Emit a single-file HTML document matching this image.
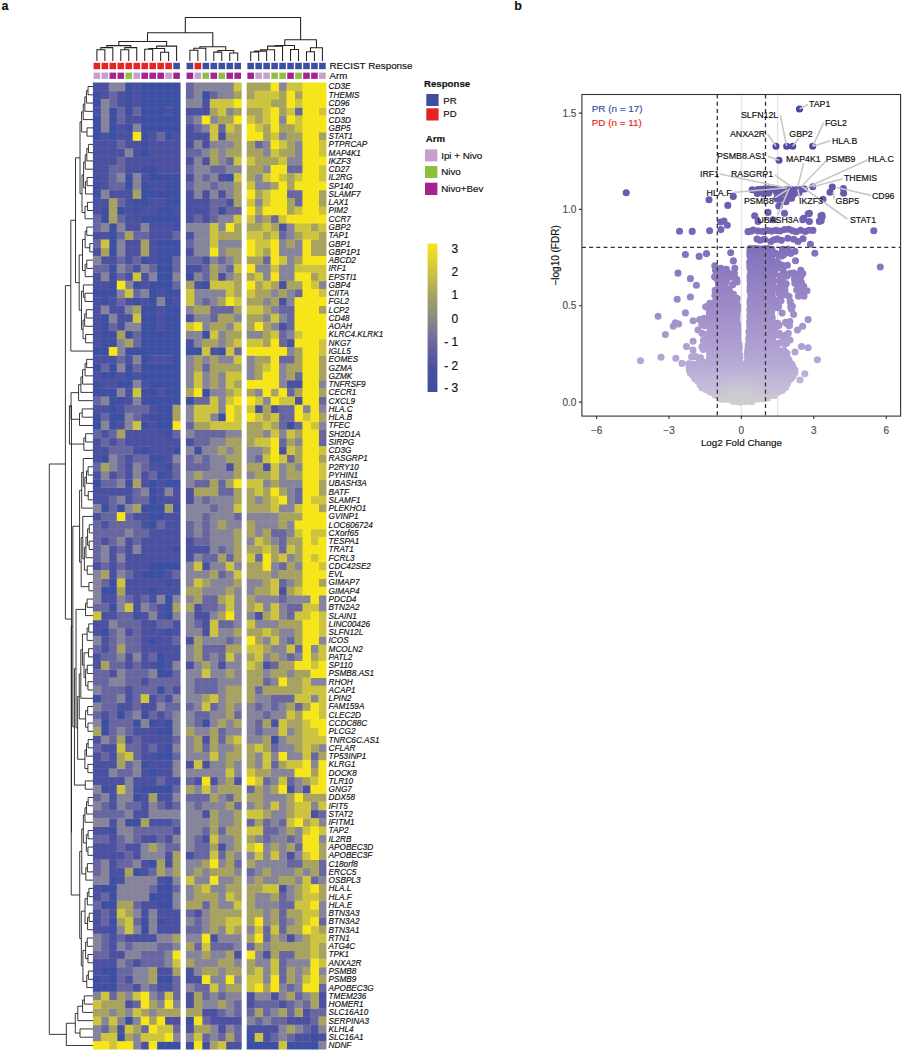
<!DOCTYPE html><html><head><meta charset="utf-8"><style>html,body{margin:0;padding:0;background:#fff}svg{display:block}text{font-family:"Liberation Sans",sans-serif}</style></head><body><svg width="904" height="1050" viewBox="0 0 904 1050"><rect width="904" height="1050" fill="#fff"/><text x="1.5" y="9.8" font-size="12.5" font-weight="bold" fill="#111" stroke="#111" stroke-width="0.16">a</text><text x="514.3" y="9.8" font-size="12.5" font-weight="bold" fill="#111" stroke="#111" stroke-width="0.16">b</text><path fill="#3d4fa2" d="M124.78 82.40h8.47v8.77h-8.47zM140.72 82.40h8.47v8.77h-8.47zM148.69 82.40h8.47v8.77h-8.47zM156.66 82.40h8.47v8.77h-8.47zM164.63 82.40h8.47v8.77h-8.47zM172.60 82.40h7.97v8.77h-7.97zM92.90 90.67h8.47v8.77h-8.47zM124.78 90.67h8.47v8.77h-8.47zM140.72 90.67h8.47v8.77h-8.47zM148.69 90.67h8.47v8.77h-8.47zM156.66 90.67h8.47v8.77h-8.47zM164.63 90.67h8.47v8.77h-8.47zM172.60 90.67h7.97v8.77h-7.97zM92.90 98.93h8.47v8.77h-8.47zM124.78 98.93h8.47v8.77h-8.47zM140.72 98.93h8.47v8.77h-8.47zM148.69 98.93h8.47v8.77h-8.47zM156.66 98.93h8.47v8.77h-8.47zM164.63 98.93h8.47v8.77h-8.47zM172.60 98.93h7.97v8.77h-7.97zM108.84 107.20h8.47v8.77h-8.47zM124.78 107.20h8.47v8.77h-8.47zM140.72 107.20h8.47v8.77h-8.47zM148.69 107.20h8.47v8.77h-8.47zM156.66 107.20h8.47v8.77h-8.47zM172.60 107.20h7.97v8.77h-7.97zM92.90 115.47h8.47v8.77h-8.47zM108.84 115.47h8.47v8.77h-8.47zM140.72 115.47h8.47v8.77h-8.47zM148.69 115.47h8.47v8.77h-8.47zM156.66 115.47h8.47v8.77h-8.47zM164.63 115.47h8.47v8.77h-8.47zM172.60 115.47h7.97v8.77h-7.97zM92.90 123.73h8.47v8.77h-8.47zM108.84 123.73h8.47v8.77h-8.47zM124.78 123.73h8.47v8.77h-8.47zM140.72 123.73h8.47v8.77h-8.47zM148.69 123.73h8.47v8.77h-8.47zM156.66 123.73h8.47v8.77h-8.47zM164.63 123.73h8.47v8.77h-8.47zM172.60 123.73h7.97v8.77h-7.97zM92.90 132.00h8.47v8.77h-8.47zM108.84 132.00h8.47v8.77h-8.47zM140.72 132.00h8.47v8.77h-8.47zM164.63 132.00h8.47v8.77h-8.47zM140.72 140.27h8.47v8.77h-8.47zM140.72 148.53h8.47v8.77h-8.47zM140.72 165.07h8.47v8.77h-8.47zM148.69 165.07h8.47v8.77h-8.47zM124.78 173.33h8.47v8.77h-8.47zM148.69 173.33h8.47v8.77h-8.47zM156.66 173.33h8.47v8.77h-8.47zM164.63 173.33h8.47v8.77h-8.47zM172.60 173.33h7.97v8.77h-7.97zM92.90 181.60h8.47v8.77h-8.47zM124.78 181.60h8.47v8.77h-8.47zM140.72 181.60h8.47v8.77h-8.47zM164.63 181.60h8.47v8.77h-8.47zM172.60 181.60h7.97v8.77h-7.97zM92.90 189.87h8.47v8.77h-8.47zM140.72 189.87h8.47v8.77h-8.47zM148.69 189.87h8.47v8.77h-8.47zM156.66 189.87h8.47v8.77h-8.47zM164.63 189.87h8.47v8.77h-8.47zM172.60 189.87h7.97v8.77h-7.97zM132.75 198.13h8.47v8.77h-8.47zM140.72 198.13h8.47v8.77h-8.47zM164.63 198.13h8.47v8.77h-8.47zM172.60 198.13h7.97v8.77h-7.97zM100.87 206.40h8.47v8.77h-8.47zM116.81 206.40h8.47v8.77h-8.47zM132.75 206.40h8.47v8.77h-8.47zM156.66 206.40h8.47v8.77h-8.47zM164.63 206.40h8.47v8.77h-8.47zM100.87 214.67h8.47v8.77h-8.47zM140.72 214.67h8.47v8.77h-8.47zM148.69 214.67h8.47v8.77h-8.47zM156.66 214.67h8.47v8.77h-8.47zM164.63 214.67h8.47v8.77h-8.47zM172.60 214.67h7.97v8.77h-7.97zM108.84 222.93h8.47v8.77h-8.47zM172.60 222.93h7.97v8.77h-7.97zM108.84 231.20h8.47v8.77h-8.47zM108.84 239.47h8.47v8.77h-8.47zM156.66 239.47h8.47v8.77h-8.47zM164.63 239.47h8.47v8.77h-8.47zM172.60 239.47h7.97v8.77h-7.97zM108.84 247.73h8.47v8.77h-8.47zM156.66 247.73h8.47v8.77h-8.47zM164.63 247.73h8.47v8.77h-8.47zM172.60 247.73h7.97v8.77h-7.97zM140.72 256.00h8.47v8.77h-8.47zM156.66 256.00h8.47v8.77h-8.47zM164.63 256.00h8.47v8.77h-8.47zM108.84 264.27h8.47v8.77h-8.47zM156.66 264.27h8.47v8.77h-8.47zM164.63 264.27h8.47v8.77h-8.47zM108.84 272.53h8.47v8.77h-8.47zM156.66 272.53h8.47v8.77h-8.47zM164.63 272.53h8.47v8.77h-8.47zM108.84 280.80h8.47v8.77h-8.47zM132.75 280.80h8.47v8.77h-8.47zM148.69 280.80h8.47v8.77h-8.47zM156.66 280.80h8.47v8.77h-8.47zM164.63 280.80h8.47v8.77h-8.47zM92.90 289.07h8.47v8.77h-8.47zM100.87 289.07h8.47v8.77h-8.47zM108.84 289.07h8.47v8.77h-8.47zM148.69 289.07h8.47v8.77h-8.47zM164.63 289.07h8.47v8.77h-8.47zM172.60 289.07h7.97v8.77h-7.97zM100.87 297.33h8.47v8.77h-8.47zM132.75 297.33h8.47v8.77h-8.47zM148.69 297.33h8.47v8.77h-8.47zM164.63 297.33h8.47v8.77h-8.47zM140.72 305.60h8.47v8.77h-8.47zM148.69 305.60h8.47v8.77h-8.47zM164.63 305.60h8.47v8.77h-8.47zM172.60 305.60h7.97v8.77h-7.97zM100.87 313.87h8.47v8.77h-8.47zM140.72 313.87h8.47v8.77h-8.47zM148.69 313.87h8.47v8.77h-8.47zM164.63 313.87h8.47v8.77h-8.47zM172.60 313.87h7.97v8.77h-7.97zM100.87 322.13h8.47v8.77h-8.47zM140.72 322.13h8.47v8.77h-8.47zM148.69 322.13h8.47v8.77h-8.47zM164.63 322.13h8.47v8.77h-8.47zM172.60 322.13h7.97v8.77h-7.97zM100.87 330.40h8.47v8.77h-8.47zM108.84 330.40h8.47v8.77h-8.47zM124.78 330.40h8.47v8.77h-8.47zM140.72 330.40h8.47v8.77h-8.47zM148.69 330.40h8.47v8.77h-8.47zM156.66 330.40h8.47v8.77h-8.47zM164.63 330.40h8.47v8.77h-8.47zM172.60 330.40h7.97v8.77h-7.97zM100.87 338.67h8.47v8.77h-8.47zM108.84 338.67h8.47v8.77h-8.47zM140.72 338.67h8.47v8.77h-8.47zM148.69 338.67h8.47v8.77h-8.47zM156.66 338.67h8.47v8.77h-8.47zM164.63 338.67h8.47v8.77h-8.47zM172.60 338.67h7.97v8.77h-7.97zM92.90 346.93h8.47v8.77h-8.47zM100.87 346.93h8.47v8.77h-8.47zM124.78 346.93h8.47v8.77h-8.47zM132.75 346.93h8.47v8.77h-8.47zM140.72 346.93h8.47v8.77h-8.47zM148.69 346.93h8.47v8.77h-8.47zM156.66 346.93h8.47v8.77h-8.47zM164.63 346.93h8.47v8.77h-8.47zM172.60 346.93h7.97v8.77h-7.97zM140.72 355.20h8.47v8.77h-8.47zM172.60 355.20h7.97v8.77h-7.97zM92.90 363.47h8.47v8.77h-8.47zM108.84 363.47h8.47v8.77h-8.47zM124.78 363.47h8.47v8.77h-8.47zM140.72 363.47h8.47v8.77h-8.47zM148.69 363.47h8.47v8.77h-8.47zM156.66 363.47h8.47v8.77h-8.47zM164.63 363.47h8.47v8.77h-8.47zM172.60 363.47h7.97v8.77h-7.97zM100.87 371.73h8.47v8.77h-8.47zM108.84 371.73h8.47v8.77h-8.47zM124.78 371.73h8.47v8.77h-8.47zM140.72 371.73h8.47v8.77h-8.47zM148.69 371.73h8.47v8.77h-8.47zM156.66 371.73h8.47v8.77h-8.47zM164.63 371.73h8.47v8.77h-8.47zM172.60 371.73h7.97v8.77h-7.97zM92.90 380.00h8.47v8.77h-8.47zM116.81 380.00h8.47v8.77h-8.47zM124.78 380.00h8.47v8.77h-8.47zM148.69 380.00h8.47v8.77h-8.47zM156.66 380.00h8.47v8.77h-8.47zM164.63 380.00h8.47v8.77h-8.47zM172.60 380.00h7.97v8.77h-7.97zM92.90 388.27h8.47v8.77h-8.47zM100.87 388.27h8.47v8.77h-8.47zM108.84 388.27h8.47v8.77h-8.47zM140.72 388.27h8.47v8.77h-8.47zM148.69 388.27h8.47v8.77h-8.47zM164.63 388.27h8.47v8.77h-8.47zM172.60 388.27h7.97v8.77h-7.97zM108.84 396.53h8.47v8.77h-8.47zM116.81 396.53h8.47v8.77h-8.47zM140.72 396.53h8.47v8.77h-8.47zM148.69 396.53h8.47v8.77h-8.47zM156.66 396.53h8.47v8.77h-8.47zM164.63 396.53h8.47v8.77h-8.47zM172.60 396.53h7.97v8.77h-7.97zM108.84 404.80h8.47v8.77h-8.47zM156.66 404.80h8.47v8.77h-8.47zM164.63 404.80h8.47v8.77h-8.47zM92.90 413.07h8.47v8.77h-8.47zM108.84 413.07h8.47v8.77h-8.47zM116.81 413.07h8.47v8.77h-8.47zM148.69 413.07h8.47v8.77h-8.47zM156.66 413.07h8.47v8.77h-8.47zM164.63 413.07h8.47v8.77h-8.47zM92.90 421.33h8.47v8.77h-8.47zM108.84 421.33h8.47v8.77h-8.47zM140.72 421.33h8.47v8.77h-8.47zM156.66 421.33h8.47v8.77h-8.47zM164.63 421.33h8.47v8.77h-8.47zM164.63 429.60h8.47v8.77h-8.47zM140.72 446.13h8.47v8.77h-8.47zM172.60 446.13h7.97v8.77h-7.97zM100.87 454.40h8.47v8.77h-8.47zM148.69 454.40h8.47v8.77h-8.47zM156.66 454.40h8.47v8.77h-8.47zM164.63 462.67h8.47v8.77h-8.47zM156.66 470.93h8.47v8.77h-8.47zM92.90 479.20h8.47v8.77h-8.47zM124.78 479.20h8.47v8.77h-8.47zM148.69 479.20h8.47v8.77h-8.47zM164.63 479.20h8.47v8.77h-8.47zM172.60 479.20h7.97v8.77h-7.97zM148.69 487.47h8.47v8.77h-8.47zM148.69 495.73h8.47v8.77h-8.47zM100.87 504.00h8.47v8.77h-8.47zM116.81 504.00h8.47v8.77h-8.47zM140.72 504.00h8.47v8.77h-8.47zM148.69 504.00h8.47v8.77h-8.47zM156.66 504.00h8.47v8.77h-8.47zM172.60 504.00h7.97v8.77h-7.97zM148.69 512.27h8.47v8.77h-8.47zM156.66 512.27h8.47v8.77h-8.47zM148.69 520.53h8.47v8.77h-8.47zM172.60 545.33h7.97v8.77h-7.97zM148.69 561.87h8.47v8.77h-8.47zM156.66 561.87h8.47v8.77h-8.47zM164.63 561.87h8.47v8.77h-8.47zM172.60 561.87h7.97v8.77h-7.97zM140.72 570.13h8.47v8.77h-8.47zM148.69 570.13h8.47v8.77h-8.47zM156.66 570.13h8.47v8.77h-8.47zM108.84 578.40h8.47v8.77h-8.47zM164.63 578.40h8.47v8.77h-8.47zM100.87 586.67h8.47v8.77h-8.47zM108.84 586.67h8.47v8.77h-8.47zM148.69 586.67h8.47v8.77h-8.47zM164.63 594.93h8.47v8.77h-8.47zM108.84 603.20h8.47v8.77h-8.47zM164.63 603.20h8.47v8.77h-8.47zM132.75 611.47h8.47v8.77h-8.47zM164.63 611.47h8.47v8.77h-8.47zM100.87 628.00h8.47v8.77h-8.47zM164.63 628.00h8.47v8.77h-8.47zM148.69 636.27h8.47v8.77h-8.47zM156.66 652.80h8.47v8.77h-8.47zM156.66 661.07h8.47v8.77h-8.47zM156.66 669.33h8.47v8.77h-8.47zM164.63 669.33h8.47v8.77h-8.47zM156.66 685.87h8.47v8.77h-8.47zM92.90 694.13h8.47v8.77h-8.47zM116.81 710.67h8.47v8.77h-8.47zM140.72 710.67h8.47v8.77h-8.47zM100.87 718.93h8.47v8.77h-8.47zM132.75 718.93h8.47v8.77h-8.47zM148.69 718.93h8.47v8.77h-8.47zM164.63 718.93h8.47v8.77h-8.47zM100.87 727.20h8.47v8.77h-8.47zM156.66 727.20h8.47v8.77h-8.47zM164.63 727.20h8.47v8.77h-8.47zM164.63 743.73h8.47v8.77h-8.47zM156.66 752.00h8.47v8.77h-8.47zM164.63 752.00h8.47v8.77h-8.47zM140.72 760.27h8.47v8.77h-8.47zM148.69 768.53h8.47v8.77h-8.47zM100.87 785.07h8.47v8.77h-8.47zM140.72 785.07h8.47v8.77h-8.47zM148.69 785.07h8.47v8.77h-8.47zM156.66 785.07h8.47v8.77h-8.47zM164.63 785.07h8.47v8.77h-8.47zM132.75 793.33h8.47v8.77h-8.47zM124.78 818.13h8.47v8.77h-8.47zM132.75 818.13h8.47v8.77h-8.47zM108.84 826.40h8.47v8.77h-8.47zM148.69 859.47h8.47v8.77h-8.47zM132.75 867.73h8.47v8.77h-8.47zM108.84 876.00h8.47v8.77h-8.47zM164.63 876.00h8.47v8.77h-8.47zM100.87 884.27h8.47v8.77h-8.47zM108.84 884.27h8.47v8.77h-8.47zM156.66 884.27h8.47v8.77h-8.47zM164.63 884.27h8.47v8.77h-8.47zM108.84 892.53h8.47v8.77h-8.47zM148.69 892.53h8.47v8.77h-8.47zM156.66 892.53h8.47v8.77h-8.47zM164.63 892.53h8.47v8.77h-8.47zM100.87 900.80h8.47v8.77h-8.47zM108.84 900.80h8.47v8.77h-8.47zM156.66 900.80h8.47v8.77h-8.47zM164.63 900.80h8.47v8.77h-8.47zM108.84 917.33h8.47v8.77h-8.47zM140.72 917.33h8.47v8.77h-8.47zM156.66 917.33h8.47v8.77h-8.47zM108.84 925.60h8.47v8.77h-8.47zM140.72 925.60h8.47v8.77h-8.47zM100.87 966.93h8.47v8.77h-8.47zM108.84 966.93h8.47v8.77h-8.47zM92.90 975.20h8.47v8.77h-8.47zM108.84 975.20h8.47v8.77h-8.47zM156.66 975.20h8.47v8.77h-8.47zM164.63 975.20h8.47v8.77h-8.47zM92.90 983.47h8.47v8.77h-8.47zM100.87 983.47h8.47v8.77h-8.47zM108.84 983.47h8.47v8.77h-8.47zM124.78 1016.53h8.47v8.77h-8.47zM116.81 1033.07h8.47v8.77h-8.47zM156.66 1041.33h8.47v8.27h-8.47zM164.63 1041.33h8.47v8.27h-8.47zM172.60 1041.33h7.97v8.27h-7.97zM201.84 90.67h8.47v8.77h-8.47zM225.75 173.33h8.47v8.77h-8.47zM217.78 206.40h8.47v8.77h-8.47zM185.90 272.53h8.47v8.77h-8.47zM201.84 280.80h8.47v8.77h-8.47zM201.84 330.40h8.47v8.77h-8.47zM185.90 346.93h8.47v8.77h-8.47zM193.87 346.93h8.47v8.77h-8.47zM217.78 346.93h8.47v8.77h-8.47zM201.84 388.27h8.47v8.77h-8.47zM185.90 396.53h8.47v8.77h-8.47zM217.78 413.07h8.47v8.77h-8.47zM193.87 446.13h8.47v8.77h-8.47zM201.84 718.93h8.47v8.77h-8.47zM185.90 1016.53h8.47v8.77h-8.47zM185.90 1041.33h8.47v8.27h-8.47zM201.84 1041.33h8.47v8.27h-8.47zM286.55 421.33h8.47v8.77h-8.47zM270.61 735.47h8.47v8.77h-8.47zM246.70 1033.07h8.47v8.77h-8.47zM310.46 1033.07h8.47v8.77h-8.47zM246.70 1041.33h8.47v8.27h-8.47zM254.67 1041.33h8.47v8.27h-8.47zM262.64 1041.33h8.47v8.27h-8.47zM270.61 1041.33h8.47v8.27h-8.47zM286.55 1041.33h8.47v8.27h-8.47zM294.52 1041.33h8.47v8.27h-8.47zM302.49 1041.33h8.47v8.27h-8.47zM310.46 1041.33h8.47v8.27h-8.47z"/><path fill="#4b50a0" d="M92.90 82.40h8.47v8.77h-8.47zM100.87 82.40h8.47v8.77h-8.47zM132.75 82.40h8.47v8.77h-8.47zM100.87 90.67h8.47v8.77h-8.47zM116.81 90.67h8.47v8.77h-8.47zM132.75 90.67h8.47v8.77h-8.47zM116.81 98.93h8.47v8.77h-8.47zM132.75 98.93h8.47v8.77h-8.47zM92.90 107.20h8.47v8.77h-8.47zM164.63 107.20h8.47v8.77h-8.47zM124.78 115.47h8.47v8.77h-8.47zM132.75 115.47h8.47v8.77h-8.47zM116.81 123.73h8.47v8.77h-8.47zM100.87 132.00h8.47v8.77h-8.47zM116.81 132.00h8.47v8.77h-8.47zM124.78 132.00h8.47v8.77h-8.47zM148.69 132.00h8.47v8.77h-8.47zM172.60 132.00h7.97v8.77h-7.97zM92.90 140.27h8.47v8.77h-8.47zM100.87 140.27h8.47v8.77h-8.47zM108.84 140.27h8.47v8.77h-8.47zM124.78 140.27h8.47v8.77h-8.47zM132.75 140.27h8.47v8.77h-8.47zM148.69 140.27h8.47v8.77h-8.47zM156.66 140.27h8.47v8.77h-8.47zM164.63 140.27h8.47v8.77h-8.47zM172.60 140.27h7.97v8.77h-7.97zM92.90 148.53h8.47v8.77h-8.47zM100.87 148.53h8.47v8.77h-8.47zM108.84 148.53h8.47v8.77h-8.47zM116.81 148.53h8.47v8.77h-8.47zM132.75 148.53h8.47v8.77h-8.47zM148.69 148.53h8.47v8.77h-8.47zM156.66 148.53h8.47v8.77h-8.47zM164.63 148.53h8.47v8.77h-8.47zM172.60 148.53h7.97v8.77h-7.97zM92.90 156.80h8.47v8.77h-8.47zM100.87 156.80h8.47v8.77h-8.47zM108.84 156.80h8.47v8.77h-8.47zM124.78 156.80h8.47v8.77h-8.47zM132.75 156.80h8.47v8.77h-8.47zM140.72 156.80h8.47v8.77h-8.47zM148.69 156.80h8.47v8.77h-8.47zM156.66 156.80h8.47v8.77h-8.47zM164.63 156.80h8.47v8.77h-8.47zM172.60 156.80h7.97v8.77h-7.97zM92.90 165.07h8.47v8.77h-8.47zM100.87 165.07h8.47v8.77h-8.47zM124.78 165.07h8.47v8.77h-8.47zM132.75 165.07h8.47v8.77h-8.47zM156.66 165.07h8.47v8.77h-8.47zM164.63 165.07h8.47v8.77h-8.47zM172.60 165.07h7.97v8.77h-7.97zM92.90 173.33h8.47v8.77h-8.47zM100.87 173.33h8.47v8.77h-8.47zM140.72 173.33h8.47v8.77h-8.47zM100.87 181.60h8.47v8.77h-8.47zM148.69 181.60h8.47v8.77h-8.47zM156.66 181.60h8.47v8.77h-8.47zM108.84 189.87h8.47v8.77h-8.47zM116.81 189.87h8.47v8.77h-8.47zM124.78 189.87h8.47v8.77h-8.47zM92.90 198.13h8.47v8.77h-8.47zM100.87 198.13h8.47v8.77h-8.47zM124.78 198.13h8.47v8.77h-8.47zM148.69 198.13h8.47v8.77h-8.47zM156.66 198.13h8.47v8.77h-8.47zM92.90 206.40h8.47v8.77h-8.47zM124.78 206.40h8.47v8.77h-8.47zM140.72 206.40h8.47v8.77h-8.47zM148.69 206.40h8.47v8.77h-8.47zM172.60 206.40h7.97v8.77h-7.97zM124.78 214.67h8.47v8.77h-8.47zM132.75 214.67h8.47v8.77h-8.47zM124.78 222.93h8.47v8.77h-8.47zM132.75 222.93h8.47v8.77h-8.47zM148.69 222.93h8.47v8.77h-8.47zM156.66 222.93h8.47v8.77h-8.47zM164.63 222.93h8.47v8.77h-8.47zM92.90 231.20h8.47v8.77h-8.47zM100.87 231.20h8.47v8.77h-8.47zM148.69 231.20h8.47v8.77h-8.47zM156.66 231.20h8.47v8.77h-8.47zM164.63 231.20h8.47v8.77h-8.47zM124.78 239.47h8.47v8.77h-8.47zM132.75 239.47h8.47v8.77h-8.47zM148.69 239.47h8.47v8.77h-8.47zM92.90 247.73h8.47v8.77h-8.47zM124.78 247.73h8.47v8.77h-8.47zM132.75 247.73h8.47v8.77h-8.47zM148.69 247.73h8.47v8.77h-8.47zM100.87 256.00h8.47v8.77h-8.47zM108.84 256.00h8.47v8.77h-8.47zM124.78 256.00h8.47v8.77h-8.47zM148.69 256.00h8.47v8.77h-8.47zM132.75 264.27h8.47v8.77h-8.47zM92.90 272.53h8.47v8.77h-8.47zM124.78 272.53h8.47v8.77h-8.47zM140.72 272.53h8.47v8.77h-8.47zM92.90 280.80h8.47v8.77h-8.47zM100.87 280.80h8.47v8.77h-8.47zM140.72 280.80h8.47v8.77h-8.47zM156.66 289.07h8.47v8.77h-8.47zM92.90 297.33h8.47v8.77h-8.47zM108.84 297.33h8.47v8.77h-8.47zM124.78 297.33h8.47v8.77h-8.47zM140.72 297.33h8.47v8.77h-8.47zM172.60 297.33h7.97v8.77h-7.97zM92.90 305.60h8.47v8.77h-8.47zM108.84 305.60h8.47v8.77h-8.47zM116.81 305.60h8.47v8.77h-8.47zM156.66 305.60h8.47v8.77h-8.47zM92.90 313.87h8.47v8.77h-8.47zM116.81 313.87h8.47v8.77h-8.47zM124.78 313.87h8.47v8.77h-8.47zM156.66 313.87h8.47v8.77h-8.47zM92.90 322.13h8.47v8.77h-8.47zM116.81 322.13h8.47v8.77h-8.47zM156.66 322.13h8.47v8.77h-8.47zM92.90 330.40h8.47v8.77h-8.47zM92.90 338.67h8.47v8.77h-8.47zM92.90 355.20h8.47v8.77h-8.47zM100.87 355.20h8.47v8.77h-8.47zM108.84 355.20h8.47v8.77h-8.47zM124.78 355.20h8.47v8.77h-8.47zM148.69 355.20h8.47v8.77h-8.47zM156.66 355.20h8.47v8.77h-8.47zM164.63 355.20h8.47v8.77h-8.47zM92.90 371.73h8.47v8.77h-8.47zM116.81 371.73h8.47v8.77h-8.47zM132.75 371.73h8.47v8.77h-8.47zM100.87 380.00h8.47v8.77h-8.47zM108.84 380.00h8.47v8.77h-8.47zM140.72 380.00h8.47v8.77h-8.47zM124.78 388.27h8.47v8.77h-8.47zM156.66 388.27h8.47v8.77h-8.47zM124.78 396.53h8.47v8.77h-8.47zM92.90 404.80h8.47v8.77h-8.47zM100.87 404.80h8.47v8.77h-8.47zM116.81 404.80h8.47v8.77h-8.47zM148.69 404.80h8.47v8.77h-8.47zM140.72 413.07h8.47v8.77h-8.47zM116.81 421.33h8.47v8.77h-8.47zM148.69 421.33h8.47v8.77h-8.47zM100.87 429.60h8.47v8.77h-8.47zM124.78 429.60h8.47v8.77h-8.47zM132.75 429.60h8.47v8.77h-8.47zM140.72 429.60h8.47v8.77h-8.47zM148.69 429.60h8.47v8.77h-8.47zM156.66 429.60h8.47v8.77h-8.47zM92.90 437.87h8.47v8.77h-8.47zM108.84 437.87h8.47v8.77h-8.47zM124.78 437.87h8.47v8.77h-8.47zM132.75 437.87h8.47v8.77h-8.47zM140.72 437.87h8.47v8.77h-8.47zM148.69 437.87h8.47v8.77h-8.47zM156.66 437.87h8.47v8.77h-8.47zM164.63 437.87h8.47v8.77h-8.47zM172.60 437.87h7.97v8.77h-7.97zM92.90 446.13h8.47v8.77h-8.47zM100.87 446.13h8.47v8.77h-8.47zM132.75 446.13h8.47v8.77h-8.47zM148.69 446.13h8.47v8.77h-8.47zM156.66 446.13h8.47v8.77h-8.47zM164.63 446.13h8.47v8.77h-8.47zM92.90 454.40h8.47v8.77h-8.47zM124.78 454.40h8.47v8.77h-8.47zM164.63 454.40h8.47v8.77h-8.47zM124.78 462.67h8.47v8.77h-8.47zM148.69 462.67h8.47v8.77h-8.47zM156.66 462.67h8.47v8.77h-8.47zM92.90 470.93h8.47v8.77h-8.47zM108.84 470.93h8.47v8.77h-8.47zM124.78 470.93h8.47v8.77h-8.47zM140.72 470.93h8.47v8.77h-8.47zM164.63 470.93h8.47v8.77h-8.47zM140.72 479.20h8.47v8.77h-8.47zM156.66 479.20h8.47v8.77h-8.47zM92.90 487.47h8.47v8.77h-8.47zM100.87 487.47h8.47v8.77h-8.47zM108.84 487.47h8.47v8.77h-8.47zM116.81 487.47h8.47v8.77h-8.47zM124.78 487.47h8.47v8.77h-8.47zM156.66 487.47h8.47v8.77h-8.47zM172.60 487.47h7.97v8.77h-7.97zM92.90 495.73h8.47v8.77h-8.47zM100.87 495.73h8.47v8.77h-8.47zM124.78 495.73h8.47v8.77h-8.47zM156.66 495.73h8.47v8.77h-8.47zM164.63 495.73h8.47v8.77h-8.47zM172.60 495.73h7.97v8.77h-7.97zM92.90 512.27h8.47v8.77h-8.47zM132.75 512.27h8.47v8.77h-8.47zM140.72 512.27h8.47v8.77h-8.47zM164.63 512.27h8.47v8.77h-8.47zM172.60 512.27h7.97v8.77h-7.97zM100.87 520.53h8.47v8.77h-8.47zM140.72 520.53h8.47v8.77h-8.47zM164.63 520.53h8.47v8.77h-8.47zM172.60 520.53h7.97v8.77h-7.97zM148.69 528.80h8.47v8.77h-8.47zM156.66 528.80h8.47v8.77h-8.47zM164.63 528.80h8.47v8.77h-8.47zM172.60 528.80h7.97v8.77h-7.97zM100.87 537.07h8.47v8.77h-8.47zM124.78 537.07h8.47v8.77h-8.47zM140.72 537.07h8.47v8.77h-8.47zM148.69 537.07h8.47v8.77h-8.47zM156.66 537.07h8.47v8.77h-8.47zM164.63 537.07h8.47v8.77h-8.47zM172.60 537.07h7.97v8.77h-7.97zM108.84 545.33h8.47v8.77h-8.47zM124.78 545.33h8.47v8.77h-8.47zM140.72 545.33h8.47v8.77h-8.47zM148.69 545.33h8.47v8.77h-8.47zM156.66 545.33h8.47v8.77h-8.47zM164.63 545.33h8.47v8.77h-8.47zM108.84 553.60h8.47v8.77h-8.47zM124.78 553.60h8.47v8.77h-8.47zM132.75 553.60h8.47v8.77h-8.47zM140.72 553.60h8.47v8.77h-8.47zM148.69 553.60h8.47v8.77h-8.47zM156.66 553.60h8.47v8.77h-8.47zM164.63 553.60h8.47v8.77h-8.47zM172.60 553.60h7.97v8.77h-7.97zM92.90 561.87h8.47v8.77h-8.47zM108.84 561.87h8.47v8.77h-8.47zM124.78 561.87h8.47v8.77h-8.47zM132.75 561.87h8.47v8.77h-8.47zM140.72 561.87h8.47v8.77h-8.47zM108.84 570.13h8.47v8.77h-8.47zM132.75 570.13h8.47v8.77h-8.47zM164.63 570.13h8.47v8.77h-8.47zM124.78 578.40h8.47v8.77h-8.47zM132.75 578.40h8.47v8.77h-8.47zM140.72 578.40h8.47v8.77h-8.47zM148.69 578.40h8.47v8.77h-8.47zM156.66 578.40h8.47v8.77h-8.47zM172.60 578.40h7.97v8.77h-7.97zM124.78 586.67h8.47v8.77h-8.47zM132.75 586.67h8.47v8.77h-8.47zM140.72 586.67h8.47v8.77h-8.47zM156.66 586.67h8.47v8.77h-8.47zM164.63 586.67h8.47v8.77h-8.47zM172.60 586.67h7.97v8.77h-7.97zM100.87 594.93h8.47v8.77h-8.47zM108.84 594.93h8.47v8.77h-8.47zM132.75 594.93h8.47v8.77h-8.47zM148.69 594.93h8.47v8.77h-8.47zM132.75 603.20h8.47v8.77h-8.47zM156.66 603.20h8.47v8.77h-8.47zM100.87 611.47h8.47v8.77h-8.47zM108.84 611.47h8.47v8.77h-8.47zM140.72 611.47h8.47v8.77h-8.47zM156.66 611.47h8.47v8.77h-8.47zM92.90 619.73h8.47v8.77h-8.47zM100.87 619.73h8.47v8.77h-8.47zM140.72 619.73h8.47v8.77h-8.47zM148.69 619.73h8.47v8.77h-8.47zM172.60 619.73h7.97v8.77h-7.97zM92.90 628.00h8.47v8.77h-8.47zM124.78 628.00h8.47v8.77h-8.47zM140.72 628.00h8.47v8.77h-8.47zM148.69 628.00h8.47v8.77h-8.47zM156.66 628.00h8.47v8.77h-8.47zM172.60 628.00h7.97v8.77h-7.97zM100.87 636.27h8.47v8.77h-8.47zM140.72 636.27h8.47v8.77h-8.47zM156.66 636.27h8.47v8.77h-8.47zM164.63 636.27h8.47v8.77h-8.47zM100.87 644.53h8.47v8.77h-8.47zM140.72 644.53h8.47v8.77h-8.47zM148.69 644.53h8.47v8.77h-8.47zM156.66 644.53h8.47v8.77h-8.47zM164.63 644.53h8.47v8.77h-8.47zM172.60 644.53h7.97v8.77h-7.97zM92.90 652.80h8.47v8.77h-8.47zM124.78 652.80h8.47v8.77h-8.47zM140.72 652.80h8.47v8.77h-8.47zM164.63 652.80h8.47v8.77h-8.47zM172.60 652.80h7.97v8.77h-7.97zM92.90 661.07h8.47v8.77h-8.47zM124.78 661.07h8.47v8.77h-8.47zM140.72 661.07h8.47v8.77h-8.47zM148.69 661.07h8.47v8.77h-8.47zM164.63 661.07h8.47v8.77h-8.47zM108.84 669.33h8.47v8.77h-8.47zM140.72 677.60h8.47v8.77h-8.47zM124.78 685.87h8.47v8.77h-8.47zM172.60 685.87h7.97v8.77h-7.97zM124.78 694.13h8.47v8.77h-8.47zM148.69 694.13h8.47v8.77h-8.47zM164.63 694.13h8.47v8.77h-8.47zM116.81 702.40h8.47v8.77h-8.47zM124.78 702.40h8.47v8.77h-8.47zM140.72 702.40h8.47v8.77h-8.47zM148.69 702.40h8.47v8.77h-8.47zM100.87 710.67h8.47v8.77h-8.47zM156.66 710.67h8.47v8.77h-8.47zM156.66 718.93h8.47v8.77h-8.47zM132.75 727.20h8.47v8.77h-8.47zM140.72 727.20h8.47v8.77h-8.47zM148.69 727.20h8.47v8.77h-8.47zM92.90 735.47h8.47v8.77h-8.47zM124.78 735.47h8.47v8.77h-8.47zM140.72 735.47h8.47v8.77h-8.47zM148.69 735.47h8.47v8.77h-8.47zM156.66 735.47h8.47v8.77h-8.47zM164.63 735.47h8.47v8.77h-8.47zM100.87 743.73h8.47v8.77h-8.47zM108.84 743.73h8.47v8.77h-8.47zM140.72 743.73h8.47v8.77h-8.47zM156.66 743.73h8.47v8.77h-8.47zM92.90 752.00h8.47v8.77h-8.47zM108.84 752.00h8.47v8.77h-8.47zM140.72 752.00h8.47v8.77h-8.47zM148.69 752.00h8.47v8.77h-8.47zM92.90 760.27h8.47v8.77h-8.47zM100.87 760.27h8.47v8.77h-8.47zM108.84 760.27h8.47v8.77h-8.47zM148.69 760.27h8.47v8.77h-8.47zM156.66 760.27h8.47v8.77h-8.47zM164.63 760.27h8.47v8.77h-8.47zM92.90 768.53h8.47v8.77h-8.47zM100.87 768.53h8.47v8.77h-8.47zM140.72 768.53h8.47v8.77h-8.47zM156.66 768.53h8.47v8.77h-8.47zM164.63 768.53h8.47v8.77h-8.47zM92.90 776.80h8.47v8.77h-8.47zM100.87 776.80h8.47v8.77h-8.47zM108.84 776.80h8.47v8.77h-8.47zM116.81 776.80h8.47v8.77h-8.47zM132.75 776.80h8.47v8.77h-8.47zM140.72 776.80h8.47v8.77h-8.47zM148.69 776.80h8.47v8.77h-8.47zM164.63 776.80h8.47v8.77h-8.47zM172.60 776.80h7.97v8.77h-7.97zM108.84 785.07h8.47v8.77h-8.47zM132.75 785.07h8.47v8.77h-8.47zM108.84 793.33h8.47v8.77h-8.47zM140.72 793.33h8.47v8.77h-8.47zM156.66 793.33h8.47v8.77h-8.47zM164.63 793.33h8.47v8.77h-8.47zM108.84 801.60h8.47v8.77h-8.47zM140.72 801.60h8.47v8.77h-8.47zM164.63 801.60h8.47v8.77h-8.47zM132.75 809.87h8.47v8.77h-8.47zM140.72 809.87h8.47v8.77h-8.47zM108.84 818.13h8.47v8.77h-8.47zM148.69 818.13h8.47v8.77h-8.47zM156.66 818.13h8.47v8.77h-8.47zM164.63 818.13h8.47v8.77h-8.47zM92.90 826.40h8.47v8.77h-8.47zM100.87 826.40h8.47v8.77h-8.47zM172.60 826.40h7.97v8.77h-7.97zM108.84 834.67h8.47v8.77h-8.47zM140.72 834.67h8.47v8.77h-8.47zM148.69 834.67h8.47v8.77h-8.47zM164.63 834.67h8.47v8.77h-8.47zM92.90 842.93h8.47v8.77h-8.47zM100.87 842.93h8.47v8.77h-8.47zM108.84 842.93h8.47v8.77h-8.47zM124.78 842.93h8.47v8.77h-8.47zM132.75 842.93h8.47v8.77h-8.47zM92.90 851.20h8.47v8.77h-8.47zM100.87 851.20h8.47v8.77h-8.47zM108.84 851.20h8.47v8.77h-8.47zM116.81 851.20h8.47v8.77h-8.47zM132.75 851.20h8.47v8.77h-8.47zM164.63 851.20h8.47v8.77h-8.47zM108.84 859.47h8.47v8.77h-8.47zM140.72 859.47h8.47v8.77h-8.47zM164.63 859.47h8.47v8.77h-8.47zM108.84 867.73h8.47v8.77h-8.47zM116.81 867.73h8.47v8.77h-8.47zM140.72 867.73h8.47v8.77h-8.47zM116.81 876.00h8.47v8.77h-8.47zM156.66 876.00h8.47v8.77h-8.47zM92.90 884.27h8.47v8.77h-8.47zM92.90 892.53h8.47v8.77h-8.47zM140.72 900.80h8.47v8.77h-8.47zM148.69 900.80h8.47v8.77h-8.47zM92.90 909.07h8.47v8.77h-8.47zM108.84 909.07h8.47v8.77h-8.47zM140.72 909.07h8.47v8.77h-8.47zM156.66 909.07h8.47v8.77h-8.47zM164.63 909.07h8.47v8.77h-8.47zM172.60 909.07h7.97v8.77h-7.97zM92.90 917.33h8.47v8.77h-8.47zM164.63 917.33h8.47v8.77h-8.47zM172.60 917.33h7.97v8.77h-7.97zM92.90 925.60h8.47v8.77h-8.47zM100.87 925.60h8.47v8.77h-8.47zM156.66 925.60h8.47v8.77h-8.47zM164.63 925.60h8.47v8.77h-8.47zM172.60 925.60h7.97v8.77h-7.97zM108.84 933.87h8.47v8.77h-8.47zM124.78 933.87h8.47v8.77h-8.47zM132.75 933.87h8.47v8.77h-8.47zM140.72 933.87h8.47v8.77h-8.47zM148.69 933.87h8.47v8.77h-8.47zM108.84 942.13h8.47v8.77h-8.47zM108.84 950.40h8.47v8.77h-8.47zM116.81 950.40h8.47v8.77h-8.47zM92.90 958.67h8.47v8.77h-8.47zM100.87 958.67h8.47v8.77h-8.47zM108.84 958.67h8.47v8.77h-8.47zM132.75 958.67h8.47v8.77h-8.47zM92.90 966.93h8.47v8.77h-8.47zM156.66 966.93h8.47v8.77h-8.47zM164.63 966.93h8.47v8.77h-8.47zM100.87 975.20h8.47v8.77h-8.47zM124.78 975.20h8.47v8.77h-8.47zM132.75 983.47h8.47v8.77h-8.47zM156.66 983.47h8.47v8.77h-8.47zM164.63 983.47h8.47v8.77h-8.47zM124.78 1000.00h8.47v8.77h-8.47zM164.63 1016.53h8.47v8.77h-8.47zM172.60 1016.53h7.97v8.77h-7.97zM116.81 1024.80h8.47v8.77h-8.47zM140.72 1041.33h8.47v8.27h-8.47zM201.84 98.93h8.47v8.77h-8.47zM185.90 107.20h8.47v8.77h-8.47zM193.87 107.20h8.47v8.77h-8.47zM201.84 107.20h8.47v8.77h-8.47zM185.90 123.73h8.47v8.77h-8.47zM185.90 132.00h8.47v8.77h-8.47zM193.87 132.00h8.47v8.77h-8.47zM201.84 132.00h8.47v8.77h-8.47zM217.78 132.00h8.47v8.77h-8.47zM185.90 140.27h8.47v8.77h-8.47zM201.84 140.27h8.47v8.77h-8.47zM185.90 156.80h8.47v8.77h-8.47zM201.84 156.80h8.47v8.77h-8.47zM185.90 173.33h8.47v8.77h-8.47zM217.78 173.33h8.47v8.77h-8.47zM185.90 189.87h8.47v8.77h-8.47zM201.84 189.87h8.47v8.77h-8.47zM217.78 189.87h8.47v8.77h-8.47zM185.90 198.13h8.47v8.77h-8.47zM193.87 198.13h8.47v8.77h-8.47zM201.84 198.13h8.47v8.77h-8.47zM225.75 198.13h8.47v8.77h-8.47zM185.90 206.40h8.47v8.77h-8.47zM193.87 206.40h8.47v8.77h-8.47zM201.84 206.40h8.47v8.77h-8.47zM185.90 214.67h8.47v8.77h-8.47zM201.84 214.67h8.47v8.77h-8.47zM185.90 231.20h8.47v8.77h-8.47zM185.90 247.73h8.47v8.77h-8.47zM201.84 256.00h8.47v8.77h-8.47zM185.90 264.27h8.47v8.77h-8.47zM193.87 264.27h8.47v8.77h-8.47zM217.78 272.53h8.47v8.77h-8.47zM193.87 280.80h8.47v8.77h-8.47zM185.90 313.87h8.47v8.77h-8.47zM185.90 338.67h8.47v8.77h-8.47zM209.81 346.93h8.47v8.77h-8.47zM185.90 437.87h8.47v8.77h-8.47zM225.75 462.67h8.47v8.77h-8.47zM185.90 487.47h8.47v8.77h-8.47zM185.90 495.73h8.47v8.77h-8.47zM185.90 537.07h8.47v8.77h-8.47zM185.90 545.33h8.47v8.77h-8.47zM193.87 545.33h8.47v8.77h-8.47zM201.84 545.33h8.47v8.77h-8.47zM185.90 553.60h8.47v8.77h-8.47zM201.84 561.87h8.47v8.77h-8.47zM193.87 603.20h8.47v8.77h-8.47zM193.87 611.47h8.47v8.77h-8.47zM201.84 611.47h8.47v8.77h-8.47zM201.84 619.73h8.47v8.77h-8.47zM201.84 628.00h8.47v8.77h-8.47zM185.90 636.27h8.47v8.77h-8.47zM185.90 661.07h8.47v8.77h-8.47zM217.78 661.07h8.47v8.77h-8.47zM201.84 735.47h8.47v8.77h-8.47zM185.90 760.27h8.47v8.77h-8.47zM201.84 760.27h8.47v8.77h-8.47zM193.87 776.80h8.47v8.77h-8.47zM209.81 776.80h8.47v8.77h-8.47zM233.72 776.80h7.97v8.77h-7.97zM201.84 809.87h8.47v8.77h-8.47zM201.84 834.67h8.47v8.77h-8.47zM217.78 842.93h8.47v8.77h-8.47zM185.90 851.20h8.47v8.77h-8.47zM193.87 909.07h8.47v8.77h-8.47zM209.81 933.87h8.47v8.77h-8.47zM233.72 950.40h7.97v8.77h-7.97zM185.90 966.93h8.47v8.77h-8.47zM185.90 975.20h8.47v8.77h-8.47zM193.87 975.20h8.47v8.77h-8.47zM185.90 991.73h8.47v8.77h-8.47zM185.90 1000.00h8.47v8.77h-8.47zM201.84 1008.27h8.47v8.77h-8.47zM209.81 1008.27h8.47v8.77h-8.47zM209.81 1016.53h8.47v8.77h-8.47zM217.78 1016.53h8.47v8.77h-8.47zM225.75 1016.53h8.47v8.77h-8.47zM233.72 1016.53h7.97v8.77h-7.97zM185.90 1024.80h8.47v8.77h-8.47zM217.78 1024.80h8.47v8.77h-8.47zM225.75 1041.33h8.47v8.27h-8.47zM233.72 1041.33h7.97v8.27h-7.97zM278.58 222.93h8.47v8.77h-8.47zM278.58 280.80h8.47v8.77h-8.47zM278.58 297.33h8.47v8.77h-8.47zM278.58 322.13h8.47v8.77h-8.47zM286.55 338.67h8.47v8.77h-8.47zM286.55 380.00h8.47v8.77h-8.47zM294.52 380.00h8.47v8.77h-8.47zM294.52 396.53h8.47v8.77h-8.47zM254.67 404.80h8.47v8.77h-8.47zM270.61 404.80h8.47v8.77h-8.47zM278.58 446.13h8.47v8.77h-8.47zM262.64 462.67h8.47v8.77h-8.47zM278.58 586.67h8.47v8.77h-8.47zM254.67 611.47h8.47v8.77h-8.47zM262.64 661.07h8.47v8.77h-8.47zM270.61 718.93h8.47v8.77h-8.47zM286.55 785.07h8.47v8.77h-8.47zM302.49 785.07h8.47v8.77h-8.47zM310.46 809.87h8.47v8.77h-8.47zM286.55 851.20h8.47v8.77h-8.47zM278.58 884.27h8.47v8.77h-8.47zM286.55 933.87h8.47v8.77h-8.47zM262.64 950.40h8.47v8.77h-8.47zM246.70 991.73h8.47v8.77h-8.47zM270.61 991.73h8.47v8.77h-8.47zM318.43 991.73h7.97v8.77h-7.97zM246.70 1000.00h8.47v8.77h-8.47zM278.58 1000.00h8.47v8.77h-8.47zM318.43 1000.00h7.97v8.77h-7.97zM302.49 1008.27h8.47v8.77h-8.47zM286.55 1016.53h8.47v8.77h-8.47zM294.52 1016.53h8.47v8.77h-8.47zM302.49 1016.53h8.47v8.77h-8.47zM246.70 1024.80h8.47v8.77h-8.47zM254.67 1024.80h8.47v8.77h-8.47zM262.64 1024.80h8.47v8.77h-8.47zM270.61 1024.80h8.47v8.77h-8.47zM310.46 1024.80h8.47v8.77h-8.47zM262.64 1033.07h8.47v8.77h-8.47zM294.52 1033.07h8.47v8.77h-8.47zM302.49 1033.07h8.47v8.77h-8.47zM318.43 1033.07h7.97v8.77h-7.97z"/><path fill="#6866a0" d="M108.84 90.67h8.47v8.77h-8.47zM108.84 98.93h8.47v8.77h-8.47zM116.81 107.20h8.47v8.77h-8.47zM132.75 107.20h8.47v8.77h-8.47zM116.81 115.47h8.47v8.77h-8.47zM156.66 132.00h8.47v8.77h-8.47zM116.81 140.27h8.47v8.77h-8.47zM116.81 156.80h8.47v8.77h-8.47zM108.84 165.07h8.47v8.77h-8.47zM116.81 165.07h8.47v8.77h-8.47zM108.84 173.33h8.47v8.77h-8.47zM108.84 181.60h8.47v8.77h-8.47zM116.81 181.60h8.47v8.77h-8.47zM116.81 198.13h8.47v8.77h-8.47zM92.90 214.67h8.47v8.77h-8.47zM116.81 214.67h8.47v8.77h-8.47zM92.90 222.93h8.47v8.77h-8.47zM116.81 231.20h8.47v8.77h-8.47zM132.75 231.20h8.47v8.77h-8.47zM140.72 231.20h8.47v8.77h-8.47zM172.60 231.20h7.97v8.77h-7.97zM92.90 239.47h8.47v8.77h-8.47zM116.81 256.00h8.47v8.77h-8.47zM132.75 256.00h8.47v8.77h-8.47zM172.60 256.00h7.97v8.77h-7.97zM92.90 264.27h8.47v8.77h-8.47zM100.87 264.27h8.47v8.77h-8.47zM124.78 264.27h8.47v8.77h-8.47zM148.69 264.27h8.47v8.77h-8.47zM172.60 264.27h7.97v8.77h-7.97zM116.81 272.53h8.47v8.77h-8.47zM172.60 280.80h7.97v8.77h-7.97zM132.75 289.07h8.47v8.77h-8.47zM116.81 297.33h8.47v8.77h-8.47zM108.84 322.13h8.47v8.77h-8.47zM132.75 330.40h8.47v8.77h-8.47zM132.75 338.67h8.47v8.77h-8.47zM116.81 355.20h8.47v8.77h-8.47zM100.87 363.47h8.47v8.77h-8.47zM132.75 363.47h8.47v8.77h-8.47zM92.90 396.53h8.47v8.77h-8.47zM124.78 404.80h8.47v8.77h-8.47zM132.75 404.80h8.47v8.77h-8.47zM140.72 404.80h8.47v8.77h-8.47zM100.87 413.07h8.47v8.77h-8.47zM132.75 413.07h8.47v8.77h-8.47zM92.90 429.60h8.47v8.77h-8.47zM108.84 429.60h8.47v8.77h-8.47zM172.60 429.60h7.97v8.77h-7.97zM100.87 437.87h8.47v8.77h-8.47zM116.81 437.87h8.47v8.77h-8.47zM108.84 446.13h8.47v8.77h-8.47zM116.81 446.13h8.47v8.77h-8.47zM124.78 446.13h8.47v8.77h-8.47zM116.81 454.40h8.47v8.77h-8.47zM132.75 454.40h8.47v8.77h-8.47zM140.72 454.40h8.47v8.77h-8.47zM92.90 462.67h8.47v8.77h-8.47zM116.81 462.67h8.47v8.77h-8.47zM140.72 462.67h8.47v8.77h-8.47zM172.60 462.67h7.97v8.77h-7.97zM116.81 470.93h8.47v8.77h-8.47zM148.69 470.93h8.47v8.77h-8.47zM172.60 470.93h7.97v8.77h-7.97zM100.87 479.20h8.47v8.77h-8.47zM108.84 479.20h8.47v8.77h-8.47zM132.75 487.47h8.47v8.77h-8.47zM108.84 495.73h8.47v8.77h-8.47zM132.75 495.73h8.47v8.77h-8.47zM140.72 495.73h8.47v8.77h-8.47zM108.84 504.00h8.47v8.77h-8.47zM100.87 512.27h8.47v8.77h-8.47zM108.84 512.27h8.47v8.77h-8.47zM124.78 512.27h8.47v8.77h-8.47zM92.90 520.53h8.47v8.77h-8.47zM108.84 520.53h8.47v8.77h-8.47zM116.81 520.53h8.47v8.77h-8.47zM124.78 520.53h8.47v8.77h-8.47zM132.75 520.53h8.47v8.77h-8.47zM156.66 520.53h8.47v8.77h-8.47zM92.90 528.80h8.47v8.77h-8.47zM100.87 528.80h8.47v8.77h-8.47zM108.84 528.80h8.47v8.77h-8.47zM116.81 528.80h8.47v8.77h-8.47zM132.75 528.80h8.47v8.77h-8.47zM140.72 528.80h8.47v8.77h-8.47zM92.90 537.07h8.47v8.77h-8.47zM108.84 537.07h8.47v8.77h-8.47zM132.75 537.07h8.47v8.77h-8.47zM92.90 545.33h8.47v8.77h-8.47zM116.81 545.33h8.47v8.77h-8.47zM92.90 553.60h8.47v8.77h-8.47zM100.87 561.87h8.47v8.77h-8.47zM116.81 561.87h8.47v8.77h-8.47zM124.78 570.13h8.47v8.77h-8.47zM172.60 570.13h7.97v8.77h-7.97zM100.87 578.40h8.47v8.77h-8.47zM124.78 594.93h8.47v8.77h-8.47zM140.72 594.93h8.47v8.77h-8.47zM92.90 603.20h8.47v8.77h-8.47zM100.87 603.20h8.47v8.77h-8.47zM148.69 603.20h8.47v8.77h-8.47zM116.81 611.47h8.47v8.77h-8.47zM124.78 611.47h8.47v8.77h-8.47zM116.81 619.73h8.47v8.77h-8.47zM124.78 619.73h8.47v8.77h-8.47zM132.75 619.73h8.47v8.77h-8.47zM156.66 619.73h8.47v8.77h-8.47zM164.63 619.73h8.47v8.77h-8.47zM108.84 628.00h8.47v8.77h-8.47zM132.75 628.00h8.47v8.77h-8.47zM108.84 636.27h8.47v8.77h-8.47zM124.78 636.27h8.47v8.77h-8.47zM132.75 636.27h8.47v8.77h-8.47zM172.60 636.27h7.97v8.77h-7.97zM92.90 644.53h8.47v8.77h-8.47zM108.84 644.53h8.47v8.77h-8.47zM124.78 644.53h8.47v8.77h-8.47zM132.75 644.53h8.47v8.77h-8.47zM100.87 652.80h8.47v8.77h-8.47zM108.84 652.80h8.47v8.77h-8.47zM148.69 652.80h8.47v8.77h-8.47zM108.84 661.07h8.47v8.77h-8.47zM116.81 661.07h8.47v8.77h-8.47zM132.75 661.07h8.47v8.77h-8.47zM92.90 669.33h8.47v8.77h-8.47zM100.87 669.33h8.47v8.77h-8.47zM124.78 669.33h8.47v8.77h-8.47zM132.75 669.33h8.47v8.77h-8.47zM140.72 669.33h8.47v8.77h-8.47zM172.60 669.33h7.97v8.77h-7.97zM92.90 677.60h8.47v8.77h-8.47zM100.87 677.60h8.47v8.77h-8.47zM124.78 677.60h8.47v8.77h-8.47zM132.75 677.60h8.47v8.77h-8.47zM148.69 677.60h8.47v8.77h-8.47zM156.66 677.60h8.47v8.77h-8.47zM164.63 677.60h8.47v8.77h-8.47zM172.60 677.60h7.97v8.77h-7.97zM100.87 685.87h8.47v8.77h-8.47zM108.84 685.87h8.47v8.77h-8.47zM116.81 685.87h8.47v8.77h-8.47zM132.75 685.87h8.47v8.77h-8.47zM140.72 685.87h8.47v8.77h-8.47zM148.69 685.87h8.47v8.77h-8.47zM164.63 685.87h8.47v8.77h-8.47zM100.87 694.13h8.47v8.77h-8.47zM108.84 694.13h8.47v8.77h-8.47zM132.75 694.13h8.47v8.77h-8.47zM156.66 694.13h8.47v8.77h-8.47zM100.87 702.40h8.47v8.77h-8.47zM108.84 702.40h8.47v8.77h-8.47zM132.75 702.40h8.47v8.77h-8.47zM164.63 702.40h8.47v8.77h-8.47zM172.60 702.40h7.97v8.77h-7.97zM92.90 710.67h8.47v8.77h-8.47zM108.84 710.67h8.47v8.77h-8.47zM124.78 710.67h8.47v8.77h-8.47zM148.69 710.67h8.47v8.77h-8.47zM164.63 710.67h8.47v8.77h-8.47zM108.84 718.93h8.47v8.77h-8.47zM116.81 718.93h8.47v8.77h-8.47zM124.78 718.93h8.47v8.77h-8.47zM108.84 727.20h8.47v8.77h-8.47zM124.78 727.20h8.47v8.77h-8.47zM108.84 735.47h8.47v8.77h-8.47zM132.75 735.47h8.47v8.77h-8.47zM172.60 735.47h7.97v8.77h-7.97zM92.90 743.73h8.47v8.77h-8.47zM124.78 743.73h8.47v8.77h-8.47zM132.75 743.73h8.47v8.77h-8.47zM148.69 743.73h8.47v8.77h-8.47zM100.87 752.00h8.47v8.77h-8.47zM132.75 752.00h8.47v8.77h-8.47zM172.60 752.00h7.97v8.77h-7.97zM124.78 760.27h8.47v8.77h-8.47zM116.81 768.53h8.47v8.77h-8.47zM124.78 768.53h8.47v8.77h-8.47zM156.66 776.80h8.47v8.77h-8.47zM172.60 785.07h7.97v8.77h-7.97zM92.90 793.33h8.47v8.77h-8.47zM100.87 801.60h8.47v8.77h-8.47zM124.78 801.60h8.47v8.77h-8.47zM132.75 801.60h8.47v8.77h-8.47zM156.66 801.60h8.47v8.77h-8.47zM172.60 801.60h7.97v8.77h-7.97zM92.90 809.87h8.47v8.77h-8.47zM100.87 809.87h8.47v8.77h-8.47zM108.84 809.87h8.47v8.77h-8.47zM116.81 809.87h8.47v8.77h-8.47zM172.60 818.13h7.97v8.77h-7.97zM132.75 826.40h8.47v8.77h-8.47zM140.72 826.40h8.47v8.77h-8.47zM148.69 826.40h8.47v8.77h-8.47zM156.66 826.40h8.47v8.77h-8.47zM164.63 826.40h8.47v8.77h-8.47zM92.90 834.67h8.47v8.77h-8.47zM100.87 834.67h8.47v8.77h-8.47zM116.81 834.67h8.47v8.77h-8.47zM132.75 834.67h8.47v8.77h-8.47zM156.66 834.67h8.47v8.77h-8.47zM116.81 842.93h8.47v8.77h-8.47zM164.63 842.93h8.47v8.77h-8.47zM172.60 842.93h7.97v8.77h-7.97zM124.78 851.20h8.47v8.77h-8.47zM92.90 859.47h8.47v8.77h-8.47zM116.81 859.47h8.47v8.77h-8.47zM124.78 859.47h8.47v8.77h-8.47zM92.90 867.73h8.47v8.77h-8.47zM148.69 867.73h8.47v8.77h-8.47zM148.69 884.27h8.47v8.77h-8.47zM172.60 884.27h7.97v8.77h-7.97zM100.87 892.53h8.47v8.77h-8.47zM92.90 900.80h8.47v8.77h-8.47zM132.75 900.80h8.47v8.77h-8.47zM100.87 909.07h8.47v8.77h-8.47zM100.87 917.33h8.47v8.77h-8.47zM132.75 917.33h8.47v8.77h-8.47zM100.87 933.87h8.47v8.77h-8.47zM116.81 933.87h8.47v8.77h-8.47zM100.87 942.13h8.47v8.77h-8.47zM124.78 942.13h8.47v8.77h-8.47zM156.66 942.13h8.47v8.77h-8.47zM164.63 942.13h8.47v8.77h-8.47zM92.90 950.40h8.47v8.77h-8.47zM100.87 950.40h8.47v8.77h-8.47zM140.72 950.40h8.47v8.77h-8.47zM148.69 950.40h8.47v8.77h-8.47zM156.66 950.40h8.47v8.77h-8.47zM124.78 958.67h8.47v8.77h-8.47zM140.72 958.67h8.47v8.77h-8.47zM148.69 958.67h8.47v8.77h-8.47zM156.66 958.67h8.47v8.77h-8.47zM116.81 966.93h8.47v8.77h-8.47zM124.78 966.93h8.47v8.77h-8.47zM116.81 975.20h8.47v8.77h-8.47zM172.60 975.20h7.97v8.77h-7.97zM116.81 983.47h8.47v8.77h-8.47zM124.78 983.47h8.47v8.77h-8.47zM148.69 983.47h8.47v8.77h-8.47zM172.60 983.47h7.97v8.77h-7.97zM108.84 991.73h8.47v8.77h-8.47zM156.66 991.73h8.47v8.77h-8.47zM172.60 991.73h7.97v8.77h-7.97zM132.75 1000.00h8.47v8.77h-8.47zM100.87 1024.80h8.47v8.77h-8.47zM140.72 1024.80h8.47v8.77h-8.47zM172.60 1024.80h7.97v8.77h-7.97zM185.90 82.40h8.47v8.77h-8.47zM185.90 90.67h8.47v8.77h-8.47zM209.81 90.67h8.47v8.77h-8.47zM185.90 115.47h8.47v8.77h-8.47zM193.87 123.73h8.47v8.77h-8.47zM217.78 123.73h8.47v8.77h-8.47zM185.90 148.53h8.47v8.77h-8.47zM193.87 148.53h8.47v8.77h-8.47zM225.75 156.80h8.47v8.77h-8.47zM185.90 165.07h8.47v8.77h-8.47zM209.81 165.07h8.47v8.77h-8.47zM217.78 165.07h8.47v8.77h-8.47zM201.84 173.33h8.47v8.77h-8.47zM185.90 181.60h8.47v8.77h-8.47zM209.81 181.60h8.47v8.77h-8.47zM209.81 198.13h8.47v8.77h-8.47zM217.78 198.13h8.47v8.77h-8.47zM209.81 206.40h8.47v8.77h-8.47zM225.75 206.40h8.47v8.77h-8.47zM233.72 206.40h7.97v8.77h-7.97zM193.87 214.67h8.47v8.77h-8.47zM209.81 214.67h8.47v8.77h-8.47zM185.90 239.47h8.47v8.77h-8.47zM185.90 256.00h8.47v8.77h-8.47zM193.87 256.00h8.47v8.77h-8.47zM217.78 256.00h8.47v8.77h-8.47zM201.84 264.27h8.47v8.77h-8.47zM225.75 264.27h8.47v8.77h-8.47zM201.84 272.53h8.47v8.77h-8.47zM201.84 297.33h8.47v8.77h-8.47zM209.81 305.60h8.47v8.77h-8.47zM217.78 305.60h8.47v8.77h-8.47zM225.75 305.60h8.47v8.77h-8.47zM209.81 313.87h8.47v8.77h-8.47zM233.72 346.93h7.97v8.77h-7.97zM201.84 363.47h8.47v8.77h-8.47zM193.87 396.53h8.47v8.77h-8.47zM201.84 396.53h8.47v8.77h-8.47zM185.90 421.33h8.47v8.77h-8.47zM193.87 429.60h8.47v8.77h-8.47zM201.84 429.60h8.47v8.77h-8.47zM209.81 429.60h8.47v8.77h-8.47zM217.78 429.60h8.47v8.77h-8.47zM193.87 437.87h8.47v8.77h-8.47zM201.84 437.87h8.47v8.77h-8.47zM185.90 454.40h8.47v8.77h-8.47zM201.84 454.40h8.47v8.77h-8.47zM185.90 462.67h8.47v8.77h-8.47zM193.87 462.67h8.47v8.77h-8.47zM201.84 462.67h8.47v8.77h-8.47zM193.87 479.20h8.47v8.77h-8.47zM201.84 479.20h8.47v8.77h-8.47zM217.78 479.20h8.47v8.77h-8.47zM217.78 487.47h8.47v8.77h-8.47zM225.75 487.47h8.47v8.77h-8.47zM201.84 495.73h8.47v8.77h-8.47zM209.81 504.00h8.47v8.77h-8.47zM201.84 512.27h8.47v8.77h-8.47zM233.72 512.27h7.97v8.77h-7.97zM185.90 520.53h8.47v8.77h-8.47zM201.84 520.53h8.47v8.77h-8.47zM185.90 528.80h8.47v8.77h-8.47zM201.84 528.80h8.47v8.77h-8.47zM193.87 537.07h8.47v8.77h-8.47zM201.84 537.07h8.47v8.77h-8.47zM217.78 545.33h8.47v8.77h-8.47zM201.84 553.60h8.47v8.77h-8.47zM209.81 553.60h8.47v8.77h-8.47zM225.75 553.60h8.47v8.77h-8.47zM217.78 570.13h8.47v8.77h-8.47zM201.84 594.93h8.47v8.77h-8.47zM209.81 594.93h8.47v8.77h-8.47zM201.84 603.20h8.47v8.77h-8.47zM209.81 603.20h8.47v8.77h-8.47zM193.87 619.73h8.47v8.77h-8.47zM217.78 619.73h8.47v8.77h-8.47zM225.75 619.73h8.47v8.77h-8.47zM225.75 636.27h8.47v8.77h-8.47zM201.84 644.53h8.47v8.77h-8.47zM209.81 644.53h8.47v8.77h-8.47zM217.78 644.53h8.47v8.77h-8.47zM201.84 652.80h8.47v8.77h-8.47zM217.78 652.80h8.47v8.77h-8.47zM193.87 677.60h8.47v8.77h-8.47zM201.84 677.60h8.47v8.77h-8.47zM209.81 677.60h8.47v8.77h-8.47zM193.87 685.87h8.47v8.77h-8.47zM201.84 685.87h8.47v8.77h-8.47zM209.81 685.87h8.47v8.77h-8.47zM185.90 702.40h8.47v8.77h-8.47zM209.81 702.40h8.47v8.77h-8.47zM193.87 710.67h8.47v8.77h-8.47zM201.84 710.67h8.47v8.77h-8.47zM233.72 710.67h7.97v8.77h-7.97zM193.87 718.93h8.47v8.77h-8.47zM217.78 727.20h8.47v8.77h-8.47zM217.78 735.47h8.47v8.77h-8.47zM201.84 743.73h8.47v8.77h-8.47zM185.90 776.80h8.47v8.77h-8.47zM185.90 793.33h8.47v8.77h-8.47zM193.87 793.33h8.47v8.77h-8.47zM201.84 793.33h8.47v8.77h-8.47zM225.75 793.33h8.47v8.77h-8.47zM193.87 801.60h8.47v8.77h-8.47zM233.72 801.60h7.97v8.77h-7.97zM201.84 826.40h8.47v8.77h-8.47zM217.78 826.40h8.47v8.77h-8.47zM193.87 834.67h8.47v8.77h-8.47zM193.87 842.93h8.47v8.77h-8.47zM201.84 842.93h8.47v8.77h-8.47zM193.87 851.20h8.47v8.77h-8.47zM201.84 851.20h8.47v8.77h-8.47zM217.78 851.20h8.47v8.77h-8.47zM233.72 859.47h7.97v8.77h-7.97zM201.84 900.80h8.47v8.77h-8.47zM185.90 909.07h8.47v8.77h-8.47zM193.87 917.33h8.47v8.77h-8.47zM185.90 925.60h8.47v8.77h-8.47zM193.87 925.60h8.47v8.77h-8.47zM193.87 942.13h8.47v8.77h-8.47zM209.81 942.13h8.47v8.77h-8.47zM217.78 942.13h8.47v8.77h-8.47zM225.75 942.13h8.47v8.77h-8.47zM193.87 983.47h8.47v8.77h-8.47zM201.84 983.47h8.47v8.77h-8.47zM201.84 991.73h8.47v8.77h-8.47zM217.78 991.73h8.47v8.77h-8.47zM233.72 1000.00h7.97v8.77h-7.97zM217.78 1008.27h8.47v8.77h-8.47zM233.72 1008.27h7.97v8.77h-7.97zM201.84 1016.53h8.47v8.77h-8.47zM233.72 1024.80h7.97v8.77h-7.97zM201.84 1033.07h8.47v8.77h-8.47zM217.78 1033.07h8.47v8.77h-8.47zM233.72 1033.07h7.97v8.77h-7.97zM294.52 107.20h8.47v8.77h-8.47zM254.67 140.27h8.47v8.77h-8.47zM286.55 165.07h8.47v8.77h-8.47zM294.52 165.07h8.47v8.77h-8.47zM286.55 189.87h8.47v8.77h-8.47zM294.52 189.87h8.47v8.77h-8.47zM294.52 198.13h8.47v8.77h-8.47zM270.61 214.67h8.47v8.77h-8.47zM278.58 231.20h8.47v8.77h-8.47zM262.64 256.00h8.47v8.77h-8.47zM294.52 289.07h8.47v8.77h-8.47zM278.58 305.60h8.47v8.77h-8.47zM286.55 305.60h8.47v8.77h-8.47zM286.55 313.87h8.47v8.77h-8.47zM286.55 322.13h8.47v8.77h-8.47zM278.58 330.40h8.47v8.77h-8.47zM278.58 338.67h8.47v8.77h-8.47zM278.58 355.20h8.47v8.77h-8.47zM286.55 355.20h8.47v8.77h-8.47zM294.52 371.73h8.47v8.77h-8.47zM286.55 388.27h8.47v8.77h-8.47zM318.43 396.53h7.97v8.77h-7.97zM278.58 404.80h8.47v8.77h-8.47zM286.55 404.80h8.47v8.77h-8.47zM278.58 413.07h8.47v8.77h-8.47zM286.55 413.07h8.47v8.77h-8.47zM278.58 421.33h8.47v8.77h-8.47zM294.52 421.33h8.47v8.77h-8.47zM318.43 429.60h7.97v8.77h-7.97zM278.58 437.87h8.47v8.77h-8.47zM318.43 437.87h7.97v8.77h-7.97zM254.67 454.40h8.47v8.77h-8.47zM286.55 454.40h8.47v8.77h-8.47zM294.52 487.47h8.47v8.77h-8.47zM294.52 495.73h8.47v8.77h-8.47zM270.61 528.80h8.47v8.77h-8.47zM278.58 528.80h8.47v8.77h-8.47zM278.58 537.07h8.47v8.77h-8.47zM278.58 545.33h8.47v8.77h-8.47zM254.67 553.60h8.47v8.77h-8.47zM278.58 561.87h8.47v8.77h-8.47zM278.58 578.40h8.47v8.77h-8.47zM278.58 594.93h8.47v8.77h-8.47zM286.55 603.20h8.47v8.77h-8.47zM294.52 603.20h8.47v8.77h-8.47zM286.55 611.47h8.47v8.77h-8.47zM286.55 636.27h8.47v8.77h-8.47zM294.52 644.53h8.47v8.77h-8.47zM286.55 652.80h8.47v8.77h-8.47zM270.61 661.07h8.47v8.77h-8.47zM262.64 677.60h8.47v8.77h-8.47zM254.67 685.87h8.47v8.77h-8.47zM270.61 694.13h8.47v8.77h-8.47zM278.58 694.13h8.47v8.77h-8.47zM286.55 694.13h8.47v8.77h-8.47zM254.67 702.40h8.47v8.77h-8.47zM270.61 702.40h8.47v8.77h-8.47zM294.52 702.40h8.47v8.77h-8.47zM262.64 710.67h8.47v8.77h-8.47zM254.67 718.93h8.47v8.77h-8.47zM254.67 727.20h8.47v8.77h-8.47zM270.61 743.73h8.47v8.77h-8.47zM310.46 752.00h8.47v8.77h-8.47zM270.61 760.27h8.47v8.77h-8.47zM262.64 776.80h8.47v8.77h-8.47zM286.55 776.80h8.47v8.77h-8.47zM246.70 785.07h8.47v8.77h-8.47zM318.43 809.87h7.97v8.77h-7.97zM246.70 818.13h8.47v8.77h-8.47zM262.64 818.13h8.47v8.77h-8.47zM278.58 818.13h8.47v8.77h-8.47zM262.64 826.40h8.47v8.77h-8.47zM270.61 826.40h8.47v8.77h-8.47zM262.64 834.67h8.47v8.77h-8.47zM286.55 834.67h8.47v8.77h-8.47zM294.52 842.93h8.47v8.77h-8.47zM286.55 859.47h8.47v8.77h-8.47zM294.52 859.47h8.47v8.77h-8.47zM318.43 859.47h7.97v8.77h-7.97zM246.70 867.73h8.47v8.77h-8.47zM318.43 867.73h7.97v8.77h-7.97zM310.46 876.00h8.47v8.77h-8.47zM278.58 892.53h8.47v8.77h-8.47zM278.58 900.80h8.47v8.77h-8.47zM286.55 900.80h8.47v8.77h-8.47zM278.58 909.07h8.47v8.77h-8.47zM278.58 917.33h8.47v8.77h-8.47zM318.43 917.33h7.97v8.77h-7.97zM262.64 925.60h8.47v8.77h-8.47zM278.58 925.60h8.47v8.77h-8.47zM262.64 933.87h8.47v8.77h-8.47zM246.70 942.13h8.47v8.77h-8.47zM278.58 950.40h8.47v8.77h-8.47zM286.55 950.40h8.47v8.77h-8.47zM278.58 958.67h8.47v8.77h-8.47zM278.58 966.93h8.47v8.77h-8.47zM278.58 975.20h8.47v8.77h-8.47zM286.55 983.47h8.47v8.77h-8.47zM318.43 983.47h7.97v8.77h-7.97zM294.52 991.73h8.47v8.77h-8.47zM254.67 1000.00h8.47v8.77h-8.47zM262.64 1000.00h8.47v8.77h-8.47zM270.61 1000.00h8.47v8.77h-8.47zM286.55 1000.00h8.47v8.77h-8.47zM302.49 1000.00h8.47v8.77h-8.47zM246.70 1008.27h8.47v8.77h-8.47zM262.64 1008.27h8.47v8.77h-8.47zM286.55 1008.27h8.47v8.77h-8.47zM310.46 1008.27h8.47v8.77h-8.47zM318.43 1008.27h7.97v8.77h-7.97zM254.67 1016.53h8.47v8.77h-8.47zM270.61 1016.53h8.47v8.77h-8.47zM278.58 1016.53h8.47v8.77h-8.47zM310.46 1016.53h8.47v8.77h-8.47zM302.49 1024.80h8.47v8.77h-8.47zM270.61 1033.07h8.47v8.77h-8.47zM286.55 1033.07h8.47v8.77h-8.47z"/><path fill="#85849a" d="M108.84 82.40h8.47v8.77h-8.47zM116.81 82.40h8.47v8.77h-8.47zM100.87 98.93h8.47v8.77h-8.47zM100.87 107.20h8.47v8.77h-8.47zM100.87 115.47h8.47v8.77h-8.47zM100.87 123.73h8.47v8.77h-8.47zM132.75 123.73h8.47v8.77h-8.47zM124.78 148.53h8.47v8.77h-8.47zM116.81 173.33h8.47v8.77h-8.47zM132.75 173.33h8.47v8.77h-8.47zM132.75 181.60h8.47v8.77h-8.47zM100.87 189.87h8.47v8.77h-8.47zM100.87 222.93h8.47v8.77h-8.47zM116.81 222.93h8.47v8.77h-8.47zM140.72 222.93h8.47v8.77h-8.47zM116.81 239.47h8.47v8.77h-8.47zM116.81 247.73h8.47v8.77h-8.47zM92.90 256.00h8.47v8.77h-8.47zM116.81 264.27h8.47v8.77h-8.47zM140.72 264.27h8.47v8.77h-8.47zM100.87 272.53h8.47v8.77h-8.47zM148.69 272.53h8.47v8.77h-8.47zM172.60 272.53h7.97v8.77h-7.97zM124.78 280.80h8.47v8.77h-8.47zM116.81 289.07h8.47v8.77h-8.47zM140.72 289.07h8.47v8.77h-8.47zM156.66 297.33h8.47v8.77h-8.47zM100.87 305.60h8.47v8.77h-8.47zM124.78 305.60h8.47v8.77h-8.47zM108.84 313.87h8.47v8.77h-8.47zM124.78 322.13h8.47v8.77h-8.47zM132.75 322.13h8.47v8.77h-8.47zM116.81 338.67h8.47v8.77h-8.47zM116.81 346.93h8.47v8.77h-8.47zM132.75 355.20h8.47v8.77h-8.47zM116.81 363.47h8.47v8.77h-8.47zM132.75 380.00h8.47v8.77h-8.47zM116.81 388.27h8.47v8.77h-8.47zM100.87 396.53h8.47v8.77h-8.47zM132.75 396.53h8.47v8.77h-8.47zM124.78 413.07h8.47v8.77h-8.47zM100.87 421.33h8.47v8.77h-8.47zM124.78 421.33h8.47v8.77h-8.47zM108.84 454.40h8.47v8.77h-8.47zM172.60 454.40h7.97v8.77h-7.97zM108.84 462.67h8.47v8.77h-8.47zM132.75 462.67h8.47v8.77h-8.47zM100.87 470.93h8.47v8.77h-8.47zM132.75 470.93h8.47v8.77h-8.47zM116.81 479.20h8.47v8.77h-8.47zM140.72 487.47h8.47v8.77h-8.47zM164.63 487.47h8.47v8.77h-8.47zM116.81 495.73h8.47v8.77h-8.47zM92.90 504.00h8.47v8.77h-8.47zM124.78 504.00h8.47v8.77h-8.47zM124.78 528.80h8.47v8.77h-8.47zM116.81 537.07h8.47v8.77h-8.47zM100.87 545.33h8.47v8.77h-8.47zM132.75 545.33h8.47v8.77h-8.47zM100.87 553.60h8.47v8.77h-8.47zM116.81 553.60h8.47v8.77h-8.47zM92.90 570.13h8.47v8.77h-8.47zM116.81 570.13h8.47v8.77h-8.47zM92.90 578.40h8.47v8.77h-8.47zM92.90 586.67h8.47v8.77h-8.47zM92.90 594.93h8.47v8.77h-8.47zM116.81 594.93h8.47v8.77h-8.47zM156.66 594.93h8.47v8.77h-8.47zM172.60 594.93h7.97v8.77h-7.97zM116.81 603.20h8.47v8.77h-8.47zM140.72 603.20h8.47v8.77h-8.47zM148.69 611.47h8.47v8.77h-8.47zM172.60 611.47h7.97v8.77h-7.97zM108.84 619.73h8.47v8.77h-8.47zM116.81 628.00h8.47v8.77h-8.47zM92.90 636.27h8.47v8.77h-8.47zM116.81 636.27h8.47v8.77h-8.47zM116.81 652.80h8.47v8.77h-8.47zM132.75 652.80h8.47v8.77h-8.47zM172.60 661.07h7.97v8.77h-7.97zM116.81 669.33h8.47v8.77h-8.47zM148.69 669.33h8.47v8.77h-8.47zM108.84 677.60h8.47v8.77h-8.47zM116.81 677.60h8.47v8.77h-8.47zM92.90 685.87h8.47v8.77h-8.47zM116.81 694.13h8.47v8.77h-8.47zM172.60 694.13h7.97v8.77h-7.97zM92.90 702.40h8.47v8.77h-8.47zM156.66 702.40h8.47v8.77h-8.47zM132.75 710.67h8.47v8.77h-8.47zM172.60 710.67h7.97v8.77h-7.97zM92.90 718.93h8.47v8.77h-8.47zM140.72 718.93h8.47v8.77h-8.47zM172.60 718.93h7.97v8.77h-7.97zM116.81 727.20h8.47v8.77h-8.47zM172.60 727.20h7.97v8.77h-7.97zM100.87 735.47h8.47v8.77h-8.47zM172.60 743.73h7.97v8.77h-7.97zM132.75 760.27h8.47v8.77h-8.47zM172.60 760.27h7.97v8.77h-7.97zM108.84 768.53h8.47v8.77h-8.47zM132.75 768.53h8.47v8.77h-8.47zM172.60 768.53h7.97v8.77h-7.97zM124.78 776.80h8.47v8.77h-8.47zM92.90 785.07h8.47v8.77h-8.47zM124.78 785.07h8.47v8.77h-8.47zM100.87 793.33h8.47v8.77h-8.47zM116.81 793.33h8.47v8.77h-8.47zM124.78 793.33h8.47v8.77h-8.47zM172.60 793.33h7.97v8.77h-7.97zM92.90 801.60h8.47v8.77h-8.47zM116.81 801.60h8.47v8.77h-8.47zM148.69 801.60h8.47v8.77h-8.47zM124.78 809.87h8.47v8.77h-8.47zM148.69 809.87h8.47v8.77h-8.47zM156.66 809.87h8.47v8.77h-8.47zM164.63 809.87h8.47v8.77h-8.47zM172.60 809.87h7.97v8.77h-7.97zM92.90 818.13h8.47v8.77h-8.47zM100.87 818.13h8.47v8.77h-8.47zM116.81 818.13h8.47v8.77h-8.47zM116.81 826.40h8.47v8.77h-8.47zM124.78 826.40h8.47v8.77h-8.47zM124.78 834.67h8.47v8.77h-8.47zM172.60 834.67h7.97v8.77h-7.97zM140.72 842.93h8.47v8.77h-8.47zM156.66 842.93h8.47v8.77h-8.47zM140.72 851.20h8.47v8.77h-8.47zM148.69 851.20h8.47v8.77h-8.47zM156.66 851.20h8.47v8.77h-8.47zM100.87 859.47h8.47v8.77h-8.47zM132.75 859.47h8.47v8.77h-8.47zM100.87 867.73h8.47v8.77h-8.47zM164.63 867.73h8.47v8.77h-8.47zM92.90 876.00h8.47v8.77h-8.47zM100.87 876.00h8.47v8.77h-8.47zM124.78 876.00h8.47v8.77h-8.47zM132.75 876.00h8.47v8.77h-8.47zM140.72 876.00h8.47v8.77h-8.47zM148.69 876.00h8.47v8.77h-8.47zM172.60 876.00h7.97v8.77h-7.97zM116.81 884.27h8.47v8.77h-8.47zM124.78 884.27h8.47v8.77h-8.47zM132.75 884.27h8.47v8.77h-8.47zM140.72 884.27h8.47v8.77h-8.47zM116.81 892.53h8.47v8.77h-8.47zM124.78 892.53h8.47v8.77h-8.47zM132.75 892.53h8.47v8.77h-8.47zM140.72 892.53h8.47v8.77h-8.47zM172.60 892.53h7.97v8.77h-7.97zM172.60 900.80h7.97v8.77h-7.97zM132.75 909.07h8.47v8.77h-8.47zM148.69 909.07h8.47v8.77h-8.47zM148.69 917.33h8.47v8.77h-8.47zM116.81 925.60h8.47v8.77h-8.47zM132.75 925.60h8.47v8.77h-8.47zM148.69 925.60h8.47v8.77h-8.47zM92.90 933.87h8.47v8.77h-8.47zM156.66 933.87h8.47v8.77h-8.47zM164.63 933.87h8.47v8.77h-8.47zM92.90 942.13h8.47v8.77h-8.47zM116.81 942.13h8.47v8.77h-8.47zM132.75 942.13h8.47v8.77h-8.47zM140.72 942.13h8.47v8.77h-8.47zM148.69 942.13h8.47v8.77h-8.47zM172.60 942.13h7.97v8.77h-7.97zM124.78 950.40h8.47v8.77h-8.47zM132.75 950.40h8.47v8.77h-8.47zM164.63 950.40h8.47v8.77h-8.47zM116.81 958.67h8.47v8.77h-8.47zM164.63 958.67h8.47v8.77h-8.47zM132.75 966.93h8.47v8.77h-8.47zM140.72 966.93h8.47v8.77h-8.47zM132.75 975.20h8.47v8.77h-8.47zM140.72 975.20h8.47v8.77h-8.47zM140.72 983.47h8.47v8.77h-8.47zM92.90 991.73h8.47v8.77h-8.47zM124.78 991.73h8.47v8.77h-8.47zM148.69 991.73h8.47v8.77h-8.47zM156.66 1000.00h8.47v8.77h-8.47zM172.60 1000.00h7.97v8.77h-7.97zM108.84 1008.27h8.47v8.77h-8.47zM124.78 1008.27h8.47v8.77h-8.47zM148.69 1008.27h8.47v8.77h-8.47zM100.87 1016.53h8.47v8.77h-8.47zM116.81 1016.53h8.47v8.77h-8.47zM132.75 1016.53h8.47v8.77h-8.47zM92.90 1024.80h8.47v8.77h-8.47zM92.90 1033.07h8.47v8.77h-8.47zM132.75 1033.07h8.47v8.77h-8.47zM172.60 1033.07h7.97v8.77h-7.97zM132.75 1041.33h8.47v8.27h-8.47zM193.87 82.40h8.47v8.77h-8.47zM201.84 82.40h8.47v8.77h-8.47zM209.81 82.40h8.47v8.77h-8.47zM217.78 82.40h8.47v8.77h-8.47zM225.75 82.40h8.47v8.77h-8.47zM193.87 90.67h8.47v8.77h-8.47zM217.78 90.67h8.47v8.77h-8.47zM225.75 90.67h8.47v8.77h-8.47zM185.90 98.93h8.47v8.77h-8.47zM193.87 98.93h8.47v8.77h-8.47zM225.75 107.20h8.47v8.77h-8.47zM193.87 115.47h8.47v8.77h-8.47zM209.81 115.47h8.47v8.77h-8.47zM201.84 123.73h8.47v8.77h-8.47zM193.87 140.27h8.47v8.77h-8.47zM209.81 140.27h8.47v8.77h-8.47zM217.78 140.27h8.47v8.77h-8.47zM225.75 140.27h8.47v8.77h-8.47zM201.84 148.53h8.47v8.77h-8.47zM217.78 148.53h8.47v8.77h-8.47zM193.87 156.80h8.47v8.77h-8.47zM217.78 156.80h8.47v8.77h-8.47zM193.87 165.07h8.47v8.77h-8.47zM201.84 165.07h8.47v8.77h-8.47zM225.75 165.07h8.47v8.77h-8.47zM233.72 165.07h7.97v8.77h-7.97zM193.87 173.33h8.47v8.77h-8.47zM209.81 173.33h8.47v8.77h-8.47zM193.87 181.60h8.47v8.77h-8.47zM201.84 181.60h8.47v8.77h-8.47zM217.78 181.60h8.47v8.77h-8.47zM225.75 181.60h8.47v8.77h-8.47zM193.87 189.87h8.47v8.77h-8.47zM209.81 189.87h8.47v8.77h-8.47zM225.75 189.87h8.47v8.77h-8.47zM217.78 214.67h8.47v8.77h-8.47zM225.75 214.67h8.47v8.77h-8.47zM185.90 222.93h8.47v8.77h-8.47zM193.87 222.93h8.47v8.77h-8.47zM201.84 222.93h8.47v8.77h-8.47zM217.78 222.93h8.47v8.77h-8.47zM193.87 231.20h8.47v8.77h-8.47zM201.84 231.20h8.47v8.77h-8.47zM193.87 239.47h8.47v8.77h-8.47zM201.84 239.47h8.47v8.77h-8.47zM217.78 239.47h8.47v8.77h-8.47zM225.75 239.47h8.47v8.77h-8.47zM233.72 239.47h7.97v8.77h-7.97zM193.87 247.73h8.47v8.77h-8.47zM201.84 247.73h8.47v8.77h-8.47zM217.78 247.73h8.47v8.77h-8.47zM209.81 256.00h8.47v8.77h-8.47zM225.75 256.00h8.47v8.77h-8.47zM217.78 264.27h8.47v8.77h-8.47zM193.87 272.53h8.47v8.77h-8.47zM225.75 272.53h8.47v8.77h-8.47zM193.87 289.07h8.47v8.77h-8.47zM201.84 289.07h8.47v8.77h-8.47zM209.81 289.07h8.47v8.77h-8.47zM217.78 289.07h8.47v8.77h-8.47zM193.87 297.33h8.47v8.77h-8.47zM209.81 297.33h8.47v8.77h-8.47zM185.90 305.60h8.47v8.77h-8.47zM193.87 313.87h8.47v8.77h-8.47zM201.84 313.87h8.47v8.77h-8.47zM233.72 313.87h7.97v8.77h-7.97zM201.84 322.13h8.47v8.77h-8.47zM225.75 322.13h8.47v8.77h-8.47zM185.90 330.40h8.47v8.77h-8.47zM193.87 330.40h8.47v8.77h-8.47zM217.78 330.40h8.47v8.77h-8.47zM193.87 338.67h8.47v8.77h-8.47zM217.78 338.67h8.47v8.77h-8.47zM185.90 355.20h8.47v8.77h-8.47zM201.84 355.20h8.47v8.77h-8.47zM217.78 355.20h8.47v8.77h-8.47zM225.75 355.20h8.47v8.77h-8.47zM185.90 363.47h8.47v8.77h-8.47zM185.90 371.73h8.47v8.77h-8.47zM201.84 371.73h8.47v8.77h-8.47zM217.78 371.73h8.47v8.77h-8.47zM185.90 380.00h8.47v8.77h-8.47zM201.84 380.00h8.47v8.77h-8.47zM217.78 380.00h8.47v8.77h-8.47zM209.81 388.27h8.47v8.77h-8.47zM217.78 388.27h8.47v8.77h-8.47zM217.78 396.53h8.47v8.77h-8.47zM185.90 404.80h8.47v8.77h-8.47zM217.78 404.80h8.47v8.77h-8.47zM185.90 413.07h8.47v8.77h-8.47zM209.81 413.07h8.47v8.77h-8.47zM185.90 429.60h8.47v8.77h-8.47zM225.75 429.60h8.47v8.77h-8.47zM233.72 429.60h7.97v8.77h-7.97zM209.81 437.87h8.47v8.77h-8.47zM217.78 437.87h8.47v8.77h-8.47zM185.90 446.13h8.47v8.77h-8.47zM201.84 446.13h8.47v8.77h-8.47zM209.81 446.13h8.47v8.77h-8.47zM225.75 446.13h8.47v8.77h-8.47zM193.87 454.40h8.47v8.77h-8.47zM209.81 454.40h8.47v8.77h-8.47zM217.78 454.40h8.47v8.77h-8.47zM209.81 462.67h8.47v8.77h-8.47zM217.78 462.67h8.47v8.77h-8.47zM185.90 470.93h8.47v8.77h-8.47zM201.84 470.93h8.47v8.77h-8.47zM209.81 470.93h8.47v8.77h-8.47zM217.78 470.93h8.47v8.77h-8.47zM225.75 470.93h8.47v8.77h-8.47zM185.90 479.20h8.47v8.77h-8.47zM193.87 495.73h8.47v8.77h-8.47zM209.81 495.73h8.47v8.77h-8.47zM217.78 495.73h8.47v8.77h-8.47zM225.75 495.73h8.47v8.77h-8.47zM185.90 504.00h8.47v8.77h-8.47zM193.87 504.00h8.47v8.77h-8.47zM201.84 504.00h8.47v8.77h-8.47zM217.78 504.00h8.47v8.77h-8.47zM225.75 504.00h8.47v8.77h-8.47zM185.90 512.27h8.47v8.77h-8.47zM193.87 512.27h8.47v8.77h-8.47zM209.81 512.27h8.47v8.77h-8.47zM217.78 512.27h8.47v8.77h-8.47zM225.75 512.27h8.47v8.77h-8.47zM193.87 520.53h8.47v8.77h-8.47zM209.81 520.53h8.47v8.77h-8.47zM225.75 520.53h8.47v8.77h-8.47zM233.72 520.53h7.97v8.77h-7.97zM193.87 528.80h8.47v8.77h-8.47zM209.81 528.80h8.47v8.77h-8.47zM217.78 528.80h8.47v8.77h-8.47zM225.75 528.80h8.47v8.77h-8.47zM209.81 537.07h8.47v8.77h-8.47zM217.78 537.07h8.47v8.77h-8.47zM225.75 537.07h8.47v8.77h-8.47zM209.81 545.33h8.47v8.77h-8.47zM225.75 545.33h8.47v8.77h-8.47zM193.87 553.60h8.47v8.77h-8.47zM185.90 561.87h8.47v8.77h-8.47zM209.81 561.87h8.47v8.77h-8.47zM217.78 561.87h8.47v8.77h-8.47zM233.72 561.87h7.97v8.77h-7.97zM185.90 570.13h8.47v8.77h-8.47zM193.87 570.13h8.47v8.77h-8.47zM201.84 570.13h8.47v8.77h-8.47zM225.75 570.13h8.47v8.77h-8.47zM185.90 578.40h8.47v8.77h-8.47zM209.81 578.40h8.47v8.77h-8.47zM217.78 578.40h8.47v8.77h-8.47zM225.75 578.40h8.47v8.77h-8.47zM201.84 586.67h8.47v8.77h-8.47zM209.81 586.67h8.47v8.77h-8.47zM217.78 586.67h8.47v8.77h-8.47zM233.72 586.67h7.97v8.77h-7.97zM185.90 594.93h8.47v8.77h-8.47zM233.72 594.93h7.97v8.77h-7.97zM217.78 603.20h8.47v8.77h-8.47zM233.72 603.20h7.97v8.77h-7.97zM185.90 611.47h8.47v8.77h-8.47zM209.81 611.47h8.47v8.77h-8.47zM233.72 611.47h7.97v8.77h-7.97zM185.90 619.73h8.47v8.77h-8.47zM233.72 619.73h7.97v8.77h-7.97zM185.90 628.00h8.47v8.77h-8.47zM193.87 628.00h8.47v8.77h-8.47zM217.78 628.00h8.47v8.77h-8.47zM225.75 628.00h8.47v8.77h-8.47zM201.84 636.27h8.47v8.77h-8.47zM209.81 636.27h8.47v8.77h-8.47zM217.78 636.27h8.47v8.77h-8.47zM233.72 636.27h7.97v8.77h-7.97zM185.90 644.53h8.47v8.77h-8.47zM185.90 652.80h8.47v8.77h-8.47zM209.81 652.80h8.47v8.77h-8.47zM233.72 652.80h7.97v8.77h-7.97zM193.87 661.07h8.47v8.77h-8.47zM209.81 661.07h8.47v8.77h-8.47zM225.75 661.07h8.47v8.77h-8.47zM233.72 661.07h7.97v8.77h-7.97zM185.90 669.33h8.47v8.77h-8.47zM193.87 669.33h8.47v8.77h-8.47zM209.81 669.33h8.47v8.77h-8.47zM217.78 669.33h8.47v8.77h-8.47zM233.72 669.33h7.97v8.77h-7.97zM185.90 677.60h8.47v8.77h-8.47zM217.78 677.60h8.47v8.77h-8.47zM225.75 677.60h8.47v8.77h-8.47zM233.72 677.60h7.97v8.77h-7.97zM185.90 685.87h8.47v8.77h-8.47zM217.78 685.87h8.47v8.77h-8.47zM185.90 694.13h8.47v8.77h-8.47zM193.87 694.13h8.47v8.77h-8.47zM217.78 694.13h8.47v8.77h-8.47zM193.87 702.40h8.47v8.77h-8.47zM217.78 702.40h8.47v8.77h-8.47zM233.72 702.40h7.97v8.77h-7.97zM185.90 710.67h8.47v8.77h-8.47zM209.81 710.67h8.47v8.77h-8.47zM217.78 710.67h8.47v8.77h-8.47zM185.90 718.93h8.47v8.77h-8.47zM209.81 718.93h8.47v8.77h-8.47zM225.75 718.93h8.47v8.77h-8.47zM193.87 727.20h8.47v8.77h-8.47zM201.84 727.20h8.47v8.77h-8.47zM225.75 727.20h8.47v8.77h-8.47zM233.72 727.20h7.97v8.77h-7.97zM185.90 735.47h8.47v8.77h-8.47zM185.90 743.73h8.47v8.77h-8.47zM217.78 743.73h8.47v8.77h-8.47zM225.75 743.73h8.47v8.77h-8.47zM185.90 752.00h8.47v8.77h-8.47zM193.87 752.00h8.47v8.77h-8.47zM201.84 752.00h8.47v8.77h-8.47zM217.78 752.00h8.47v8.77h-8.47zM209.81 760.27h8.47v8.77h-8.47zM217.78 760.27h8.47v8.77h-8.47zM233.72 760.27h7.97v8.77h-7.97zM185.90 768.53h8.47v8.77h-8.47zM193.87 768.53h8.47v8.77h-8.47zM201.84 768.53h8.47v8.77h-8.47zM209.81 768.53h8.47v8.77h-8.47zM217.78 768.53h8.47v8.77h-8.47zM233.72 768.53h7.97v8.77h-7.97zM217.78 776.80h8.47v8.77h-8.47zM193.87 785.07h8.47v8.77h-8.47zM209.81 785.07h8.47v8.77h-8.47zM217.78 793.33h8.47v8.77h-8.47zM185.90 801.60h8.47v8.77h-8.47zM201.84 801.60h8.47v8.77h-8.47zM209.81 801.60h8.47v8.77h-8.47zM217.78 801.60h8.47v8.77h-8.47zM185.90 809.87h8.47v8.77h-8.47zM193.87 809.87h8.47v8.77h-8.47zM217.78 809.87h8.47v8.77h-8.47zM225.75 809.87h8.47v8.77h-8.47zM185.90 818.13h8.47v8.77h-8.47zM193.87 818.13h8.47v8.77h-8.47zM201.84 818.13h8.47v8.77h-8.47zM217.78 818.13h8.47v8.77h-8.47zM225.75 818.13h8.47v8.77h-8.47zM185.90 826.40h8.47v8.77h-8.47zM193.87 826.40h8.47v8.77h-8.47zM185.90 834.67h8.47v8.77h-8.47zM217.78 834.67h8.47v8.77h-8.47zM225.75 834.67h8.47v8.77h-8.47zM185.90 842.93h8.47v8.77h-8.47zM225.75 842.93h8.47v8.77h-8.47zM233.72 851.20h7.97v8.77h-7.97zM185.90 859.47h8.47v8.77h-8.47zM193.87 859.47h8.47v8.77h-8.47zM217.78 859.47h8.47v8.77h-8.47zM185.90 867.73h8.47v8.77h-8.47zM201.84 867.73h8.47v8.77h-8.47zM233.72 867.73h7.97v8.77h-7.97zM193.87 876.00h8.47v8.77h-8.47zM201.84 876.00h8.47v8.77h-8.47zM217.78 876.00h8.47v8.77h-8.47zM225.75 876.00h8.47v8.77h-8.47zM185.90 884.27h8.47v8.77h-8.47zM209.81 884.27h8.47v8.77h-8.47zM217.78 884.27h8.47v8.77h-8.47zM185.90 892.53h8.47v8.77h-8.47zM217.78 892.53h8.47v8.77h-8.47zM217.78 900.80h8.47v8.77h-8.47zM225.75 900.80h8.47v8.77h-8.47zM201.84 909.07h8.47v8.77h-8.47zM185.90 917.33h8.47v8.77h-8.47zM201.84 917.33h8.47v8.77h-8.47zM201.84 925.60h8.47v8.77h-8.47zM217.78 925.60h8.47v8.77h-8.47zM185.90 933.87h8.47v8.77h-8.47zM193.87 933.87h8.47v8.77h-8.47zM217.78 933.87h8.47v8.77h-8.47zM225.75 933.87h8.47v8.77h-8.47zM233.72 933.87h7.97v8.77h-7.97zM233.72 942.13h7.97v8.77h-7.97zM185.90 950.40h8.47v8.77h-8.47zM193.87 950.40h8.47v8.77h-8.47zM209.81 950.40h8.47v8.77h-8.47zM217.78 950.40h8.47v8.77h-8.47zM193.87 958.67h8.47v8.77h-8.47zM201.84 958.67h8.47v8.77h-8.47zM209.81 958.67h8.47v8.77h-8.47zM233.72 958.67h7.97v8.77h-7.97zM193.87 966.93h8.47v8.77h-8.47zM217.78 966.93h8.47v8.77h-8.47zM209.81 975.20h8.47v8.77h-8.47zM217.78 975.20h8.47v8.77h-8.47zM233.72 975.20h7.97v8.77h-7.97zM185.90 983.47h8.47v8.77h-8.47zM217.78 983.47h8.47v8.77h-8.47zM209.81 991.73h8.47v8.77h-8.47zM225.75 991.73h8.47v8.77h-8.47zM233.72 991.73h7.97v8.77h-7.97zM201.84 1000.00h8.47v8.77h-8.47zM209.81 1000.00h8.47v8.77h-8.47zM225.75 1000.00h8.47v8.77h-8.47zM225.75 1008.27h8.47v8.77h-8.47zM209.81 1024.80h8.47v8.77h-8.47zM225.75 1024.80h8.47v8.77h-8.47zM185.90 1033.07h8.47v8.77h-8.47zM209.81 1033.07h8.47v8.77h-8.47zM278.58 82.40h8.47v8.77h-8.47zM278.58 115.47h8.47v8.77h-8.47zM278.58 132.00h8.47v8.77h-8.47zM262.64 140.27h8.47v8.77h-8.47zM294.52 140.27h8.47v8.77h-8.47zM262.64 148.53h8.47v8.77h-8.47zM294.52 148.53h8.47v8.77h-8.47zM286.55 156.80h8.47v8.77h-8.47zM294.52 156.80h8.47v8.77h-8.47zM262.64 165.07h8.47v8.77h-8.47zM254.67 173.33h8.47v8.77h-8.47zM254.67 181.60h8.47v8.77h-8.47zM262.64 181.60h8.47v8.77h-8.47zM254.67 198.13h8.47v8.77h-8.47zM254.67 214.67h8.47v8.77h-8.47zM286.55 222.93h8.47v8.77h-8.47zM286.55 231.20h8.47v8.77h-8.47zM278.58 239.47h8.47v8.77h-8.47zM294.52 239.47h8.47v8.77h-8.47zM278.58 247.73h8.47v8.77h-8.47zM286.55 247.73h8.47v8.77h-8.47zM294.52 247.73h8.47v8.77h-8.47zM286.55 256.00h8.47v8.77h-8.47zM254.67 264.27h8.47v8.77h-8.47zM262.64 264.27h8.47v8.77h-8.47zM278.58 264.27h8.47v8.77h-8.47zM286.55 264.27h8.47v8.77h-8.47zM262.64 272.53h8.47v8.77h-8.47zM278.58 272.53h8.47v8.77h-8.47zM286.55 272.53h8.47v8.77h-8.47zM318.43 280.80h7.97v8.77h-7.97zM270.61 289.07h8.47v8.77h-8.47zM286.55 289.07h8.47v8.77h-8.47zM262.64 297.33h8.47v8.77h-8.47zM286.55 297.33h8.47v8.77h-8.47zM270.61 305.60h8.47v8.77h-8.47zM262.64 313.87h8.47v8.77h-8.47zM278.58 313.87h8.47v8.77h-8.47zM270.61 322.13h8.47v8.77h-8.47zM246.70 330.40h8.47v8.77h-8.47zM254.67 330.40h8.47v8.77h-8.47zM286.55 330.40h8.47v8.77h-8.47zM286.55 346.93h8.47v8.77h-8.47zM246.70 355.20h8.47v8.77h-8.47zM246.70 363.47h8.47v8.77h-8.47zM278.58 363.47h8.47v8.77h-8.47zM246.70 371.73h8.47v8.77h-8.47zM278.58 371.73h8.47v8.77h-8.47zM278.58 380.00h8.47v8.77h-8.47zM318.43 380.00h7.97v8.77h-7.97zM254.67 388.27h8.47v8.77h-8.47zM262.64 396.53h8.47v8.77h-8.47zM302.49 404.80h8.47v8.77h-8.47zM318.43 404.80h7.97v8.77h-7.97zM318.43 421.33h7.97v8.77h-7.97zM262.64 429.60h8.47v8.77h-8.47zM278.58 429.60h8.47v8.77h-8.47zM294.52 437.87h8.47v8.77h-8.47zM246.70 446.13h8.47v8.77h-8.47zM254.67 446.13h8.47v8.77h-8.47zM246.70 454.40h8.47v8.77h-8.47zM278.58 462.67h8.47v8.77h-8.47zM294.52 462.67h8.47v8.77h-8.47zM246.70 470.93h8.47v8.77h-8.47zM278.58 470.93h8.47v8.77h-8.47zM262.64 479.20h8.47v8.77h-8.47zM278.58 479.20h8.47v8.77h-8.47zM286.55 479.20h8.47v8.77h-8.47zM294.52 479.20h8.47v8.77h-8.47zM286.55 487.47h8.47v8.77h-8.47zM254.67 495.73h8.47v8.77h-8.47zM286.55 495.73h8.47v8.77h-8.47zM278.58 504.00h8.47v8.77h-8.47zM286.55 504.00h8.47v8.77h-8.47zM246.70 512.27h8.47v8.77h-8.47zM254.67 512.27h8.47v8.77h-8.47zM262.64 512.27h8.47v8.77h-8.47zM270.61 512.27h8.47v8.77h-8.47zM254.67 520.53h8.47v8.77h-8.47zM262.64 520.53h8.47v8.77h-8.47zM270.61 520.53h8.47v8.77h-8.47zM286.55 520.53h8.47v8.77h-8.47zM254.67 528.80h8.47v8.77h-8.47zM286.55 528.80h8.47v8.77h-8.47zM246.70 537.07h8.47v8.77h-8.47zM270.61 537.07h8.47v8.77h-8.47zM286.55 553.60h8.47v8.77h-8.47zM270.61 561.87h8.47v8.77h-8.47zM294.52 561.87h8.47v8.77h-8.47zM270.61 570.13h8.47v8.77h-8.47zM246.70 578.40h8.47v8.77h-8.47zM254.67 578.40h8.47v8.77h-8.47zM286.55 578.40h8.47v8.77h-8.47zM246.70 586.67h8.47v8.77h-8.47zM254.67 594.93h8.47v8.77h-8.47zM262.64 594.93h8.47v8.77h-8.47zM270.61 594.93h8.47v8.77h-8.47zM286.55 594.93h8.47v8.77h-8.47zM294.52 594.93h8.47v8.77h-8.47zM302.49 594.93h8.47v8.77h-8.47zM318.43 594.93h7.97v8.77h-7.97zM262.64 603.20h8.47v8.77h-8.47zM278.58 603.20h8.47v8.77h-8.47zM318.43 603.20h7.97v8.77h-7.97zM246.70 611.47h8.47v8.77h-8.47zM278.58 611.47h8.47v8.77h-8.47zM254.67 619.73h8.47v8.77h-8.47zM262.64 619.73h8.47v8.77h-8.47zM270.61 619.73h8.47v8.77h-8.47zM278.58 628.00h8.47v8.77h-8.47zM286.55 628.00h8.47v8.77h-8.47zM262.64 636.27h8.47v8.77h-8.47zM278.58 636.27h8.47v8.77h-8.47zM318.43 636.27h7.97v8.77h-7.97zM270.61 644.53h8.47v8.77h-8.47zM278.58 644.53h8.47v8.77h-8.47zM310.46 644.53h8.47v8.77h-8.47zM262.64 652.80h8.47v8.77h-8.47zM278.58 652.80h8.47v8.77h-8.47zM294.52 652.80h8.47v8.77h-8.47zM262.64 669.33h8.47v8.77h-8.47zM286.55 669.33h8.47v8.77h-8.47zM270.61 677.60h8.47v8.77h-8.47zM310.46 677.60h8.47v8.77h-8.47zM318.43 677.60h7.97v8.77h-7.97zM254.67 694.13h8.47v8.77h-8.47zM262.64 694.13h8.47v8.77h-8.47zM310.46 694.13h8.47v8.77h-8.47zM246.70 702.40h8.47v8.77h-8.47zM262.64 702.40h8.47v8.77h-8.47zM278.58 702.40h8.47v8.77h-8.47zM246.70 710.67h8.47v8.77h-8.47zM254.67 710.67h8.47v8.77h-8.47zM270.61 710.67h8.47v8.77h-8.47zM278.58 710.67h8.47v8.77h-8.47zM246.70 718.93h8.47v8.77h-8.47zM246.70 727.20h8.47v8.77h-8.47zM262.64 727.20h8.47v8.77h-8.47zM270.61 727.20h8.47v8.77h-8.47zM286.55 727.20h8.47v8.77h-8.47zM246.70 735.47h8.47v8.77h-8.47zM254.67 735.47h8.47v8.77h-8.47zM278.58 735.47h8.47v8.77h-8.47zM278.58 743.73h8.47v8.77h-8.47zM286.55 743.73h8.47v8.77h-8.47zM318.43 743.73h7.97v8.77h-7.97zM254.67 752.00h8.47v8.77h-8.47zM270.61 752.00h8.47v8.77h-8.47zM286.55 752.00h8.47v8.77h-8.47zM294.52 752.00h8.47v8.77h-8.47zM254.67 760.27h8.47v8.77h-8.47zM310.46 760.27h8.47v8.77h-8.47zM270.61 768.53h8.47v8.77h-8.47zM278.58 768.53h8.47v8.77h-8.47zM286.55 768.53h8.47v8.77h-8.47zM270.61 776.80h8.47v8.77h-8.47zM294.52 776.80h8.47v8.77h-8.47zM262.64 785.07h8.47v8.77h-8.47zM294.52 785.07h8.47v8.77h-8.47zM262.64 793.33h8.47v8.77h-8.47zM270.61 793.33h8.47v8.77h-8.47zM278.58 793.33h8.47v8.77h-8.47zM246.70 801.60h8.47v8.77h-8.47zM262.64 801.60h8.47v8.77h-8.47zM278.58 801.60h8.47v8.77h-8.47zM310.46 801.60h8.47v8.77h-8.47zM270.61 809.87h8.47v8.77h-8.47zM278.58 809.87h8.47v8.77h-8.47zM270.61 818.13h8.47v8.77h-8.47zM318.43 818.13h7.97v8.77h-7.97zM278.58 826.40h8.47v8.77h-8.47zM294.52 826.40h8.47v8.77h-8.47zM254.67 834.67h8.47v8.77h-8.47zM270.61 834.67h8.47v8.77h-8.47zM278.58 834.67h8.47v8.77h-8.47zM294.52 834.67h8.47v8.77h-8.47zM318.43 834.67h7.97v8.77h-7.97zM262.64 842.93h8.47v8.77h-8.47zM278.58 842.93h8.47v8.77h-8.47zM246.70 851.20h8.47v8.77h-8.47zM262.64 851.20h8.47v8.77h-8.47zM278.58 851.20h8.47v8.77h-8.47zM294.52 851.20h8.47v8.77h-8.47zM254.67 859.47h8.47v8.77h-8.47zM262.64 859.47h8.47v8.77h-8.47zM270.61 859.47h8.47v8.77h-8.47zM278.58 859.47h8.47v8.77h-8.47zM254.67 867.73h8.47v8.77h-8.47zM270.61 867.73h8.47v8.77h-8.47zM278.58 867.73h8.47v8.77h-8.47zM286.55 867.73h8.47v8.77h-8.47zM302.49 867.73h8.47v8.77h-8.47zM246.70 876.00h8.47v8.77h-8.47zM262.64 876.00h8.47v8.77h-8.47zM270.61 876.00h8.47v8.77h-8.47zM294.52 876.00h8.47v8.77h-8.47zM318.43 876.00h7.97v8.77h-7.97zM286.55 884.27h8.47v8.77h-8.47zM254.67 892.53h8.47v8.77h-8.47zM262.64 892.53h8.47v8.77h-8.47zM286.55 892.53h8.47v8.77h-8.47zM254.67 900.80h8.47v8.77h-8.47zM262.64 900.80h8.47v8.77h-8.47zM270.61 900.80h8.47v8.77h-8.47zM318.43 900.80h7.97v8.77h-7.97zM262.64 909.07h8.47v8.77h-8.47zM318.43 909.07h7.97v8.77h-7.97zM262.64 917.33h8.47v8.77h-8.47zM286.55 917.33h8.47v8.77h-8.47zM246.70 925.60h8.47v8.77h-8.47zM278.58 933.87h8.47v8.77h-8.47zM294.52 933.87h8.47v8.77h-8.47zM262.64 942.13h8.47v8.77h-8.47zM254.67 950.40h8.47v8.77h-8.47zM254.67 958.67h8.47v8.77h-8.47zM262.64 958.67h8.47v8.77h-8.47zM286.55 958.67h8.47v8.77h-8.47zM294.52 958.67h8.47v8.77h-8.47zM302.49 958.67h8.47v8.77h-8.47zM262.64 966.93h8.47v8.77h-8.47zM294.52 966.93h8.47v8.77h-8.47zM318.43 966.93h7.97v8.77h-7.97zM262.64 975.20h8.47v8.77h-8.47zM294.52 975.20h8.47v8.77h-8.47zM278.58 983.47h8.47v8.77h-8.47zM294.52 983.47h8.47v8.77h-8.47zM254.67 991.73h8.47v8.77h-8.47zM262.64 991.73h8.47v8.77h-8.47zM278.58 991.73h8.47v8.77h-8.47zM302.49 991.73h8.47v8.77h-8.47zM294.52 1000.00h8.47v8.77h-8.47zM270.61 1008.27h8.47v8.77h-8.47zM246.70 1016.53h8.47v8.77h-8.47zM262.64 1016.53h8.47v8.77h-8.47zM278.58 1024.80h8.47v8.77h-8.47zM294.52 1024.80h8.47v8.77h-8.47zM318.43 1024.80h7.97v8.77h-7.97zM278.58 1033.07h8.47v8.77h-8.47zM318.43 1041.33h7.97v8.27h-7.97z"/><path fill="#a7a260" d="M132.75 189.87h8.47v8.77h-8.47zM108.84 198.13h8.47v8.77h-8.47zM108.84 206.40h8.47v8.77h-8.47zM108.84 214.67h8.47v8.77h-8.47zM124.78 231.20h8.47v8.77h-8.47zM140.72 239.47h8.47v8.77h-8.47zM100.87 247.73h8.47v8.77h-8.47zM140.72 247.73h8.47v8.77h-8.47zM132.75 305.60h8.47v8.77h-8.47zM116.81 330.40h8.47v8.77h-8.47zM124.78 338.67h8.47v8.77h-8.47zM172.60 404.80h7.97v8.77h-7.97zM172.60 413.07h7.97v8.77h-7.97zM116.81 429.60h8.47v8.77h-8.47zM100.87 462.67h8.47v8.77h-8.47zM132.75 479.20h8.47v8.77h-8.47zM132.75 504.00h8.47v8.77h-8.47zM164.63 504.00h8.47v8.77h-8.47zM100.87 570.13h8.47v8.77h-8.47zM116.81 586.67h8.47v8.77h-8.47zM172.60 603.20h7.97v8.77h-7.97zM116.81 644.53h8.47v8.77h-8.47zM100.87 661.07h8.47v8.77h-8.47zM92.90 727.20h8.47v8.77h-8.47zM116.81 735.47h8.47v8.77h-8.47zM116.81 752.00h8.47v8.77h-8.47zM116.81 760.27h8.47v8.77h-8.47zM148.69 793.33h8.47v8.77h-8.47zM140.72 818.13h8.47v8.77h-8.47zM148.69 842.93h8.47v8.77h-8.47zM172.60 851.20h7.97v8.77h-7.97zM156.66 859.47h8.47v8.77h-8.47zM172.60 859.47h7.97v8.77h-7.97zM124.78 867.73h8.47v8.77h-8.47zM156.66 867.73h8.47v8.77h-8.47zM172.60 867.73h7.97v8.77h-7.97zM116.81 900.80h8.47v8.77h-8.47zM124.78 900.80h8.47v8.77h-8.47zM124.78 909.07h8.47v8.77h-8.47zM116.81 917.33h8.47v8.77h-8.47zM172.60 933.87h7.97v8.77h-7.97zM148.69 966.93h8.47v8.77h-8.47zM172.60 966.93h7.97v8.77h-7.97zM148.69 975.20h8.47v8.77h-8.47zM116.81 991.73h8.47v8.77h-8.47zM100.87 1000.00h8.47v8.77h-8.47zM108.84 1000.00h8.47v8.77h-8.47zM116.81 1000.00h8.47v8.77h-8.47zM148.69 1000.00h8.47v8.77h-8.47zM92.90 1008.27h8.47v8.77h-8.47zM100.87 1008.27h8.47v8.77h-8.47zM116.81 1008.27h8.47v8.77h-8.47zM140.72 1008.27h8.47v8.77h-8.47zM156.66 1008.27h8.47v8.77h-8.47zM164.63 1008.27h8.47v8.77h-8.47zM172.60 1008.27h7.97v8.77h-7.97zM148.69 1016.53h8.47v8.77h-8.47zM108.84 1024.80h8.47v8.77h-8.47zM132.75 1024.80h8.47v8.77h-8.47zM124.78 1033.07h8.47v8.77h-8.47zM233.72 90.67h7.97v8.77h-7.97zM209.81 107.20h8.47v8.77h-8.47zM233.72 107.20h7.97v8.77h-7.97zM217.78 115.47h8.47v8.77h-8.47zM225.75 115.47h8.47v8.77h-8.47zM233.72 123.73h7.97v8.77h-7.97zM225.75 132.00h8.47v8.77h-8.47zM233.72 132.00h7.97v8.77h-7.97zM233.72 140.27h7.97v8.77h-7.97zM209.81 148.53h8.47v8.77h-8.47zM225.75 148.53h8.47v8.77h-8.47zM233.72 148.53h7.97v8.77h-7.97zM209.81 156.80h8.47v8.77h-8.47zM233.72 181.60h7.97v8.77h-7.97zM233.72 189.87h7.97v8.77h-7.97zM233.72 198.13h7.97v8.77h-7.97zM233.72 222.93h7.97v8.77h-7.97zM217.78 231.20h8.47v8.77h-8.47zM225.75 231.20h8.47v8.77h-8.47zM233.72 231.20h7.97v8.77h-7.97zM225.75 247.73h8.47v8.77h-8.47zM233.72 247.73h7.97v8.77h-7.97zM233.72 256.00h7.97v8.77h-7.97zM209.81 264.27h8.47v8.77h-8.47zM209.81 272.53h8.47v8.77h-8.47zM233.72 272.53h7.97v8.77h-7.97zM185.90 280.80h8.47v8.77h-8.47zM233.72 280.80h7.97v8.77h-7.97zM233.72 289.07h7.97v8.77h-7.97zM217.78 297.33h8.47v8.77h-8.47zM193.87 305.60h8.47v8.77h-8.47zM201.84 305.60h8.47v8.77h-8.47zM233.72 305.60h7.97v8.77h-7.97zM217.78 313.87h8.47v8.77h-8.47zM225.75 313.87h8.47v8.77h-8.47zM209.81 322.13h8.47v8.77h-8.47zM217.78 322.13h8.47v8.77h-8.47zM225.75 330.40h8.47v8.77h-8.47zM233.72 330.40h7.97v8.77h-7.97zM201.84 338.67h8.47v8.77h-8.47zM209.81 338.67h8.47v8.77h-8.47zM225.75 338.67h8.47v8.77h-8.47zM193.87 355.20h8.47v8.77h-8.47zM209.81 355.20h8.47v8.77h-8.47zM193.87 363.47h8.47v8.77h-8.47zM209.81 363.47h8.47v8.77h-8.47zM217.78 363.47h8.47v8.77h-8.47zM225.75 363.47h8.47v8.77h-8.47zM233.72 363.47h7.97v8.77h-7.97zM209.81 371.73h8.47v8.77h-8.47zM209.81 380.00h8.47v8.77h-8.47zM233.72 380.00h7.97v8.77h-7.97zM185.90 388.27h8.47v8.77h-8.47zM225.75 388.27h8.47v8.77h-8.47zM193.87 421.33h8.47v8.77h-8.47zM201.84 421.33h8.47v8.77h-8.47zM225.75 437.87h8.47v8.77h-8.47zM233.72 437.87h7.97v8.77h-7.97zM217.78 446.13h8.47v8.77h-8.47zM233.72 446.13h7.97v8.77h-7.97zM225.75 454.40h8.47v8.77h-8.47zM233.72 454.40h7.97v8.77h-7.97zM233.72 462.67h7.97v8.77h-7.97zM193.87 470.93h8.47v8.77h-8.47zM233.72 470.93h7.97v8.77h-7.97zM209.81 479.20h8.47v8.77h-8.47zM225.75 479.20h8.47v8.77h-8.47zM193.87 487.47h8.47v8.77h-8.47zM201.84 487.47h8.47v8.77h-8.47zM209.81 487.47h8.47v8.77h-8.47zM233.72 487.47h7.97v8.77h-7.97zM233.72 495.73h7.97v8.77h-7.97zM217.78 520.53h8.47v8.77h-8.47zM233.72 528.80h7.97v8.77h-7.97zM233.72 537.07h7.97v8.77h-7.97zM233.72 545.33h7.97v8.77h-7.97zM217.78 553.60h8.47v8.77h-8.47zM233.72 553.60h7.97v8.77h-7.97zM209.81 570.13h8.47v8.77h-8.47zM201.84 578.40h8.47v8.77h-8.47zM233.72 578.40h7.97v8.77h-7.97zM185.90 586.67h8.47v8.77h-8.47zM193.87 586.67h8.47v8.77h-8.47zM225.75 586.67h8.47v8.77h-8.47zM193.87 594.93h8.47v8.77h-8.47zM217.78 594.93h8.47v8.77h-8.47zM185.90 603.20h8.47v8.77h-8.47zM217.78 611.47h8.47v8.77h-8.47zM233.72 628.00h7.97v8.77h-7.97zM193.87 636.27h8.47v8.77h-8.47zM193.87 644.53h8.47v8.77h-8.47zM225.75 644.53h8.47v8.77h-8.47zM233.72 644.53h7.97v8.77h-7.97zM193.87 652.80h8.47v8.77h-8.47zM201.84 661.07h8.47v8.77h-8.47zM225.75 669.33h8.47v8.77h-8.47zM225.75 685.87h8.47v8.77h-8.47zM233.72 685.87h7.97v8.77h-7.97zM201.84 694.13h8.47v8.77h-8.47zM225.75 694.13h8.47v8.77h-8.47zM233.72 694.13h7.97v8.77h-7.97zM225.75 702.40h8.47v8.77h-8.47zM225.75 710.67h8.47v8.77h-8.47zM217.78 718.93h8.47v8.77h-8.47zM233.72 718.93h7.97v8.77h-7.97zM185.90 727.20h8.47v8.77h-8.47zM209.81 727.20h8.47v8.77h-8.47zM193.87 735.47h8.47v8.77h-8.47zM209.81 735.47h8.47v8.77h-8.47zM225.75 735.47h8.47v8.77h-8.47zM193.87 743.73h8.47v8.77h-8.47zM209.81 743.73h8.47v8.77h-8.47zM233.72 743.73h7.97v8.77h-7.97zM225.75 752.00h8.47v8.77h-8.47zM233.72 752.00h7.97v8.77h-7.97zM225.75 760.27h8.47v8.77h-8.47zM225.75 776.80h8.47v8.77h-8.47zM185.90 785.07h8.47v8.77h-8.47zM217.78 785.07h8.47v8.77h-8.47zM225.75 785.07h8.47v8.77h-8.47zM233.72 785.07h7.97v8.77h-7.97zM209.81 793.33h8.47v8.77h-8.47zM233.72 793.33h7.97v8.77h-7.97zM225.75 801.60h8.47v8.77h-8.47zM209.81 809.87h8.47v8.77h-8.47zM233.72 809.87h7.97v8.77h-7.97zM209.81 818.13h8.47v8.77h-8.47zM233.72 818.13h7.97v8.77h-7.97zM209.81 826.40h8.47v8.77h-8.47zM225.75 826.40h8.47v8.77h-8.47zM233.72 826.40h7.97v8.77h-7.97zM233.72 834.67h7.97v8.77h-7.97zM209.81 842.93h8.47v8.77h-8.47zM233.72 842.93h7.97v8.77h-7.97zM225.75 851.20h8.47v8.77h-8.47zM201.84 859.47h8.47v8.77h-8.47zM225.75 859.47h8.47v8.77h-8.47zM193.87 867.73h8.47v8.77h-8.47zM209.81 867.73h8.47v8.77h-8.47zM217.78 867.73h8.47v8.77h-8.47zM225.75 867.73h8.47v8.77h-8.47zM233.72 876.00h7.97v8.77h-7.97zM193.87 884.27h8.47v8.77h-8.47zM225.75 884.27h8.47v8.77h-8.47zM233.72 884.27h7.97v8.77h-7.97zM193.87 892.53h8.47v8.77h-8.47zM201.84 892.53h8.47v8.77h-8.47zM209.81 892.53h8.47v8.77h-8.47zM233.72 892.53h7.97v8.77h-7.97zM185.90 900.80h8.47v8.77h-8.47zM193.87 900.80h8.47v8.77h-8.47zM209.81 900.80h8.47v8.77h-8.47zM209.81 909.07h8.47v8.77h-8.47zM217.78 909.07h8.47v8.77h-8.47zM225.75 909.07h8.47v8.77h-8.47zM233.72 909.07h7.97v8.77h-7.97zM209.81 917.33h8.47v8.77h-8.47zM217.78 917.33h8.47v8.77h-8.47zM209.81 925.60h8.47v8.77h-8.47zM233.72 925.60h7.97v8.77h-7.97zM185.90 942.13h8.47v8.77h-8.47zM201.84 950.40h8.47v8.77h-8.47zM225.75 950.40h8.47v8.77h-8.47zM185.90 958.67h8.47v8.77h-8.47zM217.78 958.67h8.47v8.77h-8.47zM225.75 958.67h8.47v8.77h-8.47zM201.84 966.93h8.47v8.77h-8.47zM209.81 966.93h8.47v8.77h-8.47zM225.75 966.93h8.47v8.77h-8.47zM233.72 966.93h7.97v8.77h-7.97zM225.75 983.47h8.47v8.77h-8.47zM233.72 983.47h7.97v8.77h-7.97zM193.87 991.73h8.47v8.77h-8.47zM193.87 1000.00h8.47v8.77h-8.47zM217.78 1000.00h8.47v8.77h-8.47zM185.90 1008.27h8.47v8.77h-8.47zM193.87 1008.27h8.47v8.77h-8.47zM193.87 1024.80h8.47v8.77h-8.47zM201.84 1024.80h8.47v8.77h-8.47zM225.75 1033.07h8.47v8.77h-8.47zM209.81 1041.33h8.47v8.27h-8.47zM246.70 82.40h8.47v8.77h-8.47zM254.67 82.40h8.47v8.77h-8.47zM262.64 82.40h8.47v8.77h-8.47zM246.70 90.67h8.47v8.77h-8.47zM278.58 90.67h8.47v8.77h-8.47zM294.52 90.67h8.47v8.77h-8.47zM270.61 98.93h8.47v8.77h-8.47zM278.58 98.93h8.47v8.77h-8.47zM246.70 107.20h8.47v8.77h-8.47zM254.67 107.20h8.47v8.77h-8.47zM278.58 107.20h8.47v8.77h-8.47zM254.67 115.47h8.47v8.77h-8.47zM262.64 123.73h8.47v8.77h-8.47zM278.58 123.73h8.47v8.77h-8.47zM286.55 123.73h8.47v8.77h-8.47zM262.64 132.00h8.47v8.77h-8.47zM286.55 132.00h8.47v8.77h-8.47zM294.52 132.00h8.47v8.77h-8.47zM318.43 132.00h7.97v8.77h-7.97zM246.70 140.27h8.47v8.77h-8.47zM286.55 140.27h8.47v8.77h-8.47zM246.70 148.53h8.47v8.77h-8.47zM254.67 148.53h8.47v8.77h-8.47zM278.58 148.53h8.47v8.77h-8.47zM286.55 148.53h8.47v8.77h-8.47zM254.67 156.80h8.47v8.77h-8.47zM262.64 156.80h8.47v8.77h-8.47zM270.61 156.80h8.47v8.77h-8.47zM246.70 165.07h8.47v8.77h-8.47zM254.67 165.07h8.47v8.77h-8.47zM246.70 173.33h8.47v8.77h-8.47zM286.55 173.33h8.47v8.77h-8.47zM270.61 181.60h8.47v8.77h-8.47zM286.55 181.60h8.47v8.77h-8.47zM254.67 189.87h8.47v8.77h-8.47zM318.43 189.87h7.97v8.77h-7.97zM286.55 198.13h8.47v8.77h-8.47zM318.43 198.13h7.97v8.77h-7.97zM254.67 206.40h8.47v8.77h-8.47zM286.55 206.40h8.47v8.77h-8.47zM262.64 214.67h8.47v8.77h-8.47zM246.70 222.93h8.47v8.77h-8.47zM254.67 222.93h8.47v8.77h-8.47zM270.61 222.93h8.47v8.77h-8.47zM310.46 222.93h8.47v8.77h-8.47zM262.64 231.20h8.47v8.77h-8.47zM294.52 231.20h8.47v8.77h-8.47zM318.43 231.20h7.97v8.77h-7.97zM286.55 239.47h8.47v8.77h-8.47zM310.46 239.47h8.47v8.77h-8.47zM318.43 239.47h7.97v8.77h-7.97zM262.64 247.73h8.47v8.77h-8.47zM310.46 247.73h8.47v8.77h-8.47zM318.43 247.73h7.97v8.77h-7.97zM246.70 256.00h8.47v8.77h-8.47zM254.67 256.00h8.47v8.77h-8.47zM294.52 256.00h8.47v8.77h-8.47zM246.70 272.53h8.47v8.77h-8.47zM310.46 272.53h8.47v8.77h-8.47zM254.67 280.80h8.47v8.77h-8.47zM270.61 280.80h8.47v8.77h-8.47zM286.55 280.80h8.47v8.77h-8.47zM294.52 280.80h8.47v8.77h-8.47zM254.67 289.07h8.47v8.77h-8.47zM262.64 289.07h8.47v8.77h-8.47zM278.58 289.07h8.47v8.77h-8.47zM246.70 297.33h8.47v8.77h-8.47zM254.67 297.33h8.47v8.77h-8.47zM270.61 297.33h8.47v8.77h-8.47zM262.64 305.60h8.47v8.77h-8.47zM318.43 305.60h7.97v8.77h-7.97zM246.70 313.87h8.47v8.77h-8.47zM254.67 313.87h8.47v8.77h-8.47zM246.70 322.13h8.47v8.77h-8.47zM262.64 322.13h8.47v8.77h-8.47zM262.64 330.40h8.47v8.77h-8.47zM262.64 338.67h8.47v8.77h-8.47zM294.52 346.93h8.47v8.77h-8.47zM254.67 355.20h8.47v8.77h-8.47zM262.64 355.20h8.47v8.77h-8.47zM294.52 355.20h8.47v8.77h-8.47zM318.43 355.20h7.97v8.77h-7.97zM254.67 363.47h8.47v8.77h-8.47zM286.55 363.47h8.47v8.77h-8.47zM294.52 363.47h8.47v8.77h-8.47zM318.43 363.47h7.97v8.77h-7.97zM254.67 371.73h8.47v8.77h-8.47zM286.55 371.73h8.47v8.77h-8.47zM318.43 371.73h7.97v8.77h-7.97zM246.70 388.27h8.47v8.77h-8.47zM270.61 388.27h8.47v8.77h-8.47zM294.52 388.27h8.47v8.77h-8.47zM318.43 388.27h7.97v8.77h-7.97zM262.64 404.80h8.47v8.77h-8.47zM262.64 413.07h8.47v8.77h-8.47zM318.43 413.07h7.97v8.77h-7.97zM246.70 421.33h8.47v8.77h-8.47zM254.67 421.33h8.47v8.77h-8.47zM270.61 421.33h8.47v8.77h-8.47zM246.70 429.60h8.47v8.77h-8.47zM254.67 429.60h8.47v8.77h-8.47zM294.52 429.60h8.47v8.77h-8.47zM246.70 437.87h8.47v8.77h-8.47zM286.55 437.87h8.47v8.77h-8.47zM262.64 446.13h8.47v8.77h-8.47zM294.52 446.13h8.47v8.77h-8.47zM294.52 454.40h8.47v8.77h-8.47zM318.43 454.40h7.97v8.77h-7.97zM246.70 462.67h8.47v8.77h-8.47zM254.67 462.67h8.47v8.77h-8.47zM286.55 462.67h8.47v8.77h-8.47zM254.67 470.93h8.47v8.77h-8.47zM262.64 470.93h8.47v8.77h-8.47zM286.55 470.93h8.47v8.77h-8.47zM294.52 470.93h8.47v8.77h-8.47zM270.61 479.20h8.47v8.77h-8.47zM318.43 479.20h7.97v8.77h-7.97zM246.70 487.47h8.47v8.77h-8.47zM262.64 487.47h8.47v8.77h-8.47zM278.58 487.47h8.47v8.77h-8.47zM318.43 487.47h7.97v8.77h-7.97zM246.70 495.73h8.47v8.77h-8.47zM262.64 495.73h8.47v8.77h-8.47zM246.70 504.00h8.47v8.77h-8.47zM254.67 504.00h8.47v8.77h-8.47zM262.64 504.00h8.47v8.77h-8.47zM318.43 504.00h7.97v8.77h-7.97zM278.58 512.27h8.47v8.77h-8.47zM286.55 512.27h8.47v8.77h-8.47zM294.52 512.27h8.47v8.77h-8.47zM246.70 520.53h8.47v8.77h-8.47zM278.58 520.53h8.47v8.77h-8.47zM246.70 528.80h8.47v8.77h-8.47zM262.64 528.80h8.47v8.77h-8.47zM262.64 537.07h8.47v8.77h-8.47zM286.55 537.07h8.47v8.77h-8.47zM294.52 537.07h8.47v8.77h-8.47zM246.70 545.33h8.47v8.77h-8.47zM254.67 545.33h8.47v8.77h-8.47zM270.61 545.33h8.47v8.77h-8.47zM294.52 545.33h8.47v8.77h-8.47zM270.61 553.60h8.47v8.77h-8.47zM294.52 553.60h8.47v8.77h-8.47zM246.70 561.87h8.47v8.77h-8.47zM254.67 561.87h8.47v8.77h-8.47zM286.55 561.87h8.47v8.77h-8.47zM246.70 570.13h8.47v8.77h-8.47zM254.67 570.13h8.47v8.77h-8.47zM262.64 570.13h8.47v8.77h-8.47zM278.58 570.13h8.47v8.77h-8.47zM286.55 570.13h8.47v8.77h-8.47zM294.52 570.13h8.47v8.77h-8.47zM262.64 578.40h8.47v8.77h-8.47zM294.52 578.40h8.47v8.77h-8.47zM318.43 578.40h7.97v8.77h-7.97zM254.67 586.67h8.47v8.77h-8.47zM262.64 586.67h8.47v8.77h-8.47zM286.55 586.67h8.47v8.77h-8.47zM246.70 594.93h8.47v8.77h-8.47zM246.70 603.20h8.47v8.77h-8.47zM262.64 611.47h8.47v8.77h-8.47zM278.58 619.73h8.47v8.77h-8.47zM286.55 619.73h8.47v8.77h-8.47zM294.52 619.73h8.47v8.77h-8.47zM246.70 628.00h8.47v8.77h-8.47zM254.67 628.00h8.47v8.77h-8.47zM270.61 628.00h8.47v8.77h-8.47zM294.52 628.00h8.47v8.77h-8.47zM254.67 636.27h8.47v8.77h-8.47zM294.52 636.27h8.47v8.77h-8.47zM262.64 644.53h8.47v8.77h-8.47zM246.70 652.80h8.47v8.77h-8.47zM270.61 652.80h8.47v8.77h-8.47zM310.46 652.80h8.47v8.77h-8.47zM254.67 661.07h8.47v8.77h-8.47zM278.58 661.07h8.47v8.77h-8.47zM286.55 661.07h8.47v8.77h-8.47zM246.70 669.33h8.47v8.77h-8.47zM254.67 669.33h8.47v8.77h-8.47zM270.61 669.33h8.47v8.77h-8.47zM278.58 669.33h8.47v8.77h-8.47zM294.52 669.33h8.47v8.77h-8.47zM302.49 669.33h8.47v8.77h-8.47zM246.70 677.60h8.47v8.77h-8.47zM254.67 677.60h8.47v8.77h-8.47zM286.55 677.60h8.47v8.77h-8.47zM294.52 677.60h8.47v8.77h-8.47zM246.70 685.87h8.47v8.77h-8.47zM262.64 685.87h8.47v8.77h-8.47zM270.61 685.87h8.47v8.77h-8.47zM278.58 685.87h8.47v8.77h-8.47zM286.55 685.87h8.47v8.77h-8.47zM294.52 685.87h8.47v8.77h-8.47zM246.70 694.13h8.47v8.77h-8.47zM286.55 702.40h8.47v8.77h-8.47zM302.49 702.40h8.47v8.77h-8.47zM294.52 710.67h8.47v8.77h-8.47zM262.64 718.93h8.47v8.77h-8.47zM286.55 718.93h8.47v8.77h-8.47zM294.52 718.93h8.47v8.77h-8.47zM294.52 727.20h8.47v8.77h-8.47zM262.64 735.47h8.47v8.77h-8.47zM286.55 735.47h8.47v8.77h-8.47zM294.52 735.47h8.47v8.77h-8.47zM246.70 743.73h8.47v8.77h-8.47zM262.64 743.73h8.47v8.77h-8.47zM294.52 743.73h8.47v8.77h-8.47zM310.46 743.73h8.47v8.77h-8.47zM246.70 752.00h8.47v8.77h-8.47zM318.43 752.00h7.97v8.77h-7.97zM246.70 760.27h8.47v8.77h-8.47zM278.58 760.27h8.47v8.77h-8.47zM254.67 768.53h8.47v8.77h-8.47zM262.64 768.53h8.47v8.77h-8.47zM310.46 768.53h8.47v8.77h-8.47zM302.49 776.80h8.47v8.77h-8.47zM254.67 785.07h8.47v8.77h-8.47zM270.61 785.07h8.47v8.77h-8.47zM246.70 793.33h8.47v8.77h-8.47zM254.67 793.33h8.47v8.77h-8.47zM286.55 793.33h8.47v8.77h-8.47zM302.49 793.33h8.47v8.77h-8.47zM310.46 793.33h8.47v8.77h-8.47zM318.43 793.33h7.97v8.77h-7.97zM254.67 801.60h8.47v8.77h-8.47zM286.55 801.60h8.47v8.77h-8.47zM262.64 809.87h8.47v8.77h-8.47zM286.55 809.87h8.47v8.77h-8.47zM254.67 818.13h8.47v8.77h-8.47zM302.49 818.13h8.47v8.77h-8.47zM286.55 826.40h8.47v8.77h-8.47zM246.70 834.67h8.47v8.77h-8.47zM270.61 842.93h8.47v8.77h-8.47zM286.55 842.93h8.47v8.77h-8.47zM318.43 842.93h7.97v8.77h-7.97zM318.43 851.20h7.97v8.77h-7.97zM246.70 859.47h8.47v8.77h-8.47zM302.49 859.47h8.47v8.77h-8.47zM310.46 859.47h8.47v8.77h-8.47zM262.64 867.73h8.47v8.77h-8.47zM294.52 867.73h8.47v8.77h-8.47zM310.46 867.73h8.47v8.77h-8.47zM254.67 876.00h8.47v8.77h-8.47zM278.58 876.00h8.47v8.77h-8.47zM286.55 876.00h8.47v8.77h-8.47zM246.70 884.27h8.47v8.77h-8.47zM254.67 884.27h8.47v8.77h-8.47zM294.52 884.27h8.47v8.77h-8.47zM318.43 884.27h7.97v8.77h-7.97zM246.70 892.53h8.47v8.77h-8.47zM270.61 892.53h8.47v8.77h-8.47zM294.52 892.53h8.47v8.77h-8.47zM318.43 892.53h7.97v8.77h-7.97zM246.70 900.80h8.47v8.77h-8.47zM246.70 909.07h8.47v8.77h-8.47zM254.67 909.07h8.47v8.77h-8.47zM270.61 909.07h8.47v8.77h-8.47zM286.55 909.07h8.47v8.77h-8.47zM294.52 909.07h8.47v8.77h-8.47zM246.70 917.33h8.47v8.77h-8.47zM270.61 917.33h8.47v8.77h-8.47zM294.52 917.33h8.47v8.77h-8.47zM286.55 925.60h8.47v8.77h-8.47zM294.52 925.60h8.47v8.77h-8.47zM318.43 925.60h7.97v8.77h-7.97zM246.70 933.87h8.47v8.77h-8.47zM270.61 933.87h8.47v8.77h-8.47zM302.49 933.87h8.47v8.77h-8.47zM254.67 942.13h8.47v8.77h-8.47zM270.61 942.13h8.47v8.77h-8.47zM278.58 942.13h8.47v8.77h-8.47zM286.55 942.13h8.47v8.77h-8.47zM294.52 942.13h8.47v8.77h-8.47zM302.49 942.13h8.47v8.77h-8.47zM318.43 942.13h7.97v8.77h-7.97zM270.61 950.40h8.47v8.77h-8.47zM294.52 950.40h8.47v8.77h-8.47zM302.49 950.40h8.47v8.77h-8.47zM318.43 950.40h7.97v8.77h-7.97zM246.70 958.67h8.47v8.77h-8.47zM246.70 966.93h8.47v8.77h-8.47zM286.55 966.93h8.47v8.77h-8.47zM302.49 966.93h8.47v8.77h-8.47zM286.55 975.20h8.47v8.77h-8.47zM318.43 975.20h7.97v8.77h-7.97zM262.64 983.47h8.47v8.77h-8.47zM286.55 991.73h8.47v8.77h-8.47zM310.46 991.73h8.47v8.77h-8.47zM310.46 1000.00h8.47v8.77h-8.47zM254.67 1008.27h8.47v8.77h-8.47zM278.58 1008.27h8.47v8.77h-8.47zM294.52 1008.27h8.47v8.77h-8.47zM318.43 1016.53h7.97v8.77h-7.97zM286.55 1024.80h8.47v8.77h-8.47z"/><path fill="#cdc43e" d="M100.87 239.47h8.47v8.77h-8.47zM132.75 272.53h8.47v8.77h-8.47zM124.78 289.07h8.47v8.77h-8.47zM132.75 313.87h8.47v8.77h-8.47zM132.75 388.27h8.47v8.77h-8.47zM132.75 421.33h8.47v8.77h-8.47zM116.81 578.40h8.47v8.77h-8.47zM124.78 603.20h8.47v8.77h-8.47zM92.90 611.47h8.47v8.77h-8.47zM140.72 694.13h8.47v8.77h-8.47zM116.81 743.73h8.47v8.77h-8.47zM124.78 752.00h8.47v8.77h-8.47zM116.81 785.07h8.47v8.77h-8.47zM116.81 909.07h8.47v8.77h-8.47zM124.78 917.33h8.47v8.77h-8.47zM124.78 925.60h8.47v8.77h-8.47zM172.60 958.67h7.97v8.77h-7.97zM100.87 991.73h8.47v8.77h-8.47zM132.75 991.73h8.47v8.77h-8.47zM164.63 991.73h8.47v8.77h-8.47zM92.90 1000.00h8.47v8.77h-8.47zM132.75 1008.27h8.47v8.77h-8.47zM92.90 1016.53h8.47v8.77h-8.47zM108.84 1016.53h8.47v8.77h-8.47zM124.78 1024.80h8.47v8.77h-8.47zM156.66 1024.80h8.47v8.77h-8.47zM164.63 1024.80h8.47v8.77h-8.47zM100.87 1033.07h8.47v8.77h-8.47zM108.84 1033.07h8.47v8.77h-8.47zM140.72 1033.07h8.47v8.77h-8.47zM148.69 1033.07h8.47v8.77h-8.47zM156.66 1033.07h8.47v8.77h-8.47zM108.84 1041.33h8.47v8.27h-8.47zM233.72 82.40h7.97v8.77h-7.97zM209.81 98.93h8.47v8.77h-8.47zM217.78 98.93h8.47v8.77h-8.47zM225.75 98.93h8.47v8.77h-8.47zM217.78 107.20h8.47v8.77h-8.47zM209.81 123.73h8.47v8.77h-8.47zM225.75 123.73h8.47v8.77h-8.47zM209.81 132.00h8.47v8.77h-8.47zM233.72 156.80h7.97v8.77h-7.97zM233.72 173.33h7.97v8.77h-7.97zM233.72 214.67h7.97v8.77h-7.97zM209.81 222.93h8.47v8.77h-8.47zM209.81 231.20h8.47v8.77h-8.47zM209.81 239.47h8.47v8.77h-8.47zM233.72 264.27h7.97v8.77h-7.97zM209.81 280.80h8.47v8.77h-8.47zM217.78 280.80h8.47v8.77h-8.47zM225.75 280.80h8.47v8.77h-8.47zM185.90 289.07h8.47v8.77h-8.47zM225.75 289.07h8.47v8.77h-8.47zM185.90 297.33h8.47v8.77h-8.47zM233.72 297.33h7.97v8.77h-7.97zM185.90 322.13h8.47v8.77h-8.47zM233.72 322.13h7.97v8.77h-7.97zM209.81 330.40h8.47v8.77h-8.47zM233.72 338.67h7.97v8.77h-7.97zM201.84 346.93h8.47v8.77h-8.47zM225.75 346.93h8.47v8.77h-8.47zM233.72 355.20h7.97v8.77h-7.97zM193.87 371.73h8.47v8.77h-8.47zM225.75 371.73h8.47v8.77h-8.47zM233.72 371.73h7.97v8.77h-7.97zM193.87 380.00h8.47v8.77h-8.47zM225.75 380.00h8.47v8.77h-8.47zM233.72 388.27h7.97v8.77h-7.97zM209.81 396.53h8.47v8.77h-8.47zM225.75 396.53h8.47v8.77h-8.47zM193.87 404.80h8.47v8.77h-8.47zM201.84 404.80h8.47v8.77h-8.47zM209.81 404.80h8.47v8.77h-8.47zM233.72 404.80h7.97v8.77h-7.97zM193.87 413.07h8.47v8.77h-8.47zM201.84 413.07h8.47v8.77h-8.47zM233.72 413.07h7.97v8.77h-7.97zM209.81 421.33h8.47v8.77h-8.47zM217.78 421.33h8.47v8.77h-8.47zM225.75 421.33h8.47v8.77h-8.47zM233.72 421.33h7.97v8.77h-7.97zM233.72 504.00h7.97v8.77h-7.97zM193.87 561.87h8.47v8.77h-8.47zM225.75 561.87h8.47v8.77h-8.47zM233.72 570.13h7.97v8.77h-7.97zM193.87 578.40h8.47v8.77h-8.47zM225.75 594.93h8.47v8.77h-8.47zM225.75 603.20h8.47v8.77h-8.47zM209.81 619.73h8.47v8.77h-8.47zM209.81 628.00h8.47v8.77h-8.47zM225.75 652.80h8.47v8.77h-8.47zM201.84 669.33h8.47v8.77h-8.47zM209.81 694.13h8.47v8.77h-8.47zM201.84 702.40h8.47v8.77h-8.47zM233.72 735.47h7.97v8.77h-7.97zM209.81 752.00h8.47v8.77h-8.47zM193.87 760.27h8.47v8.77h-8.47zM225.75 768.53h8.47v8.77h-8.47zM201.84 785.07h8.47v8.77h-8.47zM209.81 834.67h8.47v8.77h-8.47zM209.81 851.20h8.47v8.77h-8.47zM185.90 876.00h8.47v8.77h-8.47zM201.84 884.27h8.47v8.77h-8.47zM225.75 892.53h8.47v8.77h-8.47zM233.72 900.80h7.97v8.77h-7.97zM225.75 917.33h8.47v8.77h-8.47zM233.72 917.33h7.97v8.77h-7.97zM225.75 925.60h8.47v8.77h-8.47zM201.84 942.13h8.47v8.77h-8.47zM209.81 983.47h8.47v8.77h-8.47zM193.87 1033.07h8.47v8.77h-8.47zM217.78 1041.33h8.47v8.27h-8.47zM286.55 82.40h8.47v8.77h-8.47zM294.52 82.40h8.47v8.77h-8.47zM254.67 90.67h8.47v8.77h-8.47zM262.64 90.67h8.47v8.77h-8.47zM270.61 90.67h8.47v8.77h-8.47zM246.70 98.93h8.47v8.77h-8.47zM254.67 98.93h8.47v8.77h-8.47zM262.64 98.93h8.47v8.77h-8.47zM294.52 98.93h8.47v8.77h-8.47zM262.64 107.20h8.47v8.77h-8.47zM286.55 107.20h8.47v8.77h-8.47zM318.43 107.20h7.97v8.77h-7.97zM246.70 115.47h8.47v8.77h-8.47zM262.64 115.47h8.47v8.77h-8.47zM294.52 115.47h8.47v8.77h-8.47zM254.67 123.73h8.47v8.77h-8.47zM294.52 123.73h8.47v8.77h-8.47zM270.61 132.00h8.47v8.77h-8.47zM278.58 140.27h8.47v8.77h-8.47zM318.43 140.27h7.97v8.77h-7.97zM270.61 148.53h8.47v8.77h-8.47zM318.43 148.53h7.97v8.77h-7.97zM246.70 156.80h8.47v8.77h-8.47zM278.58 156.80h8.47v8.77h-8.47zM318.43 165.07h7.97v8.77h-7.97zM262.64 173.33h8.47v8.77h-8.47zM278.58 173.33h8.47v8.77h-8.47zM294.52 173.33h8.47v8.77h-8.47zM318.43 173.33h7.97v8.77h-7.97zM246.70 181.60h8.47v8.77h-8.47zM262.64 189.87h8.47v8.77h-8.47zM246.70 198.13h8.47v8.77h-8.47zM262.64 198.13h8.47v8.77h-8.47zM294.52 206.40h8.47v8.77h-8.47zM318.43 206.40h7.97v8.77h-7.97zM246.70 214.67h8.47v8.77h-8.47zM278.58 214.67h8.47v8.77h-8.47zM262.64 222.93h8.47v8.77h-8.47zM294.52 222.93h8.47v8.77h-8.47zM302.49 222.93h8.47v8.77h-8.47zM318.43 222.93h7.97v8.77h-7.97zM246.70 231.20h8.47v8.77h-8.47zM254.67 231.20h8.47v8.77h-8.47zM270.61 231.20h8.47v8.77h-8.47zM302.49 231.20h8.47v8.77h-8.47zM310.46 231.20h8.47v8.77h-8.47zM254.67 239.47h8.47v8.77h-8.47zM262.64 239.47h8.47v8.77h-8.47zM254.67 247.73h8.47v8.77h-8.47zM278.58 256.00h8.47v8.77h-8.47zM270.61 264.27h8.47v8.77h-8.47zM294.52 264.27h8.47v8.77h-8.47zM302.49 264.27h8.47v8.77h-8.47zM310.46 264.27h8.47v8.77h-8.47zM318.43 264.27h7.97v8.77h-7.97zM254.67 272.53h8.47v8.77h-8.47zM318.43 272.53h7.97v8.77h-7.97zM262.64 280.80h8.47v8.77h-8.47zM310.46 280.80h8.47v8.77h-8.47zM246.70 289.07h8.47v8.77h-8.47zM318.43 289.07h7.97v8.77h-7.97zM246.70 305.60h8.47v8.77h-8.47zM254.67 305.60h8.47v8.77h-8.47zM270.61 313.87h8.47v8.77h-8.47zM270.61 330.40h8.47v8.77h-8.47zM294.52 330.40h8.47v8.77h-8.47zM246.70 338.67h8.47v8.77h-8.47zM254.67 338.67h8.47v8.77h-8.47zM318.43 338.67h7.97v8.77h-7.97zM318.43 346.93h7.97v8.77h-7.97zM262.64 363.47h8.47v8.77h-8.47zM254.67 396.53h8.47v8.77h-8.47zM278.58 396.53h8.47v8.77h-8.47zM286.55 396.53h8.47v8.77h-8.47zM246.70 404.80h8.47v8.77h-8.47zM254.67 413.07h8.47v8.77h-8.47zM270.61 413.07h8.47v8.77h-8.47zM302.49 413.07h8.47v8.77h-8.47zM262.64 421.33h8.47v8.77h-8.47zM310.46 421.33h8.47v8.77h-8.47zM270.61 429.60h8.47v8.77h-8.47zM286.55 429.60h8.47v8.77h-8.47zM254.67 437.87h8.47v8.77h-8.47zM262.64 437.87h8.47v8.77h-8.47zM286.55 446.13h8.47v8.77h-8.47zM318.43 446.13h7.97v8.77h-7.97zM262.64 454.40h8.47v8.77h-8.47zM278.58 454.40h8.47v8.77h-8.47zM270.61 462.67h8.47v8.77h-8.47zM318.43 462.67h7.97v8.77h-7.97zM270.61 470.93h8.47v8.77h-8.47zM318.43 470.93h7.97v8.77h-7.97zM246.70 479.20h8.47v8.77h-8.47zM254.67 479.20h8.47v8.77h-8.47zM254.67 487.47h8.47v8.77h-8.47zM270.61 495.73h8.47v8.77h-8.47zM310.46 495.73h8.47v8.77h-8.47zM318.43 495.73h7.97v8.77h-7.97zM270.61 504.00h8.47v8.77h-8.47zM294.52 504.00h8.47v8.77h-8.47zM294.52 528.80h8.47v8.77h-8.47zM310.46 528.80h8.47v8.77h-8.47zM318.43 528.80h7.97v8.77h-7.97zM254.67 537.07h8.47v8.77h-8.47zM310.46 537.07h8.47v8.77h-8.47zM262.64 545.33h8.47v8.77h-8.47zM286.55 545.33h8.47v8.77h-8.47zM246.70 553.60h8.47v8.77h-8.47zM278.58 553.60h8.47v8.77h-8.47zM310.46 553.60h8.47v8.77h-8.47zM318.43 561.87h7.97v8.77h-7.97zM270.61 578.40h8.47v8.77h-8.47zM270.61 586.67h8.47v8.77h-8.47zM294.52 586.67h8.47v8.77h-8.47zM254.67 603.20h8.47v8.77h-8.47zM270.61 603.20h8.47v8.77h-8.47zM302.49 603.20h8.47v8.77h-8.47zM310.46 603.20h8.47v8.77h-8.47zM270.61 611.47h8.47v8.77h-8.47zM294.52 611.47h8.47v8.77h-8.47zM302.49 611.47h8.47v8.77h-8.47zM318.43 611.47h7.97v8.77h-7.97zM246.70 619.73h8.47v8.77h-8.47zM318.43 619.73h7.97v8.77h-7.97zM262.64 628.00h8.47v8.77h-8.47zM318.43 628.00h7.97v8.77h-7.97zM270.61 636.27h8.47v8.77h-8.47zM246.70 644.53h8.47v8.77h-8.47zM254.67 644.53h8.47v8.77h-8.47zM286.55 644.53h8.47v8.77h-8.47zM318.43 644.53h7.97v8.77h-7.97zM254.67 652.80h8.47v8.77h-8.47zM318.43 652.80h7.97v8.77h-7.97zM246.70 661.07h8.47v8.77h-8.47zM310.46 661.07h8.47v8.77h-8.47zM302.49 677.60h8.47v8.77h-8.47zM302.49 685.87h8.47v8.77h-8.47zM310.46 685.87h8.47v8.77h-8.47zM318.43 685.87h7.97v8.77h-7.97zM294.52 694.13h8.47v8.77h-8.47zM302.49 694.13h8.47v8.77h-8.47zM318.43 694.13h7.97v8.77h-7.97zM318.43 702.40h7.97v8.77h-7.97zM286.55 710.67h8.47v8.77h-8.47zM318.43 710.67h7.97v8.77h-7.97zM278.58 718.93h8.47v8.77h-8.47zM302.49 718.93h8.47v8.77h-8.47zM278.58 727.20h8.47v8.77h-8.47zM302.49 727.20h8.47v8.77h-8.47zM310.46 727.20h8.47v8.77h-8.47zM302.49 735.47h8.47v8.77h-8.47zM310.46 735.47h8.47v8.77h-8.47zM318.43 735.47h7.97v8.77h-7.97zM254.67 743.73h8.47v8.77h-8.47zM302.49 743.73h8.47v8.77h-8.47zM262.64 752.00h8.47v8.77h-8.47zM302.49 752.00h8.47v8.77h-8.47zM262.64 760.27h8.47v8.77h-8.47zM286.55 760.27h8.47v8.77h-8.47zM294.52 760.27h8.47v8.77h-8.47zM246.70 768.53h8.47v8.77h-8.47zM254.67 776.80h8.47v8.77h-8.47zM278.58 776.80h8.47v8.77h-8.47zM310.46 776.80h8.47v8.77h-8.47zM270.61 801.60h8.47v8.77h-8.47zM294.52 801.60h8.47v8.77h-8.47zM302.49 801.60h8.47v8.77h-8.47zM318.43 801.60h7.97v8.77h-7.97zM246.70 809.87h8.47v8.77h-8.47zM254.67 809.87h8.47v8.77h-8.47zM294.52 809.87h8.47v8.77h-8.47zM302.49 809.87h8.47v8.77h-8.47zM286.55 818.13h8.47v8.77h-8.47zM310.46 818.13h8.47v8.77h-8.47zM246.70 826.40h8.47v8.77h-8.47zM254.67 826.40h8.47v8.77h-8.47zM302.49 826.40h8.47v8.77h-8.47zM318.43 826.40h7.97v8.77h-7.97zM246.70 842.93h8.47v8.77h-8.47zM254.67 851.20h8.47v8.77h-8.47zM270.61 851.20h8.47v8.77h-8.47zM302.49 851.20h8.47v8.77h-8.47zM302.49 876.00h8.47v8.77h-8.47zM262.64 884.27h8.47v8.77h-8.47zM270.61 884.27h8.47v8.77h-8.47zM302.49 884.27h8.47v8.77h-8.47zM302.49 892.53h8.47v8.77h-8.47zM310.46 892.53h8.47v8.77h-8.47zM294.52 900.80h8.47v8.77h-8.47zM302.49 900.80h8.47v8.77h-8.47zM302.49 909.07h8.47v8.77h-8.47zM310.46 909.07h8.47v8.77h-8.47zM302.49 917.33h8.47v8.77h-8.47zM254.67 925.60h8.47v8.77h-8.47zM270.61 925.60h8.47v8.77h-8.47zM310.46 925.60h8.47v8.77h-8.47zM310.46 933.87h8.47v8.77h-8.47zM318.43 933.87h7.97v8.77h-7.97zM310.46 942.13h8.47v8.77h-8.47zM310.46 950.40h8.47v8.77h-8.47zM270.61 958.67h8.47v8.77h-8.47zM318.43 958.67h7.97v8.77h-7.97zM254.67 966.93h8.47v8.77h-8.47zM270.61 966.93h8.47v8.77h-8.47zM246.70 975.20h8.47v8.77h-8.47zM254.67 975.20h8.47v8.77h-8.47zM302.49 975.20h8.47v8.77h-8.47zM246.70 983.47h8.47v8.77h-8.47zM254.67 1033.07h8.47v8.77h-8.47zM278.58 1041.33h8.47v8.27h-8.47z"/><path fill="#f6e617" d="M132.75 132.00h8.47v8.77h-8.47zM116.81 280.80h8.47v8.77h-8.47zM108.84 346.93h8.47v8.77h-8.47zM172.60 421.33h7.97v8.77h-7.97zM116.81 512.27h8.47v8.77h-8.47zM172.60 950.40h7.97v8.77h-7.97zM140.72 991.73h8.47v8.77h-8.47zM140.72 1000.00h8.47v8.77h-8.47zM164.63 1000.00h8.47v8.77h-8.47zM140.72 1016.53h8.47v8.77h-8.47zM156.66 1016.53h8.47v8.77h-8.47zM148.69 1024.80h8.47v8.77h-8.47zM164.63 1033.07h8.47v8.77h-8.47zM92.90 1041.33h8.47v8.27h-8.47zM100.87 1041.33h8.47v8.27h-8.47zM116.81 1041.33h8.47v8.27h-8.47zM124.78 1041.33h8.47v8.27h-8.47zM148.69 1041.33h8.47v8.27h-8.47zM233.72 98.93h7.97v8.77h-7.97zM201.84 115.47h8.47v8.77h-8.47zM233.72 115.47h7.97v8.77h-7.97zM225.75 222.93h8.47v8.77h-8.47zM209.81 247.73h8.47v8.77h-8.47zM225.75 297.33h8.47v8.77h-8.47zM193.87 322.13h8.47v8.77h-8.47zM193.87 388.27h8.47v8.77h-8.47zM233.72 396.53h7.97v8.77h-7.97zM225.75 404.80h8.47v8.77h-8.47zM225.75 413.07h8.47v8.77h-8.47zM233.72 479.20h7.97v8.77h-7.97zM225.75 611.47h8.47v8.77h-8.47zM201.84 776.80h8.47v8.77h-8.47zM209.81 859.47h8.47v8.77h-8.47zM209.81 876.00h8.47v8.77h-8.47zM201.84 933.87h8.47v8.77h-8.47zM201.84 975.20h8.47v8.77h-8.47zM225.75 975.20h8.47v8.77h-8.47zM193.87 1016.53h8.47v8.77h-8.47zM193.87 1041.33h8.47v8.27h-8.47zM270.61 82.40h8.47v8.77h-8.47zM302.49 82.40h8.47v8.77h-8.47zM310.46 82.40h8.47v8.77h-8.47zM318.43 82.40h7.97v8.77h-7.97zM286.55 90.67h8.47v8.77h-8.47zM302.49 90.67h8.47v8.77h-8.47zM310.46 90.67h8.47v8.77h-8.47zM318.43 90.67h7.97v8.77h-7.97zM286.55 98.93h8.47v8.77h-8.47zM302.49 98.93h8.47v8.77h-8.47zM310.46 98.93h8.47v8.77h-8.47zM318.43 98.93h7.97v8.77h-7.97zM270.61 107.20h8.47v8.77h-8.47zM302.49 107.20h8.47v8.77h-8.47zM310.46 107.20h8.47v8.77h-8.47zM270.61 115.47h8.47v8.77h-8.47zM286.55 115.47h8.47v8.77h-8.47zM302.49 115.47h8.47v8.77h-8.47zM310.46 115.47h8.47v8.77h-8.47zM318.43 115.47h7.97v8.77h-7.97zM246.70 123.73h8.47v8.77h-8.47zM270.61 123.73h8.47v8.77h-8.47zM302.49 123.73h8.47v8.77h-8.47zM310.46 123.73h8.47v8.77h-8.47zM318.43 123.73h7.97v8.77h-7.97zM246.70 132.00h8.47v8.77h-8.47zM254.67 132.00h8.47v8.77h-8.47zM302.49 132.00h8.47v8.77h-8.47zM310.46 132.00h8.47v8.77h-8.47zM270.61 140.27h8.47v8.77h-8.47zM302.49 140.27h8.47v8.77h-8.47zM310.46 140.27h8.47v8.77h-8.47zM302.49 148.53h8.47v8.77h-8.47zM310.46 148.53h8.47v8.77h-8.47zM302.49 156.80h8.47v8.77h-8.47zM310.46 156.80h8.47v8.77h-8.47zM318.43 156.80h7.97v8.77h-7.97zM270.61 165.07h8.47v8.77h-8.47zM278.58 165.07h8.47v8.77h-8.47zM302.49 165.07h8.47v8.77h-8.47zM310.46 165.07h8.47v8.77h-8.47zM270.61 173.33h8.47v8.77h-8.47zM302.49 173.33h8.47v8.77h-8.47zM310.46 173.33h8.47v8.77h-8.47zM278.58 181.60h8.47v8.77h-8.47zM294.52 181.60h8.47v8.77h-8.47zM302.49 181.60h8.47v8.77h-8.47zM310.46 181.60h8.47v8.77h-8.47zM318.43 181.60h7.97v8.77h-7.97zM246.70 189.87h8.47v8.77h-8.47zM270.61 189.87h8.47v8.77h-8.47zM278.58 189.87h8.47v8.77h-8.47zM302.49 189.87h8.47v8.77h-8.47zM310.46 189.87h8.47v8.77h-8.47zM270.61 198.13h8.47v8.77h-8.47zM278.58 198.13h8.47v8.77h-8.47zM302.49 198.13h8.47v8.77h-8.47zM310.46 198.13h8.47v8.77h-8.47zM246.70 206.40h8.47v8.77h-8.47zM262.64 206.40h8.47v8.77h-8.47zM270.61 206.40h8.47v8.77h-8.47zM278.58 206.40h8.47v8.77h-8.47zM302.49 206.40h8.47v8.77h-8.47zM310.46 206.40h8.47v8.77h-8.47zM286.55 214.67h8.47v8.77h-8.47zM294.52 214.67h8.47v8.77h-8.47zM302.49 214.67h8.47v8.77h-8.47zM310.46 214.67h8.47v8.77h-8.47zM318.43 214.67h7.97v8.77h-7.97zM246.70 239.47h8.47v8.77h-8.47zM270.61 239.47h8.47v8.77h-8.47zM302.49 239.47h8.47v8.77h-8.47zM246.70 247.73h8.47v8.77h-8.47zM270.61 247.73h8.47v8.77h-8.47zM302.49 247.73h8.47v8.77h-8.47zM270.61 256.00h8.47v8.77h-8.47zM302.49 256.00h8.47v8.77h-8.47zM310.46 256.00h8.47v8.77h-8.47zM318.43 256.00h7.97v8.77h-7.97zM246.70 264.27h8.47v8.77h-8.47zM270.61 272.53h8.47v8.77h-8.47zM294.52 272.53h8.47v8.77h-8.47zM302.49 272.53h8.47v8.77h-8.47zM246.70 280.80h8.47v8.77h-8.47zM302.49 280.80h8.47v8.77h-8.47zM302.49 289.07h8.47v8.77h-8.47zM310.46 289.07h8.47v8.77h-8.47zM294.52 297.33h8.47v8.77h-8.47zM302.49 297.33h8.47v8.77h-8.47zM310.46 297.33h8.47v8.77h-8.47zM318.43 297.33h7.97v8.77h-7.97zM294.52 305.60h8.47v8.77h-8.47zM302.49 305.60h8.47v8.77h-8.47zM310.46 305.60h8.47v8.77h-8.47zM294.52 313.87h8.47v8.77h-8.47zM302.49 313.87h8.47v8.77h-8.47zM310.46 313.87h8.47v8.77h-8.47zM318.43 313.87h7.97v8.77h-7.97zM254.67 322.13h8.47v8.77h-8.47zM294.52 322.13h8.47v8.77h-8.47zM302.49 322.13h8.47v8.77h-8.47zM310.46 322.13h8.47v8.77h-8.47zM318.43 322.13h7.97v8.77h-7.97zM302.49 330.40h8.47v8.77h-8.47zM310.46 330.40h8.47v8.77h-8.47zM318.43 330.40h7.97v8.77h-7.97zM270.61 338.67h8.47v8.77h-8.47zM294.52 338.67h8.47v8.77h-8.47zM302.49 338.67h8.47v8.77h-8.47zM310.46 338.67h8.47v8.77h-8.47zM246.70 346.93h8.47v8.77h-8.47zM254.67 346.93h8.47v8.77h-8.47zM262.64 346.93h8.47v8.77h-8.47zM270.61 346.93h8.47v8.77h-8.47zM278.58 346.93h8.47v8.77h-8.47zM302.49 346.93h8.47v8.77h-8.47zM310.46 346.93h8.47v8.77h-8.47zM270.61 355.20h8.47v8.77h-8.47zM302.49 355.20h8.47v8.77h-8.47zM310.46 355.20h8.47v8.77h-8.47zM270.61 363.47h8.47v8.77h-8.47zM302.49 363.47h8.47v8.77h-8.47zM310.46 363.47h8.47v8.77h-8.47zM262.64 371.73h8.47v8.77h-8.47zM270.61 371.73h8.47v8.77h-8.47zM302.49 371.73h8.47v8.77h-8.47zM310.46 371.73h8.47v8.77h-8.47zM246.70 380.00h8.47v8.77h-8.47zM254.67 380.00h8.47v8.77h-8.47zM262.64 380.00h8.47v8.77h-8.47zM270.61 380.00h8.47v8.77h-8.47zM302.49 380.00h8.47v8.77h-8.47zM310.46 380.00h8.47v8.77h-8.47zM262.64 388.27h8.47v8.77h-8.47zM278.58 388.27h8.47v8.77h-8.47zM302.49 388.27h8.47v8.77h-8.47zM310.46 388.27h8.47v8.77h-8.47zM246.70 396.53h8.47v8.77h-8.47zM270.61 396.53h8.47v8.77h-8.47zM302.49 396.53h8.47v8.77h-8.47zM310.46 396.53h8.47v8.77h-8.47zM294.52 404.80h8.47v8.77h-8.47zM310.46 404.80h8.47v8.77h-8.47zM246.70 413.07h8.47v8.77h-8.47zM294.52 413.07h8.47v8.77h-8.47zM310.46 413.07h8.47v8.77h-8.47zM302.49 421.33h8.47v8.77h-8.47zM302.49 429.60h8.47v8.77h-8.47zM310.46 429.60h8.47v8.77h-8.47zM270.61 437.87h8.47v8.77h-8.47zM302.49 437.87h8.47v8.77h-8.47zM310.46 437.87h8.47v8.77h-8.47zM270.61 446.13h8.47v8.77h-8.47zM302.49 446.13h8.47v8.77h-8.47zM310.46 446.13h8.47v8.77h-8.47zM270.61 454.40h8.47v8.77h-8.47zM302.49 454.40h8.47v8.77h-8.47zM310.46 454.40h8.47v8.77h-8.47zM302.49 462.67h8.47v8.77h-8.47zM310.46 462.67h8.47v8.77h-8.47zM302.49 470.93h8.47v8.77h-8.47zM310.46 470.93h8.47v8.77h-8.47zM302.49 479.20h8.47v8.77h-8.47zM310.46 479.20h8.47v8.77h-8.47zM270.61 487.47h8.47v8.77h-8.47zM302.49 487.47h8.47v8.77h-8.47zM310.46 487.47h8.47v8.77h-8.47zM278.58 495.73h8.47v8.77h-8.47zM302.49 495.73h8.47v8.77h-8.47zM302.49 504.00h8.47v8.77h-8.47zM310.46 504.00h8.47v8.77h-8.47zM302.49 512.27h8.47v8.77h-8.47zM310.46 512.27h8.47v8.77h-8.47zM318.43 512.27h7.97v8.77h-7.97zM294.52 520.53h8.47v8.77h-8.47zM302.49 520.53h8.47v8.77h-8.47zM310.46 520.53h8.47v8.77h-8.47zM318.43 520.53h7.97v8.77h-7.97zM302.49 528.80h8.47v8.77h-8.47zM302.49 537.07h8.47v8.77h-8.47zM318.43 537.07h7.97v8.77h-7.97zM302.49 545.33h8.47v8.77h-8.47zM310.46 545.33h8.47v8.77h-8.47zM318.43 545.33h7.97v8.77h-7.97zM262.64 553.60h8.47v8.77h-8.47zM302.49 553.60h8.47v8.77h-8.47zM318.43 553.60h7.97v8.77h-7.97zM262.64 561.87h8.47v8.77h-8.47zM302.49 561.87h8.47v8.77h-8.47zM310.46 561.87h8.47v8.77h-8.47zM302.49 570.13h8.47v8.77h-8.47zM310.46 570.13h8.47v8.77h-8.47zM318.43 570.13h7.97v8.77h-7.97zM302.49 578.40h8.47v8.77h-8.47zM310.46 578.40h8.47v8.77h-8.47zM302.49 586.67h8.47v8.77h-8.47zM310.46 586.67h8.47v8.77h-8.47zM318.43 586.67h7.97v8.77h-7.97zM310.46 594.93h8.47v8.77h-8.47zM310.46 611.47h8.47v8.77h-8.47zM302.49 619.73h8.47v8.77h-8.47zM310.46 619.73h8.47v8.77h-8.47zM302.49 628.00h8.47v8.77h-8.47zM310.46 628.00h8.47v8.77h-8.47zM246.70 636.27h8.47v8.77h-8.47zM302.49 636.27h8.47v8.77h-8.47zM310.46 636.27h8.47v8.77h-8.47zM302.49 644.53h8.47v8.77h-8.47zM302.49 652.80h8.47v8.77h-8.47zM294.52 661.07h8.47v8.77h-8.47zM302.49 661.07h8.47v8.77h-8.47zM318.43 661.07h7.97v8.77h-7.97zM310.46 669.33h8.47v8.77h-8.47zM318.43 669.33h7.97v8.77h-7.97zM278.58 677.60h8.47v8.77h-8.47zM310.46 702.40h8.47v8.77h-8.47zM302.49 710.67h8.47v8.77h-8.47zM310.46 710.67h8.47v8.77h-8.47zM310.46 718.93h8.47v8.77h-8.47zM318.43 718.93h7.97v8.77h-7.97zM318.43 727.20h7.97v8.77h-7.97zM278.58 752.00h8.47v8.77h-8.47zM302.49 760.27h8.47v8.77h-8.47zM318.43 760.27h7.97v8.77h-7.97zM294.52 768.53h8.47v8.77h-8.47zM302.49 768.53h8.47v8.77h-8.47zM318.43 768.53h7.97v8.77h-7.97zM246.70 776.80h8.47v8.77h-8.47zM318.43 776.80h7.97v8.77h-7.97zM278.58 785.07h8.47v8.77h-8.47zM310.46 785.07h8.47v8.77h-8.47zM318.43 785.07h7.97v8.77h-7.97zM294.52 793.33h8.47v8.77h-8.47zM294.52 818.13h8.47v8.77h-8.47zM310.46 826.40h8.47v8.77h-8.47zM302.49 834.67h8.47v8.77h-8.47zM310.46 834.67h8.47v8.77h-8.47zM254.67 842.93h8.47v8.77h-8.47zM302.49 842.93h8.47v8.77h-8.47zM310.46 842.93h8.47v8.77h-8.47zM310.46 851.20h8.47v8.77h-8.47zM310.46 884.27h8.47v8.77h-8.47zM310.46 900.80h8.47v8.77h-8.47zM254.67 917.33h8.47v8.77h-8.47zM310.46 917.33h8.47v8.77h-8.47zM302.49 925.60h8.47v8.77h-8.47zM254.67 933.87h8.47v8.77h-8.47zM246.70 950.40h8.47v8.77h-8.47zM310.46 958.67h8.47v8.77h-8.47zM310.46 966.93h8.47v8.77h-8.47zM270.61 975.20h8.47v8.77h-8.47zM310.46 975.20h8.47v8.77h-8.47zM254.67 983.47h8.47v8.77h-8.47zM270.61 983.47h8.47v8.77h-8.47zM302.49 983.47h8.47v8.77h-8.47zM310.46 983.47h8.47v8.77h-8.47z"/><path d="M100.9 82.4V1049.6M108.8 82.4V1049.6M116.8 82.4V1049.6M124.8 82.4V1049.6M132.8 82.4V1049.6M140.7 82.4V1049.6M148.7 82.4V1049.6M156.7 82.4V1049.6M164.6 82.4V1049.6M172.6 82.4V1049.6M92.9 90.67h87.7M92.9 98.93h87.7M92.9 107.20h87.7M92.9 115.47h87.7M92.9 123.73h87.7M92.9 132.00h87.7M92.9 140.27h87.7M92.9 148.53h87.7M92.9 156.80h87.7M92.9 165.07h87.7M92.9 173.33h87.7M92.9 181.60h87.7M92.9 189.87h87.7M92.9 198.13h87.7M92.9 206.40h87.7M92.9 214.67h87.7M92.9 222.93h87.7M92.9 231.20h87.7M92.9 239.47h87.7M92.9 247.73h87.7M92.9 256.00h87.7M92.9 264.27h87.7M92.9 272.53h87.7M92.9 280.80h87.7M92.9 289.07h87.7M92.9 297.33h87.7M92.9 305.60h87.7M92.9 313.87h87.7M92.9 322.13h87.7M92.9 330.40h87.7M92.9 338.67h87.7M92.9 346.93h87.7M92.9 355.20h87.7M92.9 363.47h87.7M92.9 371.73h87.7M92.9 380.00h87.7M92.9 388.27h87.7M92.9 396.53h87.7M92.9 404.80h87.7M92.9 413.07h87.7M92.9 421.33h87.7M92.9 429.60h87.7M92.9 437.87h87.7M92.9 446.13h87.7M92.9 454.40h87.7M92.9 462.67h87.7M92.9 470.93h87.7M92.9 479.20h87.7M92.9 487.47h87.7M92.9 495.73h87.7M92.9 504.00h87.7M92.9 512.27h87.7M92.9 520.53h87.7M92.9 528.80h87.7M92.9 537.07h87.7M92.9 545.33h87.7M92.9 553.60h87.7M92.9 561.87h87.7M92.9 570.13h87.7M92.9 578.40h87.7M92.9 586.67h87.7M92.9 594.93h87.7M92.9 603.20h87.7M92.9 611.47h87.7M92.9 619.73h87.7M92.9 628.00h87.7M92.9 636.27h87.7M92.9 644.53h87.7M92.9 652.80h87.7M92.9 661.07h87.7M92.9 669.33h87.7M92.9 677.60h87.7M92.9 685.87h87.7M92.9 694.13h87.7M92.9 702.40h87.7M92.9 710.67h87.7M92.9 718.93h87.7M92.9 727.20h87.7M92.9 735.47h87.7M92.9 743.73h87.7M92.9 752.00h87.7M92.9 760.27h87.7M92.9 768.53h87.7M92.9 776.80h87.7M92.9 785.07h87.7M92.9 793.33h87.7M92.9 801.60h87.7M92.9 809.87h87.7M92.9 818.13h87.7M92.9 826.40h87.7M92.9 834.67h87.7M92.9 842.93h87.7M92.9 851.20h87.7M92.9 859.47h87.7M92.9 867.73h87.7M92.9 876.00h87.7M92.9 884.27h87.7M92.9 892.53h87.7M92.9 900.80h87.7M92.9 909.07h87.7M92.9 917.33h87.7M92.9 925.60h87.7M92.9 933.87h87.7M92.9 942.13h87.7M92.9 950.40h87.7M92.9 958.67h87.7M92.9 966.93h87.7M92.9 975.20h87.7M92.9 983.47h87.7M92.9 991.73h87.7M92.9 1000.00h87.7M92.9 1008.27h87.7M92.9 1016.53h87.7M92.9 1024.80h87.7M92.9 1033.07h87.7M92.9 1041.33h87.7M193.9 82.4V1049.6M201.8 82.4V1049.6M209.8 82.4V1049.6M217.8 82.4V1049.6M225.8 82.4V1049.6M233.7 82.4V1049.6M185.9 90.67h55.8M185.9 98.93h55.8M185.9 107.20h55.8M185.9 115.47h55.8M185.9 123.73h55.8M185.9 132.00h55.8M185.9 140.27h55.8M185.9 148.53h55.8M185.9 156.80h55.8M185.9 165.07h55.8M185.9 173.33h55.8M185.9 181.60h55.8M185.9 189.87h55.8M185.9 198.13h55.8M185.9 206.40h55.8M185.9 214.67h55.8M185.9 222.93h55.8M185.9 231.20h55.8M185.9 239.47h55.8M185.9 247.73h55.8M185.9 256.00h55.8M185.9 264.27h55.8M185.9 272.53h55.8M185.9 280.80h55.8M185.9 289.07h55.8M185.9 297.33h55.8M185.9 305.60h55.8M185.9 313.87h55.8M185.9 322.13h55.8M185.9 330.40h55.8M185.9 338.67h55.8M185.9 346.93h55.8M185.9 355.20h55.8M185.9 363.47h55.8M185.9 371.73h55.8M185.9 380.00h55.8M185.9 388.27h55.8M185.9 396.53h55.8M185.9 404.80h55.8M185.9 413.07h55.8M185.9 421.33h55.8M185.9 429.60h55.8M185.9 437.87h55.8M185.9 446.13h55.8M185.9 454.40h55.8M185.9 462.67h55.8M185.9 470.93h55.8M185.9 479.20h55.8M185.9 487.47h55.8M185.9 495.73h55.8M185.9 504.00h55.8M185.9 512.27h55.8M185.9 520.53h55.8M185.9 528.80h55.8M185.9 537.07h55.8M185.9 545.33h55.8M185.9 553.60h55.8M185.9 561.87h55.8M185.9 570.13h55.8M185.9 578.40h55.8M185.9 586.67h55.8M185.9 594.93h55.8M185.9 603.20h55.8M185.9 611.47h55.8M185.9 619.73h55.8M185.9 628.00h55.8M185.9 636.27h55.8M185.9 644.53h55.8M185.9 652.80h55.8M185.9 661.07h55.8M185.9 669.33h55.8M185.9 677.60h55.8M185.9 685.87h55.8M185.9 694.13h55.8M185.9 702.40h55.8M185.9 710.67h55.8M185.9 718.93h55.8M185.9 727.20h55.8M185.9 735.47h55.8M185.9 743.73h55.8M185.9 752.00h55.8M185.9 760.27h55.8M185.9 768.53h55.8M185.9 776.80h55.8M185.9 785.07h55.8M185.9 793.33h55.8M185.9 801.60h55.8M185.9 809.87h55.8M185.9 818.13h55.8M185.9 826.40h55.8M185.9 834.67h55.8M185.9 842.93h55.8M185.9 851.20h55.8M185.9 859.47h55.8M185.9 867.73h55.8M185.9 876.00h55.8M185.9 884.27h55.8M185.9 892.53h55.8M185.9 900.80h55.8M185.9 909.07h55.8M185.9 917.33h55.8M185.9 925.60h55.8M185.9 933.87h55.8M185.9 942.13h55.8M185.9 950.40h55.8M185.9 958.67h55.8M185.9 966.93h55.8M185.9 975.20h55.8M185.9 983.47h55.8M185.9 991.73h55.8M185.9 1000.00h55.8M185.9 1008.27h55.8M185.9 1016.53h55.8M185.9 1024.80h55.8M185.9 1033.07h55.8M185.9 1041.33h55.8M254.7 82.4V1049.6M262.6 82.4V1049.6M270.6 82.4V1049.6M278.6 82.4V1049.6M286.6 82.4V1049.6M294.5 82.4V1049.6M302.5 82.4V1049.6M310.5 82.4V1049.6M318.4 82.4V1049.6M246.7 90.67h79.7M246.7 98.93h79.7M246.7 107.20h79.7M246.7 115.47h79.7M246.7 123.73h79.7M246.7 132.00h79.7M246.7 140.27h79.7M246.7 148.53h79.7M246.7 156.80h79.7M246.7 165.07h79.7M246.7 173.33h79.7M246.7 181.60h79.7M246.7 189.87h79.7M246.7 198.13h79.7M246.7 206.40h79.7M246.7 214.67h79.7M246.7 222.93h79.7M246.7 231.20h79.7M246.7 239.47h79.7M246.7 247.73h79.7M246.7 256.00h79.7M246.7 264.27h79.7M246.7 272.53h79.7M246.7 280.80h79.7M246.7 289.07h79.7M246.7 297.33h79.7M246.7 305.60h79.7M246.7 313.87h79.7M246.7 322.13h79.7M246.7 330.40h79.7M246.7 338.67h79.7M246.7 346.93h79.7M246.7 355.20h79.7M246.7 363.47h79.7M246.7 371.73h79.7M246.7 380.00h79.7M246.7 388.27h79.7M246.7 396.53h79.7M246.7 404.80h79.7M246.7 413.07h79.7M246.7 421.33h79.7M246.7 429.60h79.7M246.7 437.87h79.7M246.7 446.13h79.7M246.7 454.40h79.7M246.7 462.67h79.7M246.7 470.93h79.7M246.7 479.20h79.7M246.7 487.47h79.7M246.7 495.73h79.7M246.7 504.00h79.7M246.7 512.27h79.7M246.7 520.53h79.7M246.7 528.80h79.7M246.7 537.07h79.7M246.7 545.33h79.7M246.7 553.60h79.7M246.7 561.87h79.7M246.7 570.13h79.7M246.7 578.40h79.7M246.7 586.67h79.7M246.7 594.93h79.7M246.7 603.20h79.7M246.7 611.47h79.7M246.7 619.73h79.7M246.7 628.00h79.7M246.7 636.27h79.7M246.7 644.53h79.7M246.7 652.80h79.7M246.7 661.07h79.7M246.7 669.33h79.7M246.7 677.60h79.7M246.7 685.87h79.7M246.7 694.13h79.7M246.7 702.40h79.7M246.7 710.67h79.7M246.7 718.93h79.7M246.7 727.20h79.7M246.7 735.47h79.7M246.7 743.73h79.7M246.7 752.00h79.7M246.7 760.27h79.7M246.7 768.53h79.7M246.7 776.80h79.7M246.7 785.07h79.7M246.7 793.33h79.7M246.7 801.60h79.7M246.7 809.87h79.7M246.7 818.13h79.7M246.7 826.40h79.7M246.7 834.67h79.7M246.7 842.93h79.7M246.7 851.20h79.7M246.7 859.47h79.7M246.7 867.73h79.7M246.7 876.00h79.7M246.7 884.27h79.7M246.7 892.53h79.7M246.7 900.80h79.7M246.7 909.07h79.7M246.7 917.33h79.7M246.7 925.60h79.7M246.7 933.87h79.7M246.7 942.13h79.7M246.7 950.40h79.7M246.7 958.67h79.7M246.7 966.93h79.7M246.7 975.20h79.7M246.7 983.47h79.7M246.7 991.73h79.7M246.7 1000.00h79.7M246.7 1008.27h79.7M246.7 1016.53h79.7M246.7 1024.80h79.7M246.7 1033.07h79.7M246.7 1041.33h79.7" stroke="#ffffff" stroke-opacity="0.10" stroke-width="0.5" fill="none"/><rect x="93.59" y="62.8" width="6.6" height="6.4" fill="#e52421"/><rect x="93.59" y="72.6" width="6.6" height="6.3" fill="#c69fcf"/><rect x="101.56" y="62.8" width="6.6" height="6.4" fill="#e52421"/><rect x="101.56" y="72.6" width="6.6" height="6.3" fill="#c69fcf"/><rect x="109.53" y="62.8" width="6.6" height="6.4" fill="#e52421"/><rect x="109.53" y="72.6" width="6.6" height="6.3" fill="#a3238f"/><rect x="117.50" y="62.8" width="6.6" height="6.4" fill="#e52421"/><rect x="117.50" y="72.6" width="6.6" height="6.3" fill="#a3238f"/><rect x="125.47" y="62.8" width="6.6" height="6.4" fill="#e52421"/><rect x="125.47" y="72.6" width="6.6" height="6.3" fill="#8dc03f"/><rect x="133.44" y="62.8" width="6.6" height="6.4" fill="#e52421"/><rect x="133.44" y="72.6" width="6.6" height="6.3" fill="#c69fcf"/><rect x="141.41" y="62.8" width="6.6" height="6.4" fill="#e52421"/><rect x="141.41" y="72.6" width="6.6" height="6.3" fill="#a3238f"/><rect x="149.38" y="62.8" width="6.6" height="6.4" fill="#e52421"/><rect x="149.38" y="72.6" width="6.6" height="6.3" fill="#a3238f"/><rect x="157.34" y="62.8" width="6.6" height="6.4" fill="#e52421"/><rect x="157.34" y="72.6" width="6.6" height="6.3" fill="#a3238f"/><rect x="165.31" y="62.8" width="6.6" height="6.4" fill="#e52421"/><rect x="165.31" y="72.6" width="6.6" height="6.3" fill="#c69fcf"/><rect x="173.29" y="62.8" width="6.6" height="6.4" fill="#3b4ea0"/><rect x="173.29" y="72.6" width="6.6" height="6.3" fill="#a3238f"/><rect x="186.59" y="62.8" width="6.6" height="6.4" fill="#3b4ea0"/><rect x="186.59" y="72.6" width="6.6" height="6.3" fill="#a3238f"/><rect x="194.56" y="62.8" width="6.6" height="6.4" fill="#e52421"/><rect x="194.56" y="72.6" width="6.6" height="6.3" fill="#c69fcf"/><rect x="202.53" y="62.8" width="6.6" height="6.4" fill="#3b4ea0"/><rect x="202.53" y="72.6" width="6.6" height="6.3" fill="#8dc03f"/><rect x="210.50" y="62.8" width="6.6" height="6.4" fill="#3b4ea0"/><rect x="210.50" y="72.6" width="6.6" height="6.3" fill="#a3238f"/><rect x="218.47" y="62.8" width="6.6" height="6.4" fill="#3b4ea0"/><rect x="218.47" y="72.6" width="6.6" height="6.3" fill="#8dc03f"/><rect x="226.44" y="62.8" width="6.6" height="6.4" fill="#3b4ea0"/><rect x="226.44" y="72.6" width="6.6" height="6.3" fill="#a3238f"/><rect x="234.41" y="62.8" width="6.6" height="6.4" fill="#3b4ea0"/><rect x="234.41" y="72.6" width="6.6" height="6.3" fill="#a3238f"/><rect x="247.38" y="62.8" width="6.6" height="6.4" fill="#3b4ea0"/><rect x="247.38" y="72.6" width="6.6" height="6.3" fill="#a3238f"/><rect x="255.35" y="62.8" width="6.6" height="6.4" fill="#3b4ea0"/><rect x="255.35" y="72.6" width="6.6" height="6.3" fill="#c69fcf"/><rect x="263.32" y="62.8" width="6.6" height="6.4" fill="#3b4ea0"/><rect x="263.32" y="72.6" width="6.6" height="6.3" fill="#c69fcf"/><rect x="271.30" y="62.8" width="6.6" height="6.4" fill="#3b4ea0"/><rect x="271.30" y="72.6" width="6.6" height="6.3" fill="#8dc03f"/><rect x="279.26" y="62.8" width="6.6" height="6.4" fill="#3b4ea0"/><rect x="279.26" y="72.6" width="6.6" height="6.3" fill="#8dc03f"/><rect x="287.24" y="62.8" width="6.6" height="6.4" fill="#3b4ea0"/><rect x="287.24" y="72.6" width="6.6" height="6.3" fill="#a3238f"/><rect x="295.20" y="62.8" width="6.6" height="6.4" fill="#3b4ea0"/><rect x="295.20" y="72.6" width="6.6" height="6.3" fill="#8dc03f"/><rect x="303.18" y="62.8" width="6.6" height="6.4" fill="#3b4ea0"/><rect x="303.18" y="72.6" width="6.6" height="6.3" fill="#a3238f"/><rect x="311.14" y="62.8" width="6.6" height="6.4" fill="#3b4ea0"/><rect x="311.14" y="72.6" width="6.6" height="6.3" fill="#a3238f"/><rect x="319.12" y="62.8" width="6.6" height="6.4" fill="#3b4ea0"/><rect x="319.12" y="72.6" width="6.6" height="6.3" fill="#c69fcf"/><text x="329.5" y="69.0" font-size="9.85" fill="#111" stroke="#111" stroke-width="0.16">RECIST Response</text><text x="329.5" y="79.3" font-size="9.7" fill="#111" stroke="#111" stroke-width="0.16">Arm</text><path d="M96.89 61.00V49.80H104.86V61.00M100.87 49.80V47.60H112.83V61.00M120.80 61.00V49.80H128.77V61.00M124.78 49.80V47.60H136.74V61.00M106.85 47.60V45.60H130.76V47.60M144.71 61.00V49.20H152.68V61.00M160.65 61.00V52.20H168.62V61.00M148.69 49.20V48.50H164.63V52.20M156.66 48.50V46.10H176.59V61.00M118.80 45.60V41.4H166.62V46.10M189.89 61.00V50.20H197.86V61.00M193.87 50.20V48.20H205.83V61.00M213.80 61.00V52.10H221.77V61.00M229.74 61.00V52.90H237.71V61.00M217.78 52.10V50.40H233.72V52.90M199.85 48.20V46.70H225.75V50.40M147.5 41.4V32.7M147.50 41.40V32.70H212.80V46.70M250.69 61.00V51.90H258.65V61.00M254.67 51.90V51.10H266.62V61.00M260.65 51.10V49.70H274.60V61.00M267.62 49.70V46.10H282.56V61.00M290.54 61.00V49.40H298.50V61.00M275.09 46.10V45.40H294.52V49.40M306.48 61.00V51.70H314.44V61.00M310.46 51.70V47.70H322.42V61.00M284.81 45.40V39.70H316.44V47.70M185.30 32.70V17.40H300.62V39.70" stroke="#222" stroke-width="1.05" fill="none"/><path d="M93.00 86.53H88.03V94.80H93.00M88.03 90.67H86.43V103.07H93.00M86.43 96.87H84.83V111.33H93.00M84.83 104.10H83.23V119.60H93.00M93.00 127.87H87.00V136.13H93.00M83.23 111.85H81.63V132.00H87.00M93.00 144.40H88.43V152.67H93.00M88.43 148.53H86.83V160.93H93.00M86.83 154.73H85.23V169.20H93.00M93.00 177.47H87.08V185.73H93.00M87.08 181.60H85.48V194.00H93.00M85.23 161.97H83.63V187.80H85.48M93.00 202.27H87.41V210.53H93.00M87.41 206.40H85.00V218.80H93.00M83.63 174.88H82.03V212.60H85.00M81.63 121.92H80.03V193.74H82.03M93.00 227.07H86.77V235.33H93.00M93.00 243.60H89.78V251.87H93.00M86.77 231.20H85.17V247.73H89.78M93.00 260.13H86.77V268.40H93.00M86.77 264.27H85.17V276.67H93.00M85.17 239.47H82.49V270.47H85.17M93.00 293.20H84.98V301.47H93.00M93.00 284.93H83.38V297.33H84.98M93.00 309.73H86.26V318.00H93.00M86.26 313.87H84.66V326.27H93.00M93.00 334.53H85.66V342.80H93.00M84.66 320.07H83.06V338.67H85.66M83.38 291.13H81.46V329.37H83.06M82.49 254.97H79.18V310.25H81.46M80.03 157.83H75.50V282.61H79.18M75.50 220.22H70.80V351.07H93.00M93.00 359.33H86.65V367.60H93.00M86.65 363.47H85.05V375.87H93.00M85.05 369.67H82.57V384.13H93.00M82.57 376.90H80.93V392.40H93.00M80.93 384.65H78.57V400.67H93.00M93.00 408.93H82.20V417.20H93.00M82.20 413.07H79.53V425.47H93.00M78.57 392.66H71.04V419.27H79.53M93.00 433.73H85.64V442.00H93.00M85.64 437.87H83.86V450.27H93.00M71.04 405.96H69.44V444.07H83.86M93.00 466.80H88.08V475.07H93.00M88.08 470.93H86.48V483.33H93.00M93.00 491.60H88.22V499.87H93.00M86.48 477.13H84.88V495.73H88.22M93.00 458.53H83.28V486.43H84.88M83.28 472.48H81.68V508.13H93.00M93.00 524.67H89.27V532.93H93.00M93.00 541.20H89.18V549.47H93.00M89.27 528.80H87.58V545.33H89.18M87.58 537.07H85.98V557.73H93.00M93.00 566.00H87.24V574.27H93.00M85.98 547.40H84.38V570.13H87.24M93.00 516.40H82.78V558.77H84.38M93.00 582.53H88.92V590.80H93.00M82.78 537.58H81.18V586.67H88.92M81.68 490.31H79.58V562.12H81.18M93.00 599.07H87.12V607.33H93.00M87.12 603.20H85.52V615.60H93.00M93.00 623.87H88.75V632.13H93.00M88.75 628.00H87.12V640.40H93.00M93.00 648.67H88.59V656.93H93.00M93.00 665.20H87.24V673.47H93.00M93.00 681.73H87.94V690.00H93.00M87.24 669.33H85.64V685.87H87.94M88.59 652.80H84.04V677.60H85.64M87.12 634.20H82.44V665.20H84.04M82.44 649.70H80.84V698.27H93.00M93.00 706.53H87.68V714.80H93.00M93.00 723.07H87.94V731.33H93.00M87.68 710.67H85.57V727.20H87.94M80.84 673.98H79.24V718.93H85.57M93.00 739.60H88.15V747.87H93.00M88.15 743.73H86.53V756.13H93.00M93.00 764.40H87.87V772.67H93.00M86.53 749.93H84.93V768.53H87.87M79.24 696.46H77.64V759.23H84.93M85.52 609.40H76.04V727.85H77.64M93.00 780.93H85.26V789.20H93.00M76.04 668.62H74.44V785.07H85.26M79.58 526.22H72.84V726.84H74.44M93.00 797.47H88.15V805.73H93.00M88.15 801.60H86.55V814.00H93.00M86.55 807.80H84.95V822.27H93.00M93.00 830.53H88.08V838.80H93.00M93.00 847.07H87.94V855.33H93.00M88.08 834.67H86.34V851.20H87.94M84.95 815.03H83.35V842.93H86.34M93.00 863.60H87.42V871.87H93.00M87.42 867.73H85.82V880.13H93.00M83.35 828.98H81.75V873.93H85.82M93.00 888.40H88.92V896.67H93.00M88.92 892.53H87.32V904.93H93.00M93.00 913.20H89.18V921.47H93.00M89.18 917.33H87.58V929.73H93.00M87.32 898.73H85.02V923.53H87.58M93.00 938.00H87.24V946.27H93.00M93.00 954.53H87.94V962.80H93.00M87.24 942.13H85.64V958.67H87.94M93.00 971.07H88.36V979.33H93.00M88.36 975.20H86.76V987.60H93.00M85.64 950.40H82.93V981.40H86.76M85.02 911.13H81.33V965.90H82.93M81.75 851.46H79.73V938.52H81.33M72.84 626.53H71.24V894.99H79.73M69.44 405.80H71.50V832.40H71.24M70.80 285.64H65.40V619.10H71.50M93.00 995.87H84.30V1004.13H93.00M84.30 1000.00H82.60V1012.40H93.00M82.60 1006.20H77.80V1020.67H93.00M93.00 1028.93H80.00V1037.20H93.00M77.80 1013.43H75.30V1033.07H80.00M75.30 1023.25H66.30V1045.47H93.00M65.40 464.00H49.30V1034.36H66.30" stroke="#222" stroke-width="0.9" fill="none"/><g font-size="8.2" font-style="italic" fill="#111" stroke="#111" stroke-width="0.15"><text x="328.6" y="89.48">CD3E</text><text x="328.6" y="97.75">THEMIS</text><text x="328.6" y="106.02">CD96</text><text x="328.6" y="114.28">CD2</text><text x="328.6" y="122.55">CD3D</text><text x="328.6" y="130.82">GBP5</text><text x="328.6" y="139.08">STAT1</text><text x="328.6" y="147.35">PTPRCAP</text><text x="328.6" y="155.62">MAP4K1</text><text x="328.6" y="163.88">IKZF3</text><text x="328.6" y="172.15">CD27</text><text x="328.6" y="180.42">IL2RG</text><text x="328.6" y="188.68">SP140</text><text x="328.6" y="196.95">SLAMF7</text><text x="328.6" y="205.22">LAX1</text><text x="328.6" y="213.48">PIM2</text><text x="328.6" y="221.75">CCR7</text><text x="328.6" y="230.02">GBP2</text><text x="328.6" y="238.28">TAP1</text><text x="328.6" y="246.55">GBP1</text><text x="328.6" y="254.82">GBP1P1</text><text x="328.6" y="263.08">ABCD2</text><text x="328.6" y="271.35">IRF1</text><text x="328.6" y="279.62">EPSTI1</text><text x="328.6" y="287.88">GBP4</text><text x="328.6" y="296.15">CIITA</text><text x="328.6" y="304.42">FGL2</text><text x="328.6" y="312.68">LCP2</text><text x="328.6" y="320.95">CD48</text><text x="328.6" y="329.22">AOAH</text><text x="328.6" y="337.48">KLRC4.KLRK1</text><text x="328.6" y="345.75">NKG7</text><text x="328.6" y="354.02">IGLL5</text><text x="328.6" y="362.28">EOMES</text><text x="328.6" y="370.55">GZMA</text><text x="328.6" y="378.82">GZMK</text><text x="328.6" y="387.08">TNFRSF9</text><text x="328.6" y="395.35">CECR1</text><text x="328.6" y="403.62">CXCL9</text><text x="328.6" y="411.88">HLA.C</text><text x="328.6" y="420.15">HLA.B</text><text x="328.6" y="428.42">TFEC</text><text x="328.6" y="436.68">SH2D1A</text><text x="328.6" y="444.95">SIRPG</text><text x="328.6" y="453.22">CD3G</text><text x="328.6" y="461.48">RASGRP1</text><text x="328.6" y="469.75">P2RY10</text><text x="328.6" y="478.02">PYHIN1</text><text x="328.6" y="486.28">UBASH3A</text><text x="328.6" y="494.55">BATF</text><text x="328.6" y="502.82">SLAMF1</text><text x="328.6" y="511.08">PLEKHO1</text><text x="328.6" y="519.35">GVINP1</text><text x="328.6" y="527.62">LOC606724</text><text x="328.6" y="535.88">CXorf65</text><text x="328.6" y="544.15">TESPA1</text><text x="328.6" y="552.42">TRAT1</text><text x="328.6" y="560.68">FCRL3</text><text x="328.6" y="568.95">CDC42SE2</text><text x="328.6" y="577.22">EVL</text><text x="328.6" y="585.48">GIMAP7</text><text x="328.6" y="593.75">GIMAP4</text><text x="328.6" y="602.02">PDCD4</text><text x="328.6" y="610.28">BTN2A2</text><text x="328.6" y="618.55">SLAIN1</text><text x="328.6" y="626.82">LINC00426</text><text x="328.6" y="635.08">SLFN12L</text><text x="328.6" y="643.35">ICOS</text><text x="328.6" y="651.62">MCOLN2</text><text x="328.6" y="659.88">PATL2</text><text x="328.6" y="668.15">SP110</text><text x="328.6" y="676.42">PSMB8.AS1</text><text x="328.6" y="684.68">RHOH</text><text x="328.6" y="692.95">ACAP1</text><text x="328.6" y="701.22">LPIN2</text><text x="328.6" y="709.48">FAM159A</text><text x="328.6" y="717.75">CLEC2D</text><text x="328.6" y="726.02">CCDC88C</text><text x="328.6" y="734.28">PLCG2</text><text x="328.6" y="742.55">TNRC6C.AS1</text><text x="328.6" y="750.82">CFLAR</text><text x="328.6" y="759.08">TP53INP1</text><text x="328.6" y="767.35">KLRG1</text><text x="328.6" y="775.62">DOCK8</text><text x="328.6" y="783.88">TLR10</text><text x="328.6" y="792.15">GNG7</text><text x="328.6" y="800.42">DDX58</text><text x="328.6" y="808.68">IFIT5</text><text x="328.6" y="816.95">STAT2</text><text x="328.6" y="825.22">IFITM1</text><text x="328.6" y="833.48">TAP2</text><text x="328.6" y="841.75">IL2RB</text><text x="328.6" y="850.02">APOBEC3D</text><text x="328.6" y="858.28">APOBEC3F</text><text x="328.6" y="866.55">C18orf8</text><text x="328.6" y="874.82">ERCC5</text><text x="328.6" y="883.08">OSBPL3</text><text x="328.6" y="891.35">HLA.L</text><text x="328.6" y="899.62">HLA.F</text><text x="328.6" y="907.88">HLA.E</text><text x="328.6" y="916.15">BTN3A3</text><text x="328.6" y="924.42">BTN3A2</text><text x="328.6" y="932.68">BTN3A1</text><text x="328.6" y="940.95">RTN1</text><text x="328.6" y="949.22">ATG4C</text><text x="328.6" y="957.48">TPK1</text><text x="328.6" y="965.75">ANXA2R</text><text x="328.6" y="974.02">PSMB8</text><text x="328.6" y="982.28">PSMB9</text><text x="328.6" y="990.55">APOBEC3G</text><text x="328.6" y="998.82">TMEM236</text><text x="328.6" y="1007.08">HOMER1</text><text x="328.6" y="1015.35">SLC16A10</text><text x="328.6" y="1023.62">SERPINA3</text><text x="328.6" y="1031.88">KLHL4</text><text x="328.6" y="1040.15">SLC16A1</text><text x="328.6" y="1048.42">NDNF</text></g><text x="423.9" y="87.3" font-size="9.7" font-weight="bold" fill="#111" stroke="#111" stroke-width="0.16">Response</text><rect x="426.3" y="94" width="12.3" height="12" fill="#3b4ea0"/><rect x="426.3" y="108.3" width="12.3" height="12.2" fill="#e52421"/><text x="443.3" y="104.3" font-size="9.6" fill="#111" stroke="#111" stroke-width="0.16">PR</text><text x="443.3" y="117.3" font-size="9.6" fill="#111" stroke="#111" stroke-width="0.16">PD</text><text x="425.7" y="142.3" font-size="9.7" font-weight="bold" fill="#111" stroke="#111" stroke-width="0.16">Arm</text><rect x="425" y="149.4" width="12.4" height="12" fill="#c69fcf"/><rect x="425" y="166" width="12.4" height="12" fill="#8dc03f"/><rect x="425" y="182.7" width="12.4" height="12.3" fill="#a3238f"/><text x="441.2" y="158.8" font-size="9.8" fill="#111" stroke="#111" stroke-width="0.16">Ipi + Nivo</text><text x="441.2" y="175.3" font-size="9.8" fill="#111" stroke="#111" stroke-width="0.16">Nivo</text><text x="441.2" y="192.0" font-size="9.8" fill="#111" stroke="#111" stroke-width="0.16">Nivo+Bev</text><defs><linearGradient id="cb" x1="0" y1="1" x2="0" y2="0"><stop offset="0" stop-color="#3d4fa2"/><stop offset="0.1667" stop-color="#4b50a0"/><stop offset="0.3333" stop-color="#6b68a0"/><stop offset="0.5" stop-color="#8a8a84"/><stop offset="0.6667" stop-color="#aaa65e"/><stop offset="0.8333" stop-color="#d2c93c"/><stop offset="1" stop-color="#f6e617"/></linearGradient></defs><rect x="427.6" y="243.6" width="9.8" height="148.4" fill="url(#cb)"/><text x="458.2" y="252.6" text-anchor="end" font-size="12" fill="#111" stroke="#111" stroke-width="0.16">3</text><text x="458.2" y="276.2" text-anchor="end" font-size="12" fill="#111" stroke="#111" stroke-width="0.16">2</text><text x="458.2" y="299.0" text-anchor="end" font-size="12" fill="#111" stroke="#111" stroke-width="0.16">1</text><text x="458.2" y="322.5" text-anchor="end" font-size="12" fill="#111" stroke="#111" stroke-width="0.16">0</text><text x="458.2" y="346.1" text-anchor="end" font-size="12" fill="#111" stroke="#111" stroke-width="0.16">- 1</text><text x="458.2" y="369.7" text-anchor="end" font-size="12" fill="#111" stroke="#111" stroke-width="0.16">- 2</text><text x="458.2" y="392.4" text-anchor="end" font-size="12" fill="#111" stroke="#111" stroke-width="0.16">- 3</text><defs><linearGradient id="vg" gradientUnits="userSpaceOnUse" x1="0" y1="402.1" x2="0" y2="108"><stop offset="0" stop-color="#d2d2d2"/><stop offset="0.033" stop-color="#c8c0da"/><stop offset="0.131" stop-color="#b6a8d6"/><stop offset="0.262" stop-color="#a694cc"/><stop offset="0.459" stop-color="#8b79c0"/><stop offset="0.59" stop-color="#7664b5"/><stop offset="0.721" stop-color="#6a58ad"/><stop offset="0.87" stop-color="#4c4aa4"/><stop offset="1" stop-color="#3e48a0"/></linearGradient><radialGradient id="rg" gradientUnits="userSpaceOnUse" cx="741" cy="406" r="48" gradientTransform="translate(741 406) scale(1.15 1) translate(-741 -406)"><stop offset="0" stop-color="#cfcfcb" stop-opacity="1"/><stop offset="0.35" stop-color="#cdcbd0" stop-opacity="0.8"/><stop offset="0.7" stop-color="#c4bcd8" stop-opacity="0.3"/><stop offset="1" stop-color="#c0b4da" stop-opacity="0"/></radialGradient><clipPath id="pc"><rect x="581.9" y="94.5" width="318.7" height="321.6"/></clipPath></defs><path d="M741.4 94.5V416.1M777.6 94.5V416.1" stroke="#e6e6e6" stroke-width="1.4"/><path clip-path="url(#pc)" fill="url(#vg)" d="M750.1 248.6m-3.55 0a3.55 3.55 0 1 0 7.10 0a3.55 3.55 0 1 0 -7.10 0M754.1 248.5m-3.55 0a3.55 3.55 0 1 0 7.10 0a3.55 3.55 0 1 0 -7.10 0M757.6 248.8m-3.55 0a3.55 3.55 0 1 0 7.10 0a3.55 3.55 0 1 0 -7.10 0M760.6 249.0m-3.55 0a3.55 3.55 0 1 0 7.10 0a3.55 3.55 0 1 0 -7.10 0M764.2 248.9m-3.55 0a3.55 3.55 0 1 0 7.10 0a3.55 3.55 0 1 0 -7.10 0M767.9 248.5m-3.55 0a3.55 3.55 0 1 0 7.10 0a3.55 3.55 0 1 0 -7.10 0M771.9 249.4m-3.55 0a3.55 3.55 0 1 0 7.10 0a3.55 3.55 0 1 0 -7.10 0M749.8 251.9m-3.55 0a3.55 3.55 0 1 0 7.10 0a3.55 3.55 0 1 0 -7.10 0M754.1 252.7m-3.55 0a3.55 3.55 0 1 0 7.10 0a3.55 3.55 0 1 0 -7.10 0M757.6 252.1m-3.55 0a3.55 3.55 0 1 0 7.10 0a3.55 3.55 0 1 0 -7.10 0M761.7 251.7m-3.55 0a3.55 3.55 0 1 0 7.10 0a3.55 3.55 0 1 0 -7.10 0M765.2 251.9m-3.55 0a3.55 3.55 0 1 0 7.10 0a3.55 3.55 0 1 0 -7.10 0M768.0 251.7m-3.55 0a3.55 3.55 0 1 0 7.10 0a3.55 3.55 0 1 0 -7.10 0M771.8 252.6m-3.55 0a3.55 3.55 0 1 0 7.10 0a3.55 3.55 0 1 0 -7.10 0M749.9 255.5m-3.55 0a3.55 3.55 0 1 0 7.10 0a3.55 3.55 0 1 0 -7.10 0M754.1 255.2m-3.55 0a3.55 3.55 0 1 0 7.10 0a3.55 3.55 0 1 0 -7.10 0M757.6 254.9m-3.55 0a3.55 3.55 0 1 0 7.10 0a3.55 3.55 0 1 0 -7.10 0M760.6 255.0m-3.55 0a3.55 3.55 0 1 0 7.10 0a3.55 3.55 0 1 0 -7.10 0M765.0 255.3m-3.55 0a3.55 3.55 0 1 0 7.10 0a3.55 3.55 0 1 0 -7.10 0M768.2 255.5m-3.55 0a3.55 3.55 0 1 0 7.10 0a3.55 3.55 0 1 0 -7.10 0M771.9 255.2m-3.55 0a3.55 3.55 0 1 0 7.10 0a3.55 3.55 0 1 0 -7.10 0M750.7 258.8m-3.55 0a3.55 3.55 0 1 0 7.10 0a3.55 3.55 0 1 0 -7.10 0M753.6 258.7m-3.55 0a3.55 3.55 0 1 0 7.10 0a3.55 3.55 0 1 0 -7.10 0M757.6 259.1m-3.55 0a3.55 3.55 0 1 0 7.10 0a3.55 3.55 0 1 0 -7.10 0M761.4 258.3m-3.55 0a3.55 3.55 0 1 0 7.10 0a3.55 3.55 0 1 0 -7.10 0M765.3 258.1m-3.55 0a3.55 3.55 0 1 0 7.10 0a3.55 3.55 0 1 0 -7.10 0M768.3 258.9m-3.55 0a3.55 3.55 0 1 0 7.10 0a3.55 3.55 0 1 0 -7.10 0M771.6 258.6m-3.55 0a3.55 3.55 0 1 0 7.10 0a3.55 3.55 0 1 0 -7.10 0M749.7 262.0m-3.55 0a3.55 3.55 0 1 0 7.10 0a3.55 3.55 0 1 0 -7.10 0M754.2 261.9m-3.55 0a3.55 3.55 0 1 0 7.10 0a3.55 3.55 0 1 0 -7.10 0M758.0 261.6m-3.55 0a3.55 3.55 0 1 0 7.10 0a3.55 3.55 0 1 0 -7.10 0M761.4 261.9m-3.55 0a3.55 3.55 0 1 0 7.10 0a3.55 3.55 0 1 0 -7.10 0M764.9 261.7m-3.55 0a3.55 3.55 0 1 0 7.10 0a3.55 3.55 0 1 0 -7.10 0M768.8 262.3m-3.55 0a3.55 3.55 0 1 0 7.10 0a3.55 3.55 0 1 0 -7.10 0M772.0 262.0m-3.55 0a3.55 3.55 0 1 0 7.10 0a3.55 3.55 0 1 0 -7.10 0M749.8 265.2m-3.55 0a3.55 3.55 0 1 0 7.10 0a3.55 3.55 0 1 0 -7.10 0M754.1 265.6m-3.55 0a3.55 3.55 0 1 0 7.10 0a3.55 3.55 0 1 0 -7.10 0M757.9 264.7m-3.55 0a3.55 3.55 0 1 0 7.10 0a3.55 3.55 0 1 0 -7.10 0M761.0 265.2m-3.55 0a3.55 3.55 0 1 0 7.10 0a3.55 3.55 0 1 0 -7.10 0M764.2 265.0m-3.55 0a3.55 3.55 0 1 0 7.10 0a3.55 3.55 0 1 0 -7.10 0M768.0 264.5m-3.55 0a3.55 3.55 0 1 0 7.10 0a3.55 3.55 0 1 0 -7.10 0M771.5 265.3m-3.55 0a3.55 3.55 0 1 0 7.10 0a3.55 3.55 0 1 0 -7.10 0M749.9 267.9m-3.55 0a3.55 3.55 0 1 0 7.10 0a3.55 3.55 0 1 0 -7.10 0M753.8 268.6m-3.55 0a3.55 3.55 0 1 0 7.10 0a3.55 3.55 0 1 0 -7.10 0M757.0 268.1m-3.55 0a3.55 3.55 0 1 0 7.10 0a3.55 3.55 0 1 0 -7.10 0M761.2 268.7m-3.55 0a3.55 3.55 0 1 0 7.10 0a3.55 3.55 0 1 0 -7.10 0M765.1 268.6m-3.55 0a3.55 3.55 0 1 0 7.10 0a3.55 3.55 0 1 0 -7.10 0M768.1 268.1m-3.55 0a3.55 3.55 0 1 0 7.10 0a3.55 3.55 0 1 0 -7.10 0M771.8 268.7m-3.55 0a3.55 3.55 0 1 0 7.10 0a3.55 3.55 0 1 0 -7.10 0M750.8 271.0m-3.55 0a3.55 3.55 0 1 0 7.10 0a3.55 3.55 0 1 0 -7.10 0M753.5 271.1m-3.55 0a3.55 3.55 0 1 0 7.10 0a3.55 3.55 0 1 0 -7.10 0M757.2 271.4m-3.55 0a3.55 3.55 0 1 0 7.10 0a3.55 3.55 0 1 0 -7.10 0M761.3 271.1m-3.55 0a3.55 3.55 0 1 0 7.10 0a3.55 3.55 0 1 0 -7.10 0M764.2 271.3m-3.55 0a3.55 3.55 0 1 0 7.10 0a3.55 3.55 0 1 0 -7.10 0M768.2 271.5m-3.55 0a3.55 3.55 0 1 0 7.10 0a3.55 3.55 0 1 0 -7.10 0M772.5 271.6m-3.55 0a3.55 3.55 0 1 0 7.10 0a3.55 3.55 0 1 0 -7.10 0M750.3 274.7m-3.55 0a3.55 3.55 0 1 0 7.10 0a3.55 3.55 0 1 0 -7.10 0M754.1 274.1m-3.55 0a3.55 3.55 0 1 0 7.10 0a3.55 3.55 0 1 0 -7.10 0M758.0 274.9m-3.55 0a3.55 3.55 0 1 0 7.10 0a3.55 3.55 0 1 0 -7.10 0M761.6 275.0m-3.55 0a3.55 3.55 0 1 0 7.10 0a3.55 3.55 0 1 0 -7.10 0M764.6 274.5m-3.55 0a3.55 3.55 0 1 0 7.10 0a3.55 3.55 0 1 0 -7.10 0M767.9 274.8m-3.55 0a3.55 3.55 0 1 0 7.10 0a3.55 3.55 0 1 0 -7.10 0M771.5 274.1m-3.55 0a3.55 3.55 0 1 0 7.10 0a3.55 3.55 0 1 0 -7.10 0M750.0 277.4m-3.55 0a3.55 3.55 0 1 0 7.10 0a3.55 3.55 0 1 0 -7.10 0M753.7 277.3m-3.55 0a3.55 3.55 0 1 0 7.10 0a3.55 3.55 0 1 0 -7.10 0M756.9 277.4m-3.55 0a3.55 3.55 0 1 0 7.10 0a3.55 3.55 0 1 0 -7.10 0M760.7 277.6m-3.55 0a3.55 3.55 0 1 0 7.10 0a3.55 3.55 0 1 0 -7.10 0M764.2 278.2m-3.55 0a3.55 3.55 0 1 0 7.10 0a3.55 3.55 0 1 0 -7.10 0M768.5 277.4m-3.55 0a3.55 3.55 0 1 0 7.10 0a3.55 3.55 0 1 0 -7.10 0M771.7 277.6m-3.55 0a3.55 3.55 0 1 0 7.10 0a3.55 3.55 0 1 0 -7.10 0M750.1 280.5m-3.55 0a3.55 3.55 0 1 0 7.10 0a3.55 3.55 0 1 0 -7.10 0M754.3 281.6m-3.55 0a3.55 3.55 0 1 0 7.10 0a3.55 3.55 0 1 0 -7.10 0M757.5 281.0m-3.55 0a3.55 3.55 0 1 0 7.10 0a3.55 3.55 0 1 0 -7.10 0M760.7 280.5m-3.55 0a3.55 3.55 0 1 0 7.10 0a3.55 3.55 0 1 0 -7.10 0M764.6 280.7m-3.55 0a3.55 3.55 0 1 0 7.10 0a3.55 3.55 0 1 0 -7.10 0M768.8 280.6m-3.55 0a3.55 3.55 0 1 0 7.10 0a3.55 3.55 0 1 0 -7.10 0M771.4 281.5m-3.55 0a3.55 3.55 0 1 0 7.10 0a3.55 3.55 0 1 0 -7.10 0M750.3 283.8m-3.55 0a3.55 3.55 0 1 0 7.10 0a3.55 3.55 0 1 0 -7.10 0M754.0 283.6m-3.55 0a3.55 3.55 0 1 0 7.10 0a3.55 3.55 0 1 0 -7.10 0M757.6 284.8m-3.55 0a3.55 3.55 0 1 0 7.10 0a3.55 3.55 0 1 0 -7.10 0M761.6 284.4m-3.55 0a3.55 3.55 0 1 0 7.10 0a3.55 3.55 0 1 0 -7.10 0M764.5 284.0m-3.55 0a3.55 3.55 0 1 0 7.10 0a3.55 3.55 0 1 0 -7.10 0M768.0 284.5m-3.55 0a3.55 3.55 0 1 0 7.10 0a3.55 3.55 0 1 0 -7.10 0M772.0 284.5m-3.55 0a3.55 3.55 0 1 0 7.10 0a3.55 3.55 0 1 0 -7.10 0M750.1 287.1m-3.55 0a3.55 3.55 0 1 0 7.10 0a3.55 3.55 0 1 0 -7.10 0M754.3 288.0m-3.55 0a3.55 3.55 0 1 0 7.10 0a3.55 3.55 0 1 0 -7.10 0M758.0 287.8m-3.55 0a3.55 3.55 0 1 0 7.10 0a3.55 3.55 0 1 0 -7.10 0M761.5 287.7m-3.55 0a3.55 3.55 0 1 0 7.10 0a3.55 3.55 0 1 0 -7.10 0M764.4 287.4m-3.55 0a3.55 3.55 0 1 0 7.10 0a3.55 3.55 0 1 0 -7.10 0M768.2 286.8m-3.55 0a3.55 3.55 0 1 0 7.10 0a3.55 3.55 0 1 0 -7.10 0M771.4 287.1m-3.55 0a3.55 3.55 0 1 0 7.10 0a3.55 3.55 0 1 0 -7.10 0M750.0 290.8m-3.55 0a3.55 3.55 0 1 0 7.10 0a3.55 3.55 0 1 0 -7.10 0M754.5 290.5m-3.55 0a3.55 3.55 0 1 0 7.10 0a3.55 3.55 0 1 0 -7.10 0M758.1 291.2m-3.55 0a3.55 3.55 0 1 0 7.10 0a3.55 3.55 0 1 0 -7.10 0M761.7 290.4m-3.55 0a3.55 3.55 0 1 0 7.10 0a3.55 3.55 0 1 0 -7.10 0M764.4 290.3m-3.55 0a3.55 3.55 0 1 0 7.10 0a3.55 3.55 0 1 0 -7.10 0M768.0 290.2m-3.55 0a3.55 3.55 0 1 0 7.10 0a3.55 3.55 0 1 0 -7.10 0M772.1 291.1m-3.55 0a3.55 3.55 0 1 0 7.10 0a3.55 3.55 0 1 0 -7.10 0M750.7 293.8m-3.55 0a3.55 3.55 0 1 0 7.10 0a3.55 3.55 0 1 0 -7.10 0M754.1 294.2m-3.55 0a3.55 3.55 0 1 0 7.10 0a3.55 3.55 0 1 0 -7.10 0M757.0 294.0m-3.55 0a3.55 3.55 0 1 0 7.10 0a3.55 3.55 0 1 0 -7.10 0M761.6 294.1m-3.55 0a3.55 3.55 0 1 0 7.10 0a3.55 3.55 0 1 0 -7.10 0M765.1 293.8m-3.55 0a3.55 3.55 0 1 0 7.10 0a3.55 3.55 0 1 0 -7.10 0M768.0 294.1m-3.55 0a3.55 3.55 0 1 0 7.10 0a3.55 3.55 0 1 0 -7.10 0M771.8 294.2m-3.55 0a3.55 3.55 0 1 0 7.10 0a3.55 3.55 0 1 0 -7.10 0M750.9 296.9m-3.55 0a3.55 3.55 0 1 0 7.10 0a3.55 3.55 0 1 0 -7.10 0M753.8 297.5m-3.55 0a3.55 3.55 0 1 0 7.10 0a3.55 3.55 0 1 0 -7.10 0M757.8 296.6m-3.55 0a3.55 3.55 0 1 0 7.10 0a3.55 3.55 0 1 0 -7.10 0M760.7 296.6m-3.55 0a3.55 3.55 0 1 0 7.10 0a3.55 3.55 0 1 0 -7.10 0M765.3 297.4m-3.55 0a3.55 3.55 0 1 0 7.10 0a3.55 3.55 0 1 0 -7.10 0M768.0 297.4m-3.55 0a3.55 3.55 0 1 0 7.10 0a3.55 3.55 0 1 0 -7.10 0M772.6 297.2m-3.55 0a3.55 3.55 0 1 0 7.10 0a3.55 3.55 0 1 0 -7.10 0M750.1 300.3m-3.55 0a3.55 3.55 0 1 0 7.10 0a3.55 3.55 0 1 0 -7.10 0M753.5 299.6m-3.55 0a3.55 3.55 0 1 0 7.10 0a3.55 3.55 0 1 0 -7.10 0M758.1 300.4m-3.55 0a3.55 3.55 0 1 0 7.10 0a3.55 3.55 0 1 0 -7.10 0M761.2 300.7m-3.55 0a3.55 3.55 0 1 0 7.10 0a3.55 3.55 0 1 0 -7.10 0M764.7 300.6m-3.55 0a3.55 3.55 0 1 0 7.10 0a3.55 3.55 0 1 0 -7.10 0M768.8 299.9m-3.55 0a3.55 3.55 0 1 0 7.10 0a3.55 3.55 0 1 0 -7.10 0M771.7 300.0m-3.55 0a3.55 3.55 0 1 0 7.10 0a3.55 3.55 0 1 0 -7.10 0M750.0 303.5m-3.55 0a3.55 3.55 0 1 0 7.10 0a3.55 3.55 0 1 0 -7.10 0M753.6 303.3m-3.55 0a3.55 3.55 0 1 0 7.10 0a3.55 3.55 0 1 0 -7.10 0M757.1 303.9m-3.55 0a3.55 3.55 0 1 0 7.10 0a3.55 3.55 0 1 0 -7.10 0M761.0 303.3m-3.55 0a3.55 3.55 0 1 0 7.10 0a3.55 3.55 0 1 0 -7.10 0M764.9 303.9m-3.55 0a3.55 3.55 0 1 0 7.10 0a3.55 3.55 0 1 0 -7.10 0M768.3 303.9m-3.55 0a3.55 3.55 0 1 0 7.10 0a3.55 3.55 0 1 0 -7.10 0M772.0 303.4m-3.55 0a3.55 3.55 0 1 0 7.10 0a3.55 3.55 0 1 0 -7.10 0M750.3 306.0m-3.55 0a3.55 3.55 0 1 0 7.10 0a3.55 3.55 0 1 0 -7.10 0M753.8 306.2m-3.55 0a3.55 3.55 0 1 0 7.10 0a3.55 3.55 0 1 0 -7.10 0M756.9 307.0m-3.55 0a3.55 3.55 0 1 0 7.10 0a3.55 3.55 0 1 0 -7.10 0M760.8 306.6m-3.55 0a3.55 3.55 0 1 0 7.10 0a3.55 3.55 0 1 0 -7.10 0M765.0 306.7m-3.55 0a3.55 3.55 0 1 0 7.10 0a3.55 3.55 0 1 0 -7.10 0M768.2 306.6m-3.55 0a3.55 3.55 0 1 0 7.10 0a3.55 3.55 0 1 0 -7.10 0M772.1 306.9m-3.55 0a3.55 3.55 0 1 0 7.10 0a3.55 3.55 0 1 0 -7.10 0M749.8 309.9m-3.55 0a3.55 3.55 0 1 0 7.10 0a3.55 3.55 0 1 0 -7.10 0M753.6 309.5m-3.55 0a3.55 3.55 0 1 0 7.10 0a3.55 3.55 0 1 0 -7.10 0M757.9 309.8m-3.55 0a3.55 3.55 0 1 0 7.10 0a3.55 3.55 0 1 0 -7.10 0M761.2 310.1m-3.55 0a3.55 3.55 0 1 0 7.10 0a3.55 3.55 0 1 0 -7.10 0M765.3 309.7m-3.55 0a3.55 3.55 0 1 0 7.10 0a3.55 3.55 0 1 0 -7.10 0M768.5 309.8m-3.55 0a3.55 3.55 0 1 0 7.10 0a3.55 3.55 0 1 0 -7.10 0M772.0 310.0m-3.55 0a3.55 3.55 0 1 0 7.10 0a3.55 3.55 0 1 0 -7.10 0M750.2 313.0m-3.55 0a3.55 3.55 0 1 0 7.10 0a3.55 3.55 0 1 0 -7.10 0M753.9 313.5m-3.55 0a3.55 3.55 0 1 0 7.10 0a3.55 3.55 0 1 0 -7.10 0M757.8 313.5m-3.55 0a3.55 3.55 0 1 0 7.10 0a3.55 3.55 0 1 0 -7.10 0M761.7 312.7m-3.55 0a3.55 3.55 0 1 0 7.10 0a3.55 3.55 0 1 0 -7.10 0M764.8 313.5m-3.55 0a3.55 3.55 0 1 0 7.10 0a3.55 3.55 0 1 0 -7.10 0M768.8 312.6m-3.55 0a3.55 3.55 0 1 0 7.10 0a3.55 3.55 0 1 0 -7.10 0M771.5 312.9m-3.55 0a3.55 3.55 0 1 0 7.10 0a3.55 3.55 0 1 0 -7.10 0M749.8 315.9m-3.55 0a3.55 3.55 0 1 0 7.10 0a3.55 3.55 0 1 0 -7.10 0M753.4 316.4m-3.55 0a3.55 3.55 0 1 0 7.10 0a3.55 3.55 0 1 0 -7.10 0M757.9 316.7m-3.55 0a3.55 3.55 0 1 0 7.10 0a3.55 3.55 0 1 0 -7.10 0M760.7 316.5m-3.55 0a3.55 3.55 0 1 0 7.10 0a3.55 3.55 0 1 0 -7.10 0M765.0 315.8m-3.55 0a3.55 3.55 0 1 0 7.10 0a3.55 3.55 0 1 0 -7.10 0M768.8 316.8m-3.55 0a3.55 3.55 0 1 0 7.10 0a3.55 3.55 0 1 0 -7.10 0M771.7 316.7m-3.55 0a3.55 3.55 0 1 0 7.10 0a3.55 3.55 0 1 0 -7.10 0M750.2 319.4m-3.55 0a3.55 3.55 0 1 0 7.10 0a3.55 3.55 0 1 0 -7.10 0M754.5 319.8m-3.55 0a3.55 3.55 0 1 0 7.10 0a3.55 3.55 0 1 0 -7.10 0M757.1 319.3m-3.55 0a3.55 3.55 0 1 0 7.10 0a3.55 3.55 0 1 0 -7.10 0M761.2 319.2m-3.55 0a3.55 3.55 0 1 0 7.10 0a3.55 3.55 0 1 0 -7.10 0M764.4 319.2m-3.55 0a3.55 3.55 0 1 0 7.10 0a3.55 3.55 0 1 0 -7.10 0M768.6 318.8m-3.55 0a3.55 3.55 0 1 0 7.10 0a3.55 3.55 0 1 0 -7.10 0M772.1 319.3m-3.55 0a3.55 3.55 0 1 0 7.10 0a3.55 3.55 0 1 0 -7.10 0M749.5 322.4m-3.55 0a3.55 3.55 0 1 0 7.10 0a3.55 3.55 0 1 0 -7.10 0M753.9 322.6m-3.55 0a3.55 3.55 0 1 0 7.10 0a3.55 3.55 0 1 0 -7.10 0M756.9 323.2m-3.55 0a3.55 3.55 0 1 0 7.10 0a3.55 3.55 0 1 0 -7.10 0M761.4 323.2m-3.55 0a3.55 3.55 0 1 0 7.10 0a3.55 3.55 0 1 0 -7.10 0M764.2 322.3m-3.55 0a3.55 3.55 0 1 0 7.10 0a3.55 3.55 0 1 0 -7.10 0M767.8 322.9m-3.55 0a3.55 3.55 0 1 0 7.10 0a3.55 3.55 0 1 0 -7.10 0M771.7 322.2m-3.55 0a3.55 3.55 0 1 0 7.10 0a3.55 3.55 0 1 0 -7.10 0M749.8 326.3m-3.55 0a3.55 3.55 0 1 0 7.10 0a3.55 3.55 0 1 0 -7.10 0M753.9 325.5m-3.55 0a3.55 3.55 0 1 0 7.10 0a3.55 3.55 0 1 0 -7.10 0M756.8 326.3m-3.55 0a3.55 3.55 0 1 0 7.10 0a3.55 3.55 0 1 0 -7.10 0M761.0 326.0m-3.55 0a3.55 3.55 0 1 0 7.10 0a3.55 3.55 0 1 0 -7.10 0M764.1 325.3m-3.55 0a3.55 3.55 0 1 0 7.10 0a3.55 3.55 0 1 0 -7.10 0M768.5 325.7m-3.55 0a3.55 3.55 0 1 0 7.10 0a3.55 3.55 0 1 0 -7.10 0M771.5 326.3m-3.55 0a3.55 3.55 0 1 0 7.10 0a3.55 3.55 0 1 0 -7.10 0M749.8 329.4m-3.55 0a3.55 3.55 0 1 0 7.10 0a3.55 3.55 0 1 0 -7.10 0M752.9 329.4m-3.55 0a3.55 3.55 0 1 0 7.10 0a3.55 3.55 0 1 0 -7.10 0M756.6 329.4m-3.55 0a3.55 3.55 0 1 0 7.10 0a3.55 3.55 0 1 0 -7.10 0M760.8 328.8m-3.55 0a3.55 3.55 0 1 0 7.10 0a3.55 3.55 0 1 0 -7.10 0M764.6 329.5m-3.55 0a3.55 3.55 0 1 0 7.10 0a3.55 3.55 0 1 0 -7.10 0M768.0 328.6m-3.55 0a3.55 3.55 0 1 0 7.10 0a3.55 3.55 0 1 0 -7.10 0M772.0 328.7m-3.55 0a3.55 3.55 0 1 0 7.10 0a3.55 3.55 0 1 0 -7.10 0M748.9 331.8m-3.55 0a3.55 3.55 0 1 0 7.10 0a3.55 3.55 0 1 0 -7.10 0M752.6 331.8m-3.55 0a3.55 3.55 0 1 0 7.10 0a3.55 3.55 0 1 0 -7.10 0M756.7 332.0m-3.55 0a3.55 3.55 0 1 0 7.10 0a3.55 3.55 0 1 0 -7.10 0M761.0 331.9m-3.55 0a3.55 3.55 0 1 0 7.10 0a3.55 3.55 0 1 0 -7.10 0M764.5 331.8m-3.55 0a3.55 3.55 0 1 0 7.10 0a3.55 3.55 0 1 0 -7.10 0M768.0 331.6m-3.55 0a3.55 3.55 0 1 0 7.10 0a3.55 3.55 0 1 0 -7.10 0M771.7 331.6m-3.55 0a3.55 3.55 0 1 0 7.10 0a3.55 3.55 0 1 0 -7.10 0M749.4 335.5m-3.55 0a3.55 3.55 0 1 0 7.10 0a3.55 3.55 0 1 0 -7.10 0M752.6 335.4m-3.55 0a3.55 3.55 0 1 0 7.10 0a3.55 3.55 0 1 0 -7.10 0M757.3 334.9m-3.55 0a3.55 3.55 0 1 0 7.10 0a3.55 3.55 0 1 0 -7.10 0M761.0 335.3m-3.55 0a3.55 3.55 0 1 0 7.10 0a3.55 3.55 0 1 0 -7.10 0M764.4 335.8m-3.55 0a3.55 3.55 0 1 0 7.10 0a3.55 3.55 0 1 0 -7.10 0M768.1 335.4m-3.55 0a3.55 3.55 0 1 0 7.10 0a3.55 3.55 0 1 0 -7.10 0M772.2 336.0m-3.55 0a3.55 3.55 0 1 0 7.10 0a3.55 3.55 0 1 0 -7.10 0M748.7 339.0m-3.55 0a3.55 3.55 0 1 0 7.10 0a3.55 3.55 0 1 0 -7.10 0M753.0 338.8m-3.55 0a3.55 3.55 0 1 0 7.10 0a3.55 3.55 0 1 0 -7.10 0M756.5 338.4m-3.55 0a3.55 3.55 0 1 0 7.10 0a3.55 3.55 0 1 0 -7.10 0M759.9 338.2m-3.55 0a3.55 3.55 0 1 0 7.10 0a3.55 3.55 0 1 0 -7.10 0M763.8 338.9m-3.55 0a3.55 3.55 0 1 0 7.10 0a3.55 3.55 0 1 0 -7.10 0M767.9 338.2m-3.55 0a3.55 3.55 0 1 0 7.10 0a3.55 3.55 0 1 0 -7.10 0M771.5 339.0m-3.55 0a3.55 3.55 0 1 0 7.10 0a3.55 3.55 0 1 0 -7.10 0M749.1 342.0m-3.55 0a3.55 3.55 0 1 0 7.10 0a3.55 3.55 0 1 0 -7.10 0M752.3 341.5m-3.55 0a3.55 3.55 0 1 0 7.10 0a3.55 3.55 0 1 0 -7.10 0M756.2 341.8m-3.55 0a3.55 3.55 0 1 0 7.10 0a3.55 3.55 0 1 0 -7.10 0M759.9 341.7m-3.55 0a3.55 3.55 0 1 0 7.10 0a3.55 3.55 0 1 0 -7.10 0M763.9 342.4m-3.55 0a3.55 3.55 0 1 0 7.10 0a3.55 3.55 0 1 0 -7.10 0M768.7 341.9m-3.55 0a3.55 3.55 0 1 0 7.10 0a3.55 3.55 0 1 0 -7.10 0M771.7 342.4m-3.55 0a3.55 3.55 0 1 0 7.10 0a3.55 3.55 0 1 0 -7.10 0M748.2 344.8m-3.55 0a3.55 3.55 0 1 0 7.10 0a3.55 3.55 0 1 0 -7.10 0M751.8 344.9m-3.55 0a3.55 3.55 0 1 0 7.10 0a3.55 3.55 0 1 0 -7.10 0M756.3 345.0m-3.55 0a3.55 3.55 0 1 0 7.10 0a3.55 3.55 0 1 0 -7.10 0M759.9 345.0m-3.55 0a3.55 3.55 0 1 0 7.10 0a3.55 3.55 0 1 0 -7.10 0M763.5 344.7m-3.55 0a3.55 3.55 0 1 0 7.10 0a3.55 3.55 0 1 0 -7.10 0M767.6 344.9m-3.55 0a3.55 3.55 0 1 0 7.10 0a3.55 3.55 0 1 0 -7.10 0M771.5 344.4m-3.55 0a3.55 3.55 0 1 0 7.10 0a3.55 3.55 0 1 0 -7.10 0M748.0 347.9m-3.55 0a3.55 3.55 0 1 0 7.10 0a3.55 3.55 0 1 0 -7.10 0M752.3 348.2m-3.55 0a3.55 3.55 0 1 0 7.10 0a3.55 3.55 0 1 0 -7.10 0M756.4 348.4m-3.55 0a3.55 3.55 0 1 0 7.10 0a3.55 3.55 0 1 0 -7.10 0M760.4 348.7m-3.55 0a3.55 3.55 0 1 0 7.10 0a3.55 3.55 0 1 0 -7.10 0M763.9 348.0m-3.55 0a3.55 3.55 0 1 0 7.10 0a3.55 3.55 0 1 0 -7.10 0M768.6 347.8m-3.55 0a3.55 3.55 0 1 0 7.10 0a3.55 3.55 0 1 0 -7.10 0M772.3 348.4m-3.55 0a3.55 3.55 0 1 0 7.10 0a3.55 3.55 0 1 0 -7.10 0M747.4 351.8m-3.55 0a3.55 3.55 0 1 0 7.10 0a3.55 3.55 0 1 0 -7.10 0M751.9 351.6m-3.55 0a3.55 3.55 0 1 0 7.10 0a3.55 3.55 0 1 0 -7.10 0M755.1 351.8m-3.55 0a3.55 3.55 0 1 0 7.10 0a3.55 3.55 0 1 0 -7.10 0M757.8 351.4m-3.55 0a3.55 3.55 0 1 0 7.10 0a3.55 3.55 0 1 0 -7.10 0M761.7 351.8m-3.55 0a3.55 3.55 0 1 0 7.10 0a3.55 3.55 0 1 0 -7.10 0M765.5 351.8m-3.55 0a3.55 3.55 0 1 0 7.10 0a3.55 3.55 0 1 0 -7.10 0M768.7 351.9m-3.55 0a3.55 3.55 0 1 0 7.10 0a3.55 3.55 0 1 0 -7.10 0M772.2 351.6m-3.55 0a3.55 3.55 0 1 0 7.10 0a3.55 3.55 0 1 0 -7.10 0M747.4 354.0m-3.55 0a3.55 3.55 0 1 0 7.10 0a3.55 3.55 0 1 0 -7.10 0M750.7 354.4m-3.55 0a3.55 3.55 0 1 0 7.10 0a3.55 3.55 0 1 0 -7.10 0M754.2 355.0m-3.55 0a3.55 3.55 0 1 0 7.10 0a3.55 3.55 0 1 0 -7.10 0M758.2 354.8m-3.55 0a3.55 3.55 0 1 0 7.10 0a3.55 3.55 0 1 0 -7.10 0M761.7 354.8m-3.55 0a3.55 3.55 0 1 0 7.10 0a3.55 3.55 0 1 0 -7.10 0M765.0 354.0m-3.55 0a3.55 3.55 0 1 0 7.10 0a3.55 3.55 0 1 0 -7.10 0M768.9 354.9m-3.55 0a3.55 3.55 0 1 0 7.10 0a3.55 3.55 0 1 0 -7.10 0M772.0 354.6m-3.55 0a3.55 3.55 0 1 0 7.10 0a3.55 3.55 0 1 0 -7.10 0M747.7 357.3m-3.55 0a3.55 3.55 0 1 0 7.10 0a3.55 3.55 0 1 0 -7.10 0M751.3 357.5m-3.55 0a3.55 3.55 0 1 0 7.10 0a3.55 3.55 0 1 0 -7.10 0M754.0 357.5m-3.55 0a3.55 3.55 0 1 0 7.10 0a3.55 3.55 0 1 0 -7.10 0M758.3 357.4m-3.55 0a3.55 3.55 0 1 0 7.10 0a3.55 3.55 0 1 0 -7.10 0M761.8 358.4m-3.55 0a3.55 3.55 0 1 0 7.10 0a3.55 3.55 0 1 0 -7.10 0M765.0 357.7m-3.55 0a3.55 3.55 0 1 0 7.10 0a3.55 3.55 0 1 0 -7.10 0M768.5 358.0m-3.55 0a3.55 3.55 0 1 0 7.10 0a3.55 3.55 0 1 0 -7.10 0M772.3 357.9m-3.55 0a3.55 3.55 0 1 0 7.10 0a3.55 3.55 0 1 0 -7.10 0M747.4 360.5m-3.55 0a3.55 3.55 0 1 0 7.10 0a3.55 3.55 0 1 0 -7.10 0M750.3 360.7m-3.55 0a3.55 3.55 0 1 0 7.10 0a3.55 3.55 0 1 0 -7.10 0M754.6 360.8m-3.55 0a3.55 3.55 0 1 0 7.10 0a3.55 3.55 0 1 0 -7.10 0M757.9 360.4m-3.55 0a3.55 3.55 0 1 0 7.10 0a3.55 3.55 0 1 0 -7.10 0M760.9 360.7m-3.55 0a3.55 3.55 0 1 0 7.10 0a3.55 3.55 0 1 0 -7.10 0M765.1 361.2m-3.55 0a3.55 3.55 0 1 0 7.10 0a3.55 3.55 0 1 0 -7.10 0M768.7 360.7m-3.55 0a3.55 3.55 0 1 0 7.10 0a3.55 3.55 0 1 0 -7.10 0M772.0 361.0m-3.55 0a3.55 3.55 0 1 0 7.10 0a3.55 3.55 0 1 0 -7.10 0M775.8 302.6m-3.55 0a3.55 3.55 0 1 0 7.10 0a3.55 3.55 0 1 0 -7.10 0M775.0 351.8m-3.55 0a3.55 3.55 0 1 0 7.10 0a3.55 3.55 0 1 0 -7.10 0M789.4 361.5m-3.55 0a3.55 3.55 0 1 0 7.10 0a3.55 3.55 0 1 0 -7.10 0M782.3 251.0m-3.55 0a3.55 3.55 0 1 0 7.10 0a3.55 3.55 0 1 0 -7.10 0M786.5 343.3m-3.55 0a3.55 3.55 0 1 0 7.10 0a3.55 3.55 0 1 0 -7.10 0M781.0 300.7m-3.55 0a3.55 3.55 0 1 0 7.10 0a3.55 3.55 0 1 0 -7.10 0M801.8 273.1m-3.55 0a3.55 3.55 0 1 0 7.10 0a3.55 3.55 0 1 0 -7.10 0M790.3 273.2m-3.55 0a3.55 3.55 0 1 0 7.10 0a3.55 3.55 0 1 0 -7.10 0M787.4 265.3m-3.55 0a3.55 3.55 0 1 0 7.10 0a3.55 3.55 0 1 0 -7.10 0M774.3 358.6m-3.55 0a3.55 3.55 0 1 0 7.10 0a3.55 3.55 0 1 0 -7.10 0M779.6 343.3m-3.55 0a3.55 3.55 0 1 0 7.10 0a3.55 3.55 0 1 0 -7.10 0M782.6 351.0m-3.55 0a3.55 3.55 0 1 0 7.10 0a3.55 3.55 0 1 0 -7.10 0M800.7 275.6m-3.55 0a3.55 3.55 0 1 0 7.10 0a3.55 3.55 0 1 0 -7.10 0M772.8 304.9m-3.55 0a3.55 3.55 0 1 0 7.10 0a3.55 3.55 0 1 0 -7.10 0M782.6 249.4m-3.55 0a3.55 3.55 0 1 0 7.10 0a3.55 3.55 0 1 0 -7.10 0M782.1 265.2m-3.55 0a3.55 3.55 0 1 0 7.10 0a3.55 3.55 0 1 0 -7.10 0M797.7 285.3m-3.55 0a3.55 3.55 0 1 0 7.10 0a3.55 3.55 0 1 0 -7.10 0M788.0 249.2m-3.55 0a3.55 3.55 0 1 0 7.10 0a3.55 3.55 0 1 0 -7.10 0M773.8 345.5m-3.55 0a3.55 3.55 0 1 0 7.10 0a3.55 3.55 0 1 0 -7.10 0M782.9 355.5m-3.55 0a3.55 3.55 0 1 0 7.10 0a3.55 3.55 0 1 0 -7.10 0M776.3 352.7m-3.55 0a3.55 3.55 0 1 0 7.10 0a3.55 3.55 0 1 0 -7.10 0M784.1 291.8m-3.55 0a3.55 3.55 0 1 0 7.10 0a3.55 3.55 0 1 0 -7.10 0M783.7 363.9m-3.55 0a3.55 3.55 0 1 0 7.10 0a3.55 3.55 0 1 0 -7.10 0M784.9 290.5m-3.55 0a3.55 3.55 0 1 0 7.10 0a3.55 3.55 0 1 0 -7.10 0M773.5 280.6m-3.55 0a3.55 3.55 0 1 0 7.10 0a3.55 3.55 0 1 0 -7.10 0M795.5 260.7m-3.55 0a3.55 3.55 0 1 0 7.10 0a3.55 3.55 0 1 0 -7.10 0M801.1 281.8m-3.55 0a3.55 3.55 0 1 0 7.10 0a3.55 3.55 0 1 0 -7.10 0M780.4 277.7m-3.55 0a3.55 3.55 0 1 0 7.10 0a3.55 3.55 0 1 0 -7.10 0M777.6 307.8m-3.55 0a3.55 3.55 0 1 0 7.10 0a3.55 3.55 0 1 0 -7.10 0M801.4 291.9m-3.55 0a3.55 3.55 0 1 0 7.10 0a3.55 3.55 0 1 0 -7.10 0M784.2 350.7m-3.55 0a3.55 3.55 0 1 0 7.10 0a3.55 3.55 0 1 0 -7.10 0M789.9 321.6m-3.55 0a3.55 3.55 0 1 0 7.10 0a3.55 3.55 0 1 0 -7.10 0M780.9 357.2m-3.55 0a3.55 3.55 0 1 0 7.10 0a3.55 3.55 0 1 0 -7.10 0M772.8 331.8m-3.55 0a3.55 3.55 0 1 0 7.10 0a3.55 3.55 0 1 0 -7.10 0M779.4 333.2m-3.55 0a3.55 3.55 0 1 0 7.10 0a3.55 3.55 0 1 0 -7.10 0M782.1 335.6m-3.55 0a3.55 3.55 0 1 0 7.10 0a3.55 3.55 0 1 0 -7.10 0M773.5 281.9m-3.55 0a3.55 3.55 0 1 0 7.10 0a3.55 3.55 0 1 0 -7.10 0M774.0 355.6m-3.55 0a3.55 3.55 0 1 0 7.10 0a3.55 3.55 0 1 0 -7.10 0M794.8 283.2m-3.55 0a3.55 3.55 0 1 0 7.10 0a3.55 3.55 0 1 0 -7.10 0M776.8 361.3m-3.55 0a3.55 3.55 0 1 0 7.10 0a3.55 3.55 0 1 0 -7.10 0M777.6 324.4m-3.55 0a3.55 3.55 0 1 0 7.10 0a3.55 3.55 0 1 0 -7.10 0M782.1 313.1m-3.55 0a3.55 3.55 0 1 0 7.10 0a3.55 3.55 0 1 0 -7.10 0M776.9 268.2m-3.55 0a3.55 3.55 0 1 0 7.10 0a3.55 3.55 0 1 0 -7.10 0M800.5 272.9m-3.55 0a3.55 3.55 0 1 0 7.10 0a3.55 3.55 0 1 0 -7.10 0M778.7 306.2m-3.55 0a3.55 3.55 0 1 0 7.10 0a3.55 3.55 0 1 0 -7.10 0M786.9 353.2m-3.55 0a3.55 3.55 0 1 0 7.10 0a3.55 3.55 0 1 0 -7.10 0M776.7 300.7m-3.55 0a3.55 3.55 0 1 0 7.10 0a3.55 3.55 0 1 0 -7.10 0M774.8 271.1m-3.55 0a3.55 3.55 0 1 0 7.10 0a3.55 3.55 0 1 0 -7.10 0M774.8 288.3m-3.55 0a3.55 3.55 0 1 0 7.10 0a3.55 3.55 0 1 0 -7.10 0M780.2 276.5m-3.55 0a3.55 3.55 0 1 0 7.10 0a3.55 3.55 0 1 0 -7.10 0M793.6 314.5m-3.55 0a3.55 3.55 0 1 0 7.10 0a3.55 3.55 0 1 0 -7.10 0M778.5 335.2m-3.55 0a3.55 3.55 0 1 0 7.10 0a3.55 3.55 0 1 0 -7.10 0M789.1 296.6m-3.55 0a3.55 3.55 0 1 0 7.10 0a3.55 3.55 0 1 0 -7.10 0M782.5 292.3m-3.55 0a3.55 3.55 0 1 0 7.10 0a3.55 3.55 0 1 0 -7.10 0M779.1 256.1m-3.55 0a3.55 3.55 0 1 0 7.10 0a3.55 3.55 0 1 0 -7.10 0M774.3 360.3m-3.55 0a3.55 3.55 0 1 0 7.10 0a3.55 3.55 0 1 0 -7.10 0M790.8 306.9m-3.55 0a3.55 3.55 0 1 0 7.10 0a3.55 3.55 0 1 0 -7.10 0M775.2 348.2m-3.55 0a3.55 3.55 0 1 0 7.10 0a3.55 3.55 0 1 0 -7.10 0M779.8 280.2m-3.55 0a3.55 3.55 0 1 0 7.10 0a3.55 3.55 0 1 0 -7.10 0M786.3 295.0m-3.55 0a3.55 3.55 0 1 0 7.10 0a3.55 3.55 0 1 0 -7.10 0M786.5 358.7m-3.55 0a3.55 3.55 0 1 0 7.10 0a3.55 3.55 0 1 0 -7.10 0M772.3 349.4m-3.55 0a3.55 3.55 0 1 0 7.10 0a3.55 3.55 0 1 0 -7.10 0M788.7 252.7m-3.55 0a3.55 3.55 0 1 0 7.10 0a3.55 3.55 0 1 0 -7.10 0M779.1 352.0m-3.55 0a3.55 3.55 0 1 0 7.10 0a3.55 3.55 0 1 0 -7.10 0M772.0 316.5m-3.55 0a3.55 3.55 0 1 0 7.10 0a3.55 3.55 0 1 0 -7.10 0M801.3 294.0m-3.55 0a3.55 3.55 0 1 0 7.10 0a3.55 3.55 0 1 0 -7.10 0M784.8 343.9m-3.55 0a3.55 3.55 0 1 0 7.10 0a3.55 3.55 0 1 0 -7.10 0M776.5 360.8m-3.55 0a3.55 3.55 0 1 0 7.10 0a3.55 3.55 0 1 0 -7.10 0M776.4 261.5m-3.55 0a3.55 3.55 0 1 0 7.10 0a3.55 3.55 0 1 0 -7.10 0M791.5 309.1m-3.55 0a3.55 3.55 0 1 0 7.10 0a3.55 3.55 0 1 0 -7.10 0M783.7 357.3m-3.55 0a3.55 3.55 0 1 0 7.10 0a3.55 3.55 0 1 0 -7.10 0M786.6 323.4m-3.55 0a3.55 3.55 0 1 0 7.10 0a3.55 3.55 0 1 0 -7.10 0M790.2 301.6m-3.55 0a3.55 3.55 0 1 0 7.10 0a3.55 3.55 0 1 0 -7.10 0M790.8 253.5m-3.55 0a3.55 3.55 0 1 0 7.10 0a3.55 3.55 0 1 0 -7.10 0M801.3 275.7m-3.55 0a3.55 3.55 0 1 0 7.10 0a3.55 3.55 0 1 0 -7.10 0M777.8 323.2m-3.55 0a3.55 3.55 0 1 0 7.10 0a3.55 3.55 0 1 0 -7.10 0M779.3 263.7m-3.55 0a3.55 3.55 0 1 0 7.10 0a3.55 3.55 0 1 0 -7.10 0M785.5 322.2m-3.55 0a3.55 3.55 0 1 0 7.10 0a3.55 3.55 0 1 0 -7.10 0M774.0 261.9m-3.55 0a3.55 3.55 0 1 0 7.10 0a3.55 3.55 0 1 0 -7.10 0M779.0 293.6m-3.55 0a3.55 3.55 0 1 0 7.10 0a3.55 3.55 0 1 0 -7.10 0M772.2 318.1m-3.55 0a3.55 3.55 0 1 0 7.10 0a3.55 3.55 0 1 0 -7.10 0M786.2 283.7m-3.55 0a3.55 3.55 0 1 0 7.10 0a3.55 3.55 0 1 0 -7.10 0M783.2 359.3m-3.55 0a3.55 3.55 0 1 0 7.10 0a3.55 3.55 0 1 0 -7.10 0M779.1 350.6m-3.55 0a3.55 3.55 0 1 0 7.10 0a3.55 3.55 0 1 0 -7.10 0M779.9 276.0m-3.55 0a3.55 3.55 0 1 0 7.10 0a3.55 3.55 0 1 0 -7.10 0M784.3 359.5m-3.55 0a3.55 3.55 0 1 0 7.10 0a3.55 3.55 0 1 0 -7.10 0M772.7 284.4m-3.55 0a3.55 3.55 0 1 0 7.10 0a3.55 3.55 0 1 0 -7.10 0M792.4 306.3m-3.55 0a3.55 3.55 0 1 0 7.10 0a3.55 3.55 0 1 0 -7.10 0M780.5 297.3m-3.55 0a3.55 3.55 0 1 0 7.10 0a3.55 3.55 0 1 0 -7.10 0M789.0 325.7m-3.55 0a3.55 3.55 0 1 0 7.10 0a3.55 3.55 0 1 0 -7.10 0M773.1 275.1m-3.55 0a3.55 3.55 0 1 0 7.10 0a3.55 3.55 0 1 0 -7.10 0M784.7 287.9m-3.55 0a3.55 3.55 0 1 0 7.10 0a3.55 3.55 0 1 0 -7.10 0M775.5 327.5m-3.55 0a3.55 3.55 0 1 0 7.10 0a3.55 3.55 0 1 0 -7.10 0M783.1 340.7m-3.55 0a3.55 3.55 0 1 0 7.10 0a3.55 3.55 0 1 0 -7.10 0M778.1 307.1m-3.55 0a3.55 3.55 0 1 0 7.10 0a3.55 3.55 0 1 0 -7.10 0M777.6 360.5m-3.55 0a3.55 3.55 0 1 0 7.10 0a3.55 3.55 0 1 0 -7.10 0M775.5 343.3m-3.55 0a3.55 3.55 0 1 0 7.10 0a3.55 3.55 0 1 0 -7.10 0M796.2 274.5m-3.55 0a3.55 3.55 0 1 0 7.10 0a3.55 3.55 0 1 0 -7.10 0M801.5 282.9m-3.55 0a3.55 3.55 0 1 0 7.10 0a3.55 3.55 0 1 0 -7.10 0M777.7 306.0m-3.55 0a3.55 3.55 0 1 0 7.10 0a3.55 3.55 0 1 0 -7.10 0M785.3 274.7m-3.55 0a3.55 3.55 0 1 0 7.10 0a3.55 3.55 0 1 0 -7.10 0M789.5 325.5m-3.55 0a3.55 3.55 0 1 0 7.10 0a3.55 3.55 0 1 0 -7.10 0M783.6 265.8m-3.55 0a3.55 3.55 0 1 0 7.10 0a3.55 3.55 0 1 0 -7.10 0M802.8 273.5m-3.55 0a3.55 3.55 0 1 0 7.10 0a3.55 3.55 0 1 0 -7.10 0M773.5 265.3m-3.55 0a3.55 3.55 0 1 0 7.10 0a3.55 3.55 0 1 0 -7.10 0M782.0 255.9m-3.55 0a3.55 3.55 0 1 0 7.10 0a3.55 3.55 0 1 0 -7.10 0M785.3 352.3m-3.55 0a3.55 3.55 0 1 0 7.10 0a3.55 3.55 0 1 0 -7.10 0M788.3 333.3m-3.55 0a3.55 3.55 0 1 0 7.10 0a3.55 3.55 0 1 0 -7.10 0M777.1 356.1m-3.55 0a3.55 3.55 0 1 0 7.10 0a3.55 3.55 0 1 0 -7.10 0M800.8 270.3m-3.55 0a3.55 3.55 0 1 0 7.10 0a3.55 3.55 0 1 0 -7.10 0M772.5 334.8m-3.55 0a3.55 3.55 0 1 0 7.10 0a3.55 3.55 0 1 0 -7.10 0M779.0 325.4m-3.55 0a3.55 3.55 0 1 0 7.10 0a3.55 3.55 0 1 0 -7.10 0M782.2 292.0m-3.55 0a3.55 3.55 0 1 0 7.10 0a3.55 3.55 0 1 0 -7.10 0M772.1 268.5m-3.55 0a3.55 3.55 0 1 0 7.10 0a3.55 3.55 0 1 0 -7.10 0M783.0 281.2m-3.55 0a3.55 3.55 0 1 0 7.10 0a3.55 3.55 0 1 0 -7.10 0M774.1 358.9m-3.55 0a3.55 3.55 0 1 0 7.10 0a3.55 3.55 0 1 0 -7.10 0M775.7 359.9m-3.55 0a3.55 3.55 0 1 0 7.10 0a3.55 3.55 0 1 0 -7.10 0M796.7 290.0m-3.55 0a3.55 3.55 0 1 0 7.10 0a3.55 3.55 0 1 0 -7.10 0M778.5 343.5m-3.55 0a3.55 3.55 0 1 0 7.10 0a3.55 3.55 0 1 0 -7.10 0M783.7 254.7m-3.55 0a3.55 3.55 0 1 0 7.10 0a3.55 3.55 0 1 0 -7.10 0M800.3 291.9m-3.55 0a3.55 3.55 0 1 0 7.10 0a3.55 3.55 0 1 0 -7.10 0M783.3 271.2m-3.55 0a3.55 3.55 0 1 0 7.10 0a3.55 3.55 0 1 0 -7.10 0M772.5 352.2m-3.55 0a3.55 3.55 0 1 0 7.10 0a3.55 3.55 0 1 0 -7.10 0M798.4 296.2m-3.55 0a3.55 3.55 0 1 0 7.10 0a3.55 3.55 0 1 0 -7.10 0M772.6 337.2m-3.55 0a3.55 3.55 0 1 0 7.10 0a3.55 3.55 0 1 0 -7.10 0M773.5 253.0m-3.55 0a3.55 3.55 0 1 0 7.10 0a3.55 3.55 0 1 0 -7.10 0M775.9 354.8m-3.55 0a3.55 3.55 0 1 0 7.10 0a3.55 3.55 0 1 0 -7.10 0M786.2 334.9m-3.55 0a3.55 3.55 0 1 0 7.10 0a3.55 3.55 0 1 0 -7.10 0M780.2 288.0m-3.55 0a3.55 3.55 0 1 0 7.10 0a3.55 3.55 0 1 0 -7.10 0M782.7 359.1m-3.55 0a3.55 3.55 0 1 0 7.10 0a3.55 3.55 0 1 0 -7.10 0M794.5 279.1m-3.55 0a3.55 3.55 0 1 0 7.10 0a3.55 3.55 0 1 0 -7.10 0M780.4 285.4m-3.55 0a3.55 3.55 0 1 0 7.10 0a3.55 3.55 0 1 0 -7.10 0M788.2 249.4m-3.55 0a3.55 3.55 0 1 0 7.10 0a3.55 3.55 0 1 0 -7.10 0M781.5 354.4m-3.55 0a3.55 3.55 0 1 0 7.10 0a3.55 3.55 0 1 0 -7.10 0M772.4 357.5m-3.55 0a3.55 3.55 0 1 0 7.10 0a3.55 3.55 0 1 0 -7.10 0M787.1 275.9m-3.55 0a3.55 3.55 0 1 0 7.10 0a3.55 3.55 0 1 0 -7.10 0M788.4 359.0m-3.55 0a3.55 3.55 0 1 0 7.10 0a3.55 3.55 0 1 0 -7.10 0M724.9 283.0m-3.55 0a3.55 3.55 0 1 0 7.10 0a3.55 3.55 0 1 0 -7.10 0M717.4 300.5m-3.55 0a3.55 3.55 0 1 0 7.10 0a3.55 3.55 0 1 0 -7.10 0M730.9 296.1m-3.55 0a3.55 3.55 0 1 0 7.10 0a3.55 3.55 0 1 0 -7.10 0M731.7 296.8m-3.55 0a3.55 3.55 0 1 0 7.10 0a3.55 3.55 0 1 0 -7.10 0M720.9 289.3m-3.55 0a3.55 3.55 0 1 0 7.10 0a3.55 3.55 0 1 0 -7.10 0M714.9 295.4m-3.55 0a3.55 3.55 0 1 0 7.10 0a3.55 3.55 0 1 0 -7.10 0M731.2 274.9m-3.55 0a3.55 3.55 0 1 0 7.10 0a3.55 3.55 0 1 0 -7.10 0M714.6 276.7m-3.55 0a3.55 3.55 0 1 0 7.10 0a3.55 3.55 0 1 0 -7.10 0M726.4 269.2m-3.55 0a3.55 3.55 0 1 0 7.10 0a3.55 3.55 0 1 0 -7.10 0M736.7 279.4m-3.55 0a3.55 3.55 0 1 0 7.10 0a3.55 3.55 0 1 0 -7.10 0M736.9 298.9m-3.55 0a3.55 3.55 0 1 0 7.10 0a3.55 3.55 0 1 0 -7.10 0M715.0 277.3m-3.55 0a3.55 3.55 0 1 0 7.10 0a3.55 3.55 0 1 0 -7.10 0M725.1 271.4m-3.55 0a3.55 3.55 0 1 0 7.10 0a3.55 3.55 0 1 0 -7.10 0M723.8 292.8m-3.55 0a3.55 3.55 0 1 0 7.10 0a3.55 3.55 0 1 0 -7.10 0M723.1 276.2m-3.55 0a3.55 3.55 0 1 0 7.10 0a3.55 3.55 0 1 0 -7.10 0M729.3 289.7m-3.55 0a3.55 3.55 0 1 0 7.10 0a3.55 3.55 0 1 0 -7.10 0M733.5 294.2m-3.55 0a3.55 3.55 0 1 0 7.10 0a3.55 3.55 0 1 0 -7.10 0M715.9 291.3m-3.55 0a3.55 3.55 0 1 0 7.10 0a3.55 3.55 0 1 0 -7.10 0M720.1 297.4m-3.55 0a3.55 3.55 0 1 0 7.10 0a3.55 3.55 0 1 0 -7.10 0M722.0 287.8m-3.55 0a3.55 3.55 0 1 0 7.10 0a3.55 3.55 0 1 0 -7.10 0M717.8 293.8m-3.55 0a3.55 3.55 0 1 0 7.10 0a3.55 3.55 0 1 0 -7.10 0M718.9 276.7m-3.55 0a3.55 3.55 0 1 0 7.10 0a3.55 3.55 0 1 0 -7.10 0M734.4 273.4m-3.55 0a3.55 3.55 0 1 0 7.10 0a3.55 3.55 0 1 0 -7.10 0M720.9 288.2m-3.55 0a3.55 3.55 0 1 0 7.10 0a3.55 3.55 0 1 0 -7.10 0M737.0 281.9m-3.55 0a3.55 3.55 0 1 0 7.10 0a3.55 3.55 0 1 0 -7.10 0M718.6 285.8m-3.55 0a3.55 3.55 0 1 0 7.10 0a3.55 3.55 0 1 0 -7.10 0M728.8 296.3m-3.55 0a3.55 3.55 0 1 0 7.10 0a3.55 3.55 0 1 0 -7.10 0M715.5 302.7m-3.55 0a3.55 3.55 0 1 0 7.10 0a3.55 3.55 0 1 0 -7.10 0M732.8 284.6m-3.55 0a3.55 3.55 0 1 0 7.10 0a3.55 3.55 0 1 0 -7.10 0M735.1 297.4m-3.55 0a3.55 3.55 0 1 0 7.10 0a3.55 3.55 0 1 0 -7.10 0M720.1 269.4m-3.55 0a3.55 3.55 0 1 0 7.10 0a3.55 3.55 0 1 0 -7.10 0M717.6 272.2m-3.55 0a3.55 3.55 0 1 0 7.10 0a3.55 3.55 0 1 0 -7.10 0M727.1 302.1m-3.55 0a3.55 3.55 0 1 0 7.10 0a3.55 3.55 0 1 0 -7.10 0M722.0 300.6m-3.55 0a3.55 3.55 0 1 0 7.10 0a3.55 3.55 0 1 0 -7.10 0M723.9 298.3m-3.55 0a3.55 3.55 0 1 0 7.10 0a3.55 3.55 0 1 0 -7.10 0M731.8 277.1m-3.55 0a3.55 3.55 0 1 0 7.10 0a3.55 3.55 0 1 0 -7.10 0M715.6 301.1m-3.55 0a3.55 3.55 0 1 0 7.10 0a3.55 3.55 0 1 0 -7.10 0M728.0 288.9m-3.55 0a3.55 3.55 0 1 0 7.10 0a3.55 3.55 0 1 0 -7.10 0M721.9 275.6m-3.55 0a3.55 3.55 0 1 0 7.10 0a3.55 3.55 0 1 0 -7.10 0M717.9 272.9m-3.55 0a3.55 3.55 0 1 0 7.10 0a3.55 3.55 0 1 0 -7.10 0M727.5 276.9m-3.55 0a3.55 3.55 0 1 0 7.10 0a3.55 3.55 0 1 0 -7.10 0M717.9 290.8m-3.55 0a3.55 3.55 0 1 0 7.10 0a3.55 3.55 0 1 0 -7.10 0M720.9 268.4m-3.55 0a3.55 3.55 0 1 0 7.10 0a3.55 3.55 0 1 0 -7.10 0M717.5 291.7m-3.55 0a3.55 3.55 0 1 0 7.10 0a3.55 3.55 0 1 0 -7.10 0M717.9 278.9m-3.55 0a3.55 3.55 0 1 0 7.10 0a3.55 3.55 0 1 0 -7.10 0M726.3 295.8m-3.55 0a3.55 3.55 0 1 0 7.10 0a3.55 3.55 0 1 0 -7.10 0M715.5 270.2m-3.55 0a3.55 3.55 0 1 0 7.10 0a3.55 3.55 0 1 0 -7.10 0M726.3 281.8m-3.55 0a3.55 3.55 0 1 0 7.10 0a3.55 3.55 0 1 0 -7.10 0M715.2 290.4m-3.55 0a3.55 3.55 0 1 0 7.10 0a3.55 3.55 0 1 0 -7.10 0M729.8 273.7m-3.55 0a3.55 3.55 0 1 0 7.10 0a3.55 3.55 0 1 0 -7.10 0M736.1 278.8m-3.55 0a3.55 3.55 0 1 0 7.10 0a3.55 3.55 0 1 0 -7.10 0M726.7 278.9m-3.55 0a3.55 3.55 0 1 0 7.10 0a3.55 3.55 0 1 0 -7.10 0M723.1 280.5m-3.55 0a3.55 3.55 0 1 0 7.10 0a3.55 3.55 0 1 0 -7.10 0M737.1 298.2m-3.55 0a3.55 3.55 0 1 0 7.10 0a3.55 3.55 0 1 0 -7.10 0M717.8 280.7m-3.55 0a3.55 3.55 0 1 0 7.10 0a3.55 3.55 0 1 0 -7.10 0M717.9 293.5m-3.55 0a3.55 3.55 0 1 0 7.10 0a3.55 3.55 0 1 0 -7.10 0M734.8 268.2m-3.55 0a3.55 3.55 0 1 0 7.10 0a3.55 3.55 0 1 0 -7.10 0M709.9 303.4m-3.55 0a3.55 3.55 0 1 0 7.10 0a3.55 3.55 0 1 0 -7.10 0M713.8 303.5m-3.55 0a3.55 3.55 0 1 0 7.10 0a3.55 3.55 0 1 0 -7.10 0M717.7 302.6m-3.55 0a3.55 3.55 0 1 0 7.10 0a3.55 3.55 0 1 0 -7.10 0M721.1 303.1m-3.55 0a3.55 3.55 0 1 0 7.10 0a3.55 3.55 0 1 0 -7.10 0M725.7 303.5m-3.55 0a3.55 3.55 0 1 0 7.10 0a3.55 3.55 0 1 0 -7.10 0M728.9 303.1m-3.55 0a3.55 3.55 0 1 0 7.10 0a3.55 3.55 0 1 0 -7.10 0M733.2 303.0m-3.55 0a3.55 3.55 0 1 0 7.10 0a3.55 3.55 0 1 0 -7.10 0M736.8 302.7m-3.55 0a3.55 3.55 0 1 0 7.10 0a3.55 3.55 0 1 0 -7.10 0M710.0 306.7m-3.55 0a3.55 3.55 0 1 0 7.10 0a3.55 3.55 0 1 0 -7.10 0M713.4 306.2m-3.55 0a3.55 3.55 0 1 0 7.10 0a3.55 3.55 0 1 0 -7.10 0M718.1 306.8m-3.55 0a3.55 3.55 0 1 0 7.10 0a3.55 3.55 0 1 0 -7.10 0M721.3 305.8m-3.55 0a3.55 3.55 0 1 0 7.10 0a3.55 3.55 0 1 0 -7.10 0M726.1 306.8m-3.55 0a3.55 3.55 0 1 0 7.10 0a3.55 3.55 0 1 0 -7.10 0M729.4 305.7m-3.55 0a3.55 3.55 0 1 0 7.10 0a3.55 3.55 0 1 0 -7.10 0M733.8 306.1m-3.55 0a3.55 3.55 0 1 0 7.10 0a3.55 3.55 0 1 0 -7.10 0M737.7 306.3m-3.55 0a3.55 3.55 0 1 0 7.10 0a3.55 3.55 0 1 0 -7.10 0M710.4 309.0m-3.55 0a3.55 3.55 0 1 0 7.10 0a3.55 3.55 0 1 0 -7.10 0M714.2 309.1m-3.55 0a3.55 3.55 0 1 0 7.10 0a3.55 3.55 0 1 0 -7.10 0M717.7 309.8m-3.55 0a3.55 3.55 0 1 0 7.10 0a3.55 3.55 0 1 0 -7.10 0M722.1 309.0m-3.55 0a3.55 3.55 0 1 0 7.10 0a3.55 3.55 0 1 0 -7.10 0M725.2 309.3m-3.55 0a3.55 3.55 0 1 0 7.10 0a3.55 3.55 0 1 0 -7.10 0M729.5 309.3m-3.55 0a3.55 3.55 0 1 0 7.10 0a3.55 3.55 0 1 0 -7.10 0M732.9 309.1m-3.55 0a3.55 3.55 0 1 0 7.10 0a3.55 3.55 0 1 0 -7.10 0M737.5 309.9m-3.55 0a3.55 3.55 0 1 0 7.10 0a3.55 3.55 0 1 0 -7.10 0M709.4 312.7m-3.55 0a3.55 3.55 0 1 0 7.10 0a3.55 3.55 0 1 0 -7.10 0M714.2 312.0m-3.55 0a3.55 3.55 0 1 0 7.10 0a3.55 3.55 0 1 0 -7.10 0M718.2 312.1m-3.55 0a3.55 3.55 0 1 0 7.10 0a3.55 3.55 0 1 0 -7.10 0M721.8 312.7m-3.55 0a3.55 3.55 0 1 0 7.10 0a3.55 3.55 0 1 0 -7.10 0M725.7 312.4m-3.55 0a3.55 3.55 0 1 0 7.10 0a3.55 3.55 0 1 0 -7.10 0M729.3 312.7m-3.55 0a3.55 3.55 0 1 0 7.10 0a3.55 3.55 0 1 0 -7.10 0M733.2 312.8m-3.55 0a3.55 3.55 0 1 0 7.10 0a3.55 3.55 0 1 0 -7.10 0M737.1 312.5m-3.55 0a3.55 3.55 0 1 0 7.10 0a3.55 3.55 0 1 0 -7.10 0M709.4 315.9m-3.55 0a3.55 3.55 0 1 0 7.10 0a3.55 3.55 0 1 0 -7.10 0M713.9 315.5m-3.55 0a3.55 3.55 0 1 0 7.10 0a3.55 3.55 0 1 0 -7.10 0M718.1 316.1m-3.55 0a3.55 3.55 0 1 0 7.10 0a3.55 3.55 0 1 0 -7.10 0M721.6 315.4m-3.55 0a3.55 3.55 0 1 0 7.10 0a3.55 3.55 0 1 0 -7.10 0M725.5 315.3m-3.55 0a3.55 3.55 0 1 0 7.10 0a3.55 3.55 0 1 0 -7.10 0M729.0 315.7m-3.55 0a3.55 3.55 0 1 0 7.10 0a3.55 3.55 0 1 0 -7.10 0M732.8 315.7m-3.55 0a3.55 3.55 0 1 0 7.10 0a3.55 3.55 0 1 0 -7.10 0M737.2 315.2m-3.55 0a3.55 3.55 0 1 0 7.10 0a3.55 3.55 0 1 0 -7.10 0M710.2 318.5m-3.55 0a3.55 3.55 0 1 0 7.10 0a3.55 3.55 0 1 0 -7.10 0M714.2 319.3m-3.55 0a3.55 3.55 0 1 0 7.10 0a3.55 3.55 0 1 0 -7.10 0M717.8 318.5m-3.55 0a3.55 3.55 0 1 0 7.10 0a3.55 3.55 0 1 0 -7.10 0M721.7 318.9m-3.55 0a3.55 3.55 0 1 0 7.10 0a3.55 3.55 0 1 0 -7.10 0M726.1 318.6m-3.55 0a3.55 3.55 0 1 0 7.10 0a3.55 3.55 0 1 0 -7.10 0M729.9 319.6m-3.55 0a3.55 3.55 0 1 0 7.10 0a3.55 3.55 0 1 0 -7.10 0M733.6 319.4m-3.55 0a3.55 3.55 0 1 0 7.10 0a3.55 3.55 0 1 0 -7.10 0M736.8 319.6m-3.55 0a3.55 3.55 0 1 0 7.10 0a3.55 3.55 0 1 0 -7.10 0M710.0 322.7m-3.55 0a3.55 3.55 0 1 0 7.10 0a3.55 3.55 0 1 0 -7.10 0M714.4 321.8m-3.55 0a3.55 3.55 0 1 0 7.10 0a3.55 3.55 0 1 0 -7.10 0M718.2 322.7m-3.55 0a3.55 3.55 0 1 0 7.10 0a3.55 3.55 0 1 0 -7.10 0M721.2 322.0m-3.55 0a3.55 3.55 0 1 0 7.10 0a3.55 3.55 0 1 0 -7.10 0M725.9 321.8m-3.55 0a3.55 3.55 0 1 0 7.10 0a3.55 3.55 0 1 0 -7.10 0M730.0 321.9m-3.55 0a3.55 3.55 0 1 0 7.10 0a3.55 3.55 0 1 0 -7.10 0M733.8 321.8m-3.55 0a3.55 3.55 0 1 0 7.10 0a3.55 3.55 0 1 0 -7.10 0M737.3 322.7m-3.55 0a3.55 3.55 0 1 0 7.10 0a3.55 3.55 0 1 0 -7.10 0M709.6 325.1m-3.55 0a3.55 3.55 0 1 0 7.10 0a3.55 3.55 0 1 0 -7.10 0M713.9 325.2m-3.55 0a3.55 3.55 0 1 0 7.10 0a3.55 3.55 0 1 0 -7.10 0M717.3 325.0m-3.55 0a3.55 3.55 0 1 0 7.10 0a3.55 3.55 0 1 0 -7.10 0M721.4 325.9m-3.55 0a3.55 3.55 0 1 0 7.10 0a3.55 3.55 0 1 0 -7.10 0M726.0 325.9m-3.55 0a3.55 3.55 0 1 0 7.10 0a3.55 3.55 0 1 0 -7.10 0M729.3 325.7m-3.55 0a3.55 3.55 0 1 0 7.10 0a3.55 3.55 0 1 0 -7.10 0M733.1 325.4m-3.55 0a3.55 3.55 0 1 0 7.10 0a3.55 3.55 0 1 0 -7.10 0M737.7 325.2m-3.55 0a3.55 3.55 0 1 0 7.10 0a3.55 3.55 0 1 0 -7.10 0M710.4 328.7m-3.55 0a3.55 3.55 0 1 0 7.10 0a3.55 3.55 0 1 0 -7.10 0M714.1 329.1m-3.55 0a3.55 3.55 0 1 0 7.10 0a3.55 3.55 0 1 0 -7.10 0M717.5 329.2m-3.55 0a3.55 3.55 0 1 0 7.10 0a3.55 3.55 0 1 0 -7.10 0M722.0 328.5m-3.55 0a3.55 3.55 0 1 0 7.10 0a3.55 3.55 0 1 0 -7.10 0M726.2 328.3m-3.55 0a3.55 3.55 0 1 0 7.10 0a3.55 3.55 0 1 0 -7.10 0M730.4 328.7m-3.55 0a3.55 3.55 0 1 0 7.10 0a3.55 3.55 0 1 0 -7.10 0M733.6 328.9m-3.55 0a3.55 3.55 0 1 0 7.10 0a3.55 3.55 0 1 0 -7.10 0M737.7 328.2m-3.55 0a3.55 3.55 0 1 0 7.10 0a3.55 3.55 0 1 0 -7.10 0M710.3 331.3m-3.55 0a3.55 3.55 0 1 0 7.10 0a3.55 3.55 0 1 0 -7.10 0M714.4 331.5m-3.55 0a3.55 3.55 0 1 0 7.10 0a3.55 3.55 0 1 0 -7.10 0M718.2 332.4m-3.55 0a3.55 3.55 0 1 0 7.10 0a3.55 3.55 0 1 0 -7.10 0M722.1 332.0m-3.55 0a3.55 3.55 0 1 0 7.10 0a3.55 3.55 0 1 0 -7.10 0M725.7 331.2m-3.55 0a3.55 3.55 0 1 0 7.10 0a3.55 3.55 0 1 0 -7.10 0M729.4 331.4m-3.55 0a3.55 3.55 0 1 0 7.10 0a3.55 3.55 0 1 0 -7.10 0M734.1 331.7m-3.55 0a3.55 3.55 0 1 0 7.10 0a3.55 3.55 0 1 0 -7.10 0M738.0 332.3m-3.55 0a3.55 3.55 0 1 0 7.10 0a3.55 3.55 0 1 0 -7.10 0M709.6 334.7m-3.55 0a3.55 3.55 0 1 0 7.10 0a3.55 3.55 0 1 0 -7.10 0M713.7 334.4m-3.55 0a3.55 3.55 0 1 0 7.10 0a3.55 3.55 0 1 0 -7.10 0M716.4 334.8m-3.55 0a3.55 3.55 0 1 0 7.10 0a3.55 3.55 0 1 0 -7.10 0M720.1 334.8m-3.55 0a3.55 3.55 0 1 0 7.10 0a3.55 3.55 0 1 0 -7.10 0M723.7 335.1m-3.55 0a3.55 3.55 0 1 0 7.10 0a3.55 3.55 0 1 0 -7.10 0M727.7 334.6m-3.55 0a3.55 3.55 0 1 0 7.10 0a3.55 3.55 0 1 0 -7.10 0M731.3 335.0m-3.55 0a3.55 3.55 0 1 0 7.10 0a3.55 3.55 0 1 0 -7.10 0M734.2 335.5m-3.55 0a3.55 3.55 0 1 0 7.10 0a3.55 3.55 0 1 0 -7.10 0M737.8 334.6m-3.55 0a3.55 3.55 0 1 0 7.10 0a3.55 3.55 0 1 0 -7.10 0M709.5 338.4m-3.55 0a3.55 3.55 0 1 0 7.10 0a3.55 3.55 0 1 0 -7.10 0M714.0 338.5m-3.55 0a3.55 3.55 0 1 0 7.10 0a3.55 3.55 0 1 0 -7.10 0M717.0 337.9m-3.55 0a3.55 3.55 0 1 0 7.10 0a3.55 3.55 0 1 0 -7.10 0M720.0 338.4m-3.55 0a3.55 3.55 0 1 0 7.10 0a3.55 3.55 0 1 0 -7.10 0M724.3 338.0m-3.55 0a3.55 3.55 0 1 0 7.10 0a3.55 3.55 0 1 0 -7.10 0M727.9 338.1m-3.55 0a3.55 3.55 0 1 0 7.10 0a3.55 3.55 0 1 0 -7.10 0M731.8 338.5m-3.55 0a3.55 3.55 0 1 0 7.10 0a3.55 3.55 0 1 0 -7.10 0M734.5 338.7m-3.55 0a3.55 3.55 0 1 0 7.10 0a3.55 3.55 0 1 0 -7.10 0M737.8 338.2m-3.55 0a3.55 3.55 0 1 0 7.10 0a3.55 3.55 0 1 0 -7.10 0M709.9 341.1m-3.55 0a3.55 3.55 0 1 0 7.10 0a3.55 3.55 0 1 0 -7.10 0M713.0 341.7m-3.55 0a3.55 3.55 0 1 0 7.10 0a3.55 3.55 0 1 0 -7.10 0M716.6 341.5m-3.55 0a3.55 3.55 0 1 0 7.10 0a3.55 3.55 0 1 0 -7.10 0M721.2 341.0m-3.55 0a3.55 3.55 0 1 0 7.10 0a3.55 3.55 0 1 0 -7.10 0M723.9 341.5m-3.55 0a3.55 3.55 0 1 0 7.10 0a3.55 3.55 0 1 0 -7.10 0M727.9 341.6m-3.55 0a3.55 3.55 0 1 0 7.10 0a3.55 3.55 0 1 0 -7.10 0M731.8 341.0m-3.55 0a3.55 3.55 0 1 0 7.10 0a3.55 3.55 0 1 0 -7.10 0M734.8 341.2m-3.55 0a3.55 3.55 0 1 0 7.10 0a3.55 3.55 0 1 0 -7.10 0M738.0 341.9m-3.55 0a3.55 3.55 0 1 0 7.10 0a3.55 3.55 0 1 0 -7.10 0M710.3 344.9m-3.55 0a3.55 3.55 0 1 0 7.10 0a3.55 3.55 0 1 0 -7.10 0M713.0 345.0m-3.55 0a3.55 3.55 0 1 0 7.10 0a3.55 3.55 0 1 0 -7.10 0M717.5 344.6m-3.55 0a3.55 3.55 0 1 0 7.10 0a3.55 3.55 0 1 0 -7.10 0M721.1 344.5m-3.55 0a3.55 3.55 0 1 0 7.10 0a3.55 3.55 0 1 0 -7.10 0M724.1 344.1m-3.55 0a3.55 3.55 0 1 0 7.10 0a3.55 3.55 0 1 0 -7.10 0M727.7 344.0m-3.55 0a3.55 3.55 0 1 0 7.10 0a3.55 3.55 0 1 0 -7.10 0M731.4 344.9m-3.55 0a3.55 3.55 0 1 0 7.10 0a3.55 3.55 0 1 0 -7.10 0M735.4 345.0m-3.55 0a3.55 3.55 0 1 0 7.10 0a3.55 3.55 0 1 0 -7.10 0M739.0 344.3m-3.55 0a3.55 3.55 0 1 0 7.10 0a3.55 3.55 0 1 0 -7.10 0M710.1 347.7m-3.55 0a3.55 3.55 0 1 0 7.10 0a3.55 3.55 0 1 0 -7.10 0M714.0 347.8m-3.55 0a3.55 3.55 0 1 0 7.10 0a3.55 3.55 0 1 0 -7.10 0M717.0 348.0m-3.55 0a3.55 3.55 0 1 0 7.10 0a3.55 3.55 0 1 0 -7.10 0M721.4 347.5m-3.55 0a3.55 3.55 0 1 0 7.10 0a3.55 3.55 0 1 0 -7.10 0M724.9 347.2m-3.55 0a3.55 3.55 0 1 0 7.10 0a3.55 3.55 0 1 0 -7.10 0M727.8 347.5m-3.55 0a3.55 3.55 0 1 0 7.10 0a3.55 3.55 0 1 0 -7.10 0M732.0 348.3m-3.55 0a3.55 3.55 0 1 0 7.10 0a3.55 3.55 0 1 0 -7.10 0M735.6 347.6m-3.55 0a3.55 3.55 0 1 0 7.10 0a3.55 3.55 0 1 0 -7.10 0M739.4 347.6m-3.55 0a3.55 3.55 0 1 0 7.10 0a3.55 3.55 0 1 0 -7.10 0M709.7 351.5m-3.55 0a3.55 3.55 0 1 0 7.10 0a3.55 3.55 0 1 0 -7.10 0M713.8 351.2m-3.55 0a3.55 3.55 0 1 0 7.10 0a3.55 3.55 0 1 0 -7.10 0M717.5 351.6m-3.55 0a3.55 3.55 0 1 0 7.10 0a3.55 3.55 0 1 0 -7.10 0M720.9 351.4m-3.55 0a3.55 3.55 0 1 0 7.10 0a3.55 3.55 0 1 0 -7.10 0M724.8 351.4m-3.55 0a3.55 3.55 0 1 0 7.10 0a3.55 3.55 0 1 0 -7.10 0M728.2 351.3m-3.55 0a3.55 3.55 0 1 0 7.10 0a3.55 3.55 0 1 0 -7.10 0M732.0 350.8m-3.55 0a3.55 3.55 0 1 0 7.10 0a3.55 3.55 0 1 0 -7.10 0M735.2 351.1m-3.55 0a3.55 3.55 0 1 0 7.10 0a3.55 3.55 0 1 0 -7.10 0M738.7 351.5m-3.55 0a3.55 3.55 0 1 0 7.10 0a3.55 3.55 0 1 0 -7.10 0M709.6 353.6m-3.55 0a3.55 3.55 0 1 0 7.10 0a3.55 3.55 0 1 0 -7.10 0M713.2 354.7m-3.55 0a3.55 3.55 0 1 0 7.10 0a3.55 3.55 0 1 0 -7.10 0M717.2 353.8m-3.55 0a3.55 3.55 0 1 0 7.10 0a3.55 3.55 0 1 0 -7.10 0M720.5 353.6m-3.55 0a3.55 3.55 0 1 0 7.10 0a3.55 3.55 0 1 0 -7.10 0M724.9 354.4m-3.55 0a3.55 3.55 0 1 0 7.10 0a3.55 3.55 0 1 0 -7.10 0M728.6 354.5m-3.55 0a3.55 3.55 0 1 0 7.10 0a3.55 3.55 0 1 0 -7.10 0M731.5 354.3m-3.55 0a3.55 3.55 0 1 0 7.10 0a3.55 3.55 0 1 0 -7.10 0M735.5 354.6m-3.55 0a3.55 3.55 0 1 0 7.10 0a3.55 3.55 0 1 0 -7.10 0M739.8 354.7m-3.55 0a3.55 3.55 0 1 0 7.10 0a3.55 3.55 0 1 0 -7.10 0M709.5 357.8m-3.55 0a3.55 3.55 0 1 0 7.10 0a3.55 3.55 0 1 0 -7.10 0M714.2 357.9m-3.55 0a3.55 3.55 0 1 0 7.10 0a3.55 3.55 0 1 0 -7.10 0M716.9 357.0m-3.55 0a3.55 3.55 0 1 0 7.10 0a3.55 3.55 0 1 0 -7.10 0M720.6 356.8m-3.55 0a3.55 3.55 0 1 0 7.10 0a3.55 3.55 0 1 0 -7.10 0M725.2 357.8m-3.55 0a3.55 3.55 0 1 0 7.10 0a3.55 3.55 0 1 0 -7.10 0M728.6 357.8m-3.55 0a3.55 3.55 0 1 0 7.10 0a3.55 3.55 0 1 0 -7.10 0M732.3 357.1m-3.55 0a3.55 3.55 0 1 0 7.10 0a3.55 3.55 0 1 0 -7.10 0M735.4 356.9m-3.55 0a3.55 3.55 0 1 0 7.10 0a3.55 3.55 0 1 0 -7.10 0M739.9 357.0m-3.55 0a3.55 3.55 0 1 0 7.10 0a3.55 3.55 0 1 0 -7.10 0M709.8 360.5m-3.55 0a3.55 3.55 0 1 0 7.10 0a3.55 3.55 0 1 0 -7.10 0M713.1 360.3m-3.55 0a3.55 3.55 0 1 0 7.10 0a3.55 3.55 0 1 0 -7.10 0M717.2 360.9m-3.55 0a3.55 3.55 0 1 0 7.10 0a3.55 3.55 0 1 0 -7.10 0M721.0 360.4m-3.55 0a3.55 3.55 0 1 0 7.10 0a3.55 3.55 0 1 0 -7.10 0M725.4 360.6m-3.55 0a3.55 3.55 0 1 0 7.10 0a3.55 3.55 0 1 0 -7.10 0M729.0 360.7m-3.55 0a3.55 3.55 0 1 0 7.10 0a3.55 3.55 0 1 0 -7.10 0M731.8 360.5m-3.55 0a3.55 3.55 0 1 0 7.10 0a3.55 3.55 0 1 0 -7.10 0M736.0 360.9m-3.55 0a3.55 3.55 0 1 0 7.10 0a3.55 3.55 0 1 0 -7.10 0M739.6 360.8m-3.55 0a3.55 3.55 0 1 0 7.10 0a3.55 3.55 0 1 0 -7.10 0M710.0 363.5m-3.55 0a3.55 3.55 0 1 0 7.10 0a3.55 3.55 0 1 0 -7.10 0M714.2 363.3m-3.55 0a3.55 3.55 0 1 0 7.10 0a3.55 3.55 0 1 0 -7.10 0M717.9 363.4m-3.55 0a3.55 3.55 0 1 0 7.10 0a3.55 3.55 0 1 0 -7.10 0M720.6 363.4m-3.55 0a3.55 3.55 0 1 0 7.10 0a3.55 3.55 0 1 0 -7.10 0M725.3 364.4m-3.55 0a3.55 3.55 0 1 0 7.10 0a3.55 3.55 0 1 0 -7.10 0M728.1 363.8m-3.55 0a3.55 3.55 0 1 0 7.10 0a3.55 3.55 0 1 0 -7.10 0M732.5 364.2m-3.55 0a3.55 3.55 0 1 0 7.10 0a3.55 3.55 0 1 0 -7.10 0M735.9 363.8m-3.55 0a3.55 3.55 0 1 0 7.10 0a3.55 3.55 0 1 0 -7.10 0M739.8 364.2m-3.55 0a3.55 3.55 0 1 0 7.10 0a3.55 3.55 0 1 0 -7.10 0M709.6 316.7m-3.55 0a3.55 3.55 0 1 0 7.10 0a3.55 3.55 0 1 0 -7.10 0M704.0 318.2m-3.55 0a3.55 3.55 0 1 0 7.10 0a3.55 3.55 0 1 0 -7.10 0M703.5 344.8m-3.55 0a3.55 3.55 0 1 0 7.10 0a3.55 3.55 0 1 0 -7.10 0M708.0 307.0m-3.55 0a3.55 3.55 0 1 0 7.10 0a3.55 3.55 0 1 0 -7.10 0M708.9 305.2m-3.55 0a3.55 3.55 0 1 0 7.10 0a3.55 3.55 0 1 0 -7.10 0M707.3 344.6m-3.55 0a3.55 3.55 0 1 0 7.10 0a3.55 3.55 0 1 0 -7.10 0M703.5 340.2m-3.55 0a3.55 3.55 0 1 0 7.10 0a3.55 3.55 0 1 0 -7.10 0M704.8 325.7m-3.55 0a3.55 3.55 0 1 0 7.10 0a3.55 3.55 0 1 0 -7.10 0M692.8 357.0m-3.55 0a3.55 3.55 0 1 0 7.10 0a3.55 3.55 0 1 0 -7.10 0M691.7 356.9m-3.55 0a3.55 3.55 0 1 0 7.10 0a3.55 3.55 0 1 0 -7.10 0M700.5 357.7m-3.55 0a3.55 3.55 0 1 0 7.10 0a3.55 3.55 0 1 0 -7.10 0M709.0 324.3m-3.55 0a3.55 3.55 0 1 0 7.10 0a3.55 3.55 0 1 0 -7.10 0M707.7 334.0m-3.55 0a3.55 3.55 0 1 0 7.10 0a3.55 3.55 0 1 0 -7.10 0M704.7 348.2m-3.55 0a3.55 3.55 0 1 0 7.10 0a3.55 3.55 0 1 0 -7.10 0M704.5 322.3m-3.55 0a3.55 3.55 0 1 0 7.10 0a3.55 3.55 0 1 0 -7.10 0M709.1 309.9m-3.55 0a3.55 3.55 0 1 0 7.10 0a3.55 3.55 0 1 0 -7.10 0M707.1 342.4m-3.55 0a3.55 3.55 0 1 0 7.10 0a3.55 3.55 0 1 0 -7.10 0M703.4 349.5m-3.55 0a3.55 3.55 0 1 0 7.10 0a3.55 3.55 0 1 0 -7.10 0M695.8 356.6m-3.55 0a3.55 3.55 0 1 0 7.10 0a3.55 3.55 0 1 0 -7.10 0M708.0 345.0m-3.55 0a3.55 3.55 0 1 0 7.10 0a3.55 3.55 0 1 0 -7.10 0M702.2 333.4m-3.55 0a3.55 3.55 0 1 0 7.10 0a3.55 3.55 0 1 0 -7.10 0M703.4 321.0m-3.55 0a3.55 3.55 0 1 0 7.10 0a3.55 3.55 0 1 0 -7.10 0M704.4 362.4m-3.55 0a3.55 3.55 0 1 0 7.10 0a3.55 3.55 0 1 0 -7.10 0M709.8 306.5m-3.55 0a3.55 3.55 0 1 0 7.10 0a3.55 3.55 0 1 0 -7.10 0M706.7 306.5m-3.55 0a3.55 3.55 0 1 0 7.10 0a3.55 3.55 0 1 0 -7.10 0M705.7 363.0m-3.55 0a3.55 3.55 0 1 0 7.10 0a3.55 3.55 0 1 0 -7.10 0M702.0 346.9m-3.55 0a3.55 3.55 0 1 0 7.10 0a3.55 3.55 0 1 0 -7.10 0M705.7 306.8m-3.55 0a3.55 3.55 0 1 0 7.10 0a3.55 3.55 0 1 0 -7.10 0M701.8 324.9m-3.55 0a3.55 3.55 0 1 0 7.10 0a3.55 3.55 0 1 0 -7.10 0M708.2 325.5m-3.55 0a3.55 3.55 0 1 0 7.10 0a3.55 3.55 0 1 0 -7.10 0M703.7 344.4m-3.55 0a3.55 3.55 0 1 0 7.10 0a3.55 3.55 0 1 0 -7.10 0M704.5 340.5m-3.55 0a3.55 3.55 0 1 0 7.10 0a3.55 3.55 0 1 0 -7.10 0M707.8 325.9m-3.55 0a3.55 3.55 0 1 0 7.10 0a3.55 3.55 0 1 0 -7.10 0M699.0 358.1m-3.55 0a3.55 3.55 0 1 0 7.10 0a3.55 3.55 0 1 0 -7.10 0M707.6 336.7m-3.55 0a3.55 3.55 0 1 0 7.10 0a3.55 3.55 0 1 0 -7.10 0M688.9 363.7m-3.55 0a3.55 3.55 0 1 0 7.10 0a3.55 3.55 0 1 0 -7.10 0M692.8 364.5m-3.55 0a3.55 3.55 0 1 0 7.10 0a3.55 3.55 0 1 0 -7.10 0M696.4 364.2m-3.55 0a3.55 3.55 0 1 0 7.10 0a3.55 3.55 0 1 0 -7.10 0M700.1 364.2m-3.55 0a3.55 3.55 0 1 0 7.10 0a3.55 3.55 0 1 0 -7.10 0M703.4 363.9m-3.55 0a3.55 3.55 0 1 0 7.10 0a3.55 3.55 0 1 0 -7.10 0M706.5 364.2m-3.55 0a3.55 3.55 0 1 0 7.10 0a3.55 3.55 0 1 0 -7.10 0M709.8 363.9m-3.55 0a3.55 3.55 0 1 0 7.10 0a3.55 3.55 0 1 0 -7.10 0M714.2 364.3m-3.55 0a3.55 3.55 0 1 0 7.10 0a3.55 3.55 0 1 0 -7.10 0M717.6 363.7m-3.55 0a3.55 3.55 0 1 0 7.10 0a3.55 3.55 0 1 0 -7.10 0M720.9 363.9m-3.55 0a3.55 3.55 0 1 0 7.10 0a3.55 3.55 0 1 0 -7.10 0M724.7 363.9m-3.55 0a3.55 3.55 0 1 0 7.10 0a3.55 3.55 0 1 0 -7.10 0M728.3 364.5m-3.55 0a3.55 3.55 0 1 0 7.10 0a3.55 3.55 0 1 0 -7.10 0M731.2 364.2m-3.55 0a3.55 3.55 0 1 0 7.10 0a3.55 3.55 0 1 0 -7.10 0M735.5 363.9m-3.55 0a3.55 3.55 0 1 0 7.10 0a3.55 3.55 0 1 0 -7.10 0M738.7 364.6m-3.55 0a3.55 3.55 0 1 0 7.10 0a3.55 3.55 0 1 0 -7.10 0M741.7 364.1m-3.55 0a3.55 3.55 0 1 0 7.10 0a3.55 3.55 0 1 0 -7.10 0M745.4 364.3m-3.55 0a3.55 3.55 0 1 0 7.10 0a3.55 3.55 0 1 0 -7.10 0M749.9 364.0m-3.55 0a3.55 3.55 0 1 0 7.10 0a3.55 3.55 0 1 0 -7.10 0M752.5 364.1m-3.55 0a3.55 3.55 0 1 0 7.10 0a3.55 3.55 0 1 0 -7.10 0M756.5 364.3m-3.55 0a3.55 3.55 0 1 0 7.10 0a3.55 3.55 0 1 0 -7.10 0M760.0 364.2m-3.55 0a3.55 3.55 0 1 0 7.10 0a3.55 3.55 0 1 0 -7.10 0M764.0 364.0m-3.55 0a3.55 3.55 0 1 0 7.10 0a3.55 3.55 0 1 0 -7.10 0M767.0 364.5m-3.55 0a3.55 3.55 0 1 0 7.10 0a3.55 3.55 0 1 0 -7.10 0M770.3 364.2m-3.55 0a3.55 3.55 0 1 0 7.10 0a3.55 3.55 0 1 0 -7.10 0M774.1 364.3m-3.55 0a3.55 3.55 0 1 0 7.10 0a3.55 3.55 0 1 0 -7.10 0M777.3 364.6m-3.55 0a3.55 3.55 0 1 0 7.10 0a3.55 3.55 0 1 0 -7.10 0M781.2 363.5m-3.55 0a3.55 3.55 0 1 0 7.10 0a3.55 3.55 0 1 0 -7.10 0M784.6 363.9m-3.55 0a3.55 3.55 0 1 0 7.10 0a3.55 3.55 0 1 0 -7.10 0M787.9 363.9m-3.55 0a3.55 3.55 0 1 0 7.10 0a3.55 3.55 0 1 0 -7.10 0M791.9 364.2m-3.55 0a3.55 3.55 0 1 0 7.10 0a3.55 3.55 0 1 0 -7.10 0M689.2 366.6m-3.55 0a3.55 3.55 0 1 0 7.10 0a3.55 3.55 0 1 0 -7.10 0M692.6 367.2m-3.55 0a3.55 3.55 0 1 0 7.10 0a3.55 3.55 0 1 0 -7.10 0M697.1 366.9m-3.55 0a3.55 3.55 0 1 0 7.10 0a3.55 3.55 0 1 0 -7.10 0M699.8 367.2m-3.55 0a3.55 3.55 0 1 0 7.10 0a3.55 3.55 0 1 0 -7.10 0M703.6 366.5m-3.55 0a3.55 3.55 0 1 0 7.10 0a3.55 3.55 0 1 0 -7.10 0M706.9 367.2m-3.55 0a3.55 3.55 0 1 0 7.10 0a3.55 3.55 0 1 0 -7.10 0M711.3 367.0m-3.55 0a3.55 3.55 0 1 0 7.10 0a3.55 3.55 0 1 0 -7.10 0M714.4 367.0m-3.55 0a3.55 3.55 0 1 0 7.10 0a3.55 3.55 0 1 0 -7.10 0M717.7 367.4m-3.55 0a3.55 3.55 0 1 0 7.10 0a3.55 3.55 0 1 0 -7.10 0M721.5 367.0m-3.55 0a3.55 3.55 0 1 0 7.10 0a3.55 3.55 0 1 0 -7.10 0M725.6 367.3m-3.55 0a3.55 3.55 0 1 0 7.10 0a3.55 3.55 0 1 0 -7.10 0M728.8 366.6m-3.55 0a3.55 3.55 0 1 0 7.10 0a3.55 3.55 0 1 0 -7.10 0M732.5 366.4m-3.55 0a3.55 3.55 0 1 0 7.10 0a3.55 3.55 0 1 0 -7.10 0M736.4 366.7m-3.55 0a3.55 3.55 0 1 0 7.10 0a3.55 3.55 0 1 0 -7.10 0M740.0 366.6m-3.55 0a3.55 3.55 0 1 0 7.10 0a3.55 3.55 0 1 0 -7.10 0M743.0 366.6m-3.55 0a3.55 3.55 0 1 0 7.10 0a3.55 3.55 0 1 0 -7.10 0M746.7 366.5m-3.55 0a3.55 3.55 0 1 0 7.10 0a3.55 3.55 0 1 0 -7.10 0M749.8 367.1m-3.55 0a3.55 3.55 0 1 0 7.10 0a3.55 3.55 0 1 0 -7.10 0M753.7 366.6m-3.55 0a3.55 3.55 0 1 0 7.10 0a3.55 3.55 0 1 0 -7.10 0M757.3 366.9m-3.55 0a3.55 3.55 0 1 0 7.10 0a3.55 3.55 0 1 0 -7.10 0M761.1 367.0m-3.55 0a3.55 3.55 0 1 0 7.10 0a3.55 3.55 0 1 0 -7.10 0M764.9 366.7m-3.55 0a3.55 3.55 0 1 0 7.10 0a3.55 3.55 0 1 0 -7.10 0M768.8 367.3m-3.55 0a3.55 3.55 0 1 0 7.10 0a3.55 3.55 0 1 0 -7.10 0M771.4 367.3m-3.55 0a3.55 3.55 0 1 0 7.10 0a3.55 3.55 0 1 0 -7.10 0M776.0 367.2m-3.55 0a3.55 3.55 0 1 0 7.10 0a3.55 3.55 0 1 0 -7.10 0M778.7 367.3m-3.55 0a3.55 3.55 0 1 0 7.10 0a3.55 3.55 0 1 0 -7.10 0M782.8 366.3m-3.55 0a3.55 3.55 0 1 0 7.10 0a3.55 3.55 0 1 0 -7.10 0M785.7 367.4m-3.55 0a3.55 3.55 0 1 0 7.10 0a3.55 3.55 0 1 0 -7.10 0M790.0 366.6m-3.55 0a3.55 3.55 0 1 0 7.10 0a3.55 3.55 0 1 0 -7.10 0M793.0 366.5m-3.55 0a3.55 3.55 0 1 0 7.10 0a3.55 3.55 0 1 0 -7.10 0M689.4 370.1m-3.55 0a3.55 3.55 0 1 0 7.10 0a3.55 3.55 0 1 0 -7.10 0M693.0 369.3m-3.55 0a3.55 3.55 0 1 0 7.10 0a3.55 3.55 0 1 0 -7.10 0M697.2 370.1m-3.55 0a3.55 3.55 0 1 0 7.10 0a3.55 3.55 0 1 0 -7.10 0M699.8 370.2m-3.55 0a3.55 3.55 0 1 0 7.10 0a3.55 3.55 0 1 0 -7.10 0M703.9 370.1m-3.55 0a3.55 3.55 0 1 0 7.10 0a3.55 3.55 0 1 0 -7.10 0M707.4 370.2m-3.55 0a3.55 3.55 0 1 0 7.10 0a3.55 3.55 0 1 0 -7.10 0M711.1 370.2m-3.55 0a3.55 3.55 0 1 0 7.10 0a3.55 3.55 0 1 0 -7.10 0M713.9 370.0m-3.55 0a3.55 3.55 0 1 0 7.10 0a3.55 3.55 0 1 0 -7.10 0M717.8 370.1m-3.55 0a3.55 3.55 0 1 0 7.10 0a3.55 3.55 0 1 0 -7.10 0M721.2 370.2m-3.55 0a3.55 3.55 0 1 0 7.10 0a3.55 3.55 0 1 0 -7.10 0M724.8 369.5m-3.55 0a3.55 3.55 0 1 0 7.10 0a3.55 3.55 0 1 0 -7.10 0M728.0 369.3m-3.55 0a3.55 3.55 0 1 0 7.10 0a3.55 3.55 0 1 0 -7.10 0M731.8 369.2m-3.55 0a3.55 3.55 0 1 0 7.10 0a3.55 3.55 0 1 0 -7.10 0M735.2 369.3m-3.55 0a3.55 3.55 0 1 0 7.10 0a3.55 3.55 0 1 0 -7.10 0M738.8 369.8m-3.55 0a3.55 3.55 0 1 0 7.10 0a3.55 3.55 0 1 0 -7.10 0M742.3 370.2m-3.55 0a3.55 3.55 0 1 0 7.10 0a3.55 3.55 0 1 0 -7.10 0M745.2 370.2m-3.55 0a3.55 3.55 0 1 0 7.10 0a3.55 3.55 0 1 0 -7.10 0M749.3 369.8m-3.55 0a3.55 3.55 0 1 0 7.10 0a3.55 3.55 0 1 0 -7.10 0M753.0 370.2m-3.55 0a3.55 3.55 0 1 0 7.10 0a3.55 3.55 0 1 0 -7.10 0M756.2 369.7m-3.55 0a3.55 3.55 0 1 0 7.10 0a3.55 3.55 0 1 0 -7.10 0M760.4 369.3m-3.55 0a3.55 3.55 0 1 0 7.10 0a3.55 3.55 0 1 0 -7.10 0M763.5 369.9m-3.55 0a3.55 3.55 0 1 0 7.10 0a3.55 3.55 0 1 0 -7.10 0M766.3 369.9m-3.55 0a3.55 3.55 0 1 0 7.10 0a3.55 3.55 0 1 0 -7.10 0M770.6 370.3m-3.55 0a3.55 3.55 0 1 0 7.10 0a3.55 3.55 0 1 0 -7.10 0M773.6 370.3m-3.55 0a3.55 3.55 0 1 0 7.10 0a3.55 3.55 0 1 0 -7.10 0M777.4 369.7m-3.55 0a3.55 3.55 0 1 0 7.10 0a3.55 3.55 0 1 0 -7.10 0M781.3 369.2m-3.55 0a3.55 3.55 0 1 0 7.10 0a3.55 3.55 0 1 0 -7.10 0M784.6 369.9m-3.55 0a3.55 3.55 0 1 0 7.10 0a3.55 3.55 0 1 0 -7.10 0M787.7 370.2m-3.55 0a3.55 3.55 0 1 0 7.10 0a3.55 3.55 0 1 0 -7.10 0M791.2 369.7m-3.55 0a3.55 3.55 0 1 0 7.10 0a3.55 3.55 0 1 0 -7.10 0M794.9 370.1m-3.55 0a3.55 3.55 0 1 0 7.10 0a3.55 3.55 0 1 0 -7.10 0M690.2 372.6m-3.55 0a3.55 3.55 0 1 0 7.10 0a3.55 3.55 0 1 0 -7.10 0M693.9 372.7m-3.55 0a3.55 3.55 0 1 0 7.10 0a3.55 3.55 0 1 0 -7.10 0M697.9 372.4m-3.55 0a3.55 3.55 0 1 0 7.10 0a3.55 3.55 0 1 0 -7.10 0M701.4 372.5m-3.55 0a3.55 3.55 0 1 0 7.10 0a3.55 3.55 0 1 0 -7.10 0M704.5 372.4m-3.55 0a3.55 3.55 0 1 0 7.10 0a3.55 3.55 0 1 0 -7.10 0M708.0 373.2m-3.55 0a3.55 3.55 0 1 0 7.10 0a3.55 3.55 0 1 0 -7.10 0M711.7 373.0m-3.55 0a3.55 3.55 0 1 0 7.10 0a3.55 3.55 0 1 0 -7.10 0M714.8 372.4m-3.55 0a3.55 3.55 0 1 0 7.10 0a3.55 3.55 0 1 0 -7.10 0M718.3 372.7m-3.55 0a3.55 3.55 0 1 0 7.10 0a3.55 3.55 0 1 0 -7.10 0M722.2 373.0m-3.55 0a3.55 3.55 0 1 0 7.10 0a3.55 3.55 0 1 0 -7.10 0M725.0 372.9m-3.55 0a3.55 3.55 0 1 0 7.10 0a3.55 3.55 0 1 0 -7.10 0M729.5 372.7m-3.55 0a3.55 3.55 0 1 0 7.10 0a3.55 3.55 0 1 0 -7.10 0M732.0 372.4m-3.55 0a3.55 3.55 0 1 0 7.10 0a3.55 3.55 0 1 0 -7.10 0M735.4 372.3m-3.55 0a3.55 3.55 0 1 0 7.10 0a3.55 3.55 0 1 0 -7.10 0M740.0 372.8m-3.55 0a3.55 3.55 0 1 0 7.10 0a3.55 3.55 0 1 0 -7.10 0M743.2 373.0m-3.55 0a3.55 3.55 0 1 0 7.10 0a3.55 3.55 0 1 0 -7.10 0M747.0 372.8m-3.55 0a3.55 3.55 0 1 0 7.10 0a3.55 3.55 0 1 0 -7.10 0M750.2 372.8m-3.55 0a3.55 3.55 0 1 0 7.10 0a3.55 3.55 0 1 0 -7.10 0M753.8 372.8m-3.55 0a3.55 3.55 0 1 0 7.10 0a3.55 3.55 0 1 0 -7.10 0M757.2 372.3m-3.55 0a3.55 3.55 0 1 0 7.10 0a3.55 3.55 0 1 0 -7.10 0M760.7 372.6m-3.55 0a3.55 3.55 0 1 0 7.10 0a3.55 3.55 0 1 0 -7.10 0M764.3 372.2m-3.55 0a3.55 3.55 0 1 0 7.10 0a3.55 3.55 0 1 0 -7.10 0M767.1 372.1m-3.55 0a3.55 3.55 0 1 0 7.10 0a3.55 3.55 0 1 0 -7.10 0M771.3 373.1m-3.55 0a3.55 3.55 0 1 0 7.10 0a3.55 3.55 0 1 0 -7.10 0M774.7 372.5m-3.55 0a3.55 3.55 0 1 0 7.10 0a3.55 3.55 0 1 0 -7.10 0M778.4 373.0m-3.55 0a3.55 3.55 0 1 0 7.10 0a3.55 3.55 0 1 0 -7.10 0M781.6 372.3m-3.55 0a3.55 3.55 0 1 0 7.10 0a3.55 3.55 0 1 0 -7.10 0M784.8 372.5m-3.55 0a3.55 3.55 0 1 0 7.10 0a3.55 3.55 0 1 0 -7.10 0M788.3 372.6m-3.55 0a3.55 3.55 0 1 0 7.10 0a3.55 3.55 0 1 0 -7.10 0M792.2 373.2m-3.55 0a3.55 3.55 0 1 0 7.10 0a3.55 3.55 0 1 0 -7.10 0M795.0 372.7m-3.55 0a3.55 3.55 0 1 0 7.10 0a3.55 3.55 0 1 0 -7.10 0M692.3 375.1m-3.55 0a3.55 3.55 0 1 0 7.10 0a3.55 3.55 0 1 0 -7.10 0M696.8 375.6m-3.55 0a3.55 3.55 0 1 0 7.10 0a3.55 3.55 0 1 0 -7.10 0M700.5 375.5m-3.55 0a3.55 3.55 0 1 0 7.10 0a3.55 3.55 0 1 0 -7.10 0M703.0 375.4m-3.55 0a3.55 3.55 0 1 0 7.10 0a3.55 3.55 0 1 0 -7.10 0M707.3 376.0m-3.55 0a3.55 3.55 0 1 0 7.10 0a3.55 3.55 0 1 0 -7.10 0M711.4 375.5m-3.55 0a3.55 3.55 0 1 0 7.10 0a3.55 3.55 0 1 0 -7.10 0M714.3 375.0m-3.55 0a3.55 3.55 0 1 0 7.10 0a3.55 3.55 0 1 0 -7.10 0M718.2 375.2m-3.55 0a3.55 3.55 0 1 0 7.10 0a3.55 3.55 0 1 0 -7.10 0M721.2 374.9m-3.55 0a3.55 3.55 0 1 0 7.10 0a3.55 3.55 0 1 0 -7.10 0M724.6 375.7m-3.55 0a3.55 3.55 0 1 0 7.10 0a3.55 3.55 0 1 0 -7.10 0M728.3 376.1m-3.55 0a3.55 3.55 0 1 0 7.10 0a3.55 3.55 0 1 0 -7.10 0M731.8 376.0m-3.55 0a3.55 3.55 0 1 0 7.10 0a3.55 3.55 0 1 0 -7.10 0M735.5 374.9m-3.55 0a3.55 3.55 0 1 0 7.10 0a3.55 3.55 0 1 0 -7.10 0M739.8 375.2m-3.55 0a3.55 3.55 0 1 0 7.10 0a3.55 3.55 0 1 0 -7.10 0M743.4 375.1m-3.55 0a3.55 3.55 0 1 0 7.10 0a3.55 3.55 0 1 0 -7.10 0M746.2 375.8m-3.55 0a3.55 3.55 0 1 0 7.10 0a3.55 3.55 0 1 0 -7.10 0M750.5 375.9m-3.55 0a3.55 3.55 0 1 0 7.10 0a3.55 3.55 0 1 0 -7.10 0M754.2 375.0m-3.55 0a3.55 3.55 0 1 0 7.10 0a3.55 3.55 0 1 0 -7.10 0M757.6 375.8m-3.55 0a3.55 3.55 0 1 0 7.10 0a3.55 3.55 0 1 0 -7.10 0M761.0 376.0m-3.55 0a3.55 3.55 0 1 0 7.10 0a3.55 3.55 0 1 0 -7.10 0M764.4 376.1m-3.55 0a3.55 3.55 0 1 0 7.10 0a3.55 3.55 0 1 0 -7.10 0M768.5 374.9m-3.55 0a3.55 3.55 0 1 0 7.10 0a3.55 3.55 0 1 0 -7.10 0M771.2 375.7m-3.55 0a3.55 3.55 0 1 0 7.10 0a3.55 3.55 0 1 0 -7.10 0M775.8 375.0m-3.55 0a3.55 3.55 0 1 0 7.10 0a3.55 3.55 0 1 0 -7.10 0M778.8 375.8m-3.55 0a3.55 3.55 0 1 0 7.10 0a3.55 3.55 0 1 0 -7.10 0M782.2 376.0m-3.55 0a3.55 3.55 0 1 0 7.10 0a3.55 3.55 0 1 0 -7.10 0M786.2 375.0m-3.55 0a3.55 3.55 0 1 0 7.10 0a3.55 3.55 0 1 0 -7.10 0M789.6 375.6m-3.55 0a3.55 3.55 0 1 0 7.10 0a3.55 3.55 0 1 0 -7.10 0M793.3 375.7m-3.55 0a3.55 3.55 0 1 0 7.10 0a3.55 3.55 0 1 0 -7.10 0M694.8 378.8m-3.55 0a3.55 3.55 0 1 0 7.10 0a3.55 3.55 0 1 0 -7.10 0M698.6 378.6m-3.55 0a3.55 3.55 0 1 0 7.10 0a3.55 3.55 0 1 0 -7.10 0M702.5 378.3m-3.55 0a3.55 3.55 0 1 0 7.10 0a3.55 3.55 0 1 0 -7.10 0M705.7 378.7m-3.55 0a3.55 3.55 0 1 0 7.10 0a3.55 3.55 0 1 0 -7.10 0M710.0 378.7m-3.55 0a3.55 3.55 0 1 0 7.10 0a3.55 3.55 0 1 0 -7.10 0M713.1 378.2m-3.55 0a3.55 3.55 0 1 0 7.10 0a3.55 3.55 0 1 0 -7.10 0M716.0 379.0m-3.55 0a3.55 3.55 0 1 0 7.10 0a3.55 3.55 0 1 0 -7.10 0M720.3 378.8m-3.55 0a3.55 3.55 0 1 0 7.10 0a3.55 3.55 0 1 0 -7.10 0M723.4 378.5m-3.55 0a3.55 3.55 0 1 0 7.10 0a3.55 3.55 0 1 0 -7.10 0M727.8 378.8m-3.55 0a3.55 3.55 0 1 0 7.10 0a3.55 3.55 0 1 0 -7.10 0M730.9 378.2m-3.55 0a3.55 3.55 0 1 0 7.10 0a3.55 3.55 0 1 0 -7.10 0M734.2 378.9m-3.55 0a3.55 3.55 0 1 0 7.10 0a3.55 3.55 0 1 0 -7.10 0M737.7 378.6m-3.55 0a3.55 3.55 0 1 0 7.10 0a3.55 3.55 0 1 0 -7.10 0M741.5 378.9m-3.55 0a3.55 3.55 0 1 0 7.10 0a3.55 3.55 0 1 0 -7.10 0M745.3 378.1m-3.55 0a3.55 3.55 0 1 0 7.10 0a3.55 3.55 0 1 0 -7.10 0M747.9 378.1m-3.55 0a3.55 3.55 0 1 0 7.10 0a3.55 3.55 0 1 0 -7.10 0M752.0 378.5m-3.55 0a3.55 3.55 0 1 0 7.10 0a3.55 3.55 0 1 0 -7.10 0M756.0 378.9m-3.55 0a3.55 3.55 0 1 0 7.10 0a3.55 3.55 0 1 0 -7.10 0M758.7 378.8m-3.55 0a3.55 3.55 0 1 0 7.10 0a3.55 3.55 0 1 0 -7.10 0M763.1 378.8m-3.55 0a3.55 3.55 0 1 0 7.10 0a3.55 3.55 0 1 0 -7.10 0M766.4 378.1m-3.55 0a3.55 3.55 0 1 0 7.10 0a3.55 3.55 0 1 0 -7.10 0M770.3 378.8m-3.55 0a3.55 3.55 0 1 0 7.10 0a3.55 3.55 0 1 0 -7.10 0M773.6 378.9m-3.55 0a3.55 3.55 0 1 0 7.10 0a3.55 3.55 0 1 0 -7.10 0M776.8 377.9m-3.55 0a3.55 3.55 0 1 0 7.10 0a3.55 3.55 0 1 0 -7.10 0M780.6 378.8m-3.55 0a3.55 3.55 0 1 0 7.10 0a3.55 3.55 0 1 0 -7.10 0M783.7 378.7m-3.55 0a3.55 3.55 0 1 0 7.10 0a3.55 3.55 0 1 0 -7.10 0M788.2 378.1m-3.55 0a3.55 3.55 0 1 0 7.10 0a3.55 3.55 0 1 0 -7.10 0M791.3 378.6m-3.55 0a3.55 3.55 0 1 0 7.10 0a3.55 3.55 0 1 0 -7.10 0M697.6 380.9m-3.55 0a3.55 3.55 0 1 0 7.10 0a3.55 3.55 0 1 0 -7.10 0M700.8 381.6m-3.55 0a3.55 3.55 0 1 0 7.10 0a3.55 3.55 0 1 0 -7.10 0M705.0 381.2m-3.55 0a3.55 3.55 0 1 0 7.10 0a3.55 3.55 0 1 0 -7.10 0M707.7 381.6m-3.55 0a3.55 3.55 0 1 0 7.10 0a3.55 3.55 0 1 0 -7.10 0M712.0 381.0m-3.55 0a3.55 3.55 0 1 0 7.10 0a3.55 3.55 0 1 0 -7.10 0M715.3 381.8m-3.55 0a3.55 3.55 0 1 0 7.10 0a3.55 3.55 0 1 0 -7.10 0M719.2 381.3m-3.55 0a3.55 3.55 0 1 0 7.10 0a3.55 3.55 0 1 0 -7.10 0M722.2 381.4m-3.55 0a3.55 3.55 0 1 0 7.10 0a3.55 3.55 0 1 0 -7.10 0M725.4 380.9m-3.55 0a3.55 3.55 0 1 0 7.10 0a3.55 3.55 0 1 0 -7.10 0M728.9 381.5m-3.55 0a3.55 3.55 0 1 0 7.10 0a3.55 3.55 0 1 0 -7.10 0M732.6 381.4m-3.55 0a3.55 3.55 0 1 0 7.10 0a3.55 3.55 0 1 0 -7.10 0M736.2 381.3m-3.55 0a3.55 3.55 0 1 0 7.10 0a3.55 3.55 0 1 0 -7.10 0M739.4 380.7m-3.55 0a3.55 3.55 0 1 0 7.10 0a3.55 3.55 0 1 0 -7.10 0M743.9 381.1m-3.55 0a3.55 3.55 0 1 0 7.10 0a3.55 3.55 0 1 0 -7.10 0M746.4 381.4m-3.55 0a3.55 3.55 0 1 0 7.10 0a3.55 3.55 0 1 0 -7.10 0M750.7 380.9m-3.55 0a3.55 3.55 0 1 0 7.10 0a3.55 3.55 0 1 0 -7.10 0M754.0 381.1m-3.55 0a3.55 3.55 0 1 0 7.10 0a3.55 3.55 0 1 0 -7.10 0M757.4 380.7m-3.55 0a3.55 3.55 0 1 0 7.10 0a3.55 3.55 0 1 0 -7.10 0M760.4 381.9m-3.55 0a3.55 3.55 0 1 0 7.10 0a3.55 3.55 0 1 0 -7.10 0M764.9 381.3m-3.55 0a3.55 3.55 0 1 0 7.10 0a3.55 3.55 0 1 0 -7.10 0M768.1 381.0m-3.55 0a3.55 3.55 0 1 0 7.10 0a3.55 3.55 0 1 0 -7.10 0M771.8 381.2m-3.55 0a3.55 3.55 0 1 0 7.10 0a3.55 3.55 0 1 0 -7.10 0M775.5 381.6m-3.55 0a3.55 3.55 0 1 0 7.10 0a3.55 3.55 0 1 0 -7.10 0M778.9 381.8m-3.55 0a3.55 3.55 0 1 0 7.10 0a3.55 3.55 0 1 0 -7.10 0M781.8 380.7m-3.55 0a3.55 3.55 0 1 0 7.10 0a3.55 3.55 0 1 0 -7.10 0M785.2 380.9m-3.55 0a3.55 3.55 0 1 0 7.10 0a3.55 3.55 0 1 0 -7.10 0M788.6 380.7m-3.55 0a3.55 3.55 0 1 0 7.10 0a3.55 3.55 0 1 0 -7.10 0M700.1 384.6m-3.55 0a3.55 3.55 0 1 0 7.10 0a3.55 3.55 0 1 0 -7.10 0M703.5 384.7m-3.55 0a3.55 3.55 0 1 0 7.10 0a3.55 3.55 0 1 0 -7.10 0M707.5 383.6m-3.55 0a3.55 3.55 0 1 0 7.10 0a3.55 3.55 0 1 0 -7.10 0M710.6 384.0m-3.55 0a3.55 3.55 0 1 0 7.10 0a3.55 3.55 0 1 0 -7.10 0M713.5 384.7m-3.55 0a3.55 3.55 0 1 0 7.10 0a3.55 3.55 0 1 0 -7.10 0M717.2 384.2m-3.55 0a3.55 3.55 0 1 0 7.10 0a3.55 3.55 0 1 0 -7.10 0M721.1 384.7m-3.55 0a3.55 3.55 0 1 0 7.10 0a3.55 3.55 0 1 0 -7.10 0M724.6 384.0m-3.55 0a3.55 3.55 0 1 0 7.10 0a3.55 3.55 0 1 0 -7.10 0M727.8 383.8m-3.55 0a3.55 3.55 0 1 0 7.10 0a3.55 3.55 0 1 0 -7.10 0M731.9 384.8m-3.55 0a3.55 3.55 0 1 0 7.10 0a3.55 3.55 0 1 0 -7.10 0M734.5 383.6m-3.55 0a3.55 3.55 0 1 0 7.10 0a3.55 3.55 0 1 0 -7.10 0M738.0 384.0m-3.55 0a3.55 3.55 0 1 0 7.10 0a3.55 3.55 0 1 0 -7.10 0M742.3 384.6m-3.55 0a3.55 3.55 0 1 0 7.10 0a3.55 3.55 0 1 0 -7.10 0M745.7 383.6m-3.55 0a3.55 3.55 0 1 0 7.10 0a3.55 3.55 0 1 0 -7.10 0M749.1 384.4m-3.55 0a3.55 3.55 0 1 0 7.10 0a3.55 3.55 0 1 0 -7.10 0M752.4 384.7m-3.55 0a3.55 3.55 0 1 0 7.10 0a3.55 3.55 0 1 0 -7.10 0M755.2 383.7m-3.55 0a3.55 3.55 0 1 0 7.10 0a3.55 3.55 0 1 0 -7.10 0M759.5 384.7m-3.55 0a3.55 3.55 0 1 0 7.10 0a3.55 3.55 0 1 0 -7.10 0M762.9 383.9m-3.55 0a3.55 3.55 0 1 0 7.10 0a3.55 3.55 0 1 0 -7.10 0M766.3 384.5m-3.55 0a3.55 3.55 0 1 0 7.10 0a3.55 3.55 0 1 0 -7.10 0M769.2 383.9m-3.55 0a3.55 3.55 0 1 0 7.10 0a3.55 3.55 0 1 0 -7.10 0M772.8 383.7m-3.55 0a3.55 3.55 0 1 0 7.10 0a3.55 3.55 0 1 0 -7.10 0M776.6 383.8m-3.55 0a3.55 3.55 0 1 0 7.10 0a3.55 3.55 0 1 0 -7.10 0M779.8 383.7m-3.55 0a3.55 3.55 0 1 0 7.10 0a3.55 3.55 0 1 0 -7.10 0M783.8 383.6m-3.55 0a3.55 3.55 0 1 0 7.10 0a3.55 3.55 0 1 0 -7.10 0M787.3 383.8m-3.55 0a3.55 3.55 0 1 0 7.10 0a3.55 3.55 0 1 0 -7.10 0M702.0 387.6m-3.55 0a3.55 3.55 0 1 0 7.10 0a3.55 3.55 0 1 0 -7.10 0M705.8 387.6m-3.55 0a3.55 3.55 0 1 0 7.10 0a3.55 3.55 0 1 0 -7.10 0M710.2 387.5m-3.55 0a3.55 3.55 0 1 0 7.10 0a3.55 3.55 0 1 0 -7.10 0M712.9 387.0m-3.55 0a3.55 3.55 0 1 0 7.10 0a3.55 3.55 0 1 0 -7.10 0M716.4 387.6m-3.55 0a3.55 3.55 0 1 0 7.10 0a3.55 3.55 0 1 0 -7.10 0M720.9 387.2m-3.55 0a3.55 3.55 0 1 0 7.10 0a3.55 3.55 0 1 0 -7.10 0M724.0 386.8m-3.55 0a3.55 3.55 0 1 0 7.10 0a3.55 3.55 0 1 0 -7.10 0M728.0 387.0m-3.55 0a3.55 3.55 0 1 0 7.10 0a3.55 3.55 0 1 0 -7.10 0M731.4 386.6m-3.55 0a3.55 3.55 0 1 0 7.10 0a3.55 3.55 0 1 0 -7.10 0M734.5 386.5m-3.55 0a3.55 3.55 0 1 0 7.10 0a3.55 3.55 0 1 0 -7.10 0M738.6 387.1m-3.55 0a3.55 3.55 0 1 0 7.10 0a3.55 3.55 0 1 0 -7.10 0M741.5 387.5m-3.55 0a3.55 3.55 0 1 0 7.10 0a3.55 3.55 0 1 0 -7.10 0M745.3 386.9m-3.55 0a3.55 3.55 0 1 0 7.10 0a3.55 3.55 0 1 0 -7.10 0M748.7 386.8m-3.55 0a3.55 3.55 0 1 0 7.10 0a3.55 3.55 0 1 0 -7.10 0M753.1 386.8m-3.55 0a3.55 3.55 0 1 0 7.10 0a3.55 3.55 0 1 0 -7.10 0M755.9 387.0m-3.55 0a3.55 3.55 0 1 0 7.10 0a3.55 3.55 0 1 0 -7.10 0M759.7 387.5m-3.55 0a3.55 3.55 0 1 0 7.10 0a3.55 3.55 0 1 0 -7.10 0M763.0 387.6m-3.55 0a3.55 3.55 0 1 0 7.10 0a3.55 3.55 0 1 0 -7.10 0M766.5 387.5m-3.55 0a3.55 3.55 0 1 0 7.10 0a3.55 3.55 0 1 0 -7.10 0M770.8 386.7m-3.55 0a3.55 3.55 0 1 0 7.10 0a3.55 3.55 0 1 0 -7.10 0M774.2 386.8m-3.55 0a3.55 3.55 0 1 0 7.10 0a3.55 3.55 0 1 0 -7.10 0M777.5 386.7m-3.55 0a3.55 3.55 0 1 0 7.10 0a3.55 3.55 0 1 0 -7.10 0M781.2 387.6m-3.55 0a3.55 3.55 0 1 0 7.10 0a3.55 3.55 0 1 0 -7.10 0M785.6 387.6m-3.55 0a3.55 3.55 0 1 0 7.10 0a3.55 3.55 0 1 0 -7.10 0M706.0 389.7m-3.55 0a3.55 3.55 0 1 0 7.10 0a3.55 3.55 0 1 0 -7.10 0M710.6 389.4m-3.55 0a3.55 3.55 0 1 0 7.10 0a3.55 3.55 0 1 0 -7.10 0M714.0 389.7m-3.55 0a3.55 3.55 0 1 0 7.10 0a3.55 3.55 0 1 0 -7.10 0M717.9 389.3m-3.55 0a3.55 3.55 0 1 0 7.10 0a3.55 3.55 0 1 0 -7.10 0M721.2 389.7m-3.55 0a3.55 3.55 0 1 0 7.10 0a3.55 3.55 0 1 0 -7.10 0M724.0 389.3m-3.55 0a3.55 3.55 0 1 0 7.10 0a3.55 3.55 0 1 0 -7.10 0M728.5 390.0m-3.55 0a3.55 3.55 0 1 0 7.10 0a3.55 3.55 0 1 0 -7.10 0M731.3 389.8m-3.55 0a3.55 3.55 0 1 0 7.10 0a3.55 3.55 0 1 0 -7.10 0M735.7 389.6m-3.55 0a3.55 3.55 0 1 0 7.10 0a3.55 3.55 0 1 0 -7.10 0M738.9 389.5m-3.55 0a3.55 3.55 0 1 0 7.10 0a3.55 3.55 0 1 0 -7.10 0M742.0 390.2m-3.55 0a3.55 3.55 0 1 0 7.10 0a3.55 3.55 0 1 0 -7.10 0M746.3 389.6m-3.55 0a3.55 3.55 0 1 0 7.10 0a3.55 3.55 0 1 0 -7.10 0M749.1 389.4m-3.55 0a3.55 3.55 0 1 0 7.10 0a3.55 3.55 0 1 0 -7.10 0M753.3 389.9m-3.55 0a3.55 3.55 0 1 0 7.10 0a3.55 3.55 0 1 0 -7.10 0M756.5 389.6m-3.55 0a3.55 3.55 0 1 0 7.10 0a3.55 3.55 0 1 0 -7.10 0M760.5 390.2m-3.55 0a3.55 3.55 0 1 0 7.10 0a3.55 3.55 0 1 0 -7.10 0M764.3 390.0m-3.55 0a3.55 3.55 0 1 0 7.10 0a3.55 3.55 0 1 0 -7.10 0M767.2 389.4m-3.55 0a3.55 3.55 0 1 0 7.10 0a3.55 3.55 0 1 0 -7.10 0M771.4 389.8m-3.55 0a3.55 3.55 0 1 0 7.10 0a3.55 3.55 0 1 0 -7.10 0M775.0 389.4m-3.55 0a3.55 3.55 0 1 0 7.10 0a3.55 3.55 0 1 0 -7.10 0M778.7 389.7m-3.55 0a3.55 3.55 0 1 0 7.10 0a3.55 3.55 0 1 0 -7.10 0M782.3 390.4m-3.55 0a3.55 3.55 0 1 0 7.10 0a3.55 3.55 0 1 0 -7.10 0M710.5 392.2m-3.55 0a3.55 3.55 0 1 0 7.10 0a3.55 3.55 0 1 0 -7.10 0M714.6 392.8m-3.55 0a3.55 3.55 0 1 0 7.10 0a3.55 3.55 0 1 0 -7.10 0M718.1 392.5m-3.55 0a3.55 3.55 0 1 0 7.10 0a3.55 3.55 0 1 0 -7.10 0M720.9 393.2m-3.55 0a3.55 3.55 0 1 0 7.10 0a3.55 3.55 0 1 0 -7.10 0M724.7 392.4m-3.55 0a3.55 3.55 0 1 0 7.10 0a3.55 3.55 0 1 0 -7.10 0M728.3 392.9m-3.55 0a3.55 3.55 0 1 0 7.10 0a3.55 3.55 0 1 0 -7.10 0M731.5 392.8m-3.55 0a3.55 3.55 0 1 0 7.10 0a3.55 3.55 0 1 0 -7.10 0M735.6 392.8m-3.55 0a3.55 3.55 0 1 0 7.10 0a3.55 3.55 0 1 0 -7.10 0M738.8 393.1m-3.55 0a3.55 3.55 0 1 0 7.10 0a3.55 3.55 0 1 0 -7.10 0M743.2 393.2m-3.55 0a3.55 3.55 0 1 0 7.10 0a3.55 3.55 0 1 0 -7.10 0M746.2 393.1m-3.55 0a3.55 3.55 0 1 0 7.10 0a3.55 3.55 0 1 0 -7.10 0M749.9 393.1m-3.55 0a3.55 3.55 0 1 0 7.10 0a3.55 3.55 0 1 0 -7.10 0M753.1 393.2m-3.55 0a3.55 3.55 0 1 0 7.10 0a3.55 3.55 0 1 0 -7.10 0M757.8 392.8m-3.55 0a3.55 3.55 0 1 0 7.10 0a3.55 3.55 0 1 0 -7.10 0M760.9 392.8m-3.55 0a3.55 3.55 0 1 0 7.10 0a3.55 3.55 0 1 0 -7.10 0M764.5 392.2m-3.55 0a3.55 3.55 0 1 0 7.10 0a3.55 3.55 0 1 0 -7.10 0M768.6 392.5m-3.55 0a3.55 3.55 0 1 0 7.10 0a3.55 3.55 0 1 0 -7.10 0M771.3 392.3m-3.55 0a3.55 3.55 0 1 0 7.10 0a3.55 3.55 0 1 0 -7.10 0M774.9 393.2m-3.55 0a3.55 3.55 0 1 0 7.10 0a3.55 3.55 0 1 0 -7.10 0M778.3 392.3m-3.55 0a3.55 3.55 0 1 0 7.10 0a3.55 3.55 0 1 0 -7.10 0M715.2 395.3m-3.55 0a3.55 3.55 0 1 0 7.10 0a3.55 3.55 0 1 0 -7.10 0M717.9 395.8m-3.55 0a3.55 3.55 0 1 0 7.10 0a3.55 3.55 0 1 0 -7.10 0M722.1 395.7m-3.55 0a3.55 3.55 0 1 0 7.10 0a3.55 3.55 0 1 0 -7.10 0M725.7 395.2m-3.55 0a3.55 3.55 0 1 0 7.10 0a3.55 3.55 0 1 0 -7.10 0M729.5 395.9m-3.55 0a3.55 3.55 0 1 0 7.10 0a3.55 3.55 0 1 0 -7.10 0M732.0 395.2m-3.55 0a3.55 3.55 0 1 0 7.10 0a3.55 3.55 0 1 0 -7.10 0M736.0 395.7m-3.55 0a3.55 3.55 0 1 0 7.10 0a3.55 3.55 0 1 0 -7.10 0M739.3 395.2m-3.55 0a3.55 3.55 0 1 0 7.10 0a3.55 3.55 0 1 0 -7.10 0M743.0 395.2m-3.55 0a3.55 3.55 0 1 0 7.10 0a3.55 3.55 0 1 0 -7.10 0M746.7 396.1m-3.55 0a3.55 3.55 0 1 0 7.10 0a3.55 3.55 0 1 0 -7.10 0M749.7 395.8m-3.55 0a3.55 3.55 0 1 0 7.10 0a3.55 3.55 0 1 0 -7.10 0M753.9 395.3m-3.55 0a3.55 3.55 0 1 0 7.10 0a3.55 3.55 0 1 0 -7.10 0M757.5 396.2m-3.55 0a3.55 3.55 0 1 0 7.10 0a3.55 3.55 0 1 0 -7.10 0M760.5 395.6m-3.55 0a3.55 3.55 0 1 0 7.10 0a3.55 3.55 0 1 0 -7.10 0M764.6 395.7m-3.55 0a3.55 3.55 0 1 0 7.10 0a3.55 3.55 0 1 0 -7.10 0M767.6 396.2m-3.55 0a3.55 3.55 0 1 0 7.10 0a3.55 3.55 0 1 0 -7.10 0M771.5 395.5m-3.55 0a3.55 3.55 0 1 0 7.10 0a3.55 3.55 0 1 0 -7.10 0M774.4 395.5m-3.55 0a3.55 3.55 0 1 0 7.10 0a3.55 3.55 0 1 0 -7.10 0M721.0 399.1m-3.55 0a3.55 3.55 0 1 0 7.10 0a3.55 3.55 0 1 0 -7.10 0M725.0 399.1m-3.55 0a3.55 3.55 0 1 0 7.10 0a3.55 3.55 0 1 0 -7.10 0M728.5 399.0m-3.55 0a3.55 3.55 0 1 0 7.10 0a3.55 3.55 0 1 0 -7.10 0M731.2 398.6m-3.55 0a3.55 3.55 0 1 0 7.10 0a3.55 3.55 0 1 0 -7.10 0M735.8 399.1m-3.55 0a3.55 3.55 0 1 0 7.10 0a3.55 3.55 0 1 0 -7.10 0M738.5 398.5m-3.55 0a3.55 3.55 0 1 0 7.10 0a3.55 3.55 0 1 0 -7.10 0M742.5 398.4m-3.55 0a3.55 3.55 0 1 0 7.10 0a3.55 3.55 0 1 0 -7.10 0M745.9 398.0m-3.55 0a3.55 3.55 0 1 0 7.10 0a3.55 3.55 0 1 0 -7.10 0M749.3 398.6m-3.55 0a3.55 3.55 0 1 0 7.10 0a3.55 3.55 0 1 0 -7.10 0M752.4 398.1m-3.55 0a3.55 3.55 0 1 0 7.10 0a3.55 3.55 0 1 0 -7.10 0M757.1 398.9m-3.55 0a3.55 3.55 0 1 0 7.10 0a3.55 3.55 0 1 0 -7.10 0M760.6 398.7m-3.55 0a3.55 3.55 0 1 0 7.10 0a3.55 3.55 0 1 0 -7.10 0M764.0 399.0m-3.55 0a3.55 3.55 0 1 0 7.10 0a3.55 3.55 0 1 0 -7.10 0M767.6 398.0m-3.55 0a3.55 3.55 0 1 0 7.10 0a3.55 3.55 0 1 0 -7.10 0M733.2 401.2m-3.55 0a3.55 3.55 0 1 0 7.10 0a3.55 3.55 0 1 0 -7.10 0M736.5 401.2m-3.55 0a3.55 3.55 0 1 0 7.10 0a3.55 3.55 0 1 0 -7.10 0M739.5 401.9m-3.55 0a3.55 3.55 0 1 0 7.10 0a3.55 3.55 0 1 0 -7.10 0M742.7 401.1m-3.55 0a3.55 3.55 0 1 0 7.10 0a3.55 3.55 0 1 0 -7.10 0M745.7 401.4m-3.55 0a3.55 3.55 0 1 0 7.10 0a3.55 3.55 0 1 0 -7.10 0M749.4 401.2m-3.55 0a3.55 3.55 0 1 0 7.10 0a3.55 3.55 0 1 0 -7.10 0M751.8 401.6m-3.55 0a3.55 3.55 0 1 0 7.10 0a3.55 3.55 0 1 0 -7.10 0M752.2 189.7m-3.55 0a3.55 3.55 0 1 0 7.10 0a3.55 3.55 0 1 0 -7.10 0M757.9 189.5m-3.55 0a3.55 3.55 0 1 0 7.10 0a3.55 3.55 0 1 0 -7.10 0M760.5 189.4m-3.55 0a3.55 3.55 0 1 0 7.10 0a3.55 3.55 0 1 0 -7.10 0M765.1 188.8m-3.55 0a3.55 3.55 0 1 0 7.10 0a3.55 3.55 0 1 0 -7.10 0M768.2 188.8m-3.55 0a3.55 3.55 0 1 0 7.10 0a3.55 3.55 0 1 0 -7.10 0M772.6 189.3m-3.55 0a3.55 3.55 0 1 0 7.10 0a3.55 3.55 0 1 0 -7.10 0M776.6 189.0m-3.55 0a3.55 3.55 0 1 0 7.10 0a3.55 3.55 0 1 0 -7.10 0M780.2 189.6m-3.55 0a3.55 3.55 0 1 0 7.10 0a3.55 3.55 0 1 0 -7.10 0M785.7 189.7m-3.55 0a3.55 3.55 0 1 0 7.10 0a3.55 3.55 0 1 0 -7.10 0M789.1 189.8m-3.55 0a3.55 3.55 0 1 0 7.10 0a3.55 3.55 0 1 0 -7.10 0M792.4 189.9m-3.55 0a3.55 3.55 0 1 0 7.10 0a3.55 3.55 0 1 0 -7.10 0M796.9 189.6m-3.55 0a3.55 3.55 0 1 0 7.10 0a3.55 3.55 0 1 0 -7.10 0M801.2 189.4m-3.55 0a3.55 3.55 0 1 0 7.10 0a3.55 3.55 0 1 0 -7.10 0M804.6 189.0m-3.55 0a3.55 3.55 0 1 0 7.10 0a3.55 3.55 0 1 0 -7.10 0M757.3 193.5m-3.55 0a3.55 3.55 0 1 0 7.10 0a3.55 3.55 0 1 0 -7.10 0M763.7 193.7m-3.55 0a3.55 3.55 0 1 0 7.10 0a3.55 3.55 0 1 0 -7.10 0M768.8 193.1m-3.55 0a3.55 3.55 0 1 0 7.10 0a3.55 3.55 0 1 0 -7.10 0M776.9 192.9m-3.55 0a3.55 3.55 0 1 0 7.10 0a3.55 3.55 0 1 0 -7.10 0M782.1 193.5m-3.55 0a3.55 3.55 0 1 0 7.10 0a3.55 3.55 0 1 0 -7.10 0M787.5 194.7m-3.55 0a3.55 3.55 0 1 0 7.10 0a3.55 3.55 0 1 0 -7.10 0M793.5 194.2m-3.55 0a3.55 3.55 0 1 0 7.10 0a3.55 3.55 0 1 0 -7.10 0M799.2 192.5m-3.55 0a3.55 3.55 0 1 0 7.10 0a3.55 3.55 0 1 0 -7.10 0M776.9 198.9m-3.55 0a3.55 3.55 0 1 0 7.10 0a3.55 3.55 0 1 0 -7.10 0M780.4 198.7m-3.55 0a3.55 3.55 0 1 0 7.10 0a3.55 3.55 0 1 0 -7.10 0M786.9 199.6m-3.55 0a3.55 3.55 0 1 0 7.10 0a3.55 3.55 0 1 0 -7.10 0M791.6 198.3m-3.55 0a3.55 3.55 0 1 0 7.10 0a3.55 3.55 0 1 0 -7.10 0M751.2 231.1m-3.55 0a3.55 3.55 0 1 0 7.10 0a3.55 3.55 0 1 0 -7.10 0M753.3 230.1m-3.55 0a3.55 3.55 0 1 0 7.10 0a3.55 3.55 0 1 0 -7.10 0M758.0 231.0m-3.55 0a3.55 3.55 0 1 0 7.10 0a3.55 3.55 0 1 0 -7.10 0M762.9 231.4m-3.55 0a3.55 3.55 0 1 0 7.10 0a3.55 3.55 0 1 0 -7.10 0M767.6 230.5m-3.55 0a3.55 3.55 0 1 0 7.10 0a3.55 3.55 0 1 0 -7.10 0M771.6 231.1m-3.55 0a3.55 3.55 0 1 0 7.10 0a3.55 3.55 0 1 0 -7.10 0M775.9 230.4m-3.55 0a3.55 3.55 0 1 0 7.10 0a3.55 3.55 0 1 0 -7.10 0M780.1 231.0m-3.55 0a3.55 3.55 0 1 0 7.10 0a3.55 3.55 0 1 0 -7.10 0M784.7 229.5m-3.55 0a3.55 3.55 0 1 0 7.10 0a3.55 3.55 0 1 0 -7.10 0M788.8 229.2m-3.55 0a3.55 3.55 0 1 0 7.10 0a3.55 3.55 0 1 0 -7.10 0M792.7 230.7m-3.55 0a3.55 3.55 0 1 0 7.10 0a3.55 3.55 0 1 0 -7.10 0M796.2 231.7m-3.55 0a3.55 3.55 0 1 0 7.10 0a3.55 3.55 0 1 0 -7.10 0M800.6 230.3m-3.55 0a3.55 3.55 0 1 0 7.10 0a3.55 3.55 0 1 0 -7.10 0M805.3 231.5m-3.55 0a3.55 3.55 0 1 0 7.10 0a3.55 3.55 0 1 0 -7.10 0M809.1 230.2m-3.55 0a3.55 3.55 0 1 0 7.10 0a3.55 3.55 0 1 0 -7.10 0M812.9 230.4m-3.55 0a3.55 3.55 0 1 0 7.10 0a3.55 3.55 0 1 0 -7.10 0M757.0 239.1m-3.55 0a3.55 3.55 0 1 0 7.10 0a3.55 3.55 0 1 0 -7.10 0M760.0 240.2m-3.55 0a3.55 3.55 0 1 0 7.10 0a3.55 3.55 0 1 0 -7.10 0M764.5 239.2m-3.55 0a3.55 3.55 0 1 0 7.10 0a3.55 3.55 0 1 0 -7.10 0M770.8 241.5m-3.55 0a3.55 3.55 0 1 0 7.10 0a3.55 3.55 0 1 0 -7.10 0M774.0 239.8m-3.55 0a3.55 3.55 0 1 0 7.10 0a3.55 3.55 0 1 0 -7.10 0M777.1 239.1m-3.55 0a3.55 3.55 0 1 0 7.10 0a3.55 3.55 0 1 0 -7.10 0M781.4 240.3m-3.55 0a3.55 3.55 0 1 0 7.10 0a3.55 3.55 0 1 0 -7.10 0M787.9 238.2m-3.55 0a3.55 3.55 0 1 0 7.10 0a3.55 3.55 0 1 0 -7.10 0M793.8 239.2m-3.55 0a3.55 3.55 0 1 0 7.10 0a3.55 3.55 0 1 0 -7.10 0M798.0 241.5m-3.55 0a3.55 3.55 0 1 0 7.10 0a3.55 3.55 0 1 0 -7.10 0M803.0 238.7m-3.55 0a3.55 3.55 0 1 0 7.10 0a3.55 3.55 0 1 0 -7.10 0M751.6 254.1m-3.55 0a3.55 3.55 0 1 0 7.10 0a3.55 3.55 0 1 0 -7.10 0M756.6 249.7m-3.55 0a3.55 3.55 0 1 0 7.10 0a3.55 3.55 0 1 0 -7.10 0M766.3 252.0m-3.55 0a3.55 3.55 0 1 0 7.10 0a3.55 3.55 0 1 0 -7.10 0M775.1 253.4m-3.55 0a3.55 3.55 0 1 0 7.10 0a3.55 3.55 0 1 0 -7.10 0M780.2 254.5m-3.55 0a3.55 3.55 0 1 0 7.10 0a3.55 3.55 0 1 0 -7.10 0M787.1 252.1m-3.55 0a3.55 3.55 0 1 0 7.10 0a3.55 3.55 0 1 0 -7.10 0M794.9 251.4m-3.55 0a3.55 3.55 0 1 0 7.10 0a3.55 3.55 0 1 0 -7.10 0M754.7 215.7m-3.55 0a3.55 3.55 0 1 0 7.10 0a3.55 3.55 0 1 0 -7.10 0M768.0 212.4m-3.55 0a3.55 3.55 0 1 0 7.10 0a3.55 3.55 0 1 0 -7.10 0M784.5 213.2m-3.55 0a3.55 3.55 0 1 0 7.10 0a3.55 3.55 0 1 0 -7.10 0M809.4 213.2m-3.55 0a3.55 3.55 0 1 0 7.10 0a3.55 3.55 0 1 0 -7.10 0M821.0 215.7m-3.55 0a3.55 3.55 0 1 0 7.10 0a3.55 3.55 0 1 0 -7.10 0M802.8 219.0m-3.55 0a3.55 3.55 0 1 0 7.10 0a3.55 3.55 0 1 0 -7.10 0M809.4 221.5m-3.55 0a3.55 3.55 0 1 0 7.10 0a3.55 3.55 0 1 0 -7.10 0M819.4 221.5m-3.55 0a3.55 3.55 0 1 0 7.10 0a3.55 3.55 0 1 0 -7.10 0M758.0 221.5m-3.55 0a3.55 3.55 0 1 0 7.10 0a3.55 3.55 0 1 0 -7.10 0M773.0 219.8m-3.55 0a3.55 3.55 0 1 0 7.10 0a3.55 3.55 0 1 0 -7.10 0M786.0 201.6m-3.55 0a3.55 3.55 0 1 0 7.10 0a3.55 3.55 0 1 0 -7.10 0M779.5 205.7m-3.55 0a3.55 3.55 0 1 0 7.10 0a3.55 3.55 0 1 0 -7.10 0M626.2 192.7m-3.55 0a3.55 3.55 0 1 0 7.10 0a3.55 3.55 0 1 0 -7.10 0M709.0 199.8m-3.55 0a3.55 3.55 0 1 0 7.10 0a3.55 3.55 0 1 0 -7.10 0M733.2 196.4m-3.55 0a3.55 3.55 0 1 0 7.10 0a3.55 3.55 0 1 0 -7.10 0M727.8 205.4m-3.55 0a3.55 3.55 0 1 0 7.10 0a3.55 3.55 0 1 0 -7.10 0M679.5 231.2m-3.55 0a3.55 3.55 0 1 0 7.10 0a3.55 3.55 0 1 0 -7.10 0M692.2 231.4m-3.55 0a3.55 3.55 0 1 0 7.10 0a3.55 3.55 0 1 0 -7.10 0M709.6 230.7m-3.55 0a3.55 3.55 0 1 0 7.10 0a3.55 3.55 0 1 0 -7.10 0M720.5 222.0m-3.55 0a3.55 3.55 0 1 0 7.10 0a3.55 3.55 0 1 0 -7.10 0M724.0 221.0m-3.55 0a3.55 3.55 0 1 0 7.10 0a3.55 3.55 0 1 0 -7.10 0M727.3 225.3m-3.55 0a3.55 3.55 0 1 0 7.10 0a3.55 3.55 0 1 0 -7.10 0M720.9 229.6m-3.55 0a3.55 3.55 0 1 0 7.10 0a3.55 3.55 0 1 0 -7.10 0M748.0 231.6m-3.55 0a3.55 3.55 0 1 0 7.10 0a3.55 3.55 0 1 0 -7.10 0M685.4 254.5m-3.55 0a3.55 3.55 0 1 0 7.10 0a3.55 3.55 0 1 0 -7.10 0M699.2 256.4m-3.55 0a3.55 3.55 0 1 0 7.10 0a3.55 3.55 0 1 0 -7.10 0M706.5 253.6m-3.55 0a3.55 3.55 0 1 0 7.10 0a3.55 3.55 0 1 0 -7.10 0M730.7 252.7m-3.55 0a3.55 3.55 0 1 0 7.10 0a3.55 3.55 0 1 0 -7.10 0M733.4 260.9m-3.55 0a3.55 3.55 0 1 0 7.10 0a3.55 3.55 0 1 0 -7.10 0M714.8 265.8m-3.55 0a3.55 3.55 0 1 0 7.10 0a3.55 3.55 0 1 0 -7.10 0M678.0 273.1m-3.55 0a3.55 3.55 0 1 0 7.10 0a3.55 3.55 0 1 0 -7.10 0M690.4 278.6m-3.55 0a3.55 3.55 0 1 0 7.10 0a3.55 3.55 0 1 0 -7.10 0M696.4 285.3m-3.55 0a3.55 3.55 0 1 0 7.10 0a3.55 3.55 0 1 0 -7.10 0M677.2 299.2m-3.55 0a3.55 3.55 0 1 0 7.10 0a3.55 3.55 0 1 0 -7.10 0M690.4 297.0m-3.55 0a3.55 3.55 0 1 0 7.10 0a3.55 3.55 0 1 0 -7.10 0M658.1 316.2m-3.55 0a3.55 3.55 0 1 0 7.10 0a3.55 3.55 0 1 0 -7.10 0M685.4 312.9m-3.55 0a3.55 3.55 0 1 0 7.10 0a3.55 3.55 0 1 0 -7.10 0M693.1 320.7m-3.55 0a3.55 3.55 0 1 0 7.10 0a3.55 3.55 0 1 0 -7.10 0M699.7 319.6m-3.55 0a3.55 3.55 0 1 0 7.10 0a3.55 3.55 0 1 0 -7.10 0M675.4 322.9m-3.55 0a3.55 3.55 0 1 0 7.10 0a3.55 3.55 0 1 0 -7.10 0M678.7 324.0m-3.55 0a3.55 3.55 0 1 0 7.10 0a3.55 3.55 0 1 0 -7.10 0M673.2 326.2m-3.55 0a3.55 3.55 0 1 0 7.10 0a3.55 3.55 0 1 0 -7.10 0M665.4 334.6m-3.55 0a3.55 3.55 0 1 0 7.10 0a3.55 3.55 0 1 0 -7.10 0M686.5 346.5m-3.55 0a3.55 3.55 0 1 0 7.10 0a3.55 3.55 0 1 0 -7.10 0M693.1 341.2m-3.55 0a3.55 3.55 0 1 0 7.10 0a3.55 3.55 0 1 0 -7.10 0M661.0 357.2m-3.55 0a3.55 3.55 0 1 0 7.10 0a3.55 3.55 0 1 0 -7.10 0M675.8 358.3m-3.55 0a3.55 3.55 0 1 0 7.10 0a3.55 3.55 0 1 0 -7.10 0M682.0 363.4m-3.55 0a3.55 3.55 0 1 0 7.10 0a3.55 3.55 0 1 0 -7.10 0M640.5 360.7m-3.55 0a3.55 3.55 0 1 0 7.10 0a3.55 3.55 0 1 0 -7.10 0M810.4 244.3m-3.55 0a3.55 3.55 0 1 0 7.10 0a3.55 3.55 0 1 0 -7.10 0M814.8 253.2m-3.55 0a3.55 3.55 0 1 0 7.10 0a3.55 3.55 0 1 0 -7.10 0M808.1 319.6m-3.55 0a3.55 3.55 0 1 0 7.10 0a3.55 3.55 0 1 0 -7.10 0M797.5 330.0m-3.55 0a3.55 3.55 0 1 0 7.10 0a3.55 3.55 0 1 0 -7.10 0M802.6 326.2m-3.55 0a3.55 3.55 0 1 0 7.10 0a3.55 3.55 0 1 0 -7.10 0M801.5 346.5m-3.55 0a3.55 3.55 0 1 0 7.10 0a3.55 3.55 0 1 0 -7.10 0M808.1 347.7m-3.55 0a3.55 3.55 0 1 0 7.10 0a3.55 3.55 0 1 0 -7.10 0M817.4 359.8m-3.55 0a3.55 3.55 0 1 0 7.10 0a3.55 3.55 0 1 0 -7.10 0M804.8 373.8m-3.55 0a3.55 3.55 0 1 0 7.10 0a3.55 3.55 0 1 0 -7.10 0M793.8 273.1m-3.55 0a3.55 3.55 0 1 0 7.10 0a3.55 3.55 0 1 0 -7.10 0M796.0 278.6m-3.55 0a3.55 3.55 0 1 0 7.10 0a3.55 3.55 0 1 0 -7.10 0M803.7 286.4m-3.55 0a3.55 3.55 0 1 0 7.10 0a3.55 3.55 0 1 0 -7.10 0M807.0 290.8m-3.55 0a3.55 3.55 0 1 0 7.10 0a3.55 3.55 0 1 0 -7.10 0M804.0 296.3m-3.55 0a3.55 3.55 0 1 0 7.10 0a3.55 3.55 0 1 0 -7.10 0M873.8 230.7m-3.55 0a3.55 3.55 0 1 0 7.10 0a3.55 3.55 0 1 0 -7.10 0M880.3 267.0m-3.55 0a3.55 3.55 0 1 0 7.10 0a3.55 3.55 0 1 0 -7.10 0M812.8 186.7m-3.55 0a3.55 3.55 0 1 0 7.10 0a3.55 3.55 0 1 0 -7.10 0M832.3 187.0m-3.55 0a3.55 3.55 0 1 0 7.10 0a3.55 3.55 0 1 0 -7.10 0M843.4 188.5m-3.55 0a3.55 3.55 0 1 0 7.10 0a3.55 3.55 0 1 0 -7.10 0M830.0 192.2m-3.55 0a3.55 3.55 0 1 0 7.10 0a3.55 3.55 0 1 0 -7.10 0M843.6 193.2m-3.55 0a3.55 3.55 0 1 0 7.10 0a3.55 3.55 0 1 0 -7.10 0M823.0 199.2m-3.55 0a3.55 3.55 0 1 0 7.10 0a3.55 3.55 0 1 0 -7.10 0M778.8 206.0m-3.55 0a3.55 3.55 0 1 0 7.10 0a3.55 3.55 0 1 0 -7.10 0M822.0 215.3m-3.55 0a3.55 3.55 0 1 0 7.10 0a3.55 3.55 0 1 0 -7.10 0M821.2 220.8m-3.55 0a3.55 3.55 0 1 0 7.10 0a3.55 3.55 0 1 0 -7.10 0M808.2 213.7m-3.55 0a3.55 3.55 0 1 0 7.10 0a3.55 3.55 0 1 0 -7.10 0M803.6 218.4m-3.55 0a3.55 3.55 0 1 0 7.10 0a3.55 3.55 0 1 0 -7.10 0M809.0 213.8m-3.55 0a3.55 3.55 0 1 0 7.10 0a3.55 3.55 0 1 0 -7.10 0M822.2 216.7m-3.55 0a3.55 3.55 0 1 0 7.10 0a3.55 3.55 0 1 0 -7.10 0M819.4 221.0m-3.55 0a3.55 3.55 0 1 0 7.10 0a3.55 3.55 0 1 0 -7.10 0M802.8 219.6m-3.55 0a3.55 3.55 0 1 0 7.10 0a3.55 3.55 0 1 0 -7.10 0M799.5 109.0m-3.55 0a3.55 3.55 0 1 0 7.10 0a3.55 3.55 0 1 0 -7.10 0M776.0 146.2m-3.55 0a3.55 3.55 0 1 0 7.10 0a3.55 3.55 0 1 0 -7.10 0M786.7 146.2m-3.55 0a3.55 3.55 0 1 0 7.10 0a3.55 3.55 0 1 0 -7.10 0M792.7 146.2m-3.55 0a3.55 3.55 0 1 0 7.10 0a3.55 3.55 0 1 0 -7.10 0M812.7 146.2m-3.55 0a3.55 3.55 0 1 0 7.10 0a3.55 3.55 0 1 0 -7.10 0M779.0 160.3m-3.55 0a3.55 3.55 0 1 0 7.10 0a3.55 3.55 0 1 0 -7.10 0M790.0 340.0m-3.55 0a3.55 3.55 0 1 0 7.10 0a3.55 3.55 0 1 0 -7.10 0M795.0 352.0m-3.55 0a3.55 3.55 0 1 0 7.10 0a3.55 3.55 0 1 0 -7.10 0M788.0 365.0m-3.55 0a3.55 3.55 0 1 0 7.10 0a3.55 3.55 0 1 0 -7.10 0M698.0 330.0m-3.55 0a3.55 3.55 0 1 0 7.10 0a3.55 3.55 0 1 0 -7.10 0M693.0 350.0m-3.55 0a3.55 3.55 0 1 0 7.10 0a3.55 3.55 0 1 0 -7.10 0M800.0 380.0m-3.55 0a3.55 3.55 0 1 0 7.10 0a3.55 3.55 0 1 0 -7.10 0"/><path clip-path="url(#pc)" fill="url(#rg)" d="M750.1 248.6m-3.55 0a3.55 3.55 0 1 0 7.10 0a3.55 3.55 0 1 0 -7.10 0M754.1 248.5m-3.55 0a3.55 3.55 0 1 0 7.10 0a3.55 3.55 0 1 0 -7.10 0M757.6 248.8m-3.55 0a3.55 3.55 0 1 0 7.10 0a3.55 3.55 0 1 0 -7.10 0M760.6 249.0m-3.55 0a3.55 3.55 0 1 0 7.10 0a3.55 3.55 0 1 0 -7.10 0M764.2 248.9m-3.55 0a3.55 3.55 0 1 0 7.10 0a3.55 3.55 0 1 0 -7.10 0M767.9 248.5m-3.55 0a3.55 3.55 0 1 0 7.10 0a3.55 3.55 0 1 0 -7.10 0M771.9 249.4m-3.55 0a3.55 3.55 0 1 0 7.10 0a3.55 3.55 0 1 0 -7.10 0M749.8 251.9m-3.55 0a3.55 3.55 0 1 0 7.10 0a3.55 3.55 0 1 0 -7.10 0M754.1 252.7m-3.55 0a3.55 3.55 0 1 0 7.10 0a3.55 3.55 0 1 0 -7.10 0M757.6 252.1m-3.55 0a3.55 3.55 0 1 0 7.10 0a3.55 3.55 0 1 0 -7.10 0M761.7 251.7m-3.55 0a3.55 3.55 0 1 0 7.10 0a3.55 3.55 0 1 0 -7.10 0M765.2 251.9m-3.55 0a3.55 3.55 0 1 0 7.10 0a3.55 3.55 0 1 0 -7.10 0M768.0 251.7m-3.55 0a3.55 3.55 0 1 0 7.10 0a3.55 3.55 0 1 0 -7.10 0M771.8 252.6m-3.55 0a3.55 3.55 0 1 0 7.10 0a3.55 3.55 0 1 0 -7.10 0M749.9 255.5m-3.55 0a3.55 3.55 0 1 0 7.10 0a3.55 3.55 0 1 0 -7.10 0M754.1 255.2m-3.55 0a3.55 3.55 0 1 0 7.10 0a3.55 3.55 0 1 0 -7.10 0M757.6 254.9m-3.55 0a3.55 3.55 0 1 0 7.10 0a3.55 3.55 0 1 0 -7.10 0M760.6 255.0m-3.55 0a3.55 3.55 0 1 0 7.10 0a3.55 3.55 0 1 0 -7.10 0M765.0 255.3m-3.55 0a3.55 3.55 0 1 0 7.10 0a3.55 3.55 0 1 0 -7.10 0M768.2 255.5m-3.55 0a3.55 3.55 0 1 0 7.10 0a3.55 3.55 0 1 0 -7.10 0M771.9 255.2m-3.55 0a3.55 3.55 0 1 0 7.10 0a3.55 3.55 0 1 0 -7.10 0M750.7 258.8m-3.55 0a3.55 3.55 0 1 0 7.10 0a3.55 3.55 0 1 0 -7.10 0M753.6 258.7m-3.55 0a3.55 3.55 0 1 0 7.10 0a3.55 3.55 0 1 0 -7.10 0M757.6 259.1m-3.55 0a3.55 3.55 0 1 0 7.10 0a3.55 3.55 0 1 0 -7.10 0M761.4 258.3m-3.55 0a3.55 3.55 0 1 0 7.10 0a3.55 3.55 0 1 0 -7.10 0M765.3 258.1m-3.55 0a3.55 3.55 0 1 0 7.10 0a3.55 3.55 0 1 0 -7.10 0M768.3 258.9m-3.55 0a3.55 3.55 0 1 0 7.10 0a3.55 3.55 0 1 0 -7.10 0M771.6 258.6m-3.55 0a3.55 3.55 0 1 0 7.10 0a3.55 3.55 0 1 0 -7.10 0M749.7 262.0m-3.55 0a3.55 3.55 0 1 0 7.10 0a3.55 3.55 0 1 0 -7.10 0M754.2 261.9m-3.55 0a3.55 3.55 0 1 0 7.10 0a3.55 3.55 0 1 0 -7.10 0M758.0 261.6m-3.55 0a3.55 3.55 0 1 0 7.10 0a3.55 3.55 0 1 0 -7.10 0M761.4 261.9m-3.55 0a3.55 3.55 0 1 0 7.10 0a3.55 3.55 0 1 0 -7.10 0M764.9 261.7m-3.55 0a3.55 3.55 0 1 0 7.10 0a3.55 3.55 0 1 0 -7.10 0M768.8 262.3m-3.55 0a3.55 3.55 0 1 0 7.10 0a3.55 3.55 0 1 0 -7.10 0M772.0 262.0m-3.55 0a3.55 3.55 0 1 0 7.10 0a3.55 3.55 0 1 0 -7.10 0M749.8 265.2m-3.55 0a3.55 3.55 0 1 0 7.10 0a3.55 3.55 0 1 0 -7.10 0M754.1 265.6m-3.55 0a3.55 3.55 0 1 0 7.10 0a3.55 3.55 0 1 0 -7.10 0M757.9 264.7m-3.55 0a3.55 3.55 0 1 0 7.10 0a3.55 3.55 0 1 0 -7.10 0M761.0 265.2m-3.55 0a3.55 3.55 0 1 0 7.10 0a3.55 3.55 0 1 0 -7.10 0M764.2 265.0m-3.55 0a3.55 3.55 0 1 0 7.10 0a3.55 3.55 0 1 0 -7.10 0M768.0 264.5m-3.55 0a3.55 3.55 0 1 0 7.10 0a3.55 3.55 0 1 0 -7.10 0M771.5 265.3m-3.55 0a3.55 3.55 0 1 0 7.10 0a3.55 3.55 0 1 0 -7.10 0M749.9 267.9m-3.55 0a3.55 3.55 0 1 0 7.10 0a3.55 3.55 0 1 0 -7.10 0M753.8 268.6m-3.55 0a3.55 3.55 0 1 0 7.10 0a3.55 3.55 0 1 0 -7.10 0M757.0 268.1m-3.55 0a3.55 3.55 0 1 0 7.10 0a3.55 3.55 0 1 0 -7.10 0M761.2 268.7m-3.55 0a3.55 3.55 0 1 0 7.10 0a3.55 3.55 0 1 0 -7.10 0M765.1 268.6m-3.55 0a3.55 3.55 0 1 0 7.10 0a3.55 3.55 0 1 0 -7.10 0M768.1 268.1m-3.55 0a3.55 3.55 0 1 0 7.10 0a3.55 3.55 0 1 0 -7.10 0M771.8 268.7m-3.55 0a3.55 3.55 0 1 0 7.10 0a3.55 3.55 0 1 0 -7.10 0M750.8 271.0m-3.55 0a3.55 3.55 0 1 0 7.10 0a3.55 3.55 0 1 0 -7.10 0M753.5 271.1m-3.55 0a3.55 3.55 0 1 0 7.10 0a3.55 3.55 0 1 0 -7.10 0M757.2 271.4m-3.55 0a3.55 3.55 0 1 0 7.10 0a3.55 3.55 0 1 0 -7.10 0M761.3 271.1m-3.55 0a3.55 3.55 0 1 0 7.10 0a3.55 3.55 0 1 0 -7.10 0M764.2 271.3m-3.55 0a3.55 3.55 0 1 0 7.10 0a3.55 3.55 0 1 0 -7.10 0M768.2 271.5m-3.55 0a3.55 3.55 0 1 0 7.10 0a3.55 3.55 0 1 0 -7.10 0M772.5 271.6m-3.55 0a3.55 3.55 0 1 0 7.10 0a3.55 3.55 0 1 0 -7.10 0M750.3 274.7m-3.55 0a3.55 3.55 0 1 0 7.10 0a3.55 3.55 0 1 0 -7.10 0M754.1 274.1m-3.55 0a3.55 3.55 0 1 0 7.10 0a3.55 3.55 0 1 0 -7.10 0M758.0 274.9m-3.55 0a3.55 3.55 0 1 0 7.10 0a3.55 3.55 0 1 0 -7.10 0M761.6 275.0m-3.55 0a3.55 3.55 0 1 0 7.10 0a3.55 3.55 0 1 0 -7.10 0M764.6 274.5m-3.55 0a3.55 3.55 0 1 0 7.10 0a3.55 3.55 0 1 0 -7.10 0M767.9 274.8m-3.55 0a3.55 3.55 0 1 0 7.10 0a3.55 3.55 0 1 0 -7.10 0M771.5 274.1m-3.55 0a3.55 3.55 0 1 0 7.10 0a3.55 3.55 0 1 0 -7.10 0M750.0 277.4m-3.55 0a3.55 3.55 0 1 0 7.10 0a3.55 3.55 0 1 0 -7.10 0M753.7 277.3m-3.55 0a3.55 3.55 0 1 0 7.10 0a3.55 3.55 0 1 0 -7.10 0M756.9 277.4m-3.55 0a3.55 3.55 0 1 0 7.10 0a3.55 3.55 0 1 0 -7.10 0M760.7 277.6m-3.55 0a3.55 3.55 0 1 0 7.10 0a3.55 3.55 0 1 0 -7.10 0M764.2 278.2m-3.55 0a3.55 3.55 0 1 0 7.10 0a3.55 3.55 0 1 0 -7.10 0M768.5 277.4m-3.55 0a3.55 3.55 0 1 0 7.10 0a3.55 3.55 0 1 0 -7.10 0M771.7 277.6m-3.55 0a3.55 3.55 0 1 0 7.10 0a3.55 3.55 0 1 0 -7.10 0M750.1 280.5m-3.55 0a3.55 3.55 0 1 0 7.10 0a3.55 3.55 0 1 0 -7.10 0M754.3 281.6m-3.55 0a3.55 3.55 0 1 0 7.10 0a3.55 3.55 0 1 0 -7.10 0M757.5 281.0m-3.55 0a3.55 3.55 0 1 0 7.10 0a3.55 3.55 0 1 0 -7.10 0M760.7 280.5m-3.55 0a3.55 3.55 0 1 0 7.10 0a3.55 3.55 0 1 0 -7.10 0M764.6 280.7m-3.55 0a3.55 3.55 0 1 0 7.10 0a3.55 3.55 0 1 0 -7.10 0M768.8 280.6m-3.55 0a3.55 3.55 0 1 0 7.10 0a3.55 3.55 0 1 0 -7.10 0M771.4 281.5m-3.55 0a3.55 3.55 0 1 0 7.10 0a3.55 3.55 0 1 0 -7.10 0M750.3 283.8m-3.55 0a3.55 3.55 0 1 0 7.10 0a3.55 3.55 0 1 0 -7.10 0M754.0 283.6m-3.55 0a3.55 3.55 0 1 0 7.10 0a3.55 3.55 0 1 0 -7.10 0M757.6 284.8m-3.55 0a3.55 3.55 0 1 0 7.10 0a3.55 3.55 0 1 0 -7.10 0M761.6 284.4m-3.55 0a3.55 3.55 0 1 0 7.10 0a3.55 3.55 0 1 0 -7.10 0M764.5 284.0m-3.55 0a3.55 3.55 0 1 0 7.10 0a3.55 3.55 0 1 0 -7.10 0M768.0 284.5m-3.55 0a3.55 3.55 0 1 0 7.10 0a3.55 3.55 0 1 0 -7.10 0M772.0 284.5m-3.55 0a3.55 3.55 0 1 0 7.10 0a3.55 3.55 0 1 0 -7.10 0M750.1 287.1m-3.55 0a3.55 3.55 0 1 0 7.10 0a3.55 3.55 0 1 0 -7.10 0M754.3 288.0m-3.55 0a3.55 3.55 0 1 0 7.10 0a3.55 3.55 0 1 0 -7.10 0M758.0 287.8m-3.55 0a3.55 3.55 0 1 0 7.10 0a3.55 3.55 0 1 0 -7.10 0M761.5 287.7m-3.55 0a3.55 3.55 0 1 0 7.10 0a3.55 3.55 0 1 0 -7.10 0M764.4 287.4m-3.55 0a3.55 3.55 0 1 0 7.10 0a3.55 3.55 0 1 0 -7.10 0M768.2 286.8m-3.55 0a3.55 3.55 0 1 0 7.10 0a3.55 3.55 0 1 0 -7.10 0M771.4 287.1m-3.55 0a3.55 3.55 0 1 0 7.10 0a3.55 3.55 0 1 0 -7.10 0M750.0 290.8m-3.55 0a3.55 3.55 0 1 0 7.10 0a3.55 3.55 0 1 0 -7.10 0M754.5 290.5m-3.55 0a3.55 3.55 0 1 0 7.10 0a3.55 3.55 0 1 0 -7.10 0M758.1 291.2m-3.55 0a3.55 3.55 0 1 0 7.10 0a3.55 3.55 0 1 0 -7.10 0M761.7 290.4m-3.55 0a3.55 3.55 0 1 0 7.10 0a3.55 3.55 0 1 0 -7.10 0M764.4 290.3m-3.55 0a3.55 3.55 0 1 0 7.10 0a3.55 3.55 0 1 0 -7.10 0M768.0 290.2m-3.55 0a3.55 3.55 0 1 0 7.10 0a3.55 3.55 0 1 0 -7.10 0M772.1 291.1m-3.55 0a3.55 3.55 0 1 0 7.10 0a3.55 3.55 0 1 0 -7.10 0M750.7 293.8m-3.55 0a3.55 3.55 0 1 0 7.10 0a3.55 3.55 0 1 0 -7.10 0M754.1 294.2m-3.55 0a3.55 3.55 0 1 0 7.10 0a3.55 3.55 0 1 0 -7.10 0M757.0 294.0m-3.55 0a3.55 3.55 0 1 0 7.10 0a3.55 3.55 0 1 0 -7.10 0M761.6 294.1m-3.55 0a3.55 3.55 0 1 0 7.10 0a3.55 3.55 0 1 0 -7.10 0M765.1 293.8m-3.55 0a3.55 3.55 0 1 0 7.10 0a3.55 3.55 0 1 0 -7.10 0M768.0 294.1m-3.55 0a3.55 3.55 0 1 0 7.10 0a3.55 3.55 0 1 0 -7.10 0M771.8 294.2m-3.55 0a3.55 3.55 0 1 0 7.10 0a3.55 3.55 0 1 0 -7.10 0M750.9 296.9m-3.55 0a3.55 3.55 0 1 0 7.10 0a3.55 3.55 0 1 0 -7.10 0M753.8 297.5m-3.55 0a3.55 3.55 0 1 0 7.10 0a3.55 3.55 0 1 0 -7.10 0M757.8 296.6m-3.55 0a3.55 3.55 0 1 0 7.10 0a3.55 3.55 0 1 0 -7.10 0M760.7 296.6m-3.55 0a3.55 3.55 0 1 0 7.10 0a3.55 3.55 0 1 0 -7.10 0M765.3 297.4m-3.55 0a3.55 3.55 0 1 0 7.10 0a3.55 3.55 0 1 0 -7.10 0M768.0 297.4m-3.55 0a3.55 3.55 0 1 0 7.10 0a3.55 3.55 0 1 0 -7.10 0M772.6 297.2m-3.55 0a3.55 3.55 0 1 0 7.10 0a3.55 3.55 0 1 0 -7.10 0M750.1 300.3m-3.55 0a3.55 3.55 0 1 0 7.10 0a3.55 3.55 0 1 0 -7.10 0M753.5 299.6m-3.55 0a3.55 3.55 0 1 0 7.10 0a3.55 3.55 0 1 0 -7.10 0M758.1 300.4m-3.55 0a3.55 3.55 0 1 0 7.10 0a3.55 3.55 0 1 0 -7.10 0M761.2 300.7m-3.55 0a3.55 3.55 0 1 0 7.10 0a3.55 3.55 0 1 0 -7.10 0M764.7 300.6m-3.55 0a3.55 3.55 0 1 0 7.10 0a3.55 3.55 0 1 0 -7.10 0M768.8 299.9m-3.55 0a3.55 3.55 0 1 0 7.10 0a3.55 3.55 0 1 0 -7.10 0M771.7 300.0m-3.55 0a3.55 3.55 0 1 0 7.10 0a3.55 3.55 0 1 0 -7.10 0M750.0 303.5m-3.55 0a3.55 3.55 0 1 0 7.10 0a3.55 3.55 0 1 0 -7.10 0M753.6 303.3m-3.55 0a3.55 3.55 0 1 0 7.10 0a3.55 3.55 0 1 0 -7.10 0M757.1 303.9m-3.55 0a3.55 3.55 0 1 0 7.10 0a3.55 3.55 0 1 0 -7.10 0M761.0 303.3m-3.55 0a3.55 3.55 0 1 0 7.10 0a3.55 3.55 0 1 0 -7.10 0M764.9 303.9m-3.55 0a3.55 3.55 0 1 0 7.10 0a3.55 3.55 0 1 0 -7.10 0M768.3 303.9m-3.55 0a3.55 3.55 0 1 0 7.10 0a3.55 3.55 0 1 0 -7.10 0M772.0 303.4m-3.55 0a3.55 3.55 0 1 0 7.10 0a3.55 3.55 0 1 0 -7.10 0M750.3 306.0m-3.55 0a3.55 3.55 0 1 0 7.10 0a3.55 3.55 0 1 0 -7.10 0M753.8 306.2m-3.55 0a3.55 3.55 0 1 0 7.10 0a3.55 3.55 0 1 0 -7.10 0M756.9 307.0m-3.55 0a3.55 3.55 0 1 0 7.10 0a3.55 3.55 0 1 0 -7.10 0M760.8 306.6m-3.55 0a3.55 3.55 0 1 0 7.10 0a3.55 3.55 0 1 0 -7.10 0M765.0 306.7m-3.55 0a3.55 3.55 0 1 0 7.10 0a3.55 3.55 0 1 0 -7.10 0M768.2 306.6m-3.55 0a3.55 3.55 0 1 0 7.10 0a3.55 3.55 0 1 0 -7.10 0M772.1 306.9m-3.55 0a3.55 3.55 0 1 0 7.10 0a3.55 3.55 0 1 0 -7.10 0M749.8 309.9m-3.55 0a3.55 3.55 0 1 0 7.10 0a3.55 3.55 0 1 0 -7.10 0M753.6 309.5m-3.55 0a3.55 3.55 0 1 0 7.10 0a3.55 3.55 0 1 0 -7.10 0M757.9 309.8m-3.55 0a3.55 3.55 0 1 0 7.10 0a3.55 3.55 0 1 0 -7.10 0M761.2 310.1m-3.55 0a3.55 3.55 0 1 0 7.10 0a3.55 3.55 0 1 0 -7.10 0M765.3 309.7m-3.55 0a3.55 3.55 0 1 0 7.10 0a3.55 3.55 0 1 0 -7.10 0M768.5 309.8m-3.55 0a3.55 3.55 0 1 0 7.10 0a3.55 3.55 0 1 0 -7.10 0M772.0 310.0m-3.55 0a3.55 3.55 0 1 0 7.10 0a3.55 3.55 0 1 0 -7.10 0M750.2 313.0m-3.55 0a3.55 3.55 0 1 0 7.10 0a3.55 3.55 0 1 0 -7.10 0M753.9 313.5m-3.55 0a3.55 3.55 0 1 0 7.10 0a3.55 3.55 0 1 0 -7.10 0M757.8 313.5m-3.55 0a3.55 3.55 0 1 0 7.10 0a3.55 3.55 0 1 0 -7.10 0M761.7 312.7m-3.55 0a3.55 3.55 0 1 0 7.10 0a3.55 3.55 0 1 0 -7.10 0M764.8 313.5m-3.55 0a3.55 3.55 0 1 0 7.10 0a3.55 3.55 0 1 0 -7.10 0M768.8 312.6m-3.55 0a3.55 3.55 0 1 0 7.10 0a3.55 3.55 0 1 0 -7.10 0M771.5 312.9m-3.55 0a3.55 3.55 0 1 0 7.10 0a3.55 3.55 0 1 0 -7.10 0M749.8 315.9m-3.55 0a3.55 3.55 0 1 0 7.10 0a3.55 3.55 0 1 0 -7.10 0M753.4 316.4m-3.55 0a3.55 3.55 0 1 0 7.10 0a3.55 3.55 0 1 0 -7.10 0M757.9 316.7m-3.55 0a3.55 3.55 0 1 0 7.10 0a3.55 3.55 0 1 0 -7.10 0M760.7 316.5m-3.55 0a3.55 3.55 0 1 0 7.10 0a3.55 3.55 0 1 0 -7.10 0M765.0 315.8m-3.55 0a3.55 3.55 0 1 0 7.10 0a3.55 3.55 0 1 0 -7.10 0M768.8 316.8m-3.55 0a3.55 3.55 0 1 0 7.10 0a3.55 3.55 0 1 0 -7.10 0M771.7 316.7m-3.55 0a3.55 3.55 0 1 0 7.10 0a3.55 3.55 0 1 0 -7.10 0M750.2 319.4m-3.55 0a3.55 3.55 0 1 0 7.10 0a3.55 3.55 0 1 0 -7.10 0M754.5 319.8m-3.55 0a3.55 3.55 0 1 0 7.10 0a3.55 3.55 0 1 0 -7.10 0M757.1 319.3m-3.55 0a3.55 3.55 0 1 0 7.10 0a3.55 3.55 0 1 0 -7.10 0M761.2 319.2m-3.55 0a3.55 3.55 0 1 0 7.10 0a3.55 3.55 0 1 0 -7.10 0M764.4 319.2m-3.55 0a3.55 3.55 0 1 0 7.10 0a3.55 3.55 0 1 0 -7.10 0M768.6 318.8m-3.55 0a3.55 3.55 0 1 0 7.10 0a3.55 3.55 0 1 0 -7.10 0M772.1 319.3m-3.55 0a3.55 3.55 0 1 0 7.10 0a3.55 3.55 0 1 0 -7.10 0M749.5 322.4m-3.55 0a3.55 3.55 0 1 0 7.10 0a3.55 3.55 0 1 0 -7.10 0M753.9 322.6m-3.55 0a3.55 3.55 0 1 0 7.10 0a3.55 3.55 0 1 0 -7.10 0M756.9 323.2m-3.55 0a3.55 3.55 0 1 0 7.10 0a3.55 3.55 0 1 0 -7.10 0M761.4 323.2m-3.55 0a3.55 3.55 0 1 0 7.10 0a3.55 3.55 0 1 0 -7.10 0M764.2 322.3m-3.55 0a3.55 3.55 0 1 0 7.10 0a3.55 3.55 0 1 0 -7.10 0M767.8 322.9m-3.55 0a3.55 3.55 0 1 0 7.10 0a3.55 3.55 0 1 0 -7.10 0M771.7 322.2m-3.55 0a3.55 3.55 0 1 0 7.10 0a3.55 3.55 0 1 0 -7.10 0M749.8 326.3m-3.55 0a3.55 3.55 0 1 0 7.10 0a3.55 3.55 0 1 0 -7.10 0M753.9 325.5m-3.55 0a3.55 3.55 0 1 0 7.10 0a3.55 3.55 0 1 0 -7.10 0M756.8 326.3m-3.55 0a3.55 3.55 0 1 0 7.10 0a3.55 3.55 0 1 0 -7.10 0M761.0 326.0m-3.55 0a3.55 3.55 0 1 0 7.10 0a3.55 3.55 0 1 0 -7.10 0M764.1 325.3m-3.55 0a3.55 3.55 0 1 0 7.10 0a3.55 3.55 0 1 0 -7.10 0M768.5 325.7m-3.55 0a3.55 3.55 0 1 0 7.10 0a3.55 3.55 0 1 0 -7.10 0M771.5 326.3m-3.55 0a3.55 3.55 0 1 0 7.10 0a3.55 3.55 0 1 0 -7.10 0M749.8 329.4m-3.55 0a3.55 3.55 0 1 0 7.10 0a3.55 3.55 0 1 0 -7.10 0M752.9 329.4m-3.55 0a3.55 3.55 0 1 0 7.10 0a3.55 3.55 0 1 0 -7.10 0M756.6 329.4m-3.55 0a3.55 3.55 0 1 0 7.10 0a3.55 3.55 0 1 0 -7.10 0M760.8 328.8m-3.55 0a3.55 3.55 0 1 0 7.10 0a3.55 3.55 0 1 0 -7.10 0M764.6 329.5m-3.55 0a3.55 3.55 0 1 0 7.10 0a3.55 3.55 0 1 0 -7.10 0M768.0 328.6m-3.55 0a3.55 3.55 0 1 0 7.10 0a3.55 3.55 0 1 0 -7.10 0M772.0 328.7m-3.55 0a3.55 3.55 0 1 0 7.10 0a3.55 3.55 0 1 0 -7.10 0M748.9 331.8m-3.55 0a3.55 3.55 0 1 0 7.10 0a3.55 3.55 0 1 0 -7.10 0M752.6 331.8m-3.55 0a3.55 3.55 0 1 0 7.10 0a3.55 3.55 0 1 0 -7.10 0M756.7 332.0m-3.55 0a3.55 3.55 0 1 0 7.10 0a3.55 3.55 0 1 0 -7.10 0M761.0 331.9m-3.55 0a3.55 3.55 0 1 0 7.10 0a3.55 3.55 0 1 0 -7.10 0M764.5 331.8m-3.55 0a3.55 3.55 0 1 0 7.10 0a3.55 3.55 0 1 0 -7.10 0M768.0 331.6m-3.55 0a3.55 3.55 0 1 0 7.10 0a3.55 3.55 0 1 0 -7.10 0M771.7 331.6m-3.55 0a3.55 3.55 0 1 0 7.10 0a3.55 3.55 0 1 0 -7.10 0M749.4 335.5m-3.55 0a3.55 3.55 0 1 0 7.10 0a3.55 3.55 0 1 0 -7.10 0M752.6 335.4m-3.55 0a3.55 3.55 0 1 0 7.10 0a3.55 3.55 0 1 0 -7.10 0M757.3 334.9m-3.55 0a3.55 3.55 0 1 0 7.10 0a3.55 3.55 0 1 0 -7.10 0M761.0 335.3m-3.55 0a3.55 3.55 0 1 0 7.10 0a3.55 3.55 0 1 0 -7.10 0M764.4 335.8m-3.55 0a3.55 3.55 0 1 0 7.10 0a3.55 3.55 0 1 0 -7.10 0M768.1 335.4m-3.55 0a3.55 3.55 0 1 0 7.10 0a3.55 3.55 0 1 0 -7.10 0M772.2 336.0m-3.55 0a3.55 3.55 0 1 0 7.10 0a3.55 3.55 0 1 0 -7.10 0M748.7 339.0m-3.55 0a3.55 3.55 0 1 0 7.10 0a3.55 3.55 0 1 0 -7.10 0M753.0 338.8m-3.55 0a3.55 3.55 0 1 0 7.10 0a3.55 3.55 0 1 0 -7.10 0M756.5 338.4m-3.55 0a3.55 3.55 0 1 0 7.10 0a3.55 3.55 0 1 0 -7.10 0M759.9 338.2m-3.55 0a3.55 3.55 0 1 0 7.10 0a3.55 3.55 0 1 0 -7.10 0M763.8 338.9m-3.55 0a3.55 3.55 0 1 0 7.10 0a3.55 3.55 0 1 0 -7.10 0M767.9 338.2m-3.55 0a3.55 3.55 0 1 0 7.10 0a3.55 3.55 0 1 0 -7.10 0M771.5 339.0m-3.55 0a3.55 3.55 0 1 0 7.10 0a3.55 3.55 0 1 0 -7.10 0M749.1 342.0m-3.55 0a3.55 3.55 0 1 0 7.10 0a3.55 3.55 0 1 0 -7.10 0M752.3 341.5m-3.55 0a3.55 3.55 0 1 0 7.10 0a3.55 3.55 0 1 0 -7.10 0M756.2 341.8m-3.55 0a3.55 3.55 0 1 0 7.10 0a3.55 3.55 0 1 0 -7.10 0M759.9 341.7m-3.55 0a3.55 3.55 0 1 0 7.10 0a3.55 3.55 0 1 0 -7.10 0M763.9 342.4m-3.55 0a3.55 3.55 0 1 0 7.10 0a3.55 3.55 0 1 0 -7.10 0M768.7 341.9m-3.55 0a3.55 3.55 0 1 0 7.10 0a3.55 3.55 0 1 0 -7.10 0M771.7 342.4m-3.55 0a3.55 3.55 0 1 0 7.10 0a3.55 3.55 0 1 0 -7.10 0M748.2 344.8m-3.55 0a3.55 3.55 0 1 0 7.10 0a3.55 3.55 0 1 0 -7.10 0M751.8 344.9m-3.55 0a3.55 3.55 0 1 0 7.10 0a3.55 3.55 0 1 0 -7.10 0M756.3 345.0m-3.55 0a3.55 3.55 0 1 0 7.10 0a3.55 3.55 0 1 0 -7.10 0M759.9 345.0m-3.55 0a3.55 3.55 0 1 0 7.10 0a3.55 3.55 0 1 0 -7.10 0M763.5 344.7m-3.55 0a3.55 3.55 0 1 0 7.10 0a3.55 3.55 0 1 0 -7.10 0M767.6 344.9m-3.55 0a3.55 3.55 0 1 0 7.10 0a3.55 3.55 0 1 0 -7.10 0M771.5 344.4m-3.55 0a3.55 3.55 0 1 0 7.10 0a3.55 3.55 0 1 0 -7.10 0M748.0 347.9m-3.55 0a3.55 3.55 0 1 0 7.10 0a3.55 3.55 0 1 0 -7.10 0M752.3 348.2m-3.55 0a3.55 3.55 0 1 0 7.10 0a3.55 3.55 0 1 0 -7.10 0M756.4 348.4m-3.55 0a3.55 3.55 0 1 0 7.10 0a3.55 3.55 0 1 0 -7.10 0M760.4 348.7m-3.55 0a3.55 3.55 0 1 0 7.10 0a3.55 3.55 0 1 0 -7.10 0M763.9 348.0m-3.55 0a3.55 3.55 0 1 0 7.10 0a3.55 3.55 0 1 0 -7.10 0M768.6 347.8m-3.55 0a3.55 3.55 0 1 0 7.10 0a3.55 3.55 0 1 0 -7.10 0M772.3 348.4m-3.55 0a3.55 3.55 0 1 0 7.10 0a3.55 3.55 0 1 0 -7.10 0M747.4 351.8m-3.55 0a3.55 3.55 0 1 0 7.10 0a3.55 3.55 0 1 0 -7.10 0M751.9 351.6m-3.55 0a3.55 3.55 0 1 0 7.10 0a3.55 3.55 0 1 0 -7.10 0M755.1 351.8m-3.55 0a3.55 3.55 0 1 0 7.10 0a3.55 3.55 0 1 0 -7.10 0M757.8 351.4m-3.55 0a3.55 3.55 0 1 0 7.10 0a3.55 3.55 0 1 0 -7.10 0M761.7 351.8m-3.55 0a3.55 3.55 0 1 0 7.10 0a3.55 3.55 0 1 0 -7.10 0M765.5 351.8m-3.55 0a3.55 3.55 0 1 0 7.10 0a3.55 3.55 0 1 0 -7.10 0M768.7 351.9m-3.55 0a3.55 3.55 0 1 0 7.10 0a3.55 3.55 0 1 0 -7.10 0M772.2 351.6m-3.55 0a3.55 3.55 0 1 0 7.10 0a3.55 3.55 0 1 0 -7.10 0M747.4 354.0m-3.55 0a3.55 3.55 0 1 0 7.10 0a3.55 3.55 0 1 0 -7.10 0M750.7 354.4m-3.55 0a3.55 3.55 0 1 0 7.10 0a3.55 3.55 0 1 0 -7.10 0M754.2 355.0m-3.55 0a3.55 3.55 0 1 0 7.10 0a3.55 3.55 0 1 0 -7.10 0M758.2 354.8m-3.55 0a3.55 3.55 0 1 0 7.10 0a3.55 3.55 0 1 0 -7.10 0M761.7 354.8m-3.55 0a3.55 3.55 0 1 0 7.10 0a3.55 3.55 0 1 0 -7.10 0M765.0 354.0m-3.55 0a3.55 3.55 0 1 0 7.10 0a3.55 3.55 0 1 0 -7.10 0M768.9 354.9m-3.55 0a3.55 3.55 0 1 0 7.10 0a3.55 3.55 0 1 0 -7.10 0M772.0 354.6m-3.55 0a3.55 3.55 0 1 0 7.10 0a3.55 3.55 0 1 0 -7.10 0M747.7 357.3m-3.55 0a3.55 3.55 0 1 0 7.10 0a3.55 3.55 0 1 0 -7.10 0M751.3 357.5m-3.55 0a3.55 3.55 0 1 0 7.10 0a3.55 3.55 0 1 0 -7.10 0M754.0 357.5m-3.55 0a3.55 3.55 0 1 0 7.10 0a3.55 3.55 0 1 0 -7.10 0M758.3 357.4m-3.55 0a3.55 3.55 0 1 0 7.10 0a3.55 3.55 0 1 0 -7.10 0M761.8 358.4m-3.55 0a3.55 3.55 0 1 0 7.10 0a3.55 3.55 0 1 0 -7.10 0M765.0 357.7m-3.55 0a3.55 3.55 0 1 0 7.10 0a3.55 3.55 0 1 0 -7.10 0M768.5 358.0m-3.55 0a3.55 3.55 0 1 0 7.10 0a3.55 3.55 0 1 0 -7.10 0M772.3 357.9m-3.55 0a3.55 3.55 0 1 0 7.10 0a3.55 3.55 0 1 0 -7.10 0M747.4 360.5m-3.55 0a3.55 3.55 0 1 0 7.10 0a3.55 3.55 0 1 0 -7.10 0M750.3 360.7m-3.55 0a3.55 3.55 0 1 0 7.10 0a3.55 3.55 0 1 0 -7.10 0M754.6 360.8m-3.55 0a3.55 3.55 0 1 0 7.10 0a3.55 3.55 0 1 0 -7.10 0M757.9 360.4m-3.55 0a3.55 3.55 0 1 0 7.10 0a3.55 3.55 0 1 0 -7.10 0M760.9 360.7m-3.55 0a3.55 3.55 0 1 0 7.10 0a3.55 3.55 0 1 0 -7.10 0M765.1 361.2m-3.55 0a3.55 3.55 0 1 0 7.10 0a3.55 3.55 0 1 0 -7.10 0M768.7 360.7m-3.55 0a3.55 3.55 0 1 0 7.10 0a3.55 3.55 0 1 0 -7.10 0M772.0 361.0m-3.55 0a3.55 3.55 0 1 0 7.10 0a3.55 3.55 0 1 0 -7.10 0M775.8 302.6m-3.55 0a3.55 3.55 0 1 0 7.10 0a3.55 3.55 0 1 0 -7.10 0M775.0 351.8m-3.55 0a3.55 3.55 0 1 0 7.10 0a3.55 3.55 0 1 0 -7.10 0M789.4 361.5m-3.55 0a3.55 3.55 0 1 0 7.10 0a3.55 3.55 0 1 0 -7.10 0M782.3 251.0m-3.55 0a3.55 3.55 0 1 0 7.10 0a3.55 3.55 0 1 0 -7.10 0M786.5 343.3m-3.55 0a3.55 3.55 0 1 0 7.10 0a3.55 3.55 0 1 0 -7.10 0M781.0 300.7m-3.55 0a3.55 3.55 0 1 0 7.10 0a3.55 3.55 0 1 0 -7.10 0M801.8 273.1m-3.55 0a3.55 3.55 0 1 0 7.10 0a3.55 3.55 0 1 0 -7.10 0M790.3 273.2m-3.55 0a3.55 3.55 0 1 0 7.10 0a3.55 3.55 0 1 0 -7.10 0M787.4 265.3m-3.55 0a3.55 3.55 0 1 0 7.10 0a3.55 3.55 0 1 0 -7.10 0M774.3 358.6m-3.55 0a3.55 3.55 0 1 0 7.10 0a3.55 3.55 0 1 0 -7.10 0M779.6 343.3m-3.55 0a3.55 3.55 0 1 0 7.10 0a3.55 3.55 0 1 0 -7.10 0M782.6 351.0m-3.55 0a3.55 3.55 0 1 0 7.10 0a3.55 3.55 0 1 0 -7.10 0M800.7 275.6m-3.55 0a3.55 3.55 0 1 0 7.10 0a3.55 3.55 0 1 0 -7.10 0M772.8 304.9m-3.55 0a3.55 3.55 0 1 0 7.10 0a3.55 3.55 0 1 0 -7.10 0M782.6 249.4m-3.55 0a3.55 3.55 0 1 0 7.10 0a3.55 3.55 0 1 0 -7.10 0M782.1 265.2m-3.55 0a3.55 3.55 0 1 0 7.10 0a3.55 3.55 0 1 0 -7.10 0M797.7 285.3m-3.55 0a3.55 3.55 0 1 0 7.10 0a3.55 3.55 0 1 0 -7.10 0M788.0 249.2m-3.55 0a3.55 3.55 0 1 0 7.10 0a3.55 3.55 0 1 0 -7.10 0M773.8 345.5m-3.55 0a3.55 3.55 0 1 0 7.10 0a3.55 3.55 0 1 0 -7.10 0M782.9 355.5m-3.55 0a3.55 3.55 0 1 0 7.10 0a3.55 3.55 0 1 0 -7.10 0M776.3 352.7m-3.55 0a3.55 3.55 0 1 0 7.10 0a3.55 3.55 0 1 0 -7.10 0M784.1 291.8m-3.55 0a3.55 3.55 0 1 0 7.10 0a3.55 3.55 0 1 0 -7.10 0M783.7 363.9m-3.55 0a3.55 3.55 0 1 0 7.10 0a3.55 3.55 0 1 0 -7.10 0M784.9 290.5m-3.55 0a3.55 3.55 0 1 0 7.10 0a3.55 3.55 0 1 0 -7.10 0M773.5 280.6m-3.55 0a3.55 3.55 0 1 0 7.10 0a3.55 3.55 0 1 0 -7.10 0M795.5 260.7m-3.55 0a3.55 3.55 0 1 0 7.10 0a3.55 3.55 0 1 0 -7.10 0M801.1 281.8m-3.55 0a3.55 3.55 0 1 0 7.10 0a3.55 3.55 0 1 0 -7.10 0M780.4 277.7m-3.55 0a3.55 3.55 0 1 0 7.10 0a3.55 3.55 0 1 0 -7.10 0M777.6 307.8m-3.55 0a3.55 3.55 0 1 0 7.10 0a3.55 3.55 0 1 0 -7.10 0M801.4 291.9m-3.55 0a3.55 3.55 0 1 0 7.10 0a3.55 3.55 0 1 0 -7.10 0M784.2 350.7m-3.55 0a3.55 3.55 0 1 0 7.10 0a3.55 3.55 0 1 0 -7.10 0M789.9 321.6m-3.55 0a3.55 3.55 0 1 0 7.10 0a3.55 3.55 0 1 0 -7.10 0M780.9 357.2m-3.55 0a3.55 3.55 0 1 0 7.10 0a3.55 3.55 0 1 0 -7.10 0M772.8 331.8m-3.55 0a3.55 3.55 0 1 0 7.10 0a3.55 3.55 0 1 0 -7.10 0M779.4 333.2m-3.55 0a3.55 3.55 0 1 0 7.10 0a3.55 3.55 0 1 0 -7.10 0M782.1 335.6m-3.55 0a3.55 3.55 0 1 0 7.10 0a3.55 3.55 0 1 0 -7.10 0M773.5 281.9m-3.55 0a3.55 3.55 0 1 0 7.10 0a3.55 3.55 0 1 0 -7.10 0M774.0 355.6m-3.55 0a3.55 3.55 0 1 0 7.10 0a3.55 3.55 0 1 0 -7.10 0M794.8 283.2m-3.55 0a3.55 3.55 0 1 0 7.10 0a3.55 3.55 0 1 0 -7.10 0M776.8 361.3m-3.55 0a3.55 3.55 0 1 0 7.10 0a3.55 3.55 0 1 0 -7.10 0M777.6 324.4m-3.55 0a3.55 3.55 0 1 0 7.10 0a3.55 3.55 0 1 0 -7.10 0M782.1 313.1m-3.55 0a3.55 3.55 0 1 0 7.10 0a3.55 3.55 0 1 0 -7.10 0M776.9 268.2m-3.55 0a3.55 3.55 0 1 0 7.10 0a3.55 3.55 0 1 0 -7.10 0M800.5 272.9m-3.55 0a3.55 3.55 0 1 0 7.10 0a3.55 3.55 0 1 0 -7.10 0M778.7 306.2m-3.55 0a3.55 3.55 0 1 0 7.10 0a3.55 3.55 0 1 0 -7.10 0M786.9 353.2m-3.55 0a3.55 3.55 0 1 0 7.10 0a3.55 3.55 0 1 0 -7.10 0M776.7 300.7m-3.55 0a3.55 3.55 0 1 0 7.10 0a3.55 3.55 0 1 0 -7.10 0M774.8 271.1m-3.55 0a3.55 3.55 0 1 0 7.10 0a3.55 3.55 0 1 0 -7.10 0M774.8 288.3m-3.55 0a3.55 3.55 0 1 0 7.10 0a3.55 3.55 0 1 0 -7.10 0M780.2 276.5m-3.55 0a3.55 3.55 0 1 0 7.10 0a3.55 3.55 0 1 0 -7.10 0M793.6 314.5m-3.55 0a3.55 3.55 0 1 0 7.10 0a3.55 3.55 0 1 0 -7.10 0M778.5 335.2m-3.55 0a3.55 3.55 0 1 0 7.10 0a3.55 3.55 0 1 0 -7.10 0M789.1 296.6m-3.55 0a3.55 3.55 0 1 0 7.10 0a3.55 3.55 0 1 0 -7.10 0M782.5 292.3m-3.55 0a3.55 3.55 0 1 0 7.10 0a3.55 3.55 0 1 0 -7.10 0M779.1 256.1m-3.55 0a3.55 3.55 0 1 0 7.10 0a3.55 3.55 0 1 0 -7.10 0M774.3 360.3m-3.55 0a3.55 3.55 0 1 0 7.10 0a3.55 3.55 0 1 0 -7.10 0M790.8 306.9m-3.55 0a3.55 3.55 0 1 0 7.10 0a3.55 3.55 0 1 0 -7.10 0M775.2 348.2m-3.55 0a3.55 3.55 0 1 0 7.10 0a3.55 3.55 0 1 0 -7.10 0M779.8 280.2m-3.55 0a3.55 3.55 0 1 0 7.10 0a3.55 3.55 0 1 0 -7.10 0M786.3 295.0m-3.55 0a3.55 3.55 0 1 0 7.10 0a3.55 3.55 0 1 0 -7.10 0M786.5 358.7m-3.55 0a3.55 3.55 0 1 0 7.10 0a3.55 3.55 0 1 0 -7.10 0M772.3 349.4m-3.55 0a3.55 3.55 0 1 0 7.10 0a3.55 3.55 0 1 0 -7.10 0M788.7 252.7m-3.55 0a3.55 3.55 0 1 0 7.10 0a3.55 3.55 0 1 0 -7.10 0M779.1 352.0m-3.55 0a3.55 3.55 0 1 0 7.10 0a3.55 3.55 0 1 0 -7.10 0M772.0 316.5m-3.55 0a3.55 3.55 0 1 0 7.10 0a3.55 3.55 0 1 0 -7.10 0M801.3 294.0m-3.55 0a3.55 3.55 0 1 0 7.10 0a3.55 3.55 0 1 0 -7.10 0M784.8 343.9m-3.55 0a3.55 3.55 0 1 0 7.10 0a3.55 3.55 0 1 0 -7.10 0M776.5 360.8m-3.55 0a3.55 3.55 0 1 0 7.10 0a3.55 3.55 0 1 0 -7.10 0M776.4 261.5m-3.55 0a3.55 3.55 0 1 0 7.10 0a3.55 3.55 0 1 0 -7.10 0M791.5 309.1m-3.55 0a3.55 3.55 0 1 0 7.10 0a3.55 3.55 0 1 0 -7.10 0M783.7 357.3m-3.55 0a3.55 3.55 0 1 0 7.10 0a3.55 3.55 0 1 0 -7.10 0M786.6 323.4m-3.55 0a3.55 3.55 0 1 0 7.10 0a3.55 3.55 0 1 0 -7.10 0M790.2 301.6m-3.55 0a3.55 3.55 0 1 0 7.10 0a3.55 3.55 0 1 0 -7.10 0M790.8 253.5m-3.55 0a3.55 3.55 0 1 0 7.10 0a3.55 3.55 0 1 0 -7.10 0M801.3 275.7m-3.55 0a3.55 3.55 0 1 0 7.10 0a3.55 3.55 0 1 0 -7.10 0M777.8 323.2m-3.55 0a3.55 3.55 0 1 0 7.10 0a3.55 3.55 0 1 0 -7.10 0M779.3 263.7m-3.55 0a3.55 3.55 0 1 0 7.10 0a3.55 3.55 0 1 0 -7.10 0M785.5 322.2m-3.55 0a3.55 3.55 0 1 0 7.10 0a3.55 3.55 0 1 0 -7.10 0M774.0 261.9m-3.55 0a3.55 3.55 0 1 0 7.10 0a3.55 3.55 0 1 0 -7.10 0M779.0 293.6m-3.55 0a3.55 3.55 0 1 0 7.10 0a3.55 3.55 0 1 0 -7.10 0M772.2 318.1m-3.55 0a3.55 3.55 0 1 0 7.10 0a3.55 3.55 0 1 0 -7.10 0M786.2 283.7m-3.55 0a3.55 3.55 0 1 0 7.10 0a3.55 3.55 0 1 0 -7.10 0M783.2 359.3m-3.55 0a3.55 3.55 0 1 0 7.10 0a3.55 3.55 0 1 0 -7.10 0M779.1 350.6m-3.55 0a3.55 3.55 0 1 0 7.10 0a3.55 3.55 0 1 0 -7.10 0M779.9 276.0m-3.55 0a3.55 3.55 0 1 0 7.10 0a3.55 3.55 0 1 0 -7.10 0M784.3 359.5m-3.55 0a3.55 3.55 0 1 0 7.10 0a3.55 3.55 0 1 0 -7.10 0M772.7 284.4m-3.55 0a3.55 3.55 0 1 0 7.10 0a3.55 3.55 0 1 0 -7.10 0M792.4 306.3m-3.55 0a3.55 3.55 0 1 0 7.10 0a3.55 3.55 0 1 0 -7.10 0M780.5 297.3m-3.55 0a3.55 3.55 0 1 0 7.10 0a3.55 3.55 0 1 0 -7.10 0M789.0 325.7m-3.55 0a3.55 3.55 0 1 0 7.10 0a3.55 3.55 0 1 0 -7.10 0M773.1 275.1m-3.55 0a3.55 3.55 0 1 0 7.10 0a3.55 3.55 0 1 0 -7.10 0M784.7 287.9m-3.55 0a3.55 3.55 0 1 0 7.10 0a3.55 3.55 0 1 0 -7.10 0M775.5 327.5m-3.55 0a3.55 3.55 0 1 0 7.10 0a3.55 3.55 0 1 0 -7.10 0M783.1 340.7m-3.55 0a3.55 3.55 0 1 0 7.10 0a3.55 3.55 0 1 0 -7.10 0M778.1 307.1m-3.55 0a3.55 3.55 0 1 0 7.10 0a3.55 3.55 0 1 0 -7.10 0M777.6 360.5m-3.55 0a3.55 3.55 0 1 0 7.10 0a3.55 3.55 0 1 0 -7.10 0M775.5 343.3m-3.55 0a3.55 3.55 0 1 0 7.10 0a3.55 3.55 0 1 0 -7.10 0M796.2 274.5m-3.55 0a3.55 3.55 0 1 0 7.10 0a3.55 3.55 0 1 0 -7.10 0M801.5 282.9m-3.55 0a3.55 3.55 0 1 0 7.10 0a3.55 3.55 0 1 0 -7.10 0M777.7 306.0m-3.55 0a3.55 3.55 0 1 0 7.10 0a3.55 3.55 0 1 0 -7.10 0M785.3 274.7m-3.55 0a3.55 3.55 0 1 0 7.10 0a3.55 3.55 0 1 0 -7.10 0M789.5 325.5m-3.55 0a3.55 3.55 0 1 0 7.10 0a3.55 3.55 0 1 0 -7.10 0M783.6 265.8m-3.55 0a3.55 3.55 0 1 0 7.10 0a3.55 3.55 0 1 0 -7.10 0M802.8 273.5m-3.55 0a3.55 3.55 0 1 0 7.10 0a3.55 3.55 0 1 0 -7.10 0M773.5 265.3m-3.55 0a3.55 3.55 0 1 0 7.10 0a3.55 3.55 0 1 0 -7.10 0M782.0 255.9m-3.55 0a3.55 3.55 0 1 0 7.10 0a3.55 3.55 0 1 0 -7.10 0M785.3 352.3m-3.55 0a3.55 3.55 0 1 0 7.10 0a3.55 3.55 0 1 0 -7.10 0M788.3 333.3m-3.55 0a3.55 3.55 0 1 0 7.10 0a3.55 3.55 0 1 0 -7.10 0M777.1 356.1m-3.55 0a3.55 3.55 0 1 0 7.10 0a3.55 3.55 0 1 0 -7.10 0M800.8 270.3m-3.55 0a3.55 3.55 0 1 0 7.10 0a3.55 3.55 0 1 0 -7.10 0M772.5 334.8m-3.55 0a3.55 3.55 0 1 0 7.10 0a3.55 3.55 0 1 0 -7.10 0M779.0 325.4m-3.55 0a3.55 3.55 0 1 0 7.10 0a3.55 3.55 0 1 0 -7.10 0M782.2 292.0m-3.55 0a3.55 3.55 0 1 0 7.10 0a3.55 3.55 0 1 0 -7.10 0M772.1 268.5m-3.55 0a3.55 3.55 0 1 0 7.10 0a3.55 3.55 0 1 0 -7.10 0M783.0 281.2m-3.55 0a3.55 3.55 0 1 0 7.10 0a3.55 3.55 0 1 0 -7.10 0M774.1 358.9m-3.55 0a3.55 3.55 0 1 0 7.10 0a3.55 3.55 0 1 0 -7.10 0M775.7 359.9m-3.55 0a3.55 3.55 0 1 0 7.10 0a3.55 3.55 0 1 0 -7.10 0M796.7 290.0m-3.55 0a3.55 3.55 0 1 0 7.10 0a3.55 3.55 0 1 0 -7.10 0M778.5 343.5m-3.55 0a3.55 3.55 0 1 0 7.10 0a3.55 3.55 0 1 0 -7.10 0M783.7 254.7m-3.55 0a3.55 3.55 0 1 0 7.10 0a3.55 3.55 0 1 0 -7.10 0M800.3 291.9m-3.55 0a3.55 3.55 0 1 0 7.10 0a3.55 3.55 0 1 0 -7.10 0M783.3 271.2m-3.55 0a3.55 3.55 0 1 0 7.10 0a3.55 3.55 0 1 0 -7.10 0M772.5 352.2m-3.55 0a3.55 3.55 0 1 0 7.10 0a3.55 3.55 0 1 0 -7.10 0M798.4 296.2m-3.55 0a3.55 3.55 0 1 0 7.10 0a3.55 3.55 0 1 0 -7.10 0M772.6 337.2m-3.55 0a3.55 3.55 0 1 0 7.10 0a3.55 3.55 0 1 0 -7.10 0M773.5 253.0m-3.55 0a3.55 3.55 0 1 0 7.10 0a3.55 3.55 0 1 0 -7.10 0M775.9 354.8m-3.55 0a3.55 3.55 0 1 0 7.10 0a3.55 3.55 0 1 0 -7.10 0M786.2 334.9m-3.55 0a3.55 3.55 0 1 0 7.10 0a3.55 3.55 0 1 0 -7.10 0M780.2 288.0m-3.55 0a3.55 3.55 0 1 0 7.10 0a3.55 3.55 0 1 0 -7.10 0M782.7 359.1m-3.55 0a3.55 3.55 0 1 0 7.10 0a3.55 3.55 0 1 0 -7.10 0M794.5 279.1m-3.55 0a3.55 3.55 0 1 0 7.10 0a3.55 3.55 0 1 0 -7.10 0M780.4 285.4m-3.55 0a3.55 3.55 0 1 0 7.10 0a3.55 3.55 0 1 0 -7.10 0M788.2 249.4m-3.55 0a3.55 3.55 0 1 0 7.10 0a3.55 3.55 0 1 0 -7.10 0M781.5 354.4m-3.55 0a3.55 3.55 0 1 0 7.10 0a3.55 3.55 0 1 0 -7.10 0M772.4 357.5m-3.55 0a3.55 3.55 0 1 0 7.10 0a3.55 3.55 0 1 0 -7.10 0M787.1 275.9m-3.55 0a3.55 3.55 0 1 0 7.10 0a3.55 3.55 0 1 0 -7.10 0M788.4 359.0m-3.55 0a3.55 3.55 0 1 0 7.10 0a3.55 3.55 0 1 0 -7.10 0M724.9 283.0m-3.55 0a3.55 3.55 0 1 0 7.10 0a3.55 3.55 0 1 0 -7.10 0M717.4 300.5m-3.55 0a3.55 3.55 0 1 0 7.10 0a3.55 3.55 0 1 0 -7.10 0M730.9 296.1m-3.55 0a3.55 3.55 0 1 0 7.10 0a3.55 3.55 0 1 0 -7.10 0M731.7 296.8m-3.55 0a3.55 3.55 0 1 0 7.10 0a3.55 3.55 0 1 0 -7.10 0M720.9 289.3m-3.55 0a3.55 3.55 0 1 0 7.10 0a3.55 3.55 0 1 0 -7.10 0M714.9 295.4m-3.55 0a3.55 3.55 0 1 0 7.10 0a3.55 3.55 0 1 0 -7.10 0M731.2 274.9m-3.55 0a3.55 3.55 0 1 0 7.10 0a3.55 3.55 0 1 0 -7.10 0M714.6 276.7m-3.55 0a3.55 3.55 0 1 0 7.10 0a3.55 3.55 0 1 0 -7.10 0M726.4 269.2m-3.55 0a3.55 3.55 0 1 0 7.10 0a3.55 3.55 0 1 0 -7.10 0M736.7 279.4m-3.55 0a3.55 3.55 0 1 0 7.10 0a3.55 3.55 0 1 0 -7.10 0M736.9 298.9m-3.55 0a3.55 3.55 0 1 0 7.10 0a3.55 3.55 0 1 0 -7.10 0M715.0 277.3m-3.55 0a3.55 3.55 0 1 0 7.10 0a3.55 3.55 0 1 0 -7.10 0M725.1 271.4m-3.55 0a3.55 3.55 0 1 0 7.10 0a3.55 3.55 0 1 0 -7.10 0M723.8 292.8m-3.55 0a3.55 3.55 0 1 0 7.10 0a3.55 3.55 0 1 0 -7.10 0M723.1 276.2m-3.55 0a3.55 3.55 0 1 0 7.10 0a3.55 3.55 0 1 0 -7.10 0M729.3 289.7m-3.55 0a3.55 3.55 0 1 0 7.10 0a3.55 3.55 0 1 0 -7.10 0M733.5 294.2m-3.55 0a3.55 3.55 0 1 0 7.10 0a3.55 3.55 0 1 0 -7.10 0M715.9 291.3m-3.55 0a3.55 3.55 0 1 0 7.10 0a3.55 3.55 0 1 0 -7.10 0M720.1 297.4m-3.55 0a3.55 3.55 0 1 0 7.10 0a3.55 3.55 0 1 0 -7.10 0M722.0 287.8m-3.55 0a3.55 3.55 0 1 0 7.10 0a3.55 3.55 0 1 0 -7.10 0M717.8 293.8m-3.55 0a3.55 3.55 0 1 0 7.10 0a3.55 3.55 0 1 0 -7.10 0M718.9 276.7m-3.55 0a3.55 3.55 0 1 0 7.10 0a3.55 3.55 0 1 0 -7.10 0M734.4 273.4m-3.55 0a3.55 3.55 0 1 0 7.10 0a3.55 3.55 0 1 0 -7.10 0M720.9 288.2m-3.55 0a3.55 3.55 0 1 0 7.10 0a3.55 3.55 0 1 0 -7.10 0M737.0 281.9m-3.55 0a3.55 3.55 0 1 0 7.10 0a3.55 3.55 0 1 0 -7.10 0M718.6 285.8m-3.55 0a3.55 3.55 0 1 0 7.10 0a3.55 3.55 0 1 0 -7.10 0M728.8 296.3m-3.55 0a3.55 3.55 0 1 0 7.10 0a3.55 3.55 0 1 0 -7.10 0M715.5 302.7m-3.55 0a3.55 3.55 0 1 0 7.10 0a3.55 3.55 0 1 0 -7.10 0M732.8 284.6m-3.55 0a3.55 3.55 0 1 0 7.10 0a3.55 3.55 0 1 0 -7.10 0M735.1 297.4m-3.55 0a3.55 3.55 0 1 0 7.10 0a3.55 3.55 0 1 0 -7.10 0M720.1 269.4m-3.55 0a3.55 3.55 0 1 0 7.10 0a3.55 3.55 0 1 0 -7.10 0M717.6 272.2m-3.55 0a3.55 3.55 0 1 0 7.10 0a3.55 3.55 0 1 0 -7.10 0M727.1 302.1m-3.55 0a3.55 3.55 0 1 0 7.10 0a3.55 3.55 0 1 0 -7.10 0M722.0 300.6m-3.55 0a3.55 3.55 0 1 0 7.10 0a3.55 3.55 0 1 0 -7.10 0M723.9 298.3m-3.55 0a3.55 3.55 0 1 0 7.10 0a3.55 3.55 0 1 0 -7.10 0M731.8 277.1m-3.55 0a3.55 3.55 0 1 0 7.10 0a3.55 3.55 0 1 0 -7.10 0M715.6 301.1m-3.55 0a3.55 3.55 0 1 0 7.10 0a3.55 3.55 0 1 0 -7.10 0M728.0 288.9m-3.55 0a3.55 3.55 0 1 0 7.10 0a3.55 3.55 0 1 0 -7.10 0M721.9 275.6m-3.55 0a3.55 3.55 0 1 0 7.10 0a3.55 3.55 0 1 0 -7.10 0M717.9 272.9m-3.55 0a3.55 3.55 0 1 0 7.10 0a3.55 3.55 0 1 0 -7.10 0M727.5 276.9m-3.55 0a3.55 3.55 0 1 0 7.10 0a3.55 3.55 0 1 0 -7.10 0M717.9 290.8m-3.55 0a3.55 3.55 0 1 0 7.10 0a3.55 3.55 0 1 0 -7.10 0M720.9 268.4m-3.55 0a3.55 3.55 0 1 0 7.10 0a3.55 3.55 0 1 0 -7.10 0M717.5 291.7m-3.55 0a3.55 3.55 0 1 0 7.10 0a3.55 3.55 0 1 0 -7.10 0M717.9 278.9m-3.55 0a3.55 3.55 0 1 0 7.10 0a3.55 3.55 0 1 0 -7.10 0M726.3 295.8m-3.55 0a3.55 3.55 0 1 0 7.10 0a3.55 3.55 0 1 0 -7.10 0M715.5 270.2m-3.55 0a3.55 3.55 0 1 0 7.10 0a3.55 3.55 0 1 0 -7.10 0M726.3 281.8m-3.55 0a3.55 3.55 0 1 0 7.10 0a3.55 3.55 0 1 0 -7.10 0M715.2 290.4m-3.55 0a3.55 3.55 0 1 0 7.10 0a3.55 3.55 0 1 0 -7.10 0M729.8 273.7m-3.55 0a3.55 3.55 0 1 0 7.10 0a3.55 3.55 0 1 0 -7.10 0M736.1 278.8m-3.55 0a3.55 3.55 0 1 0 7.10 0a3.55 3.55 0 1 0 -7.10 0M726.7 278.9m-3.55 0a3.55 3.55 0 1 0 7.10 0a3.55 3.55 0 1 0 -7.10 0M723.1 280.5m-3.55 0a3.55 3.55 0 1 0 7.10 0a3.55 3.55 0 1 0 -7.10 0M737.1 298.2m-3.55 0a3.55 3.55 0 1 0 7.10 0a3.55 3.55 0 1 0 -7.10 0M717.8 280.7m-3.55 0a3.55 3.55 0 1 0 7.10 0a3.55 3.55 0 1 0 -7.10 0M717.9 293.5m-3.55 0a3.55 3.55 0 1 0 7.10 0a3.55 3.55 0 1 0 -7.10 0M734.8 268.2m-3.55 0a3.55 3.55 0 1 0 7.10 0a3.55 3.55 0 1 0 -7.10 0M709.9 303.4m-3.55 0a3.55 3.55 0 1 0 7.10 0a3.55 3.55 0 1 0 -7.10 0M713.8 303.5m-3.55 0a3.55 3.55 0 1 0 7.10 0a3.55 3.55 0 1 0 -7.10 0M717.7 302.6m-3.55 0a3.55 3.55 0 1 0 7.10 0a3.55 3.55 0 1 0 -7.10 0M721.1 303.1m-3.55 0a3.55 3.55 0 1 0 7.10 0a3.55 3.55 0 1 0 -7.10 0M725.7 303.5m-3.55 0a3.55 3.55 0 1 0 7.10 0a3.55 3.55 0 1 0 -7.10 0M728.9 303.1m-3.55 0a3.55 3.55 0 1 0 7.10 0a3.55 3.55 0 1 0 -7.10 0M733.2 303.0m-3.55 0a3.55 3.55 0 1 0 7.10 0a3.55 3.55 0 1 0 -7.10 0M736.8 302.7m-3.55 0a3.55 3.55 0 1 0 7.10 0a3.55 3.55 0 1 0 -7.10 0M710.0 306.7m-3.55 0a3.55 3.55 0 1 0 7.10 0a3.55 3.55 0 1 0 -7.10 0M713.4 306.2m-3.55 0a3.55 3.55 0 1 0 7.10 0a3.55 3.55 0 1 0 -7.10 0M718.1 306.8m-3.55 0a3.55 3.55 0 1 0 7.10 0a3.55 3.55 0 1 0 -7.10 0M721.3 305.8m-3.55 0a3.55 3.55 0 1 0 7.10 0a3.55 3.55 0 1 0 -7.10 0M726.1 306.8m-3.55 0a3.55 3.55 0 1 0 7.10 0a3.55 3.55 0 1 0 -7.10 0M729.4 305.7m-3.55 0a3.55 3.55 0 1 0 7.10 0a3.55 3.55 0 1 0 -7.10 0M733.8 306.1m-3.55 0a3.55 3.55 0 1 0 7.10 0a3.55 3.55 0 1 0 -7.10 0M737.7 306.3m-3.55 0a3.55 3.55 0 1 0 7.10 0a3.55 3.55 0 1 0 -7.10 0M710.4 309.0m-3.55 0a3.55 3.55 0 1 0 7.10 0a3.55 3.55 0 1 0 -7.10 0M714.2 309.1m-3.55 0a3.55 3.55 0 1 0 7.10 0a3.55 3.55 0 1 0 -7.10 0M717.7 309.8m-3.55 0a3.55 3.55 0 1 0 7.10 0a3.55 3.55 0 1 0 -7.10 0M722.1 309.0m-3.55 0a3.55 3.55 0 1 0 7.10 0a3.55 3.55 0 1 0 -7.10 0M725.2 309.3m-3.55 0a3.55 3.55 0 1 0 7.10 0a3.55 3.55 0 1 0 -7.10 0M729.5 309.3m-3.55 0a3.55 3.55 0 1 0 7.10 0a3.55 3.55 0 1 0 -7.10 0M732.9 309.1m-3.55 0a3.55 3.55 0 1 0 7.10 0a3.55 3.55 0 1 0 -7.10 0M737.5 309.9m-3.55 0a3.55 3.55 0 1 0 7.10 0a3.55 3.55 0 1 0 -7.10 0M709.4 312.7m-3.55 0a3.55 3.55 0 1 0 7.10 0a3.55 3.55 0 1 0 -7.10 0M714.2 312.0m-3.55 0a3.55 3.55 0 1 0 7.10 0a3.55 3.55 0 1 0 -7.10 0M718.2 312.1m-3.55 0a3.55 3.55 0 1 0 7.10 0a3.55 3.55 0 1 0 -7.10 0M721.8 312.7m-3.55 0a3.55 3.55 0 1 0 7.10 0a3.55 3.55 0 1 0 -7.10 0M725.7 312.4m-3.55 0a3.55 3.55 0 1 0 7.10 0a3.55 3.55 0 1 0 -7.10 0M729.3 312.7m-3.55 0a3.55 3.55 0 1 0 7.10 0a3.55 3.55 0 1 0 -7.10 0M733.2 312.8m-3.55 0a3.55 3.55 0 1 0 7.10 0a3.55 3.55 0 1 0 -7.10 0M737.1 312.5m-3.55 0a3.55 3.55 0 1 0 7.10 0a3.55 3.55 0 1 0 -7.10 0M709.4 315.9m-3.55 0a3.55 3.55 0 1 0 7.10 0a3.55 3.55 0 1 0 -7.10 0M713.9 315.5m-3.55 0a3.55 3.55 0 1 0 7.10 0a3.55 3.55 0 1 0 -7.10 0M718.1 316.1m-3.55 0a3.55 3.55 0 1 0 7.10 0a3.55 3.55 0 1 0 -7.10 0M721.6 315.4m-3.55 0a3.55 3.55 0 1 0 7.10 0a3.55 3.55 0 1 0 -7.10 0M725.5 315.3m-3.55 0a3.55 3.55 0 1 0 7.10 0a3.55 3.55 0 1 0 -7.10 0M729.0 315.7m-3.55 0a3.55 3.55 0 1 0 7.10 0a3.55 3.55 0 1 0 -7.10 0M732.8 315.7m-3.55 0a3.55 3.55 0 1 0 7.10 0a3.55 3.55 0 1 0 -7.10 0M737.2 315.2m-3.55 0a3.55 3.55 0 1 0 7.10 0a3.55 3.55 0 1 0 -7.10 0M710.2 318.5m-3.55 0a3.55 3.55 0 1 0 7.10 0a3.55 3.55 0 1 0 -7.10 0M714.2 319.3m-3.55 0a3.55 3.55 0 1 0 7.10 0a3.55 3.55 0 1 0 -7.10 0M717.8 318.5m-3.55 0a3.55 3.55 0 1 0 7.10 0a3.55 3.55 0 1 0 -7.10 0M721.7 318.9m-3.55 0a3.55 3.55 0 1 0 7.10 0a3.55 3.55 0 1 0 -7.10 0M726.1 318.6m-3.55 0a3.55 3.55 0 1 0 7.10 0a3.55 3.55 0 1 0 -7.10 0M729.9 319.6m-3.55 0a3.55 3.55 0 1 0 7.10 0a3.55 3.55 0 1 0 -7.10 0M733.6 319.4m-3.55 0a3.55 3.55 0 1 0 7.10 0a3.55 3.55 0 1 0 -7.10 0M736.8 319.6m-3.55 0a3.55 3.55 0 1 0 7.10 0a3.55 3.55 0 1 0 -7.10 0M710.0 322.7m-3.55 0a3.55 3.55 0 1 0 7.10 0a3.55 3.55 0 1 0 -7.10 0M714.4 321.8m-3.55 0a3.55 3.55 0 1 0 7.10 0a3.55 3.55 0 1 0 -7.10 0M718.2 322.7m-3.55 0a3.55 3.55 0 1 0 7.10 0a3.55 3.55 0 1 0 -7.10 0M721.2 322.0m-3.55 0a3.55 3.55 0 1 0 7.10 0a3.55 3.55 0 1 0 -7.10 0M725.9 321.8m-3.55 0a3.55 3.55 0 1 0 7.10 0a3.55 3.55 0 1 0 -7.10 0M730.0 321.9m-3.55 0a3.55 3.55 0 1 0 7.10 0a3.55 3.55 0 1 0 -7.10 0M733.8 321.8m-3.55 0a3.55 3.55 0 1 0 7.10 0a3.55 3.55 0 1 0 -7.10 0M737.3 322.7m-3.55 0a3.55 3.55 0 1 0 7.10 0a3.55 3.55 0 1 0 -7.10 0M709.6 325.1m-3.55 0a3.55 3.55 0 1 0 7.10 0a3.55 3.55 0 1 0 -7.10 0M713.9 325.2m-3.55 0a3.55 3.55 0 1 0 7.10 0a3.55 3.55 0 1 0 -7.10 0M717.3 325.0m-3.55 0a3.55 3.55 0 1 0 7.10 0a3.55 3.55 0 1 0 -7.10 0M721.4 325.9m-3.55 0a3.55 3.55 0 1 0 7.10 0a3.55 3.55 0 1 0 -7.10 0M726.0 325.9m-3.55 0a3.55 3.55 0 1 0 7.10 0a3.55 3.55 0 1 0 -7.10 0M729.3 325.7m-3.55 0a3.55 3.55 0 1 0 7.10 0a3.55 3.55 0 1 0 -7.10 0M733.1 325.4m-3.55 0a3.55 3.55 0 1 0 7.10 0a3.55 3.55 0 1 0 -7.10 0M737.7 325.2m-3.55 0a3.55 3.55 0 1 0 7.10 0a3.55 3.55 0 1 0 -7.10 0M710.4 328.7m-3.55 0a3.55 3.55 0 1 0 7.10 0a3.55 3.55 0 1 0 -7.10 0M714.1 329.1m-3.55 0a3.55 3.55 0 1 0 7.10 0a3.55 3.55 0 1 0 -7.10 0M717.5 329.2m-3.55 0a3.55 3.55 0 1 0 7.10 0a3.55 3.55 0 1 0 -7.10 0M722.0 328.5m-3.55 0a3.55 3.55 0 1 0 7.10 0a3.55 3.55 0 1 0 -7.10 0M726.2 328.3m-3.55 0a3.55 3.55 0 1 0 7.10 0a3.55 3.55 0 1 0 -7.10 0M730.4 328.7m-3.55 0a3.55 3.55 0 1 0 7.10 0a3.55 3.55 0 1 0 -7.10 0M733.6 328.9m-3.55 0a3.55 3.55 0 1 0 7.10 0a3.55 3.55 0 1 0 -7.10 0M737.7 328.2m-3.55 0a3.55 3.55 0 1 0 7.10 0a3.55 3.55 0 1 0 -7.10 0M710.3 331.3m-3.55 0a3.55 3.55 0 1 0 7.10 0a3.55 3.55 0 1 0 -7.10 0M714.4 331.5m-3.55 0a3.55 3.55 0 1 0 7.10 0a3.55 3.55 0 1 0 -7.10 0M718.2 332.4m-3.55 0a3.55 3.55 0 1 0 7.10 0a3.55 3.55 0 1 0 -7.10 0M722.1 332.0m-3.55 0a3.55 3.55 0 1 0 7.10 0a3.55 3.55 0 1 0 -7.10 0M725.7 331.2m-3.55 0a3.55 3.55 0 1 0 7.10 0a3.55 3.55 0 1 0 -7.10 0M729.4 331.4m-3.55 0a3.55 3.55 0 1 0 7.10 0a3.55 3.55 0 1 0 -7.10 0M734.1 331.7m-3.55 0a3.55 3.55 0 1 0 7.10 0a3.55 3.55 0 1 0 -7.10 0M738.0 332.3m-3.55 0a3.55 3.55 0 1 0 7.10 0a3.55 3.55 0 1 0 -7.10 0M709.6 334.7m-3.55 0a3.55 3.55 0 1 0 7.10 0a3.55 3.55 0 1 0 -7.10 0M713.7 334.4m-3.55 0a3.55 3.55 0 1 0 7.10 0a3.55 3.55 0 1 0 -7.10 0M716.4 334.8m-3.55 0a3.55 3.55 0 1 0 7.10 0a3.55 3.55 0 1 0 -7.10 0M720.1 334.8m-3.55 0a3.55 3.55 0 1 0 7.10 0a3.55 3.55 0 1 0 -7.10 0M723.7 335.1m-3.55 0a3.55 3.55 0 1 0 7.10 0a3.55 3.55 0 1 0 -7.10 0M727.7 334.6m-3.55 0a3.55 3.55 0 1 0 7.10 0a3.55 3.55 0 1 0 -7.10 0M731.3 335.0m-3.55 0a3.55 3.55 0 1 0 7.10 0a3.55 3.55 0 1 0 -7.10 0M734.2 335.5m-3.55 0a3.55 3.55 0 1 0 7.10 0a3.55 3.55 0 1 0 -7.10 0M737.8 334.6m-3.55 0a3.55 3.55 0 1 0 7.10 0a3.55 3.55 0 1 0 -7.10 0M709.5 338.4m-3.55 0a3.55 3.55 0 1 0 7.10 0a3.55 3.55 0 1 0 -7.10 0M714.0 338.5m-3.55 0a3.55 3.55 0 1 0 7.10 0a3.55 3.55 0 1 0 -7.10 0M717.0 337.9m-3.55 0a3.55 3.55 0 1 0 7.10 0a3.55 3.55 0 1 0 -7.10 0M720.0 338.4m-3.55 0a3.55 3.55 0 1 0 7.10 0a3.55 3.55 0 1 0 -7.10 0M724.3 338.0m-3.55 0a3.55 3.55 0 1 0 7.10 0a3.55 3.55 0 1 0 -7.10 0M727.9 338.1m-3.55 0a3.55 3.55 0 1 0 7.10 0a3.55 3.55 0 1 0 -7.10 0M731.8 338.5m-3.55 0a3.55 3.55 0 1 0 7.10 0a3.55 3.55 0 1 0 -7.10 0M734.5 338.7m-3.55 0a3.55 3.55 0 1 0 7.10 0a3.55 3.55 0 1 0 -7.10 0M737.8 338.2m-3.55 0a3.55 3.55 0 1 0 7.10 0a3.55 3.55 0 1 0 -7.10 0M709.9 341.1m-3.55 0a3.55 3.55 0 1 0 7.10 0a3.55 3.55 0 1 0 -7.10 0M713.0 341.7m-3.55 0a3.55 3.55 0 1 0 7.10 0a3.55 3.55 0 1 0 -7.10 0M716.6 341.5m-3.55 0a3.55 3.55 0 1 0 7.10 0a3.55 3.55 0 1 0 -7.10 0M721.2 341.0m-3.55 0a3.55 3.55 0 1 0 7.10 0a3.55 3.55 0 1 0 -7.10 0M723.9 341.5m-3.55 0a3.55 3.55 0 1 0 7.10 0a3.55 3.55 0 1 0 -7.10 0M727.9 341.6m-3.55 0a3.55 3.55 0 1 0 7.10 0a3.55 3.55 0 1 0 -7.10 0M731.8 341.0m-3.55 0a3.55 3.55 0 1 0 7.10 0a3.55 3.55 0 1 0 -7.10 0M734.8 341.2m-3.55 0a3.55 3.55 0 1 0 7.10 0a3.55 3.55 0 1 0 -7.10 0M738.0 341.9m-3.55 0a3.55 3.55 0 1 0 7.10 0a3.55 3.55 0 1 0 -7.10 0M710.3 344.9m-3.55 0a3.55 3.55 0 1 0 7.10 0a3.55 3.55 0 1 0 -7.10 0M713.0 345.0m-3.55 0a3.55 3.55 0 1 0 7.10 0a3.55 3.55 0 1 0 -7.10 0M717.5 344.6m-3.55 0a3.55 3.55 0 1 0 7.10 0a3.55 3.55 0 1 0 -7.10 0M721.1 344.5m-3.55 0a3.55 3.55 0 1 0 7.10 0a3.55 3.55 0 1 0 -7.10 0M724.1 344.1m-3.55 0a3.55 3.55 0 1 0 7.10 0a3.55 3.55 0 1 0 -7.10 0M727.7 344.0m-3.55 0a3.55 3.55 0 1 0 7.10 0a3.55 3.55 0 1 0 -7.10 0M731.4 344.9m-3.55 0a3.55 3.55 0 1 0 7.10 0a3.55 3.55 0 1 0 -7.10 0M735.4 345.0m-3.55 0a3.55 3.55 0 1 0 7.10 0a3.55 3.55 0 1 0 -7.10 0M739.0 344.3m-3.55 0a3.55 3.55 0 1 0 7.10 0a3.55 3.55 0 1 0 -7.10 0M710.1 347.7m-3.55 0a3.55 3.55 0 1 0 7.10 0a3.55 3.55 0 1 0 -7.10 0M714.0 347.8m-3.55 0a3.55 3.55 0 1 0 7.10 0a3.55 3.55 0 1 0 -7.10 0M717.0 348.0m-3.55 0a3.55 3.55 0 1 0 7.10 0a3.55 3.55 0 1 0 -7.10 0M721.4 347.5m-3.55 0a3.55 3.55 0 1 0 7.10 0a3.55 3.55 0 1 0 -7.10 0M724.9 347.2m-3.55 0a3.55 3.55 0 1 0 7.10 0a3.55 3.55 0 1 0 -7.10 0M727.8 347.5m-3.55 0a3.55 3.55 0 1 0 7.10 0a3.55 3.55 0 1 0 -7.10 0M732.0 348.3m-3.55 0a3.55 3.55 0 1 0 7.10 0a3.55 3.55 0 1 0 -7.10 0M735.6 347.6m-3.55 0a3.55 3.55 0 1 0 7.10 0a3.55 3.55 0 1 0 -7.10 0M739.4 347.6m-3.55 0a3.55 3.55 0 1 0 7.10 0a3.55 3.55 0 1 0 -7.10 0M709.7 351.5m-3.55 0a3.55 3.55 0 1 0 7.10 0a3.55 3.55 0 1 0 -7.10 0M713.8 351.2m-3.55 0a3.55 3.55 0 1 0 7.10 0a3.55 3.55 0 1 0 -7.10 0M717.5 351.6m-3.55 0a3.55 3.55 0 1 0 7.10 0a3.55 3.55 0 1 0 -7.10 0M720.9 351.4m-3.55 0a3.55 3.55 0 1 0 7.10 0a3.55 3.55 0 1 0 -7.10 0M724.8 351.4m-3.55 0a3.55 3.55 0 1 0 7.10 0a3.55 3.55 0 1 0 -7.10 0M728.2 351.3m-3.55 0a3.55 3.55 0 1 0 7.10 0a3.55 3.55 0 1 0 -7.10 0M732.0 350.8m-3.55 0a3.55 3.55 0 1 0 7.10 0a3.55 3.55 0 1 0 -7.10 0M735.2 351.1m-3.55 0a3.55 3.55 0 1 0 7.10 0a3.55 3.55 0 1 0 -7.10 0M738.7 351.5m-3.55 0a3.55 3.55 0 1 0 7.10 0a3.55 3.55 0 1 0 -7.10 0M709.6 353.6m-3.55 0a3.55 3.55 0 1 0 7.10 0a3.55 3.55 0 1 0 -7.10 0M713.2 354.7m-3.55 0a3.55 3.55 0 1 0 7.10 0a3.55 3.55 0 1 0 -7.10 0M717.2 353.8m-3.55 0a3.55 3.55 0 1 0 7.10 0a3.55 3.55 0 1 0 -7.10 0M720.5 353.6m-3.55 0a3.55 3.55 0 1 0 7.10 0a3.55 3.55 0 1 0 -7.10 0M724.9 354.4m-3.55 0a3.55 3.55 0 1 0 7.10 0a3.55 3.55 0 1 0 -7.10 0M728.6 354.5m-3.55 0a3.55 3.55 0 1 0 7.10 0a3.55 3.55 0 1 0 -7.10 0M731.5 354.3m-3.55 0a3.55 3.55 0 1 0 7.10 0a3.55 3.55 0 1 0 -7.10 0M735.5 354.6m-3.55 0a3.55 3.55 0 1 0 7.10 0a3.55 3.55 0 1 0 -7.10 0M739.8 354.7m-3.55 0a3.55 3.55 0 1 0 7.10 0a3.55 3.55 0 1 0 -7.10 0M709.5 357.8m-3.55 0a3.55 3.55 0 1 0 7.10 0a3.55 3.55 0 1 0 -7.10 0M714.2 357.9m-3.55 0a3.55 3.55 0 1 0 7.10 0a3.55 3.55 0 1 0 -7.10 0M716.9 357.0m-3.55 0a3.55 3.55 0 1 0 7.10 0a3.55 3.55 0 1 0 -7.10 0M720.6 356.8m-3.55 0a3.55 3.55 0 1 0 7.10 0a3.55 3.55 0 1 0 -7.10 0M725.2 357.8m-3.55 0a3.55 3.55 0 1 0 7.10 0a3.55 3.55 0 1 0 -7.10 0M728.6 357.8m-3.55 0a3.55 3.55 0 1 0 7.10 0a3.55 3.55 0 1 0 -7.10 0M732.3 357.1m-3.55 0a3.55 3.55 0 1 0 7.10 0a3.55 3.55 0 1 0 -7.10 0M735.4 356.9m-3.55 0a3.55 3.55 0 1 0 7.10 0a3.55 3.55 0 1 0 -7.10 0M739.9 357.0m-3.55 0a3.55 3.55 0 1 0 7.10 0a3.55 3.55 0 1 0 -7.10 0M709.8 360.5m-3.55 0a3.55 3.55 0 1 0 7.10 0a3.55 3.55 0 1 0 -7.10 0M713.1 360.3m-3.55 0a3.55 3.55 0 1 0 7.10 0a3.55 3.55 0 1 0 -7.10 0M717.2 360.9m-3.55 0a3.55 3.55 0 1 0 7.10 0a3.55 3.55 0 1 0 -7.10 0M721.0 360.4m-3.55 0a3.55 3.55 0 1 0 7.10 0a3.55 3.55 0 1 0 -7.10 0M725.4 360.6m-3.55 0a3.55 3.55 0 1 0 7.10 0a3.55 3.55 0 1 0 -7.10 0M729.0 360.7m-3.55 0a3.55 3.55 0 1 0 7.10 0a3.55 3.55 0 1 0 -7.10 0M731.8 360.5m-3.55 0a3.55 3.55 0 1 0 7.10 0a3.55 3.55 0 1 0 -7.10 0M736.0 360.9m-3.55 0a3.55 3.55 0 1 0 7.10 0a3.55 3.55 0 1 0 -7.10 0M739.6 360.8m-3.55 0a3.55 3.55 0 1 0 7.10 0a3.55 3.55 0 1 0 -7.10 0M710.0 363.5m-3.55 0a3.55 3.55 0 1 0 7.10 0a3.55 3.55 0 1 0 -7.10 0M714.2 363.3m-3.55 0a3.55 3.55 0 1 0 7.10 0a3.55 3.55 0 1 0 -7.10 0M717.9 363.4m-3.55 0a3.55 3.55 0 1 0 7.10 0a3.55 3.55 0 1 0 -7.10 0M720.6 363.4m-3.55 0a3.55 3.55 0 1 0 7.10 0a3.55 3.55 0 1 0 -7.10 0M725.3 364.4m-3.55 0a3.55 3.55 0 1 0 7.10 0a3.55 3.55 0 1 0 -7.10 0M728.1 363.8m-3.55 0a3.55 3.55 0 1 0 7.10 0a3.55 3.55 0 1 0 -7.10 0M732.5 364.2m-3.55 0a3.55 3.55 0 1 0 7.10 0a3.55 3.55 0 1 0 -7.10 0M735.9 363.8m-3.55 0a3.55 3.55 0 1 0 7.10 0a3.55 3.55 0 1 0 -7.10 0M739.8 364.2m-3.55 0a3.55 3.55 0 1 0 7.10 0a3.55 3.55 0 1 0 -7.10 0M709.6 316.7m-3.55 0a3.55 3.55 0 1 0 7.10 0a3.55 3.55 0 1 0 -7.10 0M704.0 318.2m-3.55 0a3.55 3.55 0 1 0 7.10 0a3.55 3.55 0 1 0 -7.10 0M703.5 344.8m-3.55 0a3.55 3.55 0 1 0 7.10 0a3.55 3.55 0 1 0 -7.10 0M708.0 307.0m-3.55 0a3.55 3.55 0 1 0 7.10 0a3.55 3.55 0 1 0 -7.10 0M708.9 305.2m-3.55 0a3.55 3.55 0 1 0 7.10 0a3.55 3.55 0 1 0 -7.10 0M707.3 344.6m-3.55 0a3.55 3.55 0 1 0 7.10 0a3.55 3.55 0 1 0 -7.10 0M703.5 340.2m-3.55 0a3.55 3.55 0 1 0 7.10 0a3.55 3.55 0 1 0 -7.10 0M704.8 325.7m-3.55 0a3.55 3.55 0 1 0 7.10 0a3.55 3.55 0 1 0 -7.10 0M692.8 357.0m-3.55 0a3.55 3.55 0 1 0 7.10 0a3.55 3.55 0 1 0 -7.10 0M691.7 356.9m-3.55 0a3.55 3.55 0 1 0 7.10 0a3.55 3.55 0 1 0 -7.10 0M700.5 357.7m-3.55 0a3.55 3.55 0 1 0 7.10 0a3.55 3.55 0 1 0 -7.10 0M709.0 324.3m-3.55 0a3.55 3.55 0 1 0 7.10 0a3.55 3.55 0 1 0 -7.10 0M707.7 334.0m-3.55 0a3.55 3.55 0 1 0 7.10 0a3.55 3.55 0 1 0 -7.10 0M704.7 348.2m-3.55 0a3.55 3.55 0 1 0 7.10 0a3.55 3.55 0 1 0 -7.10 0M704.5 322.3m-3.55 0a3.55 3.55 0 1 0 7.10 0a3.55 3.55 0 1 0 -7.10 0M709.1 309.9m-3.55 0a3.55 3.55 0 1 0 7.10 0a3.55 3.55 0 1 0 -7.10 0M707.1 342.4m-3.55 0a3.55 3.55 0 1 0 7.10 0a3.55 3.55 0 1 0 -7.10 0M703.4 349.5m-3.55 0a3.55 3.55 0 1 0 7.10 0a3.55 3.55 0 1 0 -7.10 0M695.8 356.6m-3.55 0a3.55 3.55 0 1 0 7.10 0a3.55 3.55 0 1 0 -7.10 0M708.0 345.0m-3.55 0a3.55 3.55 0 1 0 7.10 0a3.55 3.55 0 1 0 -7.10 0M702.2 333.4m-3.55 0a3.55 3.55 0 1 0 7.10 0a3.55 3.55 0 1 0 -7.10 0M703.4 321.0m-3.55 0a3.55 3.55 0 1 0 7.10 0a3.55 3.55 0 1 0 -7.10 0M704.4 362.4m-3.55 0a3.55 3.55 0 1 0 7.10 0a3.55 3.55 0 1 0 -7.10 0M709.8 306.5m-3.55 0a3.55 3.55 0 1 0 7.10 0a3.55 3.55 0 1 0 -7.10 0M706.7 306.5m-3.55 0a3.55 3.55 0 1 0 7.10 0a3.55 3.55 0 1 0 -7.10 0M705.7 363.0m-3.55 0a3.55 3.55 0 1 0 7.10 0a3.55 3.55 0 1 0 -7.10 0M702.0 346.9m-3.55 0a3.55 3.55 0 1 0 7.10 0a3.55 3.55 0 1 0 -7.10 0M705.7 306.8m-3.55 0a3.55 3.55 0 1 0 7.10 0a3.55 3.55 0 1 0 -7.10 0M701.8 324.9m-3.55 0a3.55 3.55 0 1 0 7.10 0a3.55 3.55 0 1 0 -7.10 0M708.2 325.5m-3.55 0a3.55 3.55 0 1 0 7.10 0a3.55 3.55 0 1 0 -7.10 0M703.7 344.4m-3.55 0a3.55 3.55 0 1 0 7.10 0a3.55 3.55 0 1 0 -7.10 0M704.5 340.5m-3.55 0a3.55 3.55 0 1 0 7.10 0a3.55 3.55 0 1 0 -7.10 0M707.8 325.9m-3.55 0a3.55 3.55 0 1 0 7.10 0a3.55 3.55 0 1 0 -7.10 0M699.0 358.1m-3.55 0a3.55 3.55 0 1 0 7.10 0a3.55 3.55 0 1 0 -7.10 0M707.6 336.7m-3.55 0a3.55 3.55 0 1 0 7.10 0a3.55 3.55 0 1 0 -7.10 0M688.9 363.7m-3.55 0a3.55 3.55 0 1 0 7.10 0a3.55 3.55 0 1 0 -7.10 0M692.8 364.5m-3.55 0a3.55 3.55 0 1 0 7.10 0a3.55 3.55 0 1 0 -7.10 0M696.4 364.2m-3.55 0a3.55 3.55 0 1 0 7.10 0a3.55 3.55 0 1 0 -7.10 0M700.1 364.2m-3.55 0a3.55 3.55 0 1 0 7.10 0a3.55 3.55 0 1 0 -7.10 0M703.4 363.9m-3.55 0a3.55 3.55 0 1 0 7.10 0a3.55 3.55 0 1 0 -7.10 0M706.5 364.2m-3.55 0a3.55 3.55 0 1 0 7.10 0a3.55 3.55 0 1 0 -7.10 0M709.8 363.9m-3.55 0a3.55 3.55 0 1 0 7.10 0a3.55 3.55 0 1 0 -7.10 0M714.2 364.3m-3.55 0a3.55 3.55 0 1 0 7.10 0a3.55 3.55 0 1 0 -7.10 0M717.6 363.7m-3.55 0a3.55 3.55 0 1 0 7.10 0a3.55 3.55 0 1 0 -7.10 0M720.9 363.9m-3.55 0a3.55 3.55 0 1 0 7.10 0a3.55 3.55 0 1 0 -7.10 0M724.7 363.9m-3.55 0a3.55 3.55 0 1 0 7.10 0a3.55 3.55 0 1 0 -7.10 0M728.3 364.5m-3.55 0a3.55 3.55 0 1 0 7.10 0a3.55 3.55 0 1 0 -7.10 0M731.2 364.2m-3.55 0a3.55 3.55 0 1 0 7.10 0a3.55 3.55 0 1 0 -7.10 0M735.5 363.9m-3.55 0a3.55 3.55 0 1 0 7.10 0a3.55 3.55 0 1 0 -7.10 0M738.7 364.6m-3.55 0a3.55 3.55 0 1 0 7.10 0a3.55 3.55 0 1 0 -7.10 0M741.7 364.1m-3.55 0a3.55 3.55 0 1 0 7.10 0a3.55 3.55 0 1 0 -7.10 0M745.4 364.3m-3.55 0a3.55 3.55 0 1 0 7.10 0a3.55 3.55 0 1 0 -7.10 0M749.9 364.0m-3.55 0a3.55 3.55 0 1 0 7.10 0a3.55 3.55 0 1 0 -7.10 0M752.5 364.1m-3.55 0a3.55 3.55 0 1 0 7.10 0a3.55 3.55 0 1 0 -7.10 0M756.5 364.3m-3.55 0a3.55 3.55 0 1 0 7.10 0a3.55 3.55 0 1 0 -7.10 0M760.0 364.2m-3.55 0a3.55 3.55 0 1 0 7.10 0a3.55 3.55 0 1 0 -7.10 0M764.0 364.0m-3.55 0a3.55 3.55 0 1 0 7.10 0a3.55 3.55 0 1 0 -7.10 0M767.0 364.5m-3.55 0a3.55 3.55 0 1 0 7.10 0a3.55 3.55 0 1 0 -7.10 0M770.3 364.2m-3.55 0a3.55 3.55 0 1 0 7.10 0a3.55 3.55 0 1 0 -7.10 0M774.1 364.3m-3.55 0a3.55 3.55 0 1 0 7.10 0a3.55 3.55 0 1 0 -7.10 0M777.3 364.6m-3.55 0a3.55 3.55 0 1 0 7.10 0a3.55 3.55 0 1 0 -7.10 0M781.2 363.5m-3.55 0a3.55 3.55 0 1 0 7.10 0a3.55 3.55 0 1 0 -7.10 0M784.6 363.9m-3.55 0a3.55 3.55 0 1 0 7.10 0a3.55 3.55 0 1 0 -7.10 0M787.9 363.9m-3.55 0a3.55 3.55 0 1 0 7.10 0a3.55 3.55 0 1 0 -7.10 0M791.9 364.2m-3.55 0a3.55 3.55 0 1 0 7.10 0a3.55 3.55 0 1 0 -7.10 0M689.2 366.6m-3.55 0a3.55 3.55 0 1 0 7.10 0a3.55 3.55 0 1 0 -7.10 0M692.6 367.2m-3.55 0a3.55 3.55 0 1 0 7.10 0a3.55 3.55 0 1 0 -7.10 0M697.1 366.9m-3.55 0a3.55 3.55 0 1 0 7.10 0a3.55 3.55 0 1 0 -7.10 0M699.8 367.2m-3.55 0a3.55 3.55 0 1 0 7.10 0a3.55 3.55 0 1 0 -7.10 0M703.6 366.5m-3.55 0a3.55 3.55 0 1 0 7.10 0a3.55 3.55 0 1 0 -7.10 0M706.9 367.2m-3.55 0a3.55 3.55 0 1 0 7.10 0a3.55 3.55 0 1 0 -7.10 0M711.3 367.0m-3.55 0a3.55 3.55 0 1 0 7.10 0a3.55 3.55 0 1 0 -7.10 0M714.4 367.0m-3.55 0a3.55 3.55 0 1 0 7.10 0a3.55 3.55 0 1 0 -7.10 0M717.7 367.4m-3.55 0a3.55 3.55 0 1 0 7.10 0a3.55 3.55 0 1 0 -7.10 0M721.5 367.0m-3.55 0a3.55 3.55 0 1 0 7.10 0a3.55 3.55 0 1 0 -7.10 0M725.6 367.3m-3.55 0a3.55 3.55 0 1 0 7.10 0a3.55 3.55 0 1 0 -7.10 0M728.8 366.6m-3.55 0a3.55 3.55 0 1 0 7.10 0a3.55 3.55 0 1 0 -7.10 0M732.5 366.4m-3.55 0a3.55 3.55 0 1 0 7.10 0a3.55 3.55 0 1 0 -7.10 0M736.4 366.7m-3.55 0a3.55 3.55 0 1 0 7.10 0a3.55 3.55 0 1 0 -7.10 0M740.0 366.6m-3.55 0a3.55 3.55 0 1 0 7.10 0a3.55 3.55 0 1 0 -7.10 0M743.0 366.6m-3.55 0a3.55 3.55 0 1 0 7.10 0a3.55 3.55 0 1 0 -7.10 0M746.7 366.5m-3.55 0a3.55 3.55 0 1 0 7.10 0a3.55 3.55 0 1 0 -7.10 0M749.8 367.1m-3.55 0a3.55 3.55 0 1 0 7.10 0a3.55 3.55 0 1 0 -7.10 0M753.7 366.6m-3.55 0a3.55 3.55 0 1 0 7.10 0a3.55 3.55 0 1 0 -7.10 0M757.3 366.9m-3.55 0a3.55 3.55 0 1 0 7.10 0a3.55 3.55 0 1 0 -7.10 0M761.1 367.0m-3.55 0a3.55 3.55 0 1 0 7.10 0a3.55 3.55 0 1 0 -7.10 0M764.9 366.7m-3.55 0a3.55 3.55 0 1 0 7.10 0a3.55 3.55 0 1 0 -7.10 0M768.8 367.3m-3.55 0a3.55 3.55 0 1 0 7.10 0a3.55 3.55 0 1 0 -7.10 0M771.4 367.3m-3.55 0a3.55 3.55 0 1 0 7.10 0a3.55 3.55 0 1 0 -7.10 0M776.0 367.2m-3.55 0a3.55 3.55 0 1 0 7.10 0a3.55 3.55 0 1 0 -7.10 0M778.7 367.3m-3.55 0a3.55 3.55 0 1 0 7.10 0a3.55 3.55 0 1 0 -7.10 0M782.8 366.3m-3.55 0a3.55 3.55 0 1 0 7.10 0a3.55 3.55 0 1 0 -7.10 0M785.7 367.4m-3.55 0a3.55 3.55 0 1 0 7.10 0a3.55 3.55 0 1 0 -7.10 0M790.0 366.6m-3.55 0a3.55 3.55 0 1 0 7.10 0a3.55 3.55 0 1 0 -7.10 0M793.0 366.5m-3.55 0a3.55 3.55 0 1 0 7.10 0a3.55 3.55 0 1 0 -7.10 0M689.4 370.1m-3.55 0a3.55 3.55 0 1 0 7.10 0a3.55 3.55 0 1 0 -7.10 0M693.0 369.3m-3.55 0a3.55 3.55 0 1 0 7.10 0a3.55 3.55 0 1 0 -7.10 0M697.2 370.1m-3.55 0a3.55 3.55 0 1 0 7.10 0a3.55 3.55 0 1 0 -7.10 0M699.8 370.2m-3.55 0a3.55 3.55 0 1 0 7.10 0a3.55 3.55 0 1 0 -7.10 0M703.9 370.1m-3.55 0a3.55 3.55 0 1 0 7.10 0a3.55 3.55 0 1 0 -7.10 0M707.4 370.2m-3.55 0a3.55 3.55 0 1 0 7.10 0a3.55 3.55 0 1 0 -7.10 0M711.1 370.2m-3.55 0a3.55 3.55 0 1 0 7.10 0a3.55 3.55 0 1 0 -7.10 0M713.9 370.0m-3.55 0a3.55 3.55 0 1 0 7.10 0a3.55 3.55 0 1 0 -7.10 0M717.8 370.1m-3.55 0a3.55 3.55 0 1 0 7.10 0a3.55 3.55 0 1 0 -7.10 0M721.2 370.2m-3.55 0a3.55 3.55 0 1 0 7.10 0a3.55 3.55 0 1 0 -7.10 0M724.8 369.5m-3.55 0a3.55 3.55 0 1 0 7.10 0a3.55 3.55 0 1 0 -7.10 0M728.0 369.3m-3.55 0a3.55 3.55 0 1 0 7.10 0a3.55 3.55 0 1 0 -7.10 0M731.8 369.2m-3.55 0a3.55 3.55 0 1 0 7.10 0a3.55 3.55 0 1 0 -7.10 0M735.2 369.3m-3.55 0a3.55 3.55 0 1 0 7.10 0a3.55 3.55 0 1 0 -7.10 0M738.8 369.8m-3.55 0a3.55 3.55 0 1 0 7.10 0a3.55 3.55 0 1 0 -7.10 0M742.3 370.2m-3.55 0a3.55 3.55 0 1 0 7.10 0a3.55 3.55 0 1 0 -7.10 0M745.2 370.2m-3.55 0a3.55 3.55 0 1 0 7.10 0a3.55 3.55 0 1 0 -7.10 0M749.3 369.8m-3.55 0a3.55 3.55 0 1 0 7.10 0a3.55 3.55 0 1 0 -7.10 0M753.0 370.2m-3.55 0a3.55 3.55 0 1 0 7.10 0a3.55 3.55 0 1 0 -7.10 0M756.2 369.7m-3.55 0a3.55 3.55 0 1 0 7.10 0a3.55 3.55 0 1 0 -7.10 0M760.4 369.3m-3.55 0a3.55 3.55 0 1 0 7.10 0a3.55 3.55 0 1 0 -7.10 0M763.5 369.9m-3.55 0a3.55 3.55 0 1 0 7.10 0a3.55 3.55 0 1 0 -7.10 0M766.3 369.9m-3.55 0a3.55 3.55 0 1 0 7.10 0a3.55 3.55 0 1 0 -7.10 0M770.6 370.3m-3.55 0a3.55 3.55 0 1 0 7.10 0a3.55 3.55 0 1 0 -7.10 0M773.6 370.3m-3.55 0a3.55 3.55 0 1 0 7.10 0a3.55 3.55 0 1 0 -7.10 0M777.4 369.7m-3.55 0a3.55 3.55 0 1 0 7.10 0a3.55 3.55 0 1 0 -7.10 0M781.3 369.2m-3.55 0a3.55 3.55 0 1 0 7.10 0a3.55 3.55 0 1 0 -7.10 0M784.6 369.9m-3.55 0a3.55 3.55 0 1 0 7.10 0a3.55 3.55 0 1 0 -7.10 0M787.7 370.2m-3.55 0a3.55 3.55 0 1 0 7.10 0a3.55 3.55 0 1 0 -7.10 0M791.2 369.7m-3.55 0a3.55 3.55 0 1 0 7.10 0a3.55 3.55 0 1 0 -7.10 0M794.9 370.1m-3.55 0a3.55 3.55 0 1 0 7.10 0a3.55 3.55 0 1 0 -7.10 0M690.2 372.6m-3.55 0a3.55 3.55 0 1 0 7.10 0a3.55 3.55 0 1 0 -7.10 0M693.9 372.7m-3.55 0a3.55 3.55 0 1 0 7.10 0a3.55 3.55 0 1 0 -7.10 0M697.9 372.4m-3.55 0a3.55 3.55 0 1 0 7.10 0a3.55 3.55 0 1 0 -7.10 0M701.4 372.5m-3.55 0a3.55 3.55 0 1 0 7.10 0a3.55 3.55 0 1 0 -7.10 0M704.5 372.4m-3.55 0a3.55 3.55 0 1 0 7.10 0a3.55 3.55 0 1 0 -7.10 0M708.0 373.2m-3.55 0a3.55 3.55 0 1 0 7.10 0a3.55 3.55 0 1 0 -7.10 0M711.7 373.0m-3.55 0a3.55 3.55 0 1 0 7.10 0a3.55 3.55 0 1 0 -7.10 0M714.8 372.4m-3.55 0a3.55 3.55 0 1 0 7.10 0a3.55 3.55 0 1 0 -7.10 0M718.3 372.7m-3.55 0a3.55 3.55 0 1 0 7.10 0a3.55 3.55 0 1 0 -7.10 0M722.2 373.0m-3.55 0a3.55 3.55 0 1 0 7.10 0a3.55 3.55 0 1 0 -7.10 0M725.0 372.9m-3.55 0a3.55 3.55 0 1 0 7.10 0a3.55 3.55 0 1 0 -7.10 0M729.5 372.7m-3.55 0a3.55 3.55 0 1 0 7.10 0a3.55 3.55 0 1 0 -7.10 0M732.0 372.4m-3.55 0a3.55 3.55 0 1 0 7.10 0a3.55 3.55 0 1 0 -7.10 0M735.4 372.3m-3.55 0a3.55 3.55 0 1 0 7.10 0a3.55 3.55 0 1 0 -7.10 0M740.0 372.8m-3.55 0a3.55 3.55 0 1 0 7.10 0a3.55 3.55 0 1 0 -7.10 0M743.2 373.0m-3.55 0a3.55 3.55 0 1 0 7.10 0a3.55 3.55 0 1 0 -7.10 0M747.0 372.8m-3.55 0a3.55 3.55 0 1 0 7.10 0a3.55 3.55 0 1 0 -7.10 0M750.2 372.8m-3.55 0a3.55 3.55 0 1 0 7.10 0a3.55 3.55 0 1 0 -7.10 0M753.8 372.8m-3.55 0a3.55 3.55 0 1 0 7.10 0a3.55 3.55 0 1 0 -7.10 0M757.2 372.3m-3.55 0a3.55 3.55 0 1 0 7.10 0a3.55 3.55 0 1 0 -7.10 0M760.7 372.6m-3.55 0a3.55 3.55 0 1 0 7.10 0a3.55 3.55 0 1 0 -7.10 0M764.3 372.2m-3.55 0a3.55 3.55 0 1 0 7.10 0a3.55 3.55 0 1 0 -7.10 0M767.1 372.1m-3.55 0a3.55 3.55 0 1 0 7.10 0a3.55 3.55 0 1 0 -7.10 0M771.3 373.1m-3.55 0a3.55 3.55 0 1 0 7.10 0a3.55 3.55 0 1 0 -7.10 0M774.7 372.5m-3.55 0a3.55 3.55 0 1 0 7.10 0a3.55 3.55 0 1 0 -7.10 0M778.4 373.0m-3.55 0a3.55 3.55 0 1 0 7.10 0a3.55 3.55 0 1 0 -7.10 0M781.6 372.3m-3.55 0a3.55 3.55 0 1 0 7.10 0a3.55 3.55 0 1 0 -7.10 0M784.8 372.5m-3.55 0a3.55 3.55 0 1 0 7.10 0a3.55 3.55 0 1 0 -7.10 0M788.3 372.6m-3.55 0a3.55 3.55 0 1 0 7.10 0a3.55 3.55 0 1 0 -7.10 0M792.2 373.2m-3.55 0a3.55 3.55 0 1 0 7.10 0a3.55 3.55 0 1 0 -7.10 0M795.0 372.7m-3.55 0a3.55 3.55 0 1 0 7.10 0a3.55 3.55 0 1 0 -7.10 0M692.3 375.1m-3.55 0a3.55 3.55 0 1 0 7.10 0a3.55 3.55 0 1 0 -7.10 0M696.8 375.6m-3.55 0a3.55 3.55 0 1 0 7.10 0a3.55 3.55 0 1 0 -7.10 0M700.5 375.5m-3.55 0a3.55 3.55 0 1 0 7.10 0a3.55 3.55 0 1 0 -7.10 0M703.0 375.4m-3.55 0a3.55 3.55 0 1 0 7.10 0a3.55 3.55 0 1 0 -7.10 0M707.3 376.0m-3.55 0a3.55 3.55 0 1 0 7.10 0a3.55 3.55 0 1 0 -7.10 0M711.4 375.5m-3.55 0a3.55 3.55 0 1 0 7.10 0a3.55 3.55 0 1 0 -7.10 0M714.3 375.0m-3.55 0a3.55 3.55 0 1 0 7.10 0a3.55 3.55 0 1 0 -7.10 0M718.2 375.2m-3.55 0a3.55 3.55 0 1 0 7.10 0a3.55 3.55 0 1 0 -7.10 0M721.2 374.9m-3.55 0a3.55 3.55 0 1 0 7.10 0a3.55 3.55 0 1 0 -7.10 0M724.6 375.7m-3.55 0a3.55 3.55 0 1 0 7.10 0a3.55 3.55 0 1 0 -7.10 0M728.3 376.1m-3.55 0a3.55 3.55 0 1 0 7.10 0a3.55 3.55 0 1 0 -7.10 0M731.8 376.0m-3.55 0a3.55 3.55 0 1 0 7.10 0a3.55 3.55 0 1 0 -7.10 0M735.5 374.9m-3.55 0a3.55 3.55 0 1 0 7.10 0a3.55 3.55 0 1 0 -7.10 0M739.8 375.2m-3.55 0a3.55 3.55 0 1 0 7.10 0a3.55 3.55 0 1 0 -7.10 0M743.4 375.1m-3.55 0a3.55 3.55 0 1 0 7.10 0a3.55 3.55 0 1 0 -7.10 0M746.2 375.8m-3.55 0a3.55 3.55 0 1 0 7.10 0a3.55 3.55 0 1 0 -7.10 0M750.5 375.9m-3.55 0a3.55 3.55 0 1 0 7.10 0a3.55 3.55 0 1 0 -7.10 0M754.2 375.0m-3.55 0a3.55 3.55 0 1 0 7.10 0a3.55 3.55 0 1 0 -7.10 0M757.6 375.8m-3.55 0a3.55 3.55 0 1 0 7.10 0a3.55 3.55 0 1 0 -7.10 0M761.0 376.0m-3.55 0a3.55 3.55 0 1 0 7.10 0a3.55 3.55 0 1 0 -7.10 0M764.4 376.1m-3.55 0a3.55 3.55 0 1 0 7.10 0a3.55 3.55 0 1 0 -7.10 0M768.5 374.9m-3.55 0a3.55 3.55 0 1 0 7.10 0a3.55 3.55 0 1 0 -7.10 0M771.2 375.7m-3.55 0a3.55 3.55 0 1 0 7.10 0a3.55 3.55 0 1 0 -7.10 0M775.8 375.0m-3.55 0a3.55 3.55 0 1 0 7.10 0a3.55 3.55 0 1 0 -7.10 0M778.8 375.8m-3.55 0a3.55 3.55 0 1 0 7.10 0a3.55 3.55 0 1 0 -7.10 0M782.2 376.0m-3.55 0a3.55 3.55 0 1 0 7.10 0a3.55 3.55 0 1 0 -7.10 0M786.2 375.0m-3.55 0a3.55 3.55 0 1 0 7.10 0a3.55 3.55 0 1 0 -7.10 0M789.6 375.6m-3.55 0a3.55 3.55 0 1 0 7.10 0a3.55 3.55 0 1 0 -7.10 0M793.3 375.7m-3.55 0a3.55 3.55 0 1 0 7.10 0a3.55 3.55 0 1 0 -7.10 0M694.8 378.8m-3.55 0a3.55 3.55 0 1 0 7.10 0a3.55 3.55 0 1 0 -7.10 0M698.6 378.6m-3.55 0a3.55 3.55 0 1 0 7.10 0a3.55 3.55 0 1 0 -7.10 0M702.5 378.3m-3.55 0a3.55 3.55 0 1 0 7.10 0a3.55 3.55 0 1 0 -7.10 0M705.7 378.7m-3.55 0a3.55 3.55 0 1 0 7.10 0a3.55 3.55 0 1 0 -7.10 0M710.0 378.7m-3.55 0a3.55 3.55 0 1 0 7.10 0a3.55 3.55 0 1 0 -7.10 0M713.1 378.2m-3.55 0a3.55 3.55 0 1 0 7.10 0a3.55 3.55 0 1 0 -7.10 0M716.0 379.0m-3.55 0a3.55 3.55 0 1 0 7.10 0a3.55 3.55 0 1 0 -7.10 0M720.3 378.8m-3.55 0a3.55 3.55 0 1 0 7.10 0a3.55 3.55 0 1 0 -7.10 0M723.4 378.5m-3.55 0a3.55 3.55 0 1 0 7.10 0a3.55 3.55 0 1 0 -7.10 0M727.8 378.8m-3.55 0a3.55 3.55 0 1 0 7.10 0a3.55 3.55 0 1 0 -7.10 0M730.9 378.2m-3.55 0a3.55 3.55 0 1 0 7.10 0a3.55 3.55 0 1 0 -7.10 0M734.2 378.9m-3.55 0a3.55 3.55 0 1 0 7.10 0a3.55 3.55 0 1 0 -7.10 0M737.7 378.6m-3.55 0a3.55 3.55 0 1 0 7.10 0a3.55 3.55 0 1 0 -7.10 0M741.5 378.9m-3.55 0a3.55 3.55 0 1 0 7.10 0a3.55 3.55 0 1 0 -7.10 0M745.3 378.1m-3.55 0a3.55 3.55 0 1 0 7.10 0a3.55 3.55 0 1 0 -7.10 0M747.9 378.1m-3.55 0a3.55 3.55 0 1 0 7.10 0a3.55 3.55 0 1 0 -7.10 0M752.0 378.5m-3.55 0a3.55 3.55 0 1 0 7.10 0a3.55 3.55 0 1 0 -7.10 0M756.0 378.9m-3.55 0a3.55 3.55 0 1 0 7.10 0a3.55 3.55 0 1 0 -7.10 0M758.7 378.8m-3.55 0a3.55 3.55 0 1 0 7.10 0a3.55 3.55 0 1 0 -7.10 0M763.1 378.8m-3.55 0a3.55 3.55 0 1 0 7.10 0a3.55 3.55 0 1 0 -7.10 0M766.4 378.1m-3.55 0a3.55 3.55 0 1 0 7.10 0a3.55 3.55 0 1 0 -7.10 0M770.3 378.8m-3.55 0a3.55 3.55 0 1 0 7.10 0a3.55 3.55 0 1 0 -7.10 0M773.6 378.9m-3.55 0a3.55 3.55 0 1 0 7.10 0a3.55 3.55 0 1 0 -7.10 0M776.8 377.9m-3.55 0a3.55 3.55 0 1 0 7.10 0a3.55 3.55 0 1 0 -7.10 0M780.6 378.8m-3.55 0a3.55 3.55 0 1 0 7.10 0a3.55 3.55 0 1 0 -7.10 0M783.7 378.7m-3.55 0a3.55 3.55 0 1 0 7.10 0a3.55 3.55 0 1 0 -7.10 0M788.2 378.1m-3.55 0a3.55 3.55 0 1 0 7.10 0a3.55 3.55 0 1 0 -7.10 0M791.3 378.6m-3.55 0a3.55 3.55 0 1 0 7.10 0a3.55 3.55 0 1 0 -7.10 0M697.6 380.9m-3.55 0a3.55 3.55 0 1 0 7.10 0a3.55 3.55 0 1 0 -7.10 0M700.8 381.6m-3.55 0a3.55 3.55 0 1 0 7.10 0a3.55 3.55 0 1 0 -7.10 0M705.0 381.2m-3.55 0a3.55 3.55 0 1 0 7.10 0a3.55 3.55 0 1 0 -7.10 0M707.7 381.6m-3.55 0a3.55 3.55 0 1 0 7.10 0a3.55 3.55 0 1 0 -7.10 0M712.0 381.0m-3.55 0a3.55 3.55 0 1 0 7.10 0a3.55 3.55 0 1 0 -7.10 0M715.3 381.8m-3.55 0a3.55 3.55 0 1 0 7.10 0a3.55 3.55 0 1 0 -7.10 0M719.2 381.3m-3.55 0a3.55 3.55 0 1 0 7.10 0a3.55 3.55 0 1 0 -7.10 0M722.2 381.4m-3.55 0a3.55 3.55 0 1 0 7.10 0a3.55 3.55 0 1 0 -7.10 0M725.4 380.9m-3.55 0a3.55 3.55 0 1 0 7.10 0a3.55 3.55 0 1 0 -7.10 0M728.9 381.5m-3.55 0a3.55 3.55 0 1 0 7.10 0a3.55 3.55 0 1 0 -7.10 0M732.6 381.4m-3.55 0a3.55 3.55 0 1 0 7.10 0a3.55 3.55 0 1 0 -7.10 0M736.2 381.3m-3.55 0a3.55 3.55 0 1 0 7.10 0a3.55 3.55 0 1 0 -7.10 0M739.4 380.7m-3.55 0a3.55 3.55 0 1 0 7.10 0a3.55 3.55 0 1 0 -7.10 0M743.9 381.1m-3.55 0a3.55 3.55 0 1 0 7.10 0a3.55 3.55 0 1 0 -7.10 0M746.4 381.4m-3.55 0a3.55 3.55 0 1 0 7.10 0a3.55 3.55 0 1 0 -7.10 0M750.7 380.9m-3.55 0a3.55 3.55 0 1 0 7.10 0a3.55 3.55 0 1 0 -7.10 0M754.0 381.1m-3.55 0a3.55 3.55 0 1 0 7.10 0a3.55 3.55 0 1 0 -7.10 0M757.4 380.7m-3.55 0a3.55 3.55 0 1 0 7.10 0a3.55 3.55 0 1 0 -7.10 0M760.4 381.9m-3.55 0a3.55 3.55 0 1 0 7.10 0a3.55 3.55 0 1 0 -7.10 0M764.9 381.3m-3.55 0a3.55 3.55 0 1 0 7.10 0a3.55 3.55 0 1 0 -7.10 0M768.1 381.0m-3.55 0a3.55 3.55 0 1 0 7.10 0a3.55 3.55 0 1 0 -7.10 0M771.8 381.2m-3.55 0a3.55 3.55 0 1 0 7.10 0a3.55 3.55 0 1 0 -7.10 0M775.5 381.6m-3.55 0a3.55 3.55 0 1 0 7.10 0a3.55 3.55 0 1 0 -7.10 0M778.9 381.8m-3.55 0a3.55 3.55 0 1 0 7.10 0a3.55 3.55 0 1 0 -7.10 0M781.8 380.7m-3.55 0a3.55 3.55 0 1 0 7.10 0a3.55 3.55 0 1 0 -7.10 0M785.2 380.9m-3.55 0a3.55 3.55 0 1 0 7.10 0a3.55 3.55 0 1 0 -7.10 0M788.6 380.7m-3.55 0a3.55 3.55 0 1 0 7.10 0a3.55 3.55 0 1 0 -7.10 0M700.1 384.6m-3.55 0a3.55 3.55 0 1 0 7.10 0a3.55 3.55 0 1 0 -7.10 0M703.5 384.7m-3.55 0a3.55 3.55 0 1 0 7.10 0a3.55 3.55 0 1 0 -7.10 0M707.5 383.6m-3.55 0a3.55 3.55 0 1 0 7.10 0a3.55 3.55 0 1 0 -7.10 0M710.6 384.0m-3.55 0a3.55 3.55 0 1 0 7.10 0a3.55 3.55 0 1 0 -7.10 0M713.5 384.7m-3.55 0a3.55 3.55 0 1 0 7.10 0a3.55 3.55 0 1 0 -7.10 0M717.2 384.2m-3.55 0a3.55 3.55 0 1 0 7.10 0a3.55 3.55 0 1 0 -7.10 0M721.1 384.7m-3.55 0a3.55 3.55 0 1 0 7.10 0a3.55 3.55 0 1 0 -7.10 0M724.6 384.0m-3.55 0a3.55 3.55 0 1 0 7.10 0a3.55 3.55 0 1 0 -7.10 0M727.8 383.8m-3.55 0a3.55 3.55 0 1 0 7.10 0a3.55 3.55 0 1 0 -7.10 0M731.9 384.8m-3.55 0a3.55 3.55 0 1 0 7.10 0a3.55 3.55 0 1 0 -7.10 0M734.5 383.6m-3.55 0a3.55 3.55 0 1 0 7.10 0a3.55 3.55 0 1 0 -7.10 0M738.0 384.0m-3.55 0a3.55 3.55 0 1 0 7.10 0a3.55 3.55 0 1 0 -7.10 0M742.3 384.6m-3.55 0a3.55 3.55 0 1 0 7.10 0a3.55 3.55 0 1 0 -7.10 0M745.7 383.6m-3.55 0a3.55 3.55 0 1 0 7.10 0a3.55 3.55 0 1 0 -7.10 0M749.1 384.4m-3.55 0a3.55 3.55 0 1 0 7.10 0a3.55 3.55 0 1 0 -7.10 0M752.4 384.7m-3.55 0a3.55 3.55 0 1 0 7.10 0a3.55 3.55 0 1 0 -7.10 0M755.2 383.7m-3.55 0a3.55 3.55 0 1 0 7.10 0a3.55 3.55 0 1 0 -7.10 0M759.5 384.7m-3.55 0a3.55 3.55 0 1 0 7.10 0a3.55 3.55 0 1 0 -7.10 0M762.9 383.9m-3.55 0a3.55 3.55 0 1 0 7.10 0a3.55 3.55 0 1 0 -7.10 0M766.3 384.5m-3.55 0a3.55 3.55 0 1 0 7.10 0a3.55 3.55 0 1 0 -7.10 0M769.2 383.9m-3.55 0a3.55 3.55 0 1 0 7.10 0a3.55 3.55 0 1 0 -7.10 0M772.8 383.7m-3.55 0a3.55 3.55 0 1 0 7.10 0a3.55 3.55 0 1 0 -7.10 0M776.6 383.8m-3.55 0a3.55 3.55 0 1 0 7.10 0a3.55 3.55 0 1 0 -7.10 0M779.8 383.7m-3.55 0a3.55 3.55 0 1 0 7.10 0a3.55 3.55 0 1 0 -7.10 0M783.8 383.6m-3.55 0a3.55 3.55 0 1 0 7.10 0a3.55 3.55 0 1 0 -7.10 0M787.3 383.8m-3.55 0a3.55 3.55 0 1 0 7.10 0a3.55 3.55 0 1 0 -7.10 0M702.0 387.6m-3.55 0a3.55 3.55 0 1 0 7.10 0a3.55 3.55 0 1 0 -7.10 0M705.8 387.6m-3.55 0a3.55 3.55 0 1 0 7.10 0a3.55 3.55 0 1 0 -7.10 0M710.2 387.5m-3.55 0a3.55 3.55 0 1 0 7.10 0a3.55 3.55 0 1 0 -7.10 0M712.9 387.0m-3.55 0a3.55 3.55 0 1 0 7.10 0a3.55 3.55 0 1 0 -7.10 0M716.4 387.6m-3.55 0a3.55 3.55 0 1 0 7.10 0a3.55 3.55 0 1 0 -7.10 0M720.9 387.2m-3.55 0a3.55 3.55 0 1 0 7.10 0a3.55 3.55 0 1 0 -7.10 0M724.0 386.8m-3.55 0a3.55 3.55 0 1 0 7.10 0a3.55 3.55 0 1 0 -7.10 0M728.0 387.0m-3.55 0a3.55 3.55 0 1 0 7.10 0a3.55 3.55 0 1 0 -7.10 0M731.4 386.6m-3.55 0a3.55 3.55 0 1 0 7.10 0a3.55 3.55 0 1 0 -7.10 0M734.5 386.5m-3.55 0a3.55 3.55 0 1 0 7.10 0a3.55 3.55 0 1 0 -7.10 0M738.6 387.1m-3.55 0a3.55 3.55 0 1 0 7.10 0a3.55 3.55 0 1 0 -7.10 0M741.5 387.5m-3.55 0a3.55 3.55 0 1 0 7.10 0a3.55 3.55 0 1 0 -7.10 0M745.3 386.9m-3.55 0a3.55 3.55 0 1 0 7.10 0a3.55 3.55 0 1 0 -7.10 0M748.7 386.8m-3.55 0a3.55 3.55 0 1 0 7.10 0a3.55 3.55 0 1 0 -7.10 0M753.1 386.8m-3.55 0a3.55 3.55 0 1 0 7.10 0a3.55 3.55 0 1 0 -7.10 0M755.9 387.0m-3.55 0a3.55 3.55 0 1 0 7.10 0a3.55 3.55 0 1 0 -7.10 0M759.7 387.5m-3.55 0a3.55 3.55 0 1 0 7.10 0a3.55 3.55 0 1 0 -7.10 0M763.0 387.6m-3.55 0a3.55 3.55 0 1 0 7.10 0a3.55 3.55 0 1 0 -7.10 0M766.5 387.5m-3.55 0a3.55 3.55 0 1 0 7.10 0a3.55 3.55 0 1 0 -7.10 0M770.8 386.7m-3.55 0a3.55 3.55 0 1 0 7.10 0a3.55 3.55 0 1 0 -7.10 0M774.2 386.8m-3.55 0a3.55 3.55 0 1 0 7.10 0a3.55 3.55 0 1 0 -7.10 0M777.5 386.7m-3.55 0a3.55 3.55 0 1 0 7.10 0a3.55 3.55 0 1 0 -7.10 0M781.2 387.6m-3.55 0a3.55 3.55 0 1 0 7.10 0a3.55 3.55 0 1 0 -7.10 0M785.6 387.6m-3.55 0a3.55 3.55 0 1 0 7.10 0a3.55 3.55 0 1 0 -7.10 0M706.0 389.7m-3.55 0a3.55 3.55 0 1 0 7.10 0a3.55 3.55 0 1 0 -7.10 0M710.6 389.4m-3.55 0a3.55 3.55 0 1 0 7.10 0a3.55 3.55 0 1 0 -7.10 0M714.0 389.7m-3.55 0a3.55 3.55 0 1 0 7.10 0a3.55 3.55 0 1 0 -7.10 0M717.9 389.3m-3.55 0a3.55 3.55 0 1 0 7.10 0a3.55 3.55 0 1 0 -7.10 0M721.2 389.7m-3.55 0a3.55 3.55 0 1 0 7.10 0a3.55 3.55 0 1 0 -7.10 0M724.0 389.3m-3.55 0a3.55 3.55 0 1 0 7.10 0a3.55 3.55 0 1 0 -7.10 0M728.5 390.0m-3.55 0a3.55 3.55 0 1 0 7.10 0a3.55 3.55 0 1 0 -7.10 0M731.3 389.8m-3.55 0a3.55 3.55 0 1 0 7.10 0a3.55 3.55 0 1 0 -7.10 0M735.7 389.6m-3.55 0a3.55 3.55 0 1 0 7.10 0a3.55 3.55 0 1 0 -7.10 0M738.9 389.5m-3.55 0a3.55 3.55 0 1 0 7.10 0a3.55 3.55 0 1 0 -7.10 0M742.0 390.2m-3.55 0a3.55 3.55 0 1 0 7.10 0a3.55 3.55 0 1 0 -7.10 0M746.3 389.6m-3.55 0a3.55 3.55 0 1 0 7.10 0a3.55 3.55 0 1 0 -7.10 0M749.1 389.4m-3.55 0a3.55 3.55 0 1 0 7.10 0a3.55 3.55 0 1 0 -7.10 0M753.3 389.9m-3.55 0a3.55 3.55 0 1 0 7.10 0a3.55 3.55 0 1 0 -7.10 0M756.5 389.6m-3.55 0a3.55 3.55 0 1 0 7.10 0a3.55 3.55 0 1 0 -7.10 0M760.5 390.2m-3.55 0a3.55 3.55 0 1 0 7.10 0a3.55 3.55 0 1 0 -7.10 0M764.3 390.0m-3.55 0a3.55 3.55 0 1 0 7.10 0a3.55 3.55 0 1 0 -7.10 0M767.2 389.4m-3.55 0a3.55 3.55 0 1 0 7.10 0a3.55 3.55 0 1 0 -7.10 0M771.4 389.8m-3.55 0a3.55 3.55 0 1 0 7.10 0a3.55 3.55 0 1 0 -7.10 0M775.0 389.4m-3.55 0a3.55 3.55 0 1 0 7.10 0a3.55 3.55 0 1 0 -7.10 0M778.7 389.7m-3.55 0a3.55 3.55 0 1 0 7.10 0a3.55 3.55 0 1 0 -7.10 0M782.3 390.4m-3.55 0a3.55 3.55 0 1 0 7.10 0a3.55 3.55 0 1 0 -7.10 0M710.5 392.2m-3.55 0a3.55 3.55 0 1 0 7.10 0a3.55 3.55 0 1 0 -7.10 0M714.6 392.8m-3.55 0a3.55 3.55 0 1 0 7.10 0a3.55 3.55 0 1 0 -7.10 0M718.1 392.5m-3.55 0a3.55 3.55 0 1 0 7.10 0a3.55 3.55 0 1 0 -7.10 0M720.9 393.2m-3.55 0a3.55 3.55 0 1 0 7.10 0a3.55 3.55 0 1 0 -7.10 0M724.7 392.4m-3.55 0a3.55 3.55 0 1 0 7.10 0a3.55 3.55 0 1 0 -7.10 0M728.3 392.9m-3.55 0a3.55 3.55 0 1 0 7.10 0a3.55 3.55 0 1 0 -7.10 0M731.5 392.8m-3.55 0a3.55 3.55 0 1 0 7.10 0a3.55 3.55 0 1 0 -7.10 0M735.6 392.8m-3.55 0a3.55 3.55 0 1 0 7.10 0a3.55 3.55 0 1 0 -7.10 0M738.8 393.1m-3.55 0a3.55 3.55 0 1 0 7.10 0a3.55 3.55 0 1 0 -7.10 0M743.2 393.2m-3.55 0a3.55 3.55 0 1 0 7.10 0a3.55 3.55 0 1 0 -7.10 0M746.2 393.1m-3.55 0a3.55 3.55 0 1 0 7.10 0a3.55 3.55 0 1 0 -7.10 0M749.9 393.1m-3.55 0a3.55 3.55 0 1 0 7.10 0a3.55 3.55 0 1 0 -7.10 0M753.1 393.2m-3.55 0a3.55 3.55 0 1 0 7.10 0a3.55 3.55 0 1 0 -7.10 0M757.8 392.8m-3.55 0a3.55 3.55 0 1 0 7.10 0a3.55 3.55 0 1 0 -7.10 0M760.9 392.8m-3.55 0a3.55 3.55 0 1 0 7.10 0a3.55 3.55 0 1 0 -7.10 0M764.5 392.2m-3.55 0a3.55 3.55 0 1 0 7.10 0a3.55 3.55 0 1 0 -7.10 0M768.6 392.5m-3.55 0a3.55 3.55 0 1 0 7.10 0a3.55 3.55 0 1 0 -7.10 0M771.3 392.3m-3.55 0a3.55 3.55 0 1 0 7.10 0a3.55 3.55 0 1 0 -7.10 0M774.9 393.2m-3.55 0a3.55 3.55 0 1 0 7.10 0a3.55 3.55 0 1 0 -7.10 0M778.3 392.3m-3.55 0a3.55 3.55 0 1 0 7.10 0a3.55 3.55 0 1 0 -7.10 0M715.2 395.3m-3.55 0a3.55 3.55 0 1 0 7.10 0a3.55 3.55 0 1 0 -7.10 0M717.9 395.8m-3.55 0a3.55 3.55 0 1 0 7.10 0a3.55 3.55 0 1 0 -7.10 0M722.1 395.7m-3.55 0a3.55 3.55 0 1 0 7.10 0a3.55 3.55 0 1 0 -7.10 0M725.7 395.2m-3.55 0a3.55 3.55 0 1 0 7.10 0a3.55 3.55 0 1 0 -7.10 0M729.5 395.9m-3.55 0a3.55 3.55 0 1 0 7.10 0a3.55 3.55 0 1 0 -7.10 0M732.0 395.2m-3.55 0a3.55 3.55 0 1 0 7.10 0a3.55 3.55 0 1 0 -7.10 0M736.0 395.7m-3.55 0a3.55 3.55 0 1 0 7.10 0a3.55 3.55 0 1 0 -7.10 0M739.3 395.2m-3.55 0a3.55 3.55 0 1 0 7.10 0a3.55 3.55 0 1 0 -7.10 0M743.0 395.2m-3.55 0a3.55 3.55 0 1 0 7.10 0a3.55 3.55 0 1 0 -7.10 0M746.7 396.1m-3.55 0a3.55 3.55 0 1 0 7.10 0a3.55 3.55 0 1 0 -7.10 0M749.7 395.8m-3.55 0a3.55 3.55 0 1 0 7.10 0a3.55 3.55 0 1 0 -7.10 0M753.9 395.3m-3.55 0a3.55 3.55 0 1 0 7.10 0a3.55 3.55 0 1 0 -7.10 0M757.5 396.2m-3.55 0a3.55 3.55 0 1 0 7.10 0a3.55 3.55 0 1 0 -7.10 0M760.5 395.6m-3.55 0a3.55 3.55 0 1 0 7.10 0a3.55 3.55 0 1 0 -7.10 0M764.6 395.7m-3.55 0a3.55 3.55 0 1 0 7.10 0a3.55 3.55 0 1 0 -7.10 0M767.6 396.2m-3.55 0a3.55 3.55 0 1 0 7.10 0a3.55 3.55 0 1 0 -7.10 0M771.5 395.5m-3.55 0a3.55 3.55 0 1 0 7.10 0a3.55 3.55 0 1 0 -7.10 0M774.4 395.5m-3.55 0a3.55 3.55 0 1 0 7.10 0a3.55 3.55 0 1 0 -7.10 0M721.0 399.1m-3.55 0a3.55 3.55 0 1 0 7.10 0a3.55 3.55 0 1 0 -7.10 0M725.0 399.1m-3.55 0a3.55 3.55 0 1 0 7.10 0a3.55 3.55 0 1 0 -7.10 0M728.5 399.0m-3.55 0a3.55 3.55 0 1 0 7.10 0a3.55 3.55 0 1 0 -7.10 0M731.2 398.6m-3.55 0a3.55 3.55 0 1 0 7.10 0a3.55 3.55 0 1 0 -7.10 0M735.8 399.1m-3.55 0a3.55 3.55 0 1 0 7.10 0a3.55 3.55 0 1 0 -7.10 0M738.5 398.5m-3.55 0a3.55 3.55 0 1 0 7.10 0a3.55 3.55 0 1 0 -7.10 0M742.5 398.4m-3.55 0a3.55 3.55 0 1 0 7.10 0a3.55 3.55 0 1 0 -7.10 0M745.9 398.0m-3.55 0a3.55 3.55 0 1 0 7.10 0a3.55 3.55 0 1 0 -7.10 0M749.3 398.6m-3.55 0a3.55 3.55 0 1 0 7.10 0a3.55 3.55 0 1 0 -7.10 0M752.4 398.1m-3.55 0a3.55 3.55 0 1 0 7.10 0a3.55 3.55 0 1 0 -7.10 0M757.1 398.9m-3.55 0a3.55 3.55 0 1 0 7.10 0a3.55 3.55 0 1 0 -7.10 0M760.6 398.7m-3.55 0a3.55 3.55 0 1 0 7.10 0a3.55 3.55 0 1 0 -7.10 0M764.0 399.0m-3.55 0a3.55 3.55 0 1 0 7.10 0a3.55 3.55 0 1 0 -7.10 0M767.6 398.0m-3.55 0a3.55 3.55 0 1 0 7.10 0a3.55 3.55 0 1 0 -7.10 0M733.2 401.2m-3.55 0a3.55 3.55 0 1 0 7.10 0a3.55 3.55 0 1 0 -7.10 0M736.5 401.2m-3.55 0a3.55 3.55 0 1 0 7.10 0a3.55 3.55 0 1 0 -7.10 0M739.5 401.9m-3.55 0a3.55 3.55 0 1 0 7.10 0a3.55 3.55 0 1 0 -7.10 0M742.7 401.1m-3.55 0a3.55 3.55 0 1 0 7.10 0a3.55 3.55 0 1 0 -7.10 0M745.7 401.4m-3.55 0a3.55 3.55 0 1 0 7.10 0a3.55 3.55 0 1 0 -7.10 0M749.4 401.2m-3.55 0a3.55 3.55 0 1 0 7.10 0a3.55 3.55 0 1 0 -7.10 0M751.8 401.6m-3.55 0a3.55 3.55 0 1 0 7.10 0a3.55 3.55 0 1 0 -7.10 0M752.2 189.7m-3.55 0a3.55 3.55 0 1 0 7.10 0a3.55 3.55 0 1 0 -7.10 0M757.9 189.5m-3.55 0a3.55 3.55 0 1 0 7.10 0a3.55 3.55 0 1 0 -7.10 0M760.5 189.4m-3.55 0a3.55 3.55 0 1 0 7.10 0a3.55 3.55 0 1 0 -7.10 0M765.1 188.8m-3.55 0a3.55 3.55 0 1 0 7.10 0a3.55 3.55 0 1 0 -7.10 0M768.2 188.8m-3.55 0a3.55 3.55 0 1 0 7.10 0a3.55 3.55 0 1 0 -7.10 0M772.6 189.3m-3.55 0a3.55 3.55 0 1 0 7.10 0a3.55 3.55 0 1 0 -7.10 0M776.6 189.0m-3.55 0a3.55 3.55 0 1 0 7.10 0a3.55 3.55 0 1 0 -7.10 0M780.2 189.6m-3.55 0a3.55 3.55 0 1 0 7.10 0a3.55 3.55 0 1 0 -7.10 0M785.7 189.7m-3.55 0a3.55 3.55 0 1 0 7.10 0a3.55 3.55 0 1 0 -7.10 0M789.1 189.8m-3.55 0a3.55 3.55 0 1 0 7.10 0a3.55 3.55 0 1 0 -7.10 0M792.4 189.9m-3.55 0a3.55 3.55 0 1 0 7.10 0a3.55 3.55 0 1 0 -7.10 0M796.9 189.6m-3.55 0a3.55 3.55 0 1 0 7.10 0a3.55 3.55 0 1 0 -7.10 0M801.2 189.4m-3.55 0a3.55 3.55 0 1 0 7.10 0a3.55 3.55 0 1 0 -7.10 0M804.6 189.0m-3.55 0a3.55 3.55 0 1 0 7.10 0a3.55 3.55 0 1 0 -7.10 0M757.3 193.5m-3.55 0a3.55 3.55 0 1 0 7.10 0a3.55 3.55 0 1 0 -7.10 0M763.7 193.7m-3.55 0a3.55 3.55 0 1 0 7.10 0a3.55 3.55 0 1 0 -7.10 0M768.8 193.1m-3.55 0a3.55 3.55 0 1 0 7.10 0a3.55 3.55 0 1 0 -7.10 0M776.9 192.9m-3.55 0a3.55 3.55 0 1 0 7.10 0a3.55 3.55 0 1 0 -7.10 0M782.1 193.5m-3.55 0a3.55 3.55 0 1 0 7.10 0a3.55 3.55 0 1 0 -7.10 0M787.5 194.7m-3.55 0a3.55 3.55 0 1 0 7.10 0a3.55 3.55 0 1 0 -7.10 0M793.5 194.2m-3.55 0a3.55 3.55 0 1 0 7.10 0a3.55 3.55 0 1 0 -7.10 0M799.2 192.5m-3.55 0a3.55 3.55 0 1 0 7.10 0a3.55 3.55 0 1 0 -7.10 0M776.9 198.9m-3.55 0a3.55 3.55 0 1 0 7.10 0a3.55 3.55 0 1 0 -7.10 0M780.4 198.7m-3.55 0a3.55 3.55 0 1 0 7.10 0a3.55 3.55 0 1 0 -7.10 0M786.9 199.6m-3.55 0a3.55 3.55 0 1 0 7.10 0a3.55 3.55 0 1 0 -7.10 0M791.6 198.3m-3.55 0a3.55 3.55 0 1 0 7.10 0a3.55 3.55 0 1 0 -7.10 0M751.2 231.1m-3.55 0a3.55 3.55 0 1 0 7.10 0a3.55 3.55 0 1 0 -7.10 0M753.3 230.1m-3.55 0a3.55 3.55 0 1 0 7.10 0a3.55 3.55 0 1 0 -7.10 0M758.0 231.0m-3.55 0a3.55 3.55 0 1 0 7.10 0a3.55 3.55 0 1 0 -7.10 0M762.9 231.4m-3.55 0a3.55 3.55 0 1 0 7.10 0a3.55 3.55 0 1 0 -7.10 0M767.6 230.5m-3.55 0a3.55 3.55 0 1 0 7.10 0a3.55 3.55 0 1 0 -7.10 0M771.6 231.1m-3.55 0a3.55 3.55 0 1 0 7.10 0a3.55 3.55 0 1 0 -7.10 0M775.9 230.4m-3.55 0a3.55 3.55 0 1 0 7.10 0a3.55 3.55 0 1 0 -7.10 0M780.1 231.0m-3.55 0a3.55 3.55 0 1 0 7.10 0a3.55 3.55 0 1 0 -7.10 0M784.7 229.5m-3.55 0a3.55 3.55 0 1 0 7.10 0a3.55 3.55 0 1 0 -7.10 0M788.8 229.2m-3.55 0a3.55 3.55 0 1 0 7.10 0a3.55 3.55 0 1 0 -7.10 0M792.7 230.7m-3.55 0a3.55 3.55 0 1 0 7.10 0a3.55 3.55 0 1 0 -7.10 0M796.2 231.7m-3.55 0a3.55 3.55 0 1 0 7.10 0a3.55 3.55 0 1 0 -7.10 0M800.6 230.3m-3.55 0a3.55 3.55 0 1 0 7.10 0a3.55 3.55 0 1 0 -7.10 0M805.3 231.5m-3.55 0a3.55 3.55 0 1 0 7.10 0a3.55 3.55 0 1 0 -7.10 0M809.1 230.2m-3.55 0a3.55 3.55 0 1 0 7.10 0a3.55 3.55 0 1 0 -7.10 0M812.9 230.4m-3.55 0a3.55 3.55 0 1 0 7.10 0a3.55 3.55 0 1 0 -7.10 0M757.0 239.1m-3.55 0a3.55 3.55 0 1 0 7.10 0a3.55 3.55 0 1 0 -7.10 0M760.0 240.2m-3.55 0a3.55 3.55 0 1 0 7.10 0a3.55 3.55 0 1 0 -7.10 0M764.5 239.2m-3.55 0a3.55 3.55 0 1 0 7.10 0a3.55 3.55 0 1 0 -7.10 0M770.8 241.5m-3.55 0a3.55 3.55 0 1 0 7.10 0a3.55 3.55 0 1 0 -7.10 0M774.0 239.8m-3.55 0a3.55 3.55 0 1 0 7.10 0a3.55 3.55 0 1 0 -7.10 0M777.1 239.1m-3.55 0a3.55 3.55 0 1 0 7.10 0a3.55 3.55 0 1 0 -7.10 0M781.4 240.3m-3.55 0a3.55 3.55 0 1 0 7.10 0a3.55 3.55 0 1 0 -7.10 0M787.9 238.2m-3.55 0a3.55 3.55 0 1 0 7.10 0a3.55 3.55 0 1 0 -7.10 0M793.8 239.2m-3.55 0a3.55 3.55 0 1 0 7.10 0a3.55 3.55 0 1 0 -7.10 0M798.0 241.5m-3.55 0a3.55 3.55 0 1 0 7.10 0a3.55 3.55 0 1 0 -7.10 0M803.0 238.7m-3.55 0a3.55 3.55 0 1 0 7.10 0a3.55 3.55 0 1 0 -7.10 0M751.6 254.1m-3.55 0a3.55 3.55 0 1 0 7.10 0a3.55 3.55 0 1 0 -7.10 0M756.6 249.7m-3.55 0a3.55 3.55 0 1 0 7.10 0a3.55 3.55 0 1 0 -7.10 0M766.3 252.0m-3.55 0a3.55 3.55 0 1 0 7.10 0a3.55 3.55 0 1 0 -7.10 0M775.1 253.4m-3.55 0a3.55 3.55 0 1 0 7.10 0a3.55 3.55 0 1 0 -7.10 0M780.2 254.5m-3.55 0a3.55 3.55 0 1 0 7.10 0a3.55 3.55 0 1 0 -7.10 0M787.1 252.1m-3.55 0a3.55 3.55 0 1 0 7.10 0a3.55 3.55 0 1 0 -7.10 0M794.9 251.4m-3.55 0a3.55 3.55 0 1 0 7.10 0a3.55 3.55 0 1 0 -7.10 0M754.7 215.7m-3.55 0a3.55 3.55 0 1 0 7.10 0a3.55 3.55 0 1 0 -7.10 0M768.0 212.4m-3.55 0a3.55 3.55 0 1 0 7.10 0a3.55 3.55 0 1 0 -7.10 0M784.5 213.2m-3.55 0a3.55 3.55 0 1 0 7.10 0a3.55 3.55 0 1 0 -7.10 0M809.4 213.2m-3.55 0a3.55 3.55 0 1 0 7.10 0a3.55 3.55 0 1 0 -7.10 0M821.0 215.7m-3.55 0a3.55 3.55 0 1 0 7.10 0a3.55 3.55 0 1 0 -7.10 0M802.8 219.0m-3.55 0a3.55 3.55 0 1 0 7.10 0a3.55 3.55 0 1 0 -7.10 0M809.4 221.5m-3.55 0a3.55 3.55 0 1 0 7.10 0a3.55 3.55 0 1 0 -7.10 0M819.4 221.5m-3.55 0a3.55 3.55 0 1 0 7.10 0a3.55 3.55 0 1 0 -7.10 0M758.0 221.5m-3.55 0a3.55 3.55 0 1 0 7.10 0a3.55 3.55 0 1 0 -7.10 0M773.0 219.8m-3.55 0a3.55 3.55 0 1 0 7.10 0a3.55 3.55 0 1 0 -7.10 0M786.0 201.6m-3.55 0a3.55 3.55 0 1 0 7.10 0a3.55 3.55 0 1 0 -7.10 0M779.5 205.7m-3.55 0a3.55 3.55 0 1 0 7.10 0a3.55 3.55 0 1 0 -7.10 0M626.2 192.7m-3.55 0a3.55 3.55 0 1 0 7.10 0a3.55 3.55 0 1 0 -7.10 0M709.0 199.8m-3.55 0a3.55 3.55 0 1 0 7.10 0a3.55 3.55 0 1 0 -7.10 0M733.2 196.4m-3.55 0a3.55 3.55 0 1 0 7.10 0a3.55 3.55 0 1 0 -7.10 0M727.8 205.4m-3.55 0a3.55 3.55 0 1 0 7.10 0a3.55 3.55 0 1 0 -7.10 0M679.5 231.2m-3.55 0a3.55 3.55 0 1 0 7.10 0a3.55 3.55 0 1 0 -7.10 0M692.2 231.4m-3.55 0a3.55 3.55 0 1 0 7.10 0a3.55 3.55 0 1 0 -7.10 0M709.6 230.7m-3.55 0a3.55 3.55 0 1 0 7.10 0a3.55 3.55 0 1 0 -7.10 0M720.5 222.0m-3.55 0a3.55 3.55 0 1 0 7.10 0a3.55 3.55 0 1 0 -7.10 0M724.0 221.0m-3.55 0a3.55 3.55 0 1 0 7.10 0a3.55 3.55 0 1 0 -7.10 0M727.3 225.3m-3.55 0a3.55 3.55 0 1 0 7.10 0a3.55 3.55 0 1 0 -7.10 0M720.9 229.6m-3.55 0a3.55 3.55 0 1 0 7.10 0a3.55 3.55 0 1 0 -7.10 0M748.0 231.6m-3.55 0a3.55 3.55 0 1 0 7.10 0a3.55 3.55 0 1 0 -7.10 0M685.4 254.5m-3.55 0a3.55 3.55 0 1 0 7.10 0a3.55 3.55 0 1 0 -7.10 0M699.2 256.4m-3.55 0a3.55 3.55 0 1 0 7.10 0a3.55 3.55 0 1 0 -7.10 0M706.5 253.6m-3.55 0a3.55 3.55 0 1 0 7.10 0a3.55 3.55 0 1 0 -7.10 0M730.7 252.7m-3.55 0a3.55 3.55 0 1 0 7.10 0a3.55 3.55 0 1 0 -7.10 0M733.4 260.9m-3.55 0a3.55 3.55 0 1 0 7.10 0a3.55 3.55 0 1 0 -7.10 0M714.8 265.8m-3.55 0a3.55 3.55 0 1 0 7.10 0a3.55 3.55 0 1 0 -7.10 0M678.0 273.1m-3.55 0a3.55 3.55 0 1 0 7.10 0a3.55 3.55 0 1 0 -7.10 0M690.4 278.6m-3.55 0a3.55 3.55 0 1 0 7.10 0a3.55 3.55 0 1 0 -7.10 0M696.4 285.3m-3.55 0a3.55 3.55 0 1 0 7.10 0a3.55 3.55 0 1 0 -7.10 0M677.2 299.2m-3.55 0a3.55 3.55 0 1 0 7.10 0a3.55 3.55 0 1 0 -7.10 0M690.4 297.0m-3.55 0a3.55 3.55 0 1 0 7.10 0a3.55 3.55 0 1 0 -7.10 0M658.1 316.2m-3.55 0a3.55 3.55 0 1 0 7.10 0a3.55 3.55 0 1 0 -7.10 0M685.4 312.9m-3.55 0a3.55 3.55 0 1 0 7.10 0a3.55 3.55 0 1 0 -7.10 0M693.1 320.7m-3.55 0a3.55 3.55 0 1 0 7.10 0a3.55 3.55 0 1 0 -7.10 0M699.7 319.6m-3.55 0a3.55 3.55 0 1 0 7.10 0a3.55 3.55 0 1 0 -7.10 0M675.4 322.9m-3.55 0a3.55 3.55 0 1 0 7.10 0a3.55 3.55 0 1 0 -7.10 0M678.7 324.0m-3.55 0a3.55 3.55 0 1 0 7.10 0a3.55 3.55 0 1 0 -7.10 0M673.2 326.2m-3.55 0a3.55 3.55 0 1 0 7.10 0a3.55 3.55 0 1 0 -7.10 0M665.4 334.6m-3.55 0a3.55 3.55 0 1 0 7.10 0a3.55 3.55 0 1 0 -7.10 0M686.5 346.5m-3.55 0a3.55 3.55 0 1 0 7.10 0a3.55 3.55 0 1 0 -7.10 0M693.1 341.2m-3.55 0a3.55 3.55 0 1 0 7.10 0a3.55 3.55 0 1 0 -7.10 0M661.0 357.2m-3.55 0a3.55 3.55 0 1 0 7.10 0a3.55 3.55 0 1 0 -7.10 0M675.8 358.3m-3.55 0a3.55 3.55 0 1 0 7.10 0a3.55 3.55 0 1 0 -7.10 0M682.0 363.4m-3.55 0a3.55 3.55 0 1 0 7.10 0a3.55 3.55 0 1 0 -7.10 0M640.5 360.7m-3.55 0a3.55 3.55 0 1 0 7.10 0a3.55 3.55 0 1 0 -7.10 0M810.4 244.3m-3.55 0a3.55 3.55 0 1 0 7.10 0a3.55 3.55 0 1 0 -7.10 0M814.8 253.2m-3.55 0a3.55 3.55 0 1 0 7.10 0a3.55 3.55 0 1 0 -7.10 0M808.1 319.6m-3.55 0a3.55 3.55 0 1 0 7.10 0a3.55 3.55 0 1 0 -7.10 0M797.5 330.0m-3.55 0a3.55 3.55 0 1 0 7.10 0a3.55 3.55 0 1 0 -7.10 0M802.6 326.2m-3.55 0a3.55 3.55 0 1 0 7.10 0a3.55 3.55 0 1 0 -7.10 0M801.5 346.5m-3.55 0a3.55 3.55 0 1 0 7.10 0a3.55 3.55 0 1 0 -7.10 0M808.1 347.7m-3.55 0a3.55 3.55 0 1 0 7.10 0a3.55 3.55 0 1 0 -7.10 0M817.4 359.8m-3.55 0a3.55 3.55 0 1 0 7.10 0a3.55 3.55 0 1 0 -7.10 0M804.8 373.8m-3.55 0a3.55 3.55 0 1 0 7.10 0a3.55 3.55 0 1 0 -7.10 0M793.8 273.1m-3.55 0a3.55 3.55 0 1 0 7.10 0a3.55 3.55 0 1 0 -7.10 0M796.0 278.6m-3.55 0a3.55 3.55 0 1 0 7.10 0a3.55 3.55 0 1 0 -7.10 0M803.7 286.4m-3.55 0a3.55 3.55 0 1 0 7.10 0a3.55 3.55 0 1 0 -7.10 0M807.0 290.8m-3.55 0a3.55 3.55 0 1 0 7.10 0a3.55 3.55 0 1 0 -7.10 0M804.0 296.3m-3.55 0a3.55 3.55 0 1 0 7.10 0a3.55 3.55 0 1 0 -7.10 0M873.8 230.7m-3.55 0a3.55 3.55 0 1 0 7.10 0a3.55 3.55 0 1 0 -7.10 0M880.3 267.0m-3.55 0a3.55 3.55 0 1 0 7.10 0a3.55 3.55 0 1 0 -7.10 0M812.8 186.7m-3.55 0a3.55 3.55 0 1 0 7.10 0a3.55 3.55 0 1 0 -7.10 0M832.3 187.0m-3.55 0a3.55 3.55 0 1 0 7.10 0a3.55 3.55 0 1 0 -7.10 0M843.4 188.5m-3.55 0a3.55 3.55 0 1 0 7.10 0a3.55 3.55 0 1 0 -7.10 0M830.0 192.2m-3.55 0a3.55 3.55 0 1 0 7.10 0a3.55 3.55 0 1 0 -7.10 0M843.6 193.2m-3.55 0a3.55 3.55 0 1 0 7.10 0a3.55 3.55 0 1 0 -7.10 0M823.0 199.2m-3.55 0a3.55 3.55 0 1 0 7.10 0a3.55 3.55 0 1 0 -7.10 0M778.8 206.0m-3.55 0a3.55 3.55 0 1 0 7.10 0a3.55 3.55 0 1 0 -7.10 0M822.0 215.3m-3.55 0a3.55 3.55 0 1 0 7.10 0a3.55 3.55 0 1 0 -7.10 0M821.2 220.8m-3.55 0a3.55 3.55 0 1 0 7.10 0a3.55 3.55 0 1 0 -7.10 0M808.2 213.7m-3.55 0a3.55 3.55 0 1 0 7.10 0a3.55 3.55 0 1 0 -7.10 0M803.6 218.4m-3.55 0a3.55 3.55 0 1 0 7.10 0a3.55 3.55 0 1 0 -7.10 0M809.0 213.8m-3.55 0a3.55 3.55 0 1 0 7.10 0a3.55 3.55 0 1 0 -7.10 0M822.2 216.7m-3.55 0a3.55 3.55 0 1 0 7.10 0a3.55 3.55 0 1 0 -7.10 0M819.4 221.0m-3.55 0a3.55 3.55 0 1 0 7.10 0a3.55 3.55 0 1 0 -7.10 0M802.8 219.6m-3.55 0a3.55 3.55 0 1 0 7.10 0a3.55 3.55 0 1 0 -7.10 0M799.5 109.0m-3.55 0a3.55 3.55 0 1 0 7.10 0a3.55 3.55 0 1 0 -7.10 0M776.0 146.2m-3.55 0a3.55 3.55 0 1 0 7.10 0a3.55 3.55 0 1 0 -7.10 0M786.7 146.2m-3.55 0a3.55 3.55 0 1 0 7.10 0a3.55 3.55 0 1 0 -7.10 0M792.7 146.2m-3.55 0a3.55 3.55 0 1 0 7.10 0a3.55 3.55 0 1 0 -7.10 0M812.7 146.2m-3.55 0a3.55 3.55 0 1 0 7.10 0a3.55 3.55 0 1 0 -7.10 0M779.0 160.3m-3.55 0a3.55 3.55 0 1 0 7.10 0a3.55 3.55 0 1 0 -7.10 0M790.0 340.0m-3.55 0a3.55 3.55 0 1 0 7.10 0a3.55 3.55 0 1 0 -7.10 0M795.0 352.0m-3.55 0a3.55 3.55 0 1 0 7.10 0a3.55 3.55 0 1 0 -7.10 0M788.0 365.0m-3.55 0a3.55 3.55 0 1 0 7.10 0a3.55 3.55 0 1 0 -7.10 0M698.0 330.0m-3.55 0a3.55 3.55 0 1 0 7.10 0a3.55 3.55 0 1 0 -7.10 0M693.0 350.0m-3.55 0a3.55 3.55 0 1 0 7.10 0a3.55 3.55 0 1 0 -7.10 0M800.0 380.0m-3.55 0a3.55 3.55 0 1 0 7.10 0a3.55 3.55 0 1 0 -7.10 0"/><path d="M717.3 94.5V416.1M765.5 94.5V416.1M581.9 247.4H900.6" stroke="#333" stroke-width="1.3" stroke-dasharray="4 3.2" fill="none"/><path d="M808.0 104.5L799.5 109.0M780.3 115.3L786.7 146.2M767.7 134.3L776.0 146.2M798.7 138.3L792.7 146.2M823.7 122.7L812.7 146.2M830.5 140.8L812.7 146.2M767.7 156.3L779.0 160.3M803.6 163.4L797.7 187.0M826.0 161.0L801.0 187.0M868.0 159.8L806.0 188.0M719.6 174.0L787.0 188.0M775.0 175.2L791.8 187.0M842.7 178.8L812.8 186.7M732.6 192.5L784.7 188.0M871.0 195.4L836.8 187.5M775.2 197.7L787.0 190.0M800.0 199.0L797.7 189.0M834.4 199.4L833.2 192.0M777.6 215.5L789.4 188.0M847.4 219.0L802.5 187.0" stroke="#c8c8c8" stroke-width="1.6" fill="none"/><g font-size="8.8" fill="#111" stroke="#111" stroke-width="0.18"><text x="809.0" y="106.8">TAP1</text><text x="741.0" y="118.4">SLFN12L</text><text x="730.0" y="136.9">ANXA2R</text><text x="789.3" y="136.6">GBP2</text><text x="825.0" y="125.5">FGL2</text><text x="832.0" y="143.5">HLA.B</text><text x="717.0" y="159.4">PSMB8.AS1</text><text x="786.0" y="162.1">MAP4K1</text><text x="825.7" y="162.1">PSMB9</text><text x="868.0" y="162.1">HLA.C</text><text x="700.0" y="177.1">IRF1</text><text x="731.0" y="177.1">RASGRP1</text><text x="844.0" y="180.7">THEMIS</text><text x="706.6" y="196.1">HLA.F</text><text x="872.0" y="198.9">CD96</text><text x="744.0" y="204.4">PSMB8</text><text x="799.0" y="204.4">IKZF3</text><text x="835.6" y="204.4">GBP5</text><text x="757.5" y="223.3">UBASH3A</text><text x="850.0" y="223.3">STAT1</text></g><text x="591.7" y="111.9" font-size="9.9" fill="#3b4ea0" stroke="#3b4ea0" stroke-width="0.16">PR (n = 17)</text><text x="591.7" y="126.4" font-size="9.9" fill="#e52421" stroke="#e52421" stroke-width="0.16">PD (n = 11)</text><rect x="581.9" y="94.5" width="318.7" height="321.6" fill="none" stroke="#333" stroke-width="1.1"/><path d="M578.9 402.1H581.9M578.9 305.8H581.9M578.9 209.4H581.9M578.9 113.1H581.9M596.6 416.1V419.1M669.0 416.1V419.1M741.4 416.1V419.1M813.8 416.1V419.1M886.2 416.1V419.1" stroke="#333" stroke-width="1.1"/><text x="576.3" y="405.7" text-anchor="end" font-size="10" fill="#4d4d4d" stroke="#4d4d4d" stroke-width="0.16">0.0</text><text x="576.3" y="309.4" text-anchor="end" font-size="10" fill="#4d4d4d" stroke="#4d4d4d" stroke-width="0.16">0.5</text><text x="576.3" y="213.0" text-anchor="end" font-size="10" fill="#4d4d4d" stroke="#4d4d4d" stroke-width="0.16">1.0</text><text x="576.3" y="116.7" text-anchor="end" font-size="10" fill="#4d4d4d" stroke="#4d4d4d" stroke-width="0.16">1.5</text><text x="596.6" y="433.9" text-anchor="middle" font-size="10" fill="#4d4d4d" stroke="#4d4d4d" stroke-width="0.16">−6</text><text x="669.0" y="433.9" text-anchor="middle" font-size="10" fill="#4d4d4d" stroke="#4d4d4d" stroke-width="0.16">−3</text><text x="741.4" y="433.9" text-anchor="middle" font-size="10" fill="#4d4d4d" stroke="#4d4d4d" stroke-width="0.16">0</text><text x="813.8" y="433.9" text-anchor="middle" font-size="10" fill="#4d4d4d" stroke="#4d4d4d" stroke-width="0.16">3</text><text x="886.2" y="433.9" text-anchor="middle" font-size="10" fill="#4d4d4d" stroke="#4d4d4d" stroke-width="0.16">6</text><text x="741.4" y="446.3" text-anchor="middle" font-size="9.85" fill="#111" stroke="#111" stroke-width="0.16">Log2 Fold Change</text><text transform="translate(558.7 255.4) rotate(-90)" text-anchor="middle" font-size="10" fill="#111" stroke="#111" stroke-width="0.16">−log10 (FDR)</text></svg></body></html>
